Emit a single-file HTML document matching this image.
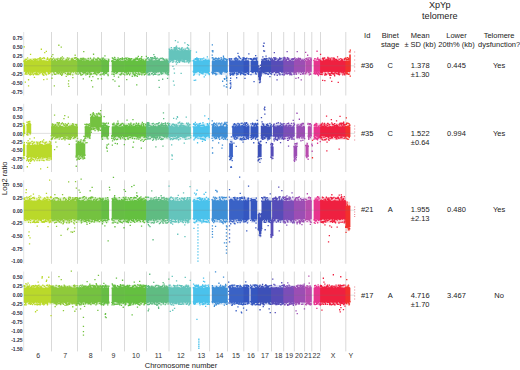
<!DOCTYPE html><html><head><meta charset="utf-8"><style>
html,body{margin:0;padding:0;background:#fff;}body{width:520px;height:370px;position:relative;overflow:hidden;font-family:"Liberation Sans",sans-serif;}
svg{position:absolute;left:0;top:0;}text{font-family:"Liberation Sans",sans-serif;}
</style></head><body>
<svg width="520" height="370" viewBox="0 0 520 370">
<path d="M51.5 32V95.5M77.5 32V95.5M101.5 32V95.5M124.5 32V95.5M146.5 32V95.5M169 32V95.5M190.8 32V95.5M209.6 32V95.5M227.5 32V95.5M243.8 32V95.5M258 32V95.5M271.5 32V95.5M283.7 32V95.5M294.3 32V95.5M304.6 32V95.5M311.8 32V95.5M320.5 32V95.5M345.8 32V95.5" stroke="#d9d9d9" stroke-width="1" fill="none"/>
<path d="M23.7 32V95.5" stroke="#e4e4e4" stroke-width="1" fill="none"/>
<path d="M24.2 58H51.5V74.8H24.2z" fill="#bad92a" fill-opacity="0.22"/>
<path d="M51.5 58H77.5V74.8H51.5z" fill="#8fca3a" fill-opacity="0.22"/>
<path d="M77.5 58H101.5V74.8H77.5z" fill="#74c240" fill-opacity="0.22"/>
<path d="M101.5 58H108.8V74.8H101.5zM112 58H124.5V74.8H112z" fill="#66be44" fill-opacity="0.22"/>
<path d="M124.5 58H146.5V74.8H124.5z" fill="#64c040" fill-opacity="0.22"/>
<path d="M146.5 58H169V74.8H146.5z" fill="#5fbc82" fill-opacity="0.22"/>
<path d="M169 47.6H190.6V62.4H169z" fill="#64c4bc" fill-opacity="0.22"/>
<path d="M193.4 58H209.4V74.8H193.4z" fill="#4ac2ec" fill-opacity="0.22"/>
<path d="M212.2 58H227.3V74.8H212.2z" fill="#3e8ed6" fill-opacity="0.22"/>
<path d="M229.4 58H243.8V74.8H229.4z" fill="#3a62c6" fill-opacity="0.22"/>
<path d="M243.8 58H249.2V74.8H243.8zM250.8 58H257.9V74.8H250.8z" fill="#3456c0" fill-opacity="0.22"/>
<path d="M258.5 65.4H259.4V79.6H258.5zM259.4 68.4H260.6V82.6H259.4zM260.6 65.3H261.4V78.7H260.6zM261.4 58H271.5V74.8H261.4z" fill="#3c50b8" fill-opacity="0.22"/>
<path d="M271.5 58H283.7V74.8H271.5z" fill="#564cb8" fill-opacity="0.22"/>
<path d="M283.7 58H294.3V74.8H283.7z" fill="#7c4eb8" fill-opacity="0.22"/>
<path d="M294.3 58H304.6V74.8H294.3z" fill="#9c4eb4" fill-opacity="0.22"/>
<path d="M305.6 58H311.4V74.8H305.6z" fill="#b84cae" fill-opacity="0.22"/>
<path d="M314 58H320.5V74.8H314z" fill="#e8348e" fill-opacity="0.22"/>
<path d="M320.5 58H345.8V74.8H320.5z" fill="#ef2040" fill-opacity="0.22"/>
<path d="M345.8 58H349.6V74.8H345.8zM349.6 50H350.4V76H349.6z" fill="#f2302c" fill-opacity="0.22"/>
<path d="M23.8 60.9H51.9V71.9H23.8z" fill="#bad92a"/>
<path d="M23.5 60.2h1.3v1.3h-1.3zM23.5 60.8h1.3v1.3h-1.3zM23.3 60.8h1.3v1.3h-1.3zM23.9 59.9h1.3v1.3h-1.3zM24.3 59.4h1.3v1.3h-1.3zM24.2 60.7h1.3v1.3h-1.3zM24.7 59.3h1.3v1.3h-1.3zM24.4 60h1.3v1.3h-1.3zM24.6 73.5h1.3v1.3h-1.3zM25.2 72h1.3v1.3h-1.3zM25.2 58.8h1.3v1.3h-1.3zM25 72.5h1.3v1.3h-1.3zM25.8 58.7h1.3v1.3h-1.3zM25.9 71.9h1.3v1.3h-1.3zM25.7 71.7h1.3v1.3h-1.3zM26.4 60.5h1.3v1.3h-1.3zM26.3 71h1.3v1.3h-1.3zM26.2 73.6h1.3v1.3h-1.3zM26.9 57.3h1.3v1.3h-1.3zM26.6 70.9h1.3v1.3h-1.3zM27.1 59.7h1.3v1.3h-1.3zM27.3 70.7h1.3v1.3h-1.3zM27.4 71.3h1.3v1.3h-1.3zM27.7 59.8h1.3v1.3h-1.3zM27.7 59.7h1.3v1.3h-1.3zM27.8 72.7h1.3v1.3h-1.3zM27.7 71.5h1.3v1.3h-1.3zM28.6 59.8h1.3v1.3h-1.3zM28.7 59.7h1.3v1.3h-1.3zM28.4 60.7h1.3v1.3h-1.3zM28.8 73.9h1.3v1.3h-1.3zM29.3 71.7h1.3v1.3h-1.3zM29.2 73.3h1.3v1.3h-1.3zM29.9 74.3h1.3v1.3h-1.3zM29.4 60.7h1.3v1.3h-1.3zM29.6 59h1.3v1.3h-1.3zM30 72.2h1.3v1.3h-1.3zM30.2 70.8h1.3v1.3h-1.3zM30.3 60.3h1.3v1.3h-1.3zM30.7 59.6h1.3v1.3h-1.3zM30.6 73.6h1.3v1.3h-1.3zM30.8 71.5h1.3v1.3h-1.3zM31.5 60.8h1.3v1.3h-1.3zM31.2 59.9h1.3v1.3h-1.3zM31.3 60.8h1.3v1.3h-1.3zM31.9 72h1.3v1.3h-1.3zM31.9 60.8h1.3v1.3h-1.3zM32.1 70.8h1.3v1.3h-1.3zM32.1 72.3h1.3v1.3h-1.3zM32.3 73.5h1.3v1.3h-1.3zM32.1 60.3h1.3v1.3h-1.3zM32.9 71.3h1.3v1.3h-1.3zM32.7 58.8h1.3v1.3h-1.3zM32.7 74.1h1.3v1.3h-1.3zM33.6 59.5h1.3v1.3h-1.3zM33.6 60.3h1.3v1.3h-1.3zM33.7 71.1h1.3v1.3h-1.3zM34 60.1h1.3v1.3h-1.3zM34.1 73.1h1.3v1.3h-1.3zM34.2 59.2h1.3v1.3h-1.3zM34.4 58.2h1.3v1.3h-1.3zM34.8 59.7h1.3v1.3h-1.3zM34.4 73.2h1.3v1.3h-1.3zM35.1 72.7h1.3v1.3h-1.3zM35.4 74h1.3v1.3h-1.3zM34.9 60.1h1.3v1.3h-1.3zM35.5 71.8h1.3v1.3h-1.3zM35.6 59.1h1.3v1.3h-1.3zM35.9 59h1.3v1.3h-1.3zM36.4 70.8h1.3v1.3h-1.3zM36.4 73h1.3v1.3h-1.3zM36 71.6h1.3v1.3h-1.3zM36.7 74h1.3v1.3h-1.3zM36.9 58.5h1.3v1.3h-1.3zM36.5 60.6h1.3v1.3h-1.3zM37.5 72.2h1.3v1.3h-1.3zM37.4 70.8h1.3v1.3h-1.3zM37 60.2h1.3v1.3h-1.3zM37.9 58.3h1.3v1.3h-1.3zM38.1 74h1.3v1.3h-1.3zM37.6 60.6h1.3v1.3h-1.3zM38.6 60.5h1.3v1.3h-1.3zM38.6 71.3h1.3v1.3h-1.3zM38.6 70.7h1.3v1.3h-1.3zM39.1 72.6h1.3v1.3h-1.3zM39 57.8h1.3v1.3h-1.3zM39.2 59.5h1.3v1.3h-1.3zM39.7 58.4h1.3v1.3h-1.3zM39.5 60.7h1.3v1.3h-1.3zM39.4 58.6h1.3v1.3h-1.3zM40.2 71.9h1.3v1.3h-1.3zM39.9 60.7h1.3v1.3h-1.3zM40.1 60.4h1.3v1.3h-1.3zM40.6 59.4h1.3v1.3h-1.3zM40.7 59.2h1.3v1.3h-1.3zM40.6 71.7h1.3v1.3h-1.3zM41.4 71h1.3v1.3h-1.3zM41.4 57.8h1.3v1.3h-1.3zM41.1 60.7h1.3v1.3h-1.3zM41.7 60.3h1.3v1.3h-1.3zM41.9 71h1.3v1.3h-1.3zM42 57.7h1.3v1.3h-1.3zM42 72.5h1.3v1.3h-1.3zM42.1 73.7h1.3v1.3h-1.3zM42.5 74.1h1.3v1.3h-1.3zM42.6 60.6h1.3v1.3h-1.3zM42.7 71.6h1.3v1.3h-1.3zM42.6 70.9h1.3v1.3h-1.3zM43.4 71.4h1.3v1.3h-1.3zM43.3 59.9h1.3v1.3h-1.3zM43.4 71.9h1.3v1.3h-1.3zM44.2 60.8h1.3v1.3h-1.3zM43.8 70.8h1.3v1.3h-1.3zM43.8 57.7h1.3v1.3h-1.3zM44.7 70.8h1.3v1.3h-1.3zM44.4 72.6h1.3v1.3h-1.3zM44.6 72h1.3v1.3h-1.3zM45.2 60.8h1.3v1.3h-1.3zM44.9 60.6h1.3v1.3h-1.3zM45.2 60.8h1.3v1.3h-1.3zM45.3 60.8h1.3v1.3h-1.3zM45.3 73.6h1.3v1.3h-1.3zM45.8 74.3h1.3v1.3h-1.3zM45.8 60.4h1.3v1.3h-1.3zM46.4 58.7h1.3v1.3h-1.3zM45.9 60.4h1.3v1.3h-1.3zM46.7 71.2h1.3v1.3h-1.3zM46.7 70.9h1.3v1.3h-1.3zM46.8 70.9h1.3v1.3h-1.3zM46.9 57.2h1.3v1.3h-1.3zM47.2 58.6h1.3v1.3h-1.3zM47 71h1.3v1.3h-1.3zM47.8 73.3h1.3v1.3h-1.3zM48 72.1h1.3v1.3h-1.3zM48 60.3h1.3v1.3h-1.3zM48.2 60.2h1.3v1.3h-1.3zM48.5 60.2h1.3v1.3h-1.3zM48.3 70.7h1.3v1.3h-1.3zM49.1 70.7h1.3v1.3h-1.3zM48.9 72.6h1.3v1.3h-1.3zM48.8 58.8h1.3v1.3h-1.3zM49.1 70.8h1.3v1.3h-1.3zM49.7 71.4h1.3v1.3h-1.3zM49.1 59.4h1.3v1.3h-1.3zM49.9 57.8h1.3v1.3h-1.3zM49.7 70.7h1.3v1.3h-1.3zM49.8 60.4h1.3v1.3h-1.3zM50.4 58.4h1.3v1.3h-1.3zM50.6 70.7h1.3v1.3h-1.3zM50.4 71.5h1.3v1.3h-1.3zM29.9 53.8h1.3v1.3h-1.3zM43.1 78.9h1.3v1.3h-1.3zM43.2 74.6h1.3v1.3h-1.3zM43.3 57h1.3v1.3h-1.3zM46.4 78.5h1.3v1.3h-1.3zM45.7 50.8h1.3v1.3h-1.3zM44.1 51.9h1.3v1.3h-1.3zM39.5 57h1.3v1.3h-1.3zM24.7 81.4h1.3v1.3h-1.3zM33.8 76.8h1.3v1.3h-1.3zM40.7 48.6h1.3v1.3h-1.3zM23.6 46.2h1.3v1.3h-1.3z" fill="#bad92a"/>
<path d="M51.1 60.9H77.8V71.9H51.1z" fill="#8fca3a"/>
<path d="M50.9 59.6h1.3v1.3h-1.3zM50.7 70.7h1.3v1.3h-1.3zM50.7 70.7h1.3v1.3h-1.3zM51.5 58.5h1.3v1.3h-1.3zM51.6 74.2h1.3v1.3h-1.3zM51.6 70.7h1.3v1.3h-1.3zM51.7 59.1h1.3v1.3h-1.3zM52 70.8h1.3v1.3h-1.3zM51.7 58.8h1.3v1.3h-1.3zM52.8 70.7h1.3v1.3h-1.3zM52.6 60.8h1.3v1.3h-1.3zM52.5 71.2h1.3v1.3h-1.3zM53.3 59.8h1.3v1.3h-1.3zM53.3 72.1h1.3v1.3h-1.3zM52.9 57.5h1.3v1.3h-1.3zM53.9 70.7h1.3v1.3h-1.3zM53.3 60h1.3v1.3h-1.3zM53.9 70.7h1.3v1.3h-1.3zM54.4 70.8h1.3v1.3h-1.3zM54.1 58.7h1.3v1.3h-1.3zM53.9 73.6h1.3v1.3h-1.3zM54.8 70.7h1.3v1.3h-1.3zM54.6 60h1.3v1.3h-1.3zM54.9 60.1h1.3v1.3h-1.3zM55.5 70.7h1.3v1.3h-1.3zM55.4 60.7h1.3v1.3h-1.3zM55.1 73.8h1.3v1.3h-1.3zM56.1 70.7h1.3v1.3h-1.3zM56.1 72.2h1.3v1.3h-1.3zM55.7 58.5h1.3v1.3h-1.3zM56.4 70.7h1.3v1.3h-1.3zM56.3 70.8h1.3v1.3h-1.3zM56.5 71.2h1.3v1.3h-1.3zM57.1 59.9h1.3v1.3h-1.3zM57 59.1h1.3v1.3h-1.3zM56.9 70.7h1.3v1.3h-1.3zM57.4 73h1.3v1.3h-1.3zM57.3 57.7h1.3v1.3h-1.3zM57.3 71.6h1.3v1.3h-1.3zM57.9 72.9h1.3v1.3h-1.3zM58 71h1.3v1.3h-1.3zM58.1 60h1.3v1.3h-1.3zM58.6 70.7h1.3v1.3h-1.3zM58.8 71.7h1.3v1.3h-1.3zM58.6 59.8h1.3v1.3h-1.3zM59 60.5h1.3v1.3h-1.3zM59 60.8h1.3v1.3h-1.3zM59.3 58.2h1.3v1.3h-1.3zM59.6 73h1.3v1.3h-1.3zM59.6 58.5h1.3v1.3h-1.3zM59.6 60.2h1.3v1.3h-1.3zM60 72.2h1.3v1.3h-1.3zM60 59.6h1.3v1.3h-1.3zM60.1 73.8h1.3v1.3h-1.3zM61 71.7h1.3v1.3h-1.3zM60.5 57.9h1.3v1.3h-1.3zM61 71.6h1.3v1.3h-1.3zM61.2 59.7h1.3v1.3h-1.3zM61.6 73.9h1.3v1.3h-1.3zM61.1 60.5h1.3v1.3h-1.3zM62.1 60.7h1.3v1.3h-1.3zM61.6 72.8h1.3v1.3h-1.3zM62 58.4h1.3v1.3h-1.3zM62.5 60.5h1.3v1.3h-1.3zM62.5 60.3h1.3v1.3h-1.3zM62.5 72h1.3v1.3h-1.3zM62.8 60.7h1.3v1.3h-1.3zM62.9 57.5h1.3v1.3h-1.3zM62.7 60.5h1.3v1.3h-1.3zM63.4 71.2h1.3v1.3h-1.3zM63.5 60.3h1.3v1.3h-1.3zM63.2 60.5h1.3v1.3h-1.3zM63.8 71.5h1.3v1.3h-1.3zM63.8 70.9h1.3v1.3h-1.3zM64.3 71h1.3v1.3h-1.3zM64.7 60.5h1.3v1.3h-1.3zM64.7 72.8h1.3v1.3h-1.3zM64.7 70.9h1.3v1.3h-1.3zM65.1 59.6h1.3v1.3h-1.3zM65 60.6h1.3v1.3h-1.3zM64.9 71h1.3v1.3h-1.3zM65.9 59.1h1.3v1.3h-1.3zM66 59.7h1.3v1.3h-1.3zM65.4 70.8h1.3v1.3h-1.3zM66.2 60.8h1.3v1.3h-1.3zM66.2 58.7h1.3v1.3h-1.3zM66.4 73.8h1.3v1.3h-1.3zM66.7 57.2h1.3v1.3h-1.3zM66.5 70.9h1.3v1.3h-1.3zM67 72.6h1.3v1.3h-1.3zM67.2 74.3h1.3v1.3h-1.3zM67.1 70.7h1.3v1.3h-1.3zM67.4 59.9h1.3v1.3h-1.3zM67.8 73h1.3v1.3h-1.3zM67.7 73.4h1.3v1.3h-1.3zM67.8 58.7h1.3v1.3h-1.3zM68.3 57.6h1.3v1.3h-1.3zM68.2 72.9h1.3v1.3h-1.3zM68.2 71.5h1.3v1.3h-1.3zM69.2 60.8h1.3v1.3h-1.3zM69.1 60.8h1.3v1.3h-1.3zM68.9 73.8h1.3v1.3h-1.3zM69.4 60.2h1.3v1.3h-1.3zM69.8 72.8h1.3v1.3h-1.3zM69.3 60.3h1.3v1.3h-1.3zM70.2 71h1.3v1.3h-1.3zM70.3 71.7h1.3v1.3h-1.3zM69.9 73.9h1.3v1.3h-1.3zM70.8 59.6h1.3v1.3h-1.3zM70.7 58.6h1.3v1.3h-1.3zM70.6 71.3h1.3v1.3h-1.3zM71.2 58.3h1.3v1.3h-1.3zM71 60h1.3v1.3h-1.3zM71.2 60.8h1.3v1.3h-1.3zM72 59.5h1.3v1.3h-1.3zM71.6 57.8h1.3v1.3h-1.3zM71.7 60.8h1.3v1.3h-1.3zM72.1 74.3h1.3v1.3h-1.3zM72.4 70.8h1.3v1.3h-1.3zM72.5 58.9h1.3v1.3h-1.3zM72.9 71.2h1.3v1.3h-1.3zM72.7 71.4h1.3v1.3h-1.3zM72.7 60.5h1.3v1.3h-1.3zM73.3 60.4h1.3v1.3h-1.3zM73.4 60h1.3v1.3h-1.3zM73.5 60.5h1.3v1.3h-1.3zM73.7 57.2h1.3v1.3h-1.3zM74.2 57.8h1.3v1.3h-1.3zM74.2 57.6h1.3v1.3h-1.3zM74.3 60.5h1.3v1.3h-1.3zM74.8 57.3h1.3v1.3h-1.3zM74.5 60.1h1.3v1.3h-1.3zM74.8 60.4h1.3v1.3h-1.3zM74.9 72.3h1.3v1.3h-1.3zM74.8 60.1h1.3v1.3h-1.3zM75.7 57.2h1.3v1.3h-1.3zM75.8 59h1.3v1.3h-1.3zM75.7 73.3h1.3v1.3h-1.3zM75.9 70.9h1.3v1.3h-1.3zM76.2 70.7h1.3v1.3h-1.3zM76.3 60.8h1.3v1.3h-1.3zM76.8 58.9h1.3v1.3h-1.3zM76.6 60.8h1.3v1.3h-1.3zM76.8 71.1h1.3v1.3h-1.3zM61.7 56.3h1.3v1.3h-1.3zM65.6 75.7h1.3v1.3h-1.3zM51.3 77.6h1.3v1.3h-1.3zM61 74.8h1.3v1.3h-1.3zM51 55.7h1.3v1.3h-1.3zM72.2 77h1.3v1.3h-1.3zM60.3 56.9h1.3v1.3h-1.3zM52.2 53.9h1.3v1.3h-1.3zM74.5 54.6h1.3v1.3h-1.3zM75 56.9h1.3v1.3h-1.3zM58.2 44.6h1.3v1.3h-1.3zM53.7 85.3h1.3v1.3h-1.3z" fill="#8fca3a"/>
<path d="M77.2 60.9H101.8V71.9H77.2z" fill="#74c240"/>
<path d="M76.7 58.3h1.3v1.3h-1.3zM77.1 58.1h1.3v1.3h-1.3zM76.9 59.7h1.3v1.3h-1.3zM77.6 59.1h1.3v1.3h-1.3zM77.5 59.1h1.3v1.3h-1.3zM77.5 73.5h1.3v1.3h-1.3zM77.8 70.9h1.3v1.3h-1.3zM78.2 71h1.3v1.3h-1.3zM77.7 70.8h1.3v1.3h-1.3zM78.2 60.5h1.3v1.3h-1.3zM78.6 59.4h1.3v1.3h-1.3zM78.6 71.3h1.3v1.3h-1.3zM79.1 72.1h1.3v1.3h-1.3zM79 60.3h1.3v1.3h-1.3zM79.1 72.5h1.3v1.3h-1.3zM79.7 60.6h1.3v1.3h-1.3zM79.6 59.7h1.3v1.3h-1.3zM79.8 72.4h1.3v1.3h-1.3zM79.9 73.3h1.3v1.3h-1.3zM80.1 70.8h1.3v1.3h-1.3zM79.9 58.2h1.3v1.3h-1.3zM80.9 70.8h1.3v1.3h-1.3zM80.9 59.6h1.3v1.3h-1.3zM80.4 57.8h1.3v1.3h-1.3zM81.1 60.8h1.3v1.3h-1.3zM81.1 74.2h1.3v1.3h-1.3zM81.4 58.2h1.3v1.3h-1.3zM81.5 58.7h1.3v1.3h-1.3zM81.6 71.3h1.3v1.3h-1.3zM82 73.8h1.3v1.3h-1.3zM82.4 71.7h1.3v1.3h-1.3zM82.4 57.6h1.3v1.3h-1.3zM82.2 59.1h1.3v1.3h-1.3zM82.8 60.8h1.3v1.3h-1.3zM83 72.4h1.3v1.3h-1.3zM83.1 57.7h1.3v1.3h-1.3zM83.5 60.4h1.3v1.3h-1.3zM83.5 71.4h1.3v1.3h-1.3zM83.3 59.3h1.3v1.3h-1.3zM84.1 72h1.3v1.3h-1.3zM84.3 71.4h1.3v1.3h-1.3zM83.9 72.2h1.3v1.3h-1.3zM84.4 60.8h1.3v1.3h-1.3zM84.4 58.5h1.3v1.3h-1.3zM84.6 71.9h1.3v1.3h-1.3zM85.2 74.3h1.3v1.3h-1.3zM84.9 58.5h1.3v1.3h-1.3zM85.1 72.4h1.3v1.3h-1.3zM85.4 60.1h1.3v1.3h-1.3zM85.4 60.5h1.3v1.3h-1.3zM85.5 70.7h1.3v1.3h-1.3zM86.1 59.5h1.3v1.3h-1.3zM86 60.3h1.3v1.3h-1.3zM86 72.4h1.3v1.3h-1.3zM86.9 60.8h1.3v1.3h-1.3zM86.8 59.8h1.3v1.3h-1.3zM86.7 73.6h1.3v1.3h-1.3zM87 60.4h1.3v1.3h-1.3zM87.4 73.3h1.3v1.3h-1.3zM87.1 72.2h1.3v1.3h-1.3zM87.6 57.7h1.3v1.3h-1.3zM87.7 60.8h1.3v1.3h-1.3zM87.6 60.8h1.3v1.3h-1.3zM88.2 59.4h1.3v1.3h-1.3zM88.6 70.9h1.3v1.3h-1.3zM88.1 70.9h1.3v1.3h-1.3zM89.1 72.4h1.3v1.3h-1.3zM89.1 70.7h1.3v1.3h-1.3zM88.8 71.7h1.3v1.3h-1.3zM89.3 74.3h1.3v1.3h-1.3zM89.7 70.7h1.3v1.3h-1.3zM89.6 73.9h1.3v1.3h-1.3zM90.2 71.1h1.3v1.3h-1.3zM89.9 73.9h1.3v1.3h-1.3zM89.8 57.6h1.3v1.3h-1.3zM90.5 59.6h1.3v1.3h-1.3zM90.9 60.5h1.3v1.3h-1.3zM90.4 73h1.3v1.3h-1.3zM91.1 60h1.3v1.3h-1.3zM91.1 73.5h1.3v1.3h-1.3zM91.4 59.5h1.3v1.3h-1.3zM91.7 59.9h1.3v1.3h-1.3zM91.6 60.3h1.3v1.3h-1.3zM91.5 59.3h1.3v1.3h-1.3zM92.3 60.8h1.3v1.3h-1.3zM92.4 60.6h1.3v1.3h-1.3zM92.4 60.8h1.3v1.3h-1.3zM92.9 59.1h1.3v1.3h-1.3zM92.6 70.7h1.3v1.3h-1.3zM93 57.4h1.3v1.3h-1.3zM93.1 73h1.3v1.3h-1.3zM93.1 60.6h1.3v1.3h-1.3zM93.5 57.4h1.3v1.3h-1.3zM93.9 72.4h1.3v1.3h-1.3zM93.8 60.7h1.3v1.3h-1.3zM93.6 71.3h1.3v1.3h-1.3zM94.2 71.1h1.3v1.3h-1.3zM94.6 73h1.3v1.3h-1.3zM94.7 72.3h1.3v1.3h-1.3zM95.2 59.1h1.3v1.3h-1.3zM94.9 60.8h1.3v1.3h-1.3zM95.1 58.7h1.3v1.3h-1.3zM95.4 73.4h1.3v1.3h-1.3zM95.4 60.8h1.3v1.3h-1.3zM95.3 58.5h1.3v1.3h-1.3zM96.2 71.8h1.3v1.3h-1.3zM96.2 73.4h1.3v1.3h-1.3zM96.1 74.1h1.3v1.3h-1.3zM96.9 60.7h1.3v1.3h-1.3zM96.4 60.5h1.3v1.3h-1.3zM96.6 59.1h1.3v1.3h-1.3zM97.3 57.2h1.3v1.3h-1.3zM97.5 71.4h1.3v1.3h-1.3zM97.2 57.8h1.3v1.3h-1.3zM97.6 72.5h1.3v1.3h-1.3zM97.7 60.4h1.3v1.3h-1.3zM98 57.8h1.3v1.3h-1.3zM98.2 60.7h1.3v1.3h-1.3zM98.5 60.2h1.3v1.3h-1.3zM98.1 71.7h1.3v1.3h-1.3zM98.9 71.6h1.3v1.3h-1.3zM98.9 70.8h1.3v1.3h-1.3zM98.7 58.8h1.3v1.3h-1.3zM99.5 58.5h1.3v1.3h-1.3zM99.5 74.2h1.3v1.3h-1.3zM99.3 60.2h1.3v1.3h-1.3zM99.7 60.6h1.3v1.3h-1.3zM99.9 59h1.3v1.3h-1.3zM100.1 74.3h1.3v1.3h-1.3zM100.3 59.9h1.3v1.3h-1.3zM100.3 73.8h1.3v1.3h-1.3zM100.2 60h1.3v1.3h-1.3zM97.4 78.1h1.3v1.3h-1.3zM88.9 76.1h1.3v1.3h-1.3zM80.3 74.5h1.3v1.3h-1.3zM82.7 78.2h1.3v1.3h-1.3zM90.9 79.9h1.3v1.3h-1.3zM92.9 53.6h1.3v1.3h-1.3zM92.2 75.9h1.3v1.3h-1.3zM83.1 51h1.3v1.3h-1.3zM82.7 78.3h1.3v1.3h-1.3zM92 86.2h1.3v1.3h-1.3z" fill="#74c240"/>
<path d="M101.2 60.9H109.1V71.9H101.2zM111.7 60.9H124.8V71.9H111.7z" fill="#66be44"/>
<path d="M100.9 59.7h1.3v1.3h-1.3zM101.1 60h1.3v1.3h-1.3zM100.8 60.2h1.3v1.3h-1.3zM101.1 59.7h1.3v1.3h-1.3zM101.5 59.5h1.3v1.3h-1.3zM101.4 57.4h1.3v1.3h-1.3zM102 70.7h1.3v1.3h-1.3zM102 58.7h1.3v1.3h-1.3zM101.9 73.4h1.3v1.3h-1.3zM102.8 57.5h1.3v1.3h-1.3zM102.6 60.6h1.3v1.3h-1.3zM102.4 59.2h1.3v1.3h-1.3zM102.8 60.1h1.3v1.3h-1.3zM103.1 71.6h1.3v1.3h-1.3zM102.8 72.6h1.3v1.3h-1.3zM103.9 71.2h1.3v1.3h-1.3zM103.9 59.5h1.3v1.3h-1.3zM103.4 74.1h1.3v1.3h-1.3zM104.3 60.7h1.3v1.3h-1.3zM104.2 72.4h1.3v1.3h-1.3zM104.1 58.7h1.3v1.3h-1.3zM104.7 72.5h1.3v1.3h-1.3zM104.9 60.3h1.3v1.3h-1.3zM104.6 59.7h1.3v1.3h-1.3zM105.5 71.4h1.3v1.3h-1.3zM105 72.6h1.3v1.3h-1.3zM105.2 72.8h1.3v1.3h-1.3zM105.8 72.5h1.3v1.3h-1.3zM105.9 59.9h1.3v1.3h-1.3zM106 71.4h1.3v1.3h-1.3zM106.5 70.7h1.3v1.3h-1.3zM106.4 70.8h1.3v1.3h-1.3zM106.2 60.8h1.3v1.3h-1.3zM106.8 70.7h1.3v1.3h-1.3zM107.1 60.8h1.3v1.3h-1.3zM106.8 70.9h1.3v1.3h-1.3zM107.6 70.8h1.3v1.3h-1.3zM107.6 60.6h1.3v1.3h-1.3zM107.3 73.7h1.3v1.3h-1.3zM108.1 58.8h1.3v1.3h-1.3zM108 59.9h1.3v1.3h-1.3zM108.2 60.4h1.3v1.3h-1.3zM104.3 55.3h1.3v1.3h-1.3zM107.5 74.9h1.3v1.3h-1.3zM111.1 60.6h1.3v1.3h-1.3zM111.4 71.2h1.3v1.3h-1.3zM111.3 73.5h1.3v1.3h-1.3zM111.7 57.2h1.3v1.3h-1.3zM111.6 60.1h1.3v1.3h-1.3zM112.1 70.7h1.3v1.3h-1.3zM112.4 70.7h1.3v1.3h-1.3zM112.3 57.7h1.3v1.3h-1.3zM112.4 59.9h1.3v1.3h-1.3zM112.9 73.6h1.3v1.3h-1.3zM112.9 58.4h1.3v1.3h-1.3zM113 71.3h1.3v1.3h-1.3zM113.5 73.4h1.3v1.3h-1.3zM113.6 71.8h1.3v1.3h-1.3zM113.8 71.1h1.3v1.3h-1.3zM114 59h1.3v1.3h-1.3zM113.9 71.2h1.3v1.3h-1.3zM114.3 57.3h1.3v1.3h-1.3zM114.7 70.7h1.3v1.3h-1.3zM114.4 70.7h1.3v1.3h-1.3zM114.7 70.7h1.3v1.3h-1.3zM115.3 72.5h1.3v1.3h-1.3zM115 59.1h1.3v1.3h-1.3zM115.3 72.6h1.3v1.3h-1.3zM116 60.6h1.3v1.3h-1.3zM116 59.9h1.3v1.3h-1.3zM116 72.5h1.3v1.3h-1.3zM116.3 70.8h1.3v1.3h-1.3zM116.1 71.1h1.3v1.3h-1.3zM116.3 60.8h1.3v1.3h-1.3zM116.8 59h1.3v1.3h-1.3zM117 59.5h1.3v1.3h-1.3zM116.8 71.6h1.3v1.3h-1.3zM117.5 70.7h1.3v1.3h-1.3zM117.4 57.2h1.3v1.3h-1.3zM117.1 60h1.3v1.3h-1.3zM118 59.7h1.3v1.3h-1.3zM118.1 59.9h1.3v1.3h-1.3zM117.8 60.7h1.3v1.3h-1.3zM118.2 70.8h1.3v1.3h-1.3zM118.5 58.7h1.3v1.3h-1.3zM118.4 58.5h1.3v1.3h-1.3zM119.2 58.5h1.3v1.3h-1.3zM119 70.7h1.3v1.3h-1.3zM119.3 74h1.3v1.3h-1.3zM119.3 60.8h1.3v1.3h-1.3zM119.5 60.8h1.3v1.3h-1.3zM119.9 60.3h1.3v1.3h-1.3zM120 58.1h1.3v1.3h-1.3zM120.1 74.1h1.3v1.3h-1.3zM120.1 60.6h1.3v1.3h-1.3zM120.7 72.5h1.3v1.3h-1.3zM121 73.1h1.3v1.3h-1.3zM120.6 73.2h1.3v1.3h-1.3zM121.5 70.7h1.3v1.3h-1.3zM121.4 58.6h1.3v1.3h-1.3zM121.3 72.3h1.3v1.3h-1.3zM121.7 57.3h1.3v1.3h-1.3zM122 58.8h1.3v1.3h-1.3zM121.7 60.4h1.3v1.3h-1.3zM122.4 60.4h1.3v1.3h-1.3zM122.2 58.2h1.3v1.3h-1.3zM122.2 60.7h1.3v1.3h-1.3zM122.8 73.5h1.3v1.3h-1.3zM123.1 70.7h1.3v1.3h-1.3zM122.8 60.6h1.3v1.3h-1.3zM123.4 70.7h1.3v1.3h-1.3zM123.5 70.9h1.3v1.3h-1.3zM123.4 70.7h1.3v1.3h-1.3zM112.4 79h1.3v1.3h-1.3zM114.3 80.4h1.3v1.3h-1.3zM117.9 76.4h1.3v1.3h-1.3zM113.9 56.8h1.3v1.3h-1.3zM113.6 75.4h1.3v1.3h-1.3zM118.4 85.6h1.3v1.3h-1.3z" fill="#66be44"/>
<path d="M124.2 60.9H146.8V71.9H124.2z" fill="#64c040"/>
<path d="M123.6 58h1.3v1.3h-1.3zM124.1 74.3h1.3v1.3h-1.3zM124 71.4h1.3v1.3h-1.3zM124.3 60.7h1.3v1.3h-1.3zM124.2 59.6h1.3v1.3h-1.3zM124.5 70.9h1.3v1.3h-1.3zM124.9 71h1.3v1.3h-1.3zM124.8 57.5h1.3v1.3h-1.3zM125.2 60.8h1.3v1.3h-1.3zM125.2 60.1h1.3v1.3h-1.3zM125.5 72.1h1.3v1.3h-1.3zM125.7 58h1.3v1.3h-1.3zM126.2 59h1.3v1.3h-1.3zM126.1 70.7h1.3v1.3h-1.3zM125.9 72.5h1.3v1.3h-1.3zM126.9 73.5h1.3v1.3h-1.3zM126.4 57.2h1.3v1.3h-1.3zM126.3 74h1.3v1.3h-1.3zM127.4 59.4h1.3v1.3h-1.3zM126.9 70.7h1.3v1.3h-1.3zM127.4 60.7h1.3v1.3h-1.3zM127.8 72.6h1.3v1.3h-1.3zM127.7 59.9h1.3v1.3h-1.3zM127.5 71.4h1.3v1.3h-1.3zM128.2 59.7h1.3v1.3h-1.3zM128.2 58.2h1.3v1.3h-1.3zM128 57.7h1.3v1.3h-1.3zM129.1 58.1h1.3v1.3h-1.3zM129 57.9h1.3v1.3h-1.3zM129 74.1h1.3v1.3h-1.3zM129.6 72.4h1.3v1.3h-1.3zM129.3 60.2h1.3v1.3h-1.3zM129.2 59.1h1.3v1.3h-1.3zM130 58.6h1.3v1.3h-1.3zM129.9 59.4h1.3v1.3h-1.3zM129.8 70.8h1.3v1.3h-1.3zM130.5 70.8h1.3v1.3h-1.3zM130.3 60.3h1.3v1.3h-1.3zM130.7 70.8h1.3v1.3h-1.3zM131.1 60.7h1.3v1.3h-1.3zM131 58.3h1.3v1.3h-1.3zM130.9 58.1h1.3v1.3h-1.3zM131.5 70.9h1.3v1.3h-1.3zM131.8 60.4h1.3v1.3h-1.3zM131.5 70.7h1.3v1.3h-1.3zM131.9 70.9h1.3v1.3h-1.3zM132.3 72.5h1.3v1.3h-1.3zM132.1 60.2h1.3v1.3h-1.3zM132.5 73.2h1.3v1.3h-1.3zM132.5 71.6h1.3v1.3h-1.3zM132.9 59.3h1.3v1.3h-1.3zM133.3 59.5h1.3v1.3h-1.3zM133.4 60.6h1.3v1.3h-1.3zM133.4 73.7h1.3v1.3h-1.3zM133.8 60.6h1.3v1.3h-1.3zM133.8 58.7h1.3v1.3h-1.3zM133.9 60.6h1.3v1.3h-1.3zM134.3 59.6h1.3v1.3h-1.3zM134.5 71.3h1.3v1.3h-1.3zM134.1 73.6h1.3v1.3h-1.3zM134.6 71.5h1.3v1.3h-1.3zM134.7 58.9h1.3v1.3h-1.3zM134.6 73.4h1.3v1.3h-1.3zM135.3 58.7h1.3v1.3h-1.3zM135.2 57.5h1.3v1.3h-1.3zM135.6 72.8h1.3v1.3h-1.3zM135.8 57.9h1.3v1.3h-1.3zM135.9 70.8h1.3v1.3h-1.3zM135.7 60.8h1.3v1.3h-1.3zM136.6 57.3h1.3v1.3h-1.3zM136.4 70.9h1.3v1.3h-1.3zM136.2 58.2h1.3v1.3h-1.3zM136.9 57.6h1.3v1.3h-1.3zM137.1 73.4h1.3v1.3h-1.3zM137 58.7h1.3v1.3h-1.3zM137.3 60.8h1.3v1.3h-1.3zM137.7 70.8h1.3v1.3h-1.3zM137.4 58.5h1.3v1.3h-1.3zM138.2 60h1.3v1.3h-1.3zM137.9 60.5h1.3v1.3h-1.3zM137.9 72.2h1.3v1.3h-1.3zM138.8 73.4h1.3v1.3h-1.3zM138.6 59.2h1.3v1.3h-1.3zM138.6 74h1.3v1.3h-1.3zM139.4 71h1.3v1.3h-1.3zM139.4 73.5h1.3v1.3h-1.3zM139.1 58h1.3v1.3h-1.3zM139.6 70.8h1.3v1.3h-1.3zM139.7 59.9h1.3v1.3h-1.3zM139.7 59.5h1.3v1.3h-1.3zM140.2 60.6h1.3v1.3h-1.3zM140.5 71.6h1.3v1.3h-1.3zM140.5 57.5h1.3v1.3h-1.3zM140.6 57.8h1.3v1.3h-1.3zM141.2 72.5h1.3v1.3h-1.3zM141 59.1h1.3v1.3h-1.3zM141.4 60.4h1.3v1.3h-1.3zM141.2 74.1h1.3v1.3h-1.3zM141.2 60.2h1.3v1.3h-1.3zM141.8 72.3h1.3v1.3h-1.3zM142 59.3h1.3v1.3h-1.3zM142.2 71.9h1.3v1.3h-1.3zM142.4 72.2h1.3v1.3h-1.3zM142.8 70.7h1.3v1.3h-1.3zM142.6 59.2h1.3v1.3h-1.3zM143.1 70.9h1.3v1.3h-1.3zM143.1 72.1h1.3v1.3h-1.3zM143 60.3h1.3v1.3h-1.3zM143.9 70.9h1.3v1.3h-1.3zM143.4 71.5h1.3v1.3h-1.3zM143.7 74.1h1.3v1.3h-1.3zM144.4 71.8h1.3v1.3h-1.3zM144.4 60.5h1.3v1.3h-1.3zM144.3 60.7h1.3v1.3h-1.3zM144.8 60.2h1.3v1.3h-1.3zM144.9 73.4h1.3v1.3h-1.3zM145 60.7h1.3v1.3h-1.3zM145.3 58.9h1.3v1.3h-1.3zM145.4 58.9h1.3v1.3h-1.3zM145.5 72.4h1.3v1.3h-1.3zM135.2 75h1.3v1.3h-1.3zM137.7 55.8h1.3v1.3h-1.3zM126.1 78.9h1.3v1.3h-1.3zM136.7 75.6h1.3v1.3h-1.3zM145.7 55.7h1.3v1.3h-1.3zM141.1 56h1.3v1.3h-1.3zM133.8 75.1h1.3v1.3h-1.3zM131.6 75.6h1.3v1.3h-1.3zM136.1 84.3h1.3v1.3h-1.3z" fill="#64c040"/>
<path d="M146.2 60.9H169.3V71.9H146.2z" fill="#5fbc82"/>
<path d="M145.8 70.7h1.3v1.3h-1.3zM146 71.2h1.3v1.3h-1.3zM145.9 71.6h1.3v1.3h-1.3zM146.3 70.7h1.3v1.3h-1.3zM146.7 58h1.3v1.3h-1.3zM146.6 70.9h1.3v1.3h-1.3zM146.7 57.4h1.3v1.3h-1.3zM146.8 72.1h1.3v1.3h-1.3zM147 72h1.3v1.3h-1.3zM147.4 74.3h1.3v1.3h-1.3zM147.5 71.4h1.3v1.3h-1.3zM147.5 60.8h1.3v1.3h-1.3zM148.1 70.7h1.3v1.3h-1.3zM148.3 59h1.3v1.3h-1.3zM148 74.1h1.3v1.3h-1.3zM148.7 73.1h1.3v1.3h-1.3zM148.4 58.5h1.3v1.3h-1.3zM148.8 60.3h1.3v1.3h-1.3zM149.2 59.6h1.3v1.3h-1.3zM149.3 71.2h1.3v1.3h-1.3zM149.2 74.3h1.3v1.3h-1.3zM149.7 59.5h1.3v1.3h-1.3zM149.4 60.6h1.3v1.3h-1.3zM149.6 59.4h1.3v1.3h-1.3zM150.4 57.2h1.3v1.3h-1.3zM150.1 60.8h1.3v1.3h-1.3zM150.5 58.8h1.3v1.3h-1.3zM150.9 60h1.3v1.3h-1.3zM150.6 58.9h1.3v1.3h-1.3zM151 73.1h1.3v1.3h-1.3zM151.4 57.7h1.3v1.3h-1.3zM151.1 60h1.3v1.3h-1.3zM151.1 59.6h1.3v1.3h-1.3zM152.1 70.7h1.3v1.3h-1.3zM152 59.2h1.3v1.3h-1.3zM151.7 72.7h1.3v1.3h-1.3zM152.3 71h1.3v1.3h-1.3zM152.7 60.4h1.3v1.3h-1.3zM152.4 57.5h1.3v1.3h-1.3zM152.7 71.7h1.3v1.3h-1.3zM153 71h1.3v1.3h-1.3zM152.7 74.1h1.3v1.3h-1.3zM153.3 60.5h1.3v1.3h-1.3zM153.4 57.6h1.3v1.3h-1.3zM153.4 73.8h1.3v1.3h-1.3zM154.4 72.3h1.3v1.3h-1.3zM154.2 70.7h1.3v1.3h-1.3zM154 72.2h1.3v1.3h-1.3zM154.4 73.6h1.3v1.3h-1.3zM154.5 57.9h1.3v1.3h-1.3zM154.4 60.1h1.3v1.3h-1.3zM155.2 73.7h1.3v1.3h-1.3zM155.1 70.8h1.3v1.3h-1.3zM155.2 59h1.3v1.3h-1.3zM155.7 57.7h1.3v1.3h-1.3zM155.6 71.7h1.3v1.3h-1.3zM155.7 60.8h1.3v1.3h-1.3zM156.1 60.7h1.3v1.3h-1.3zM156.3 60.4h1.3v1.3h-1.3zM156.1 59.8h1.3v1.3h-1.3zM156.8 71.3h1.3v1.3h-1.3zM156.7 57.4h1.3v1.3h-1.3zM156.7 59.7h1.3v1.3h-1.3zM157.7 59.8h1.3v1.3h-1.3zM157.5 74.3h1.3v1.3h-1.3zM157.3 60.1h1.3v1.3h-1.3zM158.2 59.6h1.3v1.3h-1.3zM158 60.7h1.3v1.3h-1.3zM157.7 71.1h1.3v1.3h-1.3zM158.4 58.7h1.3v1.3h-1.3zM158.6 60h1.3v1.3h-1.3zM158.4 58.4h1.3v1.3h-1.3zM158.8 58.9h1.3v1.3h-1.3zM158.9 73.9h1.3v1.3h-1.3zM158.9 58.7h1.3v1.3h-1.3zM159.5 70.8h1.3v1.3h-1.3zM159.8 71.5h1.3v1.3h-1.3zM159.9 57.8h1.3v1.3h-1.3zM160.3 70.9h1.3v1.3h-1.3zM160.4 72.6h1.3v1.3h-1.3zM160 70.7h1.3v1.3h-1.3zM160.9 73.5h1.3v1.3h-1.3zM160.5 70.7h1.3v1.3h-1.3zM160.8 57.7h1.3v1.3h-1.3zM161.3 60.8h1.3v1.3h-1.3zM161 71.6h1.3v1.3h-1.3zM161.3 72.9h1.3v1.3h-1.3zM161.8 57.5h1.3v1.3h-1.3zM162.1 72.8h1.3v1.3h-1.3zM162.1 72.6h1.3v1.3h-1.3zM162.6 70.8h1.3v1.3h-1.3zM162.6 57.9h1.3v1.3h-1.3zM162.5 58.8h1.3v1.3h-1.3zM163 71h1.3v1.3h-1.3zM163.2 70.7h1.3v1.3h-1.3zM162.8 59.1h1.3v1.3h-1.3zM163.4 70.7h1.3v1.3h-1.3zM163.5 71.3h1.3v1.3h-1.3zM163.4 58.9h1.3v1.3h-1.3zM164 59.6h1.3v1.3h-1.3zM163.8 70.9h1.3v1.3h-1.3zM164 60.6h1.3v1.3h-1.3zM164.4 60.4h1.3v1.3h-1.3zM164.4 60.2h1.3v1.3h-1.3zM164.7 60.3h1.3v1.3h-1.3zM164.9 71.8h1.3v1.3h-1.3zM164.9 71h1.3v1.3h-1.3zM164.9 72.5h1.3v1.3h-1.3zM165.6 58.7h1.3v1.3h-1.3zM165.8 73.3h1.3v1.3h-1.3zM165.7 60.6h1.3v1.3h-1.3zM166.4 71.7h1.3v1.3h-1.3zM165.9 70.8h1.3v1.3h-1.3zM165.9 59.7h1.3v1.3h-1.3zM166.5 60.4h1.3v1.3h-1.3zM166.5 60.3h1.3v1.3h-1.3zM166.6 71.7h1.3v1.3h-1.3zM167 59.4h1.3v1.3h-1.3zM167.1 74.3h1.3v1.3h-1.3zM167.1 72.8h1.3v1.3h-1.3zM167.8 71.8h1.3v1.3h-1.3zM167.6 73.2h1.3v1.3h-1.3zM167.9 73.9h1.3v1.3h-1.3zM166.9 77.7h1.3v1.3h-1.3zM147.6 57h1.3v1.3h-1.3zM154.7 56.4h1.3v1.3h-1.3zM150 57h1.3v1.3h-1.3zM162 78.6h1.3v1.3h-1.3zM153.2 53.9h1.3v1.3h-1.3zM153.9 56h1.3v1.3h-1.3zM158.3 79.8h1.3v1.3h-1.3zM151.6 57h1.3v1.3h-1.3zM158.6 86.7h1.3v1.3h-1.3z" fill="#5fbc82"/>
<path d="M168.7 50.2H190.9V59.8H168.7z" fill="#64c4bc"/>
<path d="M168.3 61.7h1.3v1.3h-1.3zM168.4 60.6h1.3v1.3h-1.3zM168.5 48.5h1.3v1.3h-1.3zM169 58.8h1.3v1.3h-1.3zM169.1 49.3h1.3v1.3h-1.3zM169 49.1h1.3v1.3h-1.3zM169.2 58.6h1.3v1.3h-1.3zM169.5 50.1h1.3v1.3h-1.3zM169.2 59.4h1.3v1.3h-1.3zM170.2 50.1h1.3v1.3h-1.3zM169.7 58.8h1.3v1.3h-1.3zM170 61h1.3v1.3h-1.3zM170.6 59.6h1.3v1.3h-1.3zM170.8 49.2h1.3v1.3h-1.3zM170.7 47h1.3v1.3h-1.3zM171.2 58.6h1.3v1.3h-1.3zM171.4 59.1h1.3v1.3h-1.3zM171 49.1h1.3v1.3h-1.3zM171.9 49.5h1.3v1.3h-1.3zM171.8 58.9h1.3v1.3h-1.3zM171.7 58.7h1.3v1.3h-1.3zM172.2 61.6h1.3v1.3h-1.3zM172.1 59.9h1.3v1.3h-1.3zM172.2 49.8h1.3v1.3h-1.3zM172.8 58.7h1.3v1.3h-1.3zM172.9 58.8h1.3v1.3h-1.3zM172.6 58.9h1.3v1.3h-1.3zM173.4 48.7h1.3v1.3h-1.3zM173.5 47.2h1.3v1.3h-1.3zM173.1 60.4h1.3v1.3h-1.3zM173.9 49h1.3v1.3h-1.3zM173.8 47h1.3v1.3h-1.3zM174.1 48.3h1.3v1.3h-1.3zM174.6 58.8h1.3v1.3h-1.3zM174.3 50h1.3v1.3h-1.3zM174.1 50.1h1.3v1.3h-1.3zM174.9 48.7h1.3v1.3h-1.3zM174.9 50h1.3v1.3h-1.3zM175 47.3h1.3v1.3h-1.3zM175.3 61.5h1.3v1.3h-1.3zM175.7 60.7h1.3v1.3h-1.3zM175.7 48.1h1.3v1.3h-1.3zM176.1 58.7h1.3v1.3h-1.3zM176.2 59.8h1.3v1.3h-1.3zM175.8 58.6h1.3v1.3h-1.3zM176.3 48.8h1.3v1.3h-1.3zM176.5 47.2h1.3v1.3h-1.3zM176.3 58.8h1.3v1.3h-1.3zM176.9 61.9h1.3v1.3h-1.3zM176.9 50.1h1.3v1.3h-1.3zM177.2 49.7h1.3v1.3h-1.3zM177.9 59.1h1.3v1.3h-1.3zM177.7 60h1.3v1.3h-1.3zM178 60.4h1.3v1.3h-1.3zM178.5 58.6h1.3v1.3h-1.3zM178.5 59.7h1.3v1.3h-1.3zM178 47.8h1.3v1.3h-1.3zM179 60.2h1.3v1.3h-1.3zM178.7 61.8h1.3v1.3h-1.3zM178.7 47.4h1.3v1.3h-1.3zM179.6 59.8h1.3v1.3h-1.3zM179.2 48.7h1.3v1.3h-1.3zM179.2 61h1.3v1.3h-1.3zM179.8 59.6h1.3v1.3h-1.3zM179.8 59.2h1.3v1.3h-1.3zM180.1 58.6h1.3v1.3h-1.3zM180.6 48.6h1.3v1.3h-1.3zM180.3 58.7h1.3v1.3h-1.3zM180.4 59.7h1.3v1.3h-1.3zM181.3 48.7h1.3v1.3h-1.3zM181.2 50.1h1.3v1.3h-1.3zM180.9 47.9h1.3v1.3h-1.3zM181.8 49.7h1.3v1.3h-1.3zM181.4 47.1h1.3v1.3h-1.3zM181.6 60.8h1.3v1.3h-1.3zM182.3 60.2h1.3v1.3h-1.3zM181.8 60.6h1.3v1.3h-1.3zM182.3 59.2h1.3v1.3h-1.3zM182.9 60.9h1.3v1.3h-1.3zM182.4 61h1.3v1.3h-1.3zM182.6 58.9h1.3v1.3h-1.3zM183.5 59.4h1.3v1.3h-1.3zM183.1 48.7h1.3v1.3h-1.3zM182.9 59.1h1.3v1.3h-1.3zM183.8 49.9h1.3v1.3h-1.3zM184 59.1h1.3v1.3h-1.3zM183.9 59.2h1.3v1.3h-1.3zM184.2 61.5h1.3v1.3h-1.3zM184.3 58.8h1.3v1.3h-1.3zM184.1 60.7h1.3v1.3h-1.3zM184.8 50.1h1.3v1.3h-1.3zM185.1 58.8h1.3v1.3h-1.3zM184.7 48.4h1.3v1.3h-1.3zM185.5 50.1h1.3v1.3h-1.3zM185.5 58.6h1.3v1.3h-1.3zM185.4 58.6h1.3v1.3h-1.3zM186.2 61.3h1.3v1.3h-1.3zM186.2 58.9h1.3v1.3h-1.3zM185.9 58.6h1.3v1.3h-1.3zM186.3 60.4h1.3v1.3h-1.3zM186.3 47.5h1.3v1.3h-1.3zM186.8 60.1h1.3v1.3h-1.3zM187.3 59.4h1.3v1.3h-1.3zM187.1 58.6h1.3v1.3h-1.3zM187 46.8h1.3v1.3h-1.3zM187.4 60.5h1.3v1.3h-1.3zM187.4 50.1h1.3v1.3h-1.3zM187.5 47.9h1.3v1.3h-1.3zM188.2 59.2h1.3v1.3h-1.3zM188.2 48.7h1.3v1.3h-1.3zM188 60.1h1.3v1.3h-1.3zM188.9 60.1h1.3v1.3h-1.3zM188.8 60.8h1.3v1.3h-1.3zM188.7 59.9h1.3v1.3h-1.3zM189 59.2h1.3v1.3h-1.3zM189 58.6h1.3v1.3h-1.3zM189 61h1.3v1.3h-1.3zM190 60.2h1.3v1.3h-1.3zM189.9 50h1.3v1.3h-1.3zM189.8 50h1.3v1.3h-1.3zM172.3 65.7h1.3v1.3h-1.3zM187.9 44.8h1.3v1.3h-1.3zM175.9 45.4h1.3v1.3h-1.3zM186.9 44h1.3v1.3h-1.3zM175.8 63.5h1.3v1.3h-1.3zM175.3 46.6h1.3v1.3h-1.3zM184.2 42.3h1.3v1.3h-1.3zM188.1 62.1h1.3v1.3h-1.3zM180.5 72.8h1.3v1.3h-1.3z" fill="#64c4bc"/>
<path d="M193.1 60.9H209.8V71.9H193.1z" fill="#4ac2ec"/>
<path d="M192.5 60.1h1.3v1.3h-1.3zM192.6 70.7h1.3v1.3h-1.3zM192.9 71.4h1.3v1.3h-1.3zM193.5 72.5h1.3v1.3h-1.3zM193.3 59.6h1.3v1.3h-1.3zM193.6 74h1.3v1.3h-1.3zM193.7 70.8h1.3v1.3h-1.3zM194.1 71.3h1.3v1.3h-1.3zM194 71.1h1.3v1.3h-1.3zM194.2 72.3h1.3v1.3h-1.3zM194.6 60.8h1.3v1.3h-1.3zM194.6 58.6h1.3v1.3h-1.3zM194.9 57.9h1.3v1.3h-1.3zM195.1 70.8h1.3v1.3h-1.3zM195.2 58.2h1.3v1.3h-1.3zM195.3 70.7h1.3v1.3h-1.3zM195.7 58.6h1.3v1.3h-1.3zM195.3 71.7h1.3v1.3h-1.3zM196.3 71.3h1.3v1.3h-1.3zM196.1 57.3h1.3v1.3h-1.3zM195.8 60.6h1.3v1.3h-1.3zM196.6 59.6h1.3v1.3h-1.3zM196.3 58.8h1.3v1.3h-1.3zM196.8 57.8h1.3v1.3h-1.3zM197.4 70.8h1.3v1.3h-1.3zM197 59.5h1.3v1.3h-1.3zM197.2 58.8h1.3v1.3h-1.3zM197.7 59.4h1.3v1.3h-1.3zM197.6 58.1h1.3v1.3h-1.3zM197.8 60.5h1.3v1.3h-1.3zM198 60.4h1.3v1.3h-1.3zM198.1 60.4h1.3v1.3h-1.3zM198.1 70.7h1.3v1.3h-1.3zM198.9 60.2h1.3v1.3h-1.3zM198.9 72h1.3v1.3h-1.3zM198.7 74.2h1.3v1.3h-1.3zM199.3 71.2h1.3v1.3h-1.3zM199.6 70.8h1.3v1.3h-1.3zM199.2 58.2h1.3v1.3h-1.3zM200 71.9h1.3v1.3h-1.3zM200.1 58.6h1.3v1.3h-1.3zM200.1 58.9h1.3v1.3h-1.3zM200.4 58.3h1.3v1.3h-1.3zM200.5 72.1h1.3v1.3h-1.3zM200.4 60.3h1.3v1.3h-1.3zM201 72.5h1.3v1.3h-1.3zM200.8 72.3h1.3v1.3h-1.3zM200.9 72.4h1.3v1.3h-1.3zM201.6 70.7h1.3v1.3h-1.3zM201.3 72.6h1.3v1.3h-1.3zM201.8 58.3h1.3v1.3h-1.3zM202.3 73.1h1.3v1.3h-1.3zM202.1 71.8h1.3v1.3h-1.3zM202.4 59.7h1.3v1.3h-1.3zM202.7 70.7h1.3v1.3h-1.3zM202.5 72h1.3v1.3h-1.3zM202.5 70.9h1.3v1.3h-1.3zM203.1 57.5h1.3v1.3h-1.3zM203 71.4h1.3v1.3h-1.3zM203.1 70.8h1.3v1.3h-1.3zM203.7 71.4h1.3v1.3h-1.3zM203.6 70.7h1.3v1.3h-1.3zM203.7 59.8h1.3v1.3h-1.3zM204.5 59.7h1.3v1.3h-1.3zM204.2 60.7h1.3v1.3h-1.3zM204.4 59.5h1.3v1.3h-1.3zM204.7 72h1.3v1.3h-1.3zM204.9 59.4h1.3v1.3h-1.3zM204.7 60.8h1.3v1.3h-1.3zM205.3 72h1.3v1.3h-1.3zM205.2 71.1h1.3v1.3h-1.3zM205.2 59.1h1.3v1.3h-1.3zM206 71.6h1.3v1.3h-1.3zM206.1 60.1h1.3v1.3h-1.3zM206.1 60.1h1.3v1.3h-1.3zM206.5 71.2h1.3v1.3h-1.3zM206.4 72.3h1.3v1.3h-1.3zM206.8 60h1.3v1.3h-1.3zM206.8 70.9h1.3v1.3h-1.3zM206.8 60.6h1.3v1.3h-1.3zM207.1 71.7h1.3v1.3h-1.3zM207.4 59.6h1.3v1.3h-1.3zM207.7 72.1h1.3v1.3h-1.3zM207.4 71.6h1.3v1.3h-1.3zM208.1 70.7h1.3v1.3h-1.3zM208.3 59.6h1.3v1.3h-1.3zM208.2 72.9h1.3v1.3h-1.3zM208.7 73.9h1.3v1.3h-1.3zM208.5 73.1h1.3v1.3h-1.3zM208.7 60.5h1.3v1.3h-1.3zM193 74.5h1.3v1.3h-1.3zM204.8 74.5h1.3v1.3h-1.3zM203.6 76.2h1.3v1.3h-1.3zM193.6 79.8h1.3v1.3h-1.3zM195 79.5h1.3v1.3h-1.3zM206.7 56.3h1.3v1.3h-1.3zM195.8 51.4h1.3v1.3h-1.3z" fill="#4ac2ec"/>
<path d="M211.8 60.9H227.7V71.9H211.8z" fill="#3e8ed6"/>
<path d="M211.3 72h1.3v1.3h-1.3zM211.6 71.4h1.3v1.3h-1.3zM211.7 71.9h1.3v1.3h-1.3zM212.3 60.3h1.3v1.3h-1.3zM212 73.2h1.3v1.3h-1.3zM212.1 60.7h1.3v1.3h-1.3zM212.7 71.4h1.3v1.3h-1.3zM212.6 58.7h1.3v1.3h-1.3zM212.6 58.3h1.3v1.3h-1.3zM213.3 58.7h1.3v1.3h-1.3zM213.1 60.8h1.3v1.3h-1.3zM212.9 72.1h1.3v1.3h-1.3zM213.6 71h1.3v1.3h-1.3zM213.7 72.8h1.3v1.3h-1.3zM214 58.6h1.3v1.3h-1.3zM214.5 70.7h1.3v1.3h-1.3zM214.5 60.7h1.3v1.3h-1.3zM214.1 70.7h1.3v1.3h-1.3zM214.8 57.6h1.3v1.3h-1.3zM215 72.6h1.3v1.3h-1.3zM214.6 59.5h1.3v1.3h-1.3zM215.4 57.6h1.3v1.3h-1.3zM215.6 59.8h1.3v1.3h-1.3zM215.2 74.1h1.3v1.3h-1.3zM216.1 73.4h1.3v1.3h-1.3zM216.2 60.7h1.3v1.3h-1.3zM216.2 60.7h1.3v1.3h-1.3zM216.7 60.3h1.3v1.3h-1.3zM216.4 58.3h1.3v1.3h-1.3zM216.3 60.4h1.3v1.3h-1.3zM217 58.3h1.3v1.3h-1.3zM216.8 70.7h1.3v1.3h-1.3zM216.9 60.3h1.3v1.3h-1.3zM217.6 60.7h1.3v1.3h-1.3zM217.3 58.9h1.3v1.3h-1.3zM217.9 60.2h1.3v1.3h-1.3zM218 57.5h1.3v1.3h-1.3zM218.4 71.3h1.3v1.3h-1.3zM218.1 57.7h1.3v1.3h-1.3zM218.5 57.9h1.3v1.3h-1.3zM218.7 59.7h1.3v1.3h-1.3zM219 60.3h1.3v1.3h-1.3zM219.3 60.2h1.3v1.3h-1.3zM219.2 70.7h1.3v1.3h-1.3zM219.4 71.8h1.3v1.3h-1.3zM220 70.9h1.3v1.3h-1.3zM219.6 72.9h1.3v1.3h-1.3zM219.9 59.4h1.3v1.3h-1.3zM220.1 59.8h1.3v1.3h-1.3zM220.4 72.2h1.3v1.3h-1.3zM220.1 70.8h1.3v1.3h-1.3zM220.8 58.6h1.3v1.3h-1.3zM220.8 58.9h1.3v1.3h-1.3zM220.8 73.5h1.3v1.3h-1.3zM221.7 60.4h1.3v1.3h-1.3zM221.3 70.8h1.3v1.3h-1.3zM221.4 72h1.3v1.3h-1.3zM222 60.6h1.3v1.3h-1.3zM221.9 60.1h1.3v1.3h-1.3zM222.2 59.4h1.3v1.3h-1.3zM222.8 58.6h1.3v1.3h-1.3zM222.5 60.8h1.3v1.3h-1.3zM222.7 58.3h1.3v1.3h-1.3zM222.9 60.5h1.3v1.3h-1.3zM223.1 60.4h1.3v1.3h-1.3zM223 59.1h1.3v1.3h-1.3zM223.7 57.8h1.3v1.3h-1.3zM223.7 60.5h1.3v1.3h-1.3zM223.8 58.3h1.3v1.3h-1.3zM224.5 70.7h1.3v1.3h-1.3zM224.4 60.8h1.3v1.3h-1.3zM224.3 71.3h1.3v1.3h-1.3zM225 70.9h1.3v1.3h-1.3zM224.5 71.5h1.3v1.3h-1.3zM224.9 58.3h1.3v1.3h-1.3zM225.5 58.9h1.3v1.3h-1.3zM225.1 58.4h1.3v1.3h-1.3zM225.4 71h1.3v1.3h-1.3zM226 60.8h1.3v1.3h-1.3zM225.9 71.8h1.3v1.3h-1.3zM226 60.2h1.3v1.3h-1.3zM226.6 59.1h1.3v1.3h-1.3zM226.6 70.7h1.3v1.3h-1.3zM226.4 70.7h1.3v1.3h-1.3zM223.7 77.9h1.3v1.3h-1.3zM222.8 56.5h1.3v1.3h-1.3zM222 80.6h1.3v1.3h-1.3zM222.8 55.6h1.3v1.3h-1.3zM224 78.7h1.3v1.3h-1.3zM220.5 57h1.3v1.3h-1.3zM223.4 85.3h1.3v1.3h-1.3z" fill="#3e8ed6"/>
<path d="M229.1 60.9H244.2V71.9H229.1z" fill="#3a62c6"/>
<path d="M228.6 58h1.3v1.3h-1.3zM229 59.8h1.3v1.3h-1.3zM228.7 59.3h1.3v1.3h-1.3zM229.5 73.2h1.3v1.3h-1.3zM229.1 60h1.3v1.3h-1.3zM229.4 72.6h1.3v1.3h-1.3zM230 73.8h1.3v1.3h-1.3zM229.9 70.7h1.3v1.3h-1.3zM229.8 74.1h1.3v1.3h-1.3zM230.2 72.3h1.3v1.3h-1.3zM230.3 59.4h1.3v1.3h-1.3zM230.3 58h1.3v1.3h-1.3zM230.8 70.7h1.3v1.3h-1.3zM231 73.7h1.3v1.3h-1.3zM230.8 58.2h1.3v1.3h-1.3zM231.7 72.4h1.3v1.3h-1.3zM231.4 70.9h1.3v1.3h-1.3zM231.3 60.7h1.3v1.3h-1.3zM231.9 73.7h1.3v1.3h-1.3zM232.3 60.3h1.3v1.3h-1.3zM232.1 74.2h1.3v1.3h-1.3zM232.4 60.8h1.3v1.3h-1.3zM232.7 71h1.3v1.3h-1.3zM232.4 72.6h1.3v1.3h-1.3zM233.2 73h1.3v1.3h-1.3zM233.1 70.7h1.3v1.3h-1.3zM233 74.1h1.3v1.3h-1.3zM234 72.8h1.3v1.3h-1.3zM233.9 58.2h1.3v1.3h-1.3zM233.8 71.9h1.3v1.3h-1.3zM234.3 60.8h1.3v1.3h-1.3zM234.4 59.8h1.3v1.3h-1.3zM234.5 58.5h1.3v1.3h-1.3zM235.1 59.7h1.3v1.3h-1.3zM234.6 57.8h1.3v1.3h-1.3zM235.1 57.6h1.3v1.3h-1.3zM235.4 70.9h1.3v1.3h-1.3zM235.3 60.5h1.3v1.3h-1.3zM235.5 57.3h1.3v1.3h-1.3zM235.9 72.6h1.3v1.3h-1.3zM236 74.2h1.3v1.3h-1.3zM236.1 60.4h1.3v1.3h-1.3zM236.6 59.6h1.3v1.3h-1.3zM236.3 60.2h1.3v1.3h-1.3zM236.2 58.2h1.3v1.3h-1.3zM237.1 58.6h1.3v1.3h-1.3zM237.3 73.8h1.3v1.3h-1.3zM237.3 73.1h1.3v1.3h-1.3zM237.8 70.9h1.3v1.3h-1.3zM237.8 71.8h1.3v1.3h-1.3zM237.5 71.5h1.3v1.3h-1.3zM238 71.2h1.3v1.3h-1.3zM238.1 70.9h1.3v1.3h-1.3zM238.3 60h1.3v1.3h-1.3zM238.5 60.3h1.3v1.3h-1.3zM238.8 72h1.3v1.3h-1.3zM238.8 71.1h1.3v1.3h-1.3zM239.4 71.5h1.3v1.3h-1.3zM239.4 70.8h1.3v1.3h-1.3zM239.1 70.7h1.3v1.3h-1.3zM240 74h1.3v1.3h-1.3zM239.9 57.8h1.3v1.3h-1.3zM240 72.6h1.3v1.3h-1.3zM240.1 72.8h1.3v1.3h-1.3zM240.5 60.6h1.3v1.3h-1.3zM240.2 71.5h1.3v1.3h-1.3zM240.8 71.9h1.3v1.3h-1.3zM240.9 60.6h1.3v1.3h-1.3zM240.6 72h1.3v1.3h-1.3zM241.7 60.2h1.3v1.3h-1.3zM241.6 60.8h1.3v1.3h-1.3zM241.3 72.6h1.3v1.3h-1.3zM242.1 72.2h1.3v1.3h-1.3zM241.7 58.9h1.3v1.3h-1.3zM242 58.9h1.3v1.3h-1.3zM242.6 57.7h1.3v1.3h-1.3zM242.7 73.3h1.3v1.3h-1.3zM242.6 70.8h1.3v1.3h-1.3zM243.2 60.4h1.3v1.3h-1.3zM243.1 72.3h1.3v1.3h-1.3zM242.8 73.8h1.3v1.3h-1.3zM238.5 56.1h1.3v1.3h-1.3zM238.8 56.9h1.3v1.3h-1.3zM242.5 57h1.3v1.3h-1.3zM237.8 55.5h1.3v1.3h-1.3zM236 77.1h1.3v1.3h-1.3zM237.3 52.8h1.3v1.3h-1.3z" fill="#3a62c6"/>
<path d="M243.5 60.9H249.5V71.9H243.5zM250.5 60.9H258.2V71.9H250.5z" fill="#3456c0"/>
<path d="M243.1 58.1h1.3v1.3h-1.3zM243.4 71.2h1.3v1.3h-1.3zM243 59.5h1.3v1.3h-1.3zM243.6 58.3h1.3v1.3h-1.3zM243.5 57.3h1.3v1.3h-1.3zM243.7 70.9h1.3v1.3h-1.3zM244.4 70.7h1.3v1.3h-1.3zM244.2 72.2h1.3v1.3h-1.3zM244.1 74.1h1.3v1.3h-1.3zM245 57.9h1.3v1.3h-1.3zM244.9 74.1h1.3v1.3h-1.3zM244.8 71.1h1.3v1.3h-1.3zM245.2 71.6h1.3v1.3h-1.3zM245.3 59.1h1.3v1.3h-1.3zM245.1 60.4h1.3v1.3h-1.3zM245.9 57.7h1.3v1.3h-1.3zM246.1 60.6h1.3v1.3h-1.3zM246 70.9h1.3v1.3h-1.3zM246.2 57.5h1.3v1.3h-1.3zM246.7 60.6h1.3v1.3h-1.3zM246.5 72.5h1.3v1.3h-1.3zM247.3 72.4h1.3v1.3h-1.3zM247.1 60.3h1.3v1.3h-1.3zM247.2 72.7h1.3v1.3h-1.3zM247.7 73.3h1.3v1.3h-1.3zM247.5 60.2h1.3v1.3h-1.3zM247.8 73.7h1.3v1.3h-1.3zM248.1 73.8h1.3v1.3h-1.3zM248.3 58.1h1.3v1.3h-1.3zM248.1 72h1.3v1.3h-1.3zM244.3 77.7h1.3v1.3h-1.3zM248.2 53.2h1.3v1.3h-1.3zM250.3 74h1.3v1.3h-1.3zM250.3 58.6h1.3v1.3h-1.3zM249.9 58h1.3v1.3h-1.3zM250.4 70.8h1.3v1.3h-1.3zM250.7 58.2h1.3v1.3h-1.3zM250.9 60.8h1.3v1.3h-1.3zM251.2 71.3h1.3v1.3h-1.3zM251 59h1.3v1.3h-1.3zM251.2 70.9h1.3v1.3h-1.3zM252.1 60.8h1.3v1.3h-1.3zM252 71.6h1.3v1.3h-1.3zM252 59.3h1.3v1.3h-1.3zM252.5 60.6h1.3v1.3h-1.3zM252.4 71.8h1.3v1.3h-1.3zM252.4 70.8h1.3v1.3h-1.3zM253.1 60.8h1.3v1.3h-1.3zM252.8 57.8h1.3v1.3h-1.3zM253 58.3h1.3v1.3h-1.3zM253.3 58.6h1.3v1.3h-1.3zM253.6 57.7h1.3v1.3h-1.3zM253.4 60.8h1.3v1.3h-1.3zM254.2 57.5h1.3v1.3h-1.3zM253.9 70.7h1.3v1.3h-1.3zM254 60.7h1.3v1.3h-1.3zM254.4 57.4h1.3v1.3h-1.3zM254.6 58.2h1.3v1.3h-1.3zM254.8 71.3h1.3v1.3h-1.3zM255.1 60.8h1.3v1.3h-1.3zM255.2 58.1h1.3v1.3h-1.3zM255.1 72.6h1.3v1.3h-1.3zM255.4 58.9h1.3v1.3h-1.3zM255.5 73.4h1.3v1.3h-1.3zM255.8 58.7h1.3v1.3h-1.3zM256.2 57.2h1.3v1.3h-1.3zM256 60.2h1.3v1.3h-1.3zM256 60.5h1.3v1.3h-1.3zM256.9 71.1h1.3v1.3h-1.3zM256.9 70.8h1.3v1.3h-1.3zM256.5 60.8h1.3v1.3h-1.3zM255 55h1.3v1.3h-1.3zM253.4 80.9h1.3v1.3h-1.3z" fill="#3456c0"/>
<path d="M258.1 67.8H259.8V77.2H258.1zM259 70.8H261V80.2H259zM260.2 67.6H261.8V76.4H260.2zM261 60.9H271.9V71.9H261z" fill="#3c50b8"/>
<path d="M258.1 66.4h1.3v1.3h-1.3zM258.1 65.8h1.3v1.3h-1.3zM258 65.3h1.3v1.3h-1.3zM258.6 76.1h1.3v1.3h-1.3zM258.4 76h1.3v1.3h-1.3zM258.6 77.8h1.3v1.3h-1.3zM258.6 68.3h1.3v1.3h-1.3zM258.5 79h1.3v1.3h-1.3zM258.9 81.9h1.3v1.3h-1.3zM259.2 81.4h1.3v1.3h-1.3zM259.3 79.3h1.3v1.3h-1.3zM259.6 79.5h1.3v1.3h-1.3zM260.1 70.2h1.3v1.3h-1.3zM259.6 68.5h1.3v1.3h-1.3zM259.8 81.3h1.3v1.3h-1.3zM260 67h1.3v1.3h-1.3zM259.8 64.6h1.3v1.3h-1.3zM260.2 67.5h1.3v1.3h-1.3zM260.6 66.8h1.3v1.3h-1.3zM260.6 67.3h1.3v1.3h-1.3zM260.8 66.7h1.3v1.3h-1.3zM260.8 70.9h1.3v1.3h-1.3zM260.9 70.9h1.3v1.3h-1.3zM261 71h1.3v1.3h-1.3zM261.4 60.8h1.3v1.3h-1.3zM261.4 59.1h1.3v1.3h-1.3zM261.2 72.3h1.3v1.3h-1.3zM261.9 60.8h1.3v1.3h-1.3zM261.6 60.8h1.3v1.3h-1.3zM261.9 70.8h1.3v1.3h-1.3zM262.7 71.9h1.3v1.3h-1.3zM262.3 59.8h1.3v1.3h-1.3zM262.4 60h1.3v1.3h-1.3zM263.2 58.6h1.3v1.3h-1.3zM263.1 71.7h1.3v1.3h-1.3zM262.7 60.8h1.3v1.3h-1.3zM263.6 71h1.3v1.3h-1.3zM263.7 60.4h1.3v1.3h-1.3zM263.3 60.8h1.3v1.3h-1.3zM264.1 72.5h1.3v1.3h-1.3zM264 60.6h1.3v1.3h-1.3zM264 58.1h1.3v1.3h-1.3zM264.3 59h1.3v1.3h-1.3zM264.8 71.2h1.3v1.3h-1.3zM264.5 70.8h1.3v1.3h-1.3zM265.1 58.6h1.3v1.3h-1.3zM265.1 72.9h1.3v1.3h-1.3zM265.4 59.5h1.3v1.3h-1.3zM265.6 57.7h1.3v1.3h-1.3zM265.5 60.1h1.3v1.3h-1.3zM265.9 60.6h1.3v1.3h-1.3zM266.3 58h1.3v1.3h-1.3zM266 59.7h1.3v1.3h-1.3zM266.1 72.6h1.3v1.3h-1.3zM266.8 70.7h1.3v1.3h-1.3zM266.6 70.8h1.3v1.3h-1.3zM267.1 70.8h1.3v1.3h-1.3zM267.3 73.8h1.3v1.3h-1.3zM267.2 60.7h1.3v1.3h-1.3zM267.6 59.8h1.3v1.3h-1.3zM267.9 59.4h1.3v1.3h-1.3zM267.9 59.7h1.3v1.3h-1.3zM267.7 73.6h1.3v1.3h-1.3zM268.3 57.5h1.3v1.3h-1.3zM268.3 70.9h1.3v1.3h-1.3zM268.4 70.7h1.3v1.3h-1.3zM268.7 57.5h1.3v1.3h-1.3zM268.8 71.7h1.3v1.3h-1.3zM268.7 71.1h1.3v1.3h-1.3zM269.5 72.8h1.3v1.3h-1.3zM269.6 60.6h1.3v1.3h-1.3zM269.6 58.2h1.3v1.3h-1.3zM270.1 58.8h1.3v1.3h-1.3zM270.2 71h1.3v1.3h-1.3zM269.9 70.8h1.3v1.3h-1.3zM270.8 73.3h1.3v1.3h-1.3zM270.7 73.5h1.3v1.3h-1.3zM270.4 59h1.3v1.3h-1.3zM265.4 55.5h1.3v1.3h-1.3zM269.3 75.9h1.3v1.3h-1.3zM262.2 56.3h1.3v1.3h-1.3zM263.9 50.4h1.3v1.3h-1.3z" fill="#3c50b8"/>
<path d="M271.1 60.9H284.1V71.9H271.1z" fill="#564cb8"/>
<path d="M270.6 60h1.3v1.3h-1.3zM270.6 57.5h1.3v1.3h-1.3zM271 71.4h1.3v1.3h-1.3zM271.2 60.5h1.3v1.3h-1.3zM271.7 71.8h1.3v1.3h-1.3zM271.7 59.8h1.3v1.3h-1.3zM271.9 58.5h1.3v1.3h-1.3zM272 60.2h1.3v1.3h-1.3zM272.1 58.4h1.3v1.3h-1.3zM272.6 70.7h1.3v1.3h-1.3zM272.3 71.8h1.3v1.3h-1.3zM272.4 60.5h1.3v1.3h-1.3zM273.3 59.9h1.3v1.3h-1.3zM273.3 70.8h1.3v1.3h-1.3zM273 60.8h1.3v1.3h-1.3zM273.8 70.7h1.3v1.3h-1.3zM273.8 60.4h1.3v1.3h-1.3zM273.9 74.1h1.3v1.3h-1.3zM273.9 58.7h1.3v1.3h-1.3zM274.4 57.6h1.3v1.3h-1.3zM274 57.7h1.3v1.3h-1.3zM274.7 57.3h1.3v1.3h-1.3zM274.9 72h1.3v1.3h-1.3zM274.7 59h1.3v1.3h-1.3zM275.5 71.9h1.3v1.3h-1.3zM275.2 57.4h1.3v1.3h-1.3zM275.3 72.3h1.3v1.3h-1.3zM275.9 70.9h1.3v1.3h-1.3zM275.9 71.5h1.3v1.3h-1.3zM275.9 60.8h1.3v1.3h-1.3zM276.5 71.8h1.3v1.3h-1.3zM276.3 70.7h1.3v1.3h-1.3zM276.3 58.5h1.3v1.3h-1.3zM277.2 60.2h1.3v1.3h-1.3zM276.9 60.8h1.3v1.3h-1.3zM277.1 60h1.3v1.3h-1.3zM277.4 71h1.3v1.3h-1.3zM277.2 71.8h1.3v1.3h-1.3zM277.7 60.5h1.3v1.3h-1.3zM278.2 60.7h1.3v1.3h-1.3zM278 59.1h1.3v1.3h-1.3zM278 71.7h1.3v1.3h-1.3zM278.4 71.4h1.3v1.3h-1.3zM278.7 58.2h1.3v1.3h-1.3zM278.5 73.1h1.3v1.3h-1.3zM279.3 74.1h1.3v1.3h-1.3zM279.2 59h1.3v1.3h-1.3zM279 57.3h1.3v1.3h-1.3zM279.4 73.5h1.3v1.3h-1.3zM279.9 70.7h1.3v1.3h-1.3zM279.5 57.9h1.3v1.3h-1.3zM280.3 70.7h1.3v1.3h-1.3zM280.4 60.4h1.3v1.3h-1.3zM280.3 58.1h1.3v1.3h-1.3zM280.6 60.8h1.3v1.3h-1.3zM280.5 57.7h1.3v1.3h-1.3zM281 60.7h1.3v1.3h-1.3zM281 70.8h1.3v1.3h-1.3zM281.3 71.3h1.3v1.3h-1.3zM281.2 71.8h1.3v1.3h-1.3zM281.6 73.9h1.3v1.3h-1.3zM282 60.8h1.3v1.3h-1.3zM281.8 71.1h1.3v1.3h-1.3zM282.5 59.7h1.3v1.3h-1.3zM282.6 57.2h1.3v1.3h-1.3zM282.3 73.4h1.3v1.3h-1.3zM282.8 58.7h1.3v1.3h-1.3zM282.7 70.7h1.3v1.3h-1.3zM283.1 59.3h1.3v1.3h-1.3zM276.4 79.2h1.3v1.3h-1.3zM273.7 51.9h1.3v1.3h-1.3zM276.6 74.6h1.3v1.3h-1.3zM273.2 57h1.3v1.3h-1.3z" fill="#564cb8"/>
<path d="M283.3 60.9H294.7V71.9H283.3z" fill="#7c4eb8"/>
<path d="M283.2 59.1h1.3v1.3h-1.3zM283.2 71.9h1.3v1.3h-1.3zM282.9 60.8h1.3v1.3h-1.3zM283.7 71.2h1.3v1.3h-1.3zM283.9 57.7h1.3v1.3h-1.3zM283.4 74.3h1.3v1.3h-1.3zM284.3 70.7h1.3v1.3h-1.3zM284.1 73.4h1.3v1.3h-1.3zM283.9 72h1.3v1.3h-1.3zM284.6 59.2h1.3v1.3h-1.3zM284.5 60.2h1.3v1.3h-1.3zM284.7 57.5h1.3v1.3h-1.3zM285.4 60.6h1.3v1.3h-1.3zM285.4 72.8h1.3v1.3h-1.3zM285.4 71.8h1.3v1.3h-1.3zM285.9 60.7h1.3v1.3h-1.3zM285.7 59.9h1.3v1.3h-1.3zM285.8 58.9h1.3v1.3h-1.3zM286.5 73.5h1.3v1.3h-1.3zM286.5 71.4h1.3v1.3h-1.3zM286.4 72.9h1.3v1.3h-1.3zM286.7 70.8h1.3v1.3h-1.3zM286.6 57.6h1.3v1.3h-1.3zM286.6 57.3h1.3v1.3h-1.3zM287.3 58.8h1.3v1.3h-1.3zM287.4 70.7h1.3v1.3h-1.3zM287.6 70.7h1.3v1.3h-1.3zM287.7 58.7h1.3v1.3h-1.3zM288 57.7h1.3v1.3h-1.3zM287.8 72.7h1.3v1.3h-1.3zM288.4 72h1.3v1.3h-1.3zM288.7 70.9h1.3v1.3h-1.3zM288.5 60.1h1.3v1.3h-1.3zM289 59.4h1.3v1.3h-1.3zM289.1 72.9h1.3v1.3h-1.3zM289.3 74.1h1.3v1.3h-1.3zM289.8 60h1.3v1.3h-1.3zM289.9 60.7h1.3v1.3h-1.3zM289.8 71.8h1.3v1.3h-1.3zM290.4 70.7h1.3v1.3h-1.3zM290.1 72.7h1.3v1.3h-1.3zM290.3 72.9h1.3v1.3h-1.3zM290.9 58.9h1.3v1.3h-1.3zM290.5 73.6h1.3v1.3h-1.3zM291 58.4h1.3v1.3h-1.3zM291.1 74.1h1.3v1.3h-1.3zM291.6 71.2h1.3v1.3h-1.3zM291.2 71.2h1.3v1.3h-1.3zM291.6 60.4h1.3v1.3h-1.3zM292 58.9h1.3v1.3h-1.3zM292.1 59h1.3v1.3h-1.3zM292.6 58.6h1.3v1.3h-1.3zM292.3 71.1h1.3v1.3h-1.3zM292.2 58.1h1.3v1.3h-1.3zM292.9 58.7h1.3v1.3h-1.3zM293.2 73.5h1.3v1.3h-1.3zM293.1 60.7h1.3v1.3h-1.3zM293.8 73.5h1.3v1.3h-1.3zM293.7 71.8h1.3v1.3h-1.3zM293.6 57.9h1.3v1.3h-1.3zM286.9 57h1.3v1.3h-1.3zM286.5 50.9h1.3v1.3h-1.3zM283.3 74.5h1.3v1.3h-1.3zM283.8 56.8h1.3v1.3h-1.3z" fill="#7c4eb8"/>
<path d="M293.9 60.9H305V71.9H293.9z" fill="#9c4eb4"/>
<path d="M293.5 71.7h1.3v1.3h-1.3zM293.5 71.8h1.3v1.3h-1.3zM293.5 72.4h1.3v1.3h-1.3zM294.3 71.3h1.3v1.3h-1.3zM294.3 60.2h1.3v1.3h-1.3zM294.2 57.2h1.3v1.3h-1.3zM294.6 59.9h1.3v1.3h-1.3zM295 71.4h1.3v1.3h-1.3zM294.8 59h1.3v1.3h-1.3zM295.4 72.1h1.3v1.3h-1.3zM295.3 59.9h1.3v1.3h-1.3zM295.5 70.7h1.3v1.3h-1.3zM295.6 73.2h1.3v1.3h-1.3zM295.7 58.3h1.3v1.3h-1.3zM295.6 73.7h1.3v1.3h-1.3zM296.7 59.1h1.3v1.3h-1.3zM296.7 70.9h1.3v1.3h-1.3zM296.4 59.6h1.3v1.3h-1.3zM297.1 58.5h1.3v1.3h-1.3zM297.2 70.8h1.3v1.3h-1.3zM296.8 59.4h1.3v1.3h-1.3zM297.7 57.7h1.3v1.3h-1.3zM297.3 60.1h1.3v1.3h-1.3zM297.5 60.8h1.3v1.3h-1.3zM297.8 57.5h1.3v1.3h-1.3zM298 59.1h1.3v1.3h-1.3zM298.1 72.3h1.3v1.3h-1.3zM298.6 60.5h1.3v1.3h-1.3zM298.8 59.8h1.3v1.3h-1.3zM298.7 58.2h1.3v1.3h-1.3zM299 71h1.3v1.3h-1.3zM299.2 58.1h1.3v1.3h-1.3zM299.4 57.7h1.3v1.3h-1.3zM299.8 58.7h1.3v1.3h-1.3zM299.6 58.7h1.3v1.3h-1.3zM299.7 58.1h1.3v1.3h-1.3zM300.5 60.8h1.3v1.3h-1.3zM300 73.8h1.3v1.3h-1.3zM300.5 59.8h1.3v1.3h-1.3zM301.1 60.2h1.3v1.3h-1.3zM300.7 71h1.3v1.3h-1.3zM300.6 71.6h1.3v1.3h-1.3zM301.1 60.5h1.3v1.3h-1.3zM301.4 59.3h1.3v1.3h-1.3zM301.6 70.9h1.3v1.3h-1.3zM301.9 73.1h1.3v1.3h-1.3zM301.9 60.4h1.3v1.3h-1.3zM301.7 59.6h1.3v1.3h-1.3zM302.7 71.3h1.3v1.3h-1.3zM302.6 71.5h1.3v1.3h-1.3zM302.5 71.3h1.3v1.3h-1.3zM302.7 59.8h1.3v1.3h-1.3zM302.9 73.2h1.3v1.3h-1.3zM303.3 72.4h1.3v1.3h-1.3zM303.6 59.1h1.3v1.3h-1.3zM303.8 58.9h1.3v1.3h-1.3zM303.7 70.8h1.3v1.3h-1.3zM297.8 77.1h1.3v1.3h-1.3zM300.6 79.3h1.3v1.3h-1.3zM295.3 77.7h1.3v1.3h-1.3zM296.6 51h1.3v1.3h-1.3z" fill="#9c4eb4"/>
<path d="M305.2 60.9H311.8V71.9H305.2z" fill="#b84cae"/>
<path d="M305 58.3h1.3v1.3h-1.3zM304.9 73.3h1.3v1.3h-1.3zM304.9 60.1h1.3v1.3h-1.3zM305.6 72h1.3v1.3h-1.3zM305.4 71.8h1.3v1.3h-1.3zM305.2 72.3h1.3v1.3h-1.3zM306 58.3h1.3v1.3h-1.3zM305.9 57.7h1.3v1.3h-1.3zM305.8 71.3h1.3v1.3h-1.3zM306.3 58.8h1.3v1.3h-1.3zM306.4 60.5h1.3v1.3h-1.3zM306.6 60.5h1.3v1.3h-1.3zM307.4 60.7h1.3v1.3h-1.3zM307.3 59.4h1.3v1.3h-1.3zM306.9 60.7h1.3v1.3h-1.3zM307.7 71.9h1.3v1.3h-1.3zM307.8 59.1h1.3v1.3h-1.3zM307.5 57.3h1.3v1.3h-1.3zM308 60.7h1.3v1.3h-1.3zM308 58.7h1.3v1.3h-1.3zM308.1 60.6h1.3v1.3h-1.3zM308.7 60.1h1.3v1.3h-1.3zM308.7 74.2h1.3v1.3h-1.3zM308.6 71.5h1.3v1.3h-1.3zM309.1 57.3h1.3v1.3h-1.3zM309.4 73.7h1.3v1.3h-1.3zM309.4 72.5h1.3v1.3h-1.3zM310.1 58.9h1.3v1.3h-1.3zM309.9 59.4h1.3v1.3h-1.3zM310 73.7h1.3v1.3h-1.3zM310.7 59.6h1.3v1.3h-1.3zM310.4 57.6h1.3v1.3h-1.3zM310.6 58.8h1.3v1.3h-1.3zM305 51.7h1.3v1.3h-1.3zM307 54.6h1.3v1.3h-1.3z" fill="#b84cae"/>
<path d="M313.6 60.9H320.9V71.9H313.6z" fill="#e8348e"/>
<path d="M313.3 72.9h1.3v1.3h-1.3zM313.2 59.7h1.3v1.3h-1.3zM313.6 71.4h1.3v1.3h-1.3zM314.2 60.5h1.3v1.3h-1.3zM314 72.7h1.3v1.3h-1.3zM313.7 72.1h1.3v1.3h-1.3zM314.7 73.5h1.3v1.3h-1.3zM314.4 58h1.3v1.3h-1.3zM314.2 58.1h1.3v1.3h-1.3zM315.2 73h1.3v1.3h-1.3zM315.1 72.2h1.3v1.3h-1.3zM314.8 60.8h1.3v1.3h-1.3zM315.6 60.4h1.3v1.3h-1.3zM315.3 71.6h1.3v1.3h-1.3zM315.3 71.7h1.3v1.3h-1.3zM315.9 71.8h1.3v1.3h-1.3zM316.3 72.5h1.3v1.3h-1.3zM316.3 70.9h1.3v1.3h-1.3zM316.6 72.7h1.3v1.3h-1.3zM316.8 73.6h1.3v1.3h-1.3zM316.4 58.8h1.3v1.3h-1.3zM316.9 73.4h1.3v1.3h-1.3zM317.1 57.2h1.3v1.3h-1.3zM317.1 58h1.3v1.3h-1.3zM317.7 71.9h1.3v1.3h-1.3zM317.6 60.8h1.3v1.3h-1.3zM317.9 59.2h1.3v1.3h-1.3zM318.6 60.2h1.3v1.3h-1.3zM318.4 59h1.3v1.3h-1.3zM318.2 73.4h1.3v1.3h-1.3zM318.8 60.6h1.3v1.3h-1.3zM318.7 73.2h1.3v1.3h-1.3zM319.1 60.8h1.3v1.3h-1.3zM319.5 59.2h1.3v1.3h-1.3zM319.2 72h1.3v1.3h-1.3zM319.6 71.6h1.3v1.3h-1.3zM317.8 74.9h1.3v1.3h-1.3zM316.4 50.6h1.3v1.3h-1.3z" fill="#e8348e"/>
<path d="M320.1 60.9H346.2V71.9H320.1z" fill="#ef2040"/>
<path d="M319.9 60.7h1.3v1.3h-1.3zM320.1 60h1.3v1.3h-1.3zM319.8 73.8h1.3v1.3h-1.3zM320.2 71.1h1.3v1.3h-1.3zM320.2 71.9h1.3v1.3h-1.3zM320.3 73.7h1.3v1.3h-1.3zM320.9 60.7h1.3v1.3h-1.3zM320.9 71.1h1.3v1.3h-1.3zM321.1 72.1h1.3v1.3h-1.3zM321.3 71.2h1.3v1.3h-1.3zM321.5 71.1h1.3v1.3h-1.3zM321.5 74h1.3v1.3h-1.3zM322.1 57.6h1.3v1.3h-1.3zM322 57.9h1.3v1.3h-1.3zM321.9 72.3h1.3v1.3h-1.3zM322.6 58.7h1.3v1.3h-1.3zM322.4 60.5h1.3v1.3h-1.3zM322.8 59.6h1.3v1.3h-1.3zM323.3 60.5h1.3v1.3h-1.3zM323.3 57.6h1.3v1.3h-1.3zM323 58.7h1.3v1.3h-1.3zM324 57.3h1.3v1.3h-1.3zM323.7 60.3h1.3v1.3h-1.3zM323.4 60.2h1.3v1.3h-1.3zM324.5 60.6h1.3v1.3h-1.3zM324.5 60.5h1.3v1.3h-1.3zM324.4 71.1h1.3v1.3h-1.3zM324.5 60h1.3v1.3h-1.3zM324.6 73.4h1.3v1.3h-1.3zM324.8 73h1.3v1.3h-1.3zM325.6 59.9h1.3v1.3h-1.3zM325.4 74.3h1.3v1.3h-1.3zM325.3 59h1.3v1.3h-1.3zM325.8 60.1h1.3v1.3h-1.3zM325.9 73.8h1.3v1.3h-1.3zM325.7 60.6h1.3v1.3h-1.3zM326.2 59.3h1.3v1.3h-1.3zM326.5 59.6h1.3v1.3h-1.3zM326.6 60h1.3v1.3h-1.3zM326.8 60.5h1.3v1.3h-1.3zM327.2 58.5h1.3v1.3h-1.3zM327.2 60.1h1.3v1.3h-1.3zM327.5 72.2h1.3v1.3h-1.3zM327.8 58.4h1.3v1.3h-1.3zM327.5 57.2h1.3v1.3h-1.3zM328.2 59.6h1.3v1.3h-1.3zM328 60.6h1.3v1.3h-1.3zM328 58.4h1.3v1.3h-1.3zM328.4 70.7h1.3v1.3h-1.3zM328.5 73.1h1.3v1.3h-1.3zM328.6 70.8h1.3v1.3h-1.3zM329.3 57.5h1.3v1.3h-1.3zM329.3 59.9h1.3v1.3h-1.3zM329.4 59.6h1.3v1.3h-1.3zM329.8 73.2h1.3v1.3h-1.3zM329.8 60.2h1.3v1.3h-1.3zM329.8 58.5h1.3v1.3h-1.3zM330.3 60.6h1.3v1.3h-1.3zM330.1 58.9h1.3v1.3h-1.3zM330.4 59.8h1.3v1.3h-1.3zM330.6 70.7h1.3v1.3h-1.3zM330.8 72.7h1.3v1.3h-1.3zM330.7 71.1h1.3v1.3h-1.3zM331.1 71.5h1.3v1.3h-1.3zM331.4 60.8h1.3v1.3h-1.3zM331.3 57.2h1.3v1.3h-1.3zM331.8 72.6h1.3v1.3h-1.3zM332 72.6h1.3v1.3h-1.3zM332.2 59.8h1.3v1.3h-1.3zM332.3 73.3h1.3v1.3h-1.3zM332.3 70.7h1.3v1.3h-1.3zM332.5 58.8h1.3v1.3h-1.3zM333.2 57.3h1.3v1.3h-1.3zM332.8 58.3h1.3v1.3h-1.3zM332.9 60.2h1.3v1.3h-1.3zM333.5 74h1.3v1.3h-1.3zM333.5 72.7h1.3v1.3h-1.3zM333.9 58.1h1.3v1.3h-1.3zM333.9 59.9h1.3v1.3h-1.3zM334.4 72h1.3v1.3h-1.3zM334.2 59.1h1.3v1.3h-1.3zM334.5 60.4h1.3v1.3h-1.3zM334.4 60.1h1.3v1.3h-1.3zM334.5 70.7h1.3v1.3h-1.3zM335.5 71.2h1.3v1.3h-1.3zM335.5 73h1.3v1.3h-1.3zM335.1 59h1.3v1.3h-1.3zM335.6 70.9h1.3v1.3h-1.3zM335.9 60.1h1.3v1.3h-1.3zM335.8 58.9h1.3v1.3h-1.3zM336.1 59.9h1.3v1.3h-1.3zM336.5 60.3h1.3v1.3h-1.3zM336.4 72.8h1.3v1.3h-1.3zM336.9 71h1.3v1.3h-1.3zM337.1 60.3h1.3v1.3h-1.3zM337 59.7h1.3v1.3h-1.3zM337.4 73.6h1.3v1.3h-1.3zM337.6 70.7h1.3v1.3h-1.3zM337.7 60.6h1.3v1.3h-1.3zM338.1 71.6h1.3v1.3h-1.3zM338 72.7h1.3v1.3h-1.3zM337.7 71.3h1.3v1.3h-1.3zM338.7 74.1h1.3v1.3h-1.3zM338.5 71h1.3v1.3h-1.3zM338.5 58.7h1.3v1.3h-1.3zM339.3 71.4h1.3v1.3h-1.3zM339.3 60.8h1.3v1.3h-1.3zM339 73.5h1.3v1.3h-1.3zM339.9 60.7h1.3v1.3h-1.3zM339.6 60.6h1.3v1.3h-1.3zM339.5 60.8h1.3v1.3h-1.3zM340.2 58h1.3v1.3h-1.3zM340.2 70.9h1.3v1.3h-1.3zM340.2 70.8h1.3v1.3h-1.3zM341 71.5h1.3v1.3h-1.3zM340.7 60h1.3v1.3h-1.3zM340.5 70.7h1.3v1.3h-1.3zM341.4 60.2h1.3v1.3h-1.3zM341.1 59.1h1.3v1.3h-1.3zM341.2 59.3h1.3v1.3h-1.3zM341.7 60.6h1.3v1.3h-1.3zM341.6 72.2h1.3v1.3h-1.3zM341.9 59.3h1.3v1.3h-1.3zM342.4 60.7h1.3v1.3h-1.3zM342.1 74.3h1.3v1.3h-1.3zM342.7 71h1.3v1.3h-1.3zM342.8 71h1.3v1.3h-1.3zM343 72.2h1.3v1.3h-1.3zM342.8 71.9h1.3v1.3h-1.3zM343.5 73.1h1.3v1.3h-1.3zM343.5 70.7h1.3v1.3h-1.3zM343.7 59.2h1.3v1.3h-1.3zM343.8 73.5h1.3v1.3h-1.3zM344.2 74.1h1.3v1.3h-1.3zM343.9 58.5h1.3v1.3h-1.3zM344.3 57.9h1.3v1.3h-1.3zM344.5 57.7h1.3v1.3h-1.3zM344.5 71.6h1.3v1.3h-1.3zM337.6 81.7h1.3v1.3h-1.3zM324.1 74.5h1.3v1.3h-1.3zM327.2 56.7h1.3v1.3h-1.3zM329.7 77.2h1.3v1.3h-1.3zM334 75.1h1.3v1.3h-1.3zM322 79.8h1.3v1.3h-1.3zM329.1 74.6h1.3v1.3h-1.3zM336.9 56.2h1.3v1.3h-1.3zM330.4 74.8h1.3v1.3h-1.3zM319.9 53.7h1.3v1.3h-1.3zM331.1 80.7h1.3v1.3h-1.3zM324.2 79.9h1.3v1.3h-1.3z" fill="#ef2040"/>
<path d="M345.4 60.9H350V71.9H345.4zM349.2 54.5H350.8V71.5H349.2z" fill="#f2302c"/>
<path d="M344.9 57.6h1.3v1.3h-1.3zM345.3 71h1.3v1.3h-1.3zM345.2 72.6h1.3v1.3h-1.3zM345.4 58.3h1.3v1.3h-1.3zM345.6 60.6h1.3v1.3h-1.3zM345.8 59h1.3v1.3h-1.3zM346.1 73.1h1.3v1.3h-1.3zM346.4 72h1.3v1.3h-1.3zM346.1 70.8h1.3v1.3h-1.3zM346.9 58.9h1.3v1.3h-1.3zM346.8 73h1.3v1.3h-1.3zM346.8 73h1.3v1.3h-1.3zM347.5 59.4h1.3v1.3h-1.3zM347.1 59h1.3v1.3h-1.3zM347.2 59.1h1.3v1.3h-1.3zM348.1 58h1.3v1.3h-1.3zM347.6 57.4h1.3v1.3h-1.3zM347.7 73.7h1.3v1.3h-1.3zM348.5 73.4h1.3v1.3h-1.3zM348.3 57.9h1.3v1.3h-1.3zM348.2 59.1h1.3v1.3h-1.3zM346.6 57h1.3v1.3h-1.3zM348.7 51.3h1.3v1.3h-1.3zM348.8 71h1.3v1.3h-1.3zM349.2 51.2h1.3v1.3h-1.3zM349.6 75.5h1.3v1.3h-1.3zM349.7 49.4h1.3v1.3h-1.3zM349.4 51.2h1.3v1.3h-1.3z" fill="#f2302c"/>
<path d="M24 65.8H355" stroke="#777" stroke-opacity="0.22" stroke-width="1" fill="none"/>
<text x="22.6" y="39.7" text-anchor="end" font-size="5" font-weight="bold" fill="#2e2e40">0.75</text>
<text x="22.6" y="48.8" text-anchor="end" font-size="5" font-weight="bold" fill="#2e2e40">0.50</text>
<text x="22.6" y="57.9" text-anchor="end" font-size="5" font-weight="bold" fill="#2e2e40">0.25</text>
<text x="22.6" y="67" text-anchor="end" font-size="5" font-weight="bold" fill="#2e2e40">0.00</text>
<text x="22.6" y="76.1" text-anchor="end" font-size="5" font-weight="bold" fill="#2e2e40">-0.25</text>
<text x="22.6" y="85.2" text-anchor="end" font-size="5" font-weight="bold" fill="#2e2e40">-0.50</text>
<text x="22.6" y="94.3" text-anchor="end" font-size="5" font-weight="bold" fill="#2e2e40">-0.75</text>
<path d="M51.5 103.8V172M77.5 103.8V172M101.5 103.8V172M124.5 103.8V172M146.5 103.8V172M169 103.8V172M190.8 103.8V172M209.6 103.8V172M227.5 103.8V172M243.8 103.8V172M258 103.8V172M271.5 103.8V172M283.7 103.8V172M294.3 103.8V172M304.6 103.8V172M311.8 103.8V172M320.5 103.8V172M345.8 103.8V172" stroke="#d9d9d9" stroke-width="1" fill="none"/>
<path d="M23.7 103.8V172" stroke="#e4e4e4" stroke-width="1" fill="none"/>
<path d="M23.4 122.9H24.8V136.1H23.4zM23.4 141.5H24.8V159.5H23.4zM26.9 121.5H30.8V135.5H26.9zM26.9 141.2H51.5V160.8H26.9z" fill="#bad92a" fill-opacity="0.22"/>
<path d="M51.5 123.2H77.5V139.6H51.5z" fill="#8fca3a" fill-opacity="0.22"/>
<path d="M76 139.7H85V159.3H76zM85 123.7H90.4V139.3H85zM90.4 113.2H101.5V130.4H90.4z" fill="#74c240" fill-opacity="0.22"/>
<path d="M101.5 123.2H108.8V139.6H101.5zM112 123.2H124.5V139.6H112z" fill="#66be44" fill-opacity="0.22"/>
<path d="M124.5 123.2H146.5V139.6H124.5z" fill="#64c040" fill-opacity="0.22"/>
<path d="M146.5 123.2H169V139.6H146.5z" fill="#5fbc82" fill-opacity="0.22"/>
<path d="M169 123.2H190.6V139.6H169z" fill="#64c4bc" fill-opacity="0.22"/>
<path d="M193.4 123.2H209.4V139.6H193.4z" fill="#4ac2ec" fill-opacity="0.22"/>
<path d="M212.2 123.2H227.3V139.6H212.2z" fill="#3e8ed6" fill-opacity="0.22"/>
<path d="M229.6 139.3H232.6V160.7H229.6zM232.6 123.2H243.8V139.6H232.6z" fill="#3a62c6" fill-opacity="0.22"/>
<path d="M243.8 123.2H249.2V139.6H243.8zM250.8 123.2H258V139.6H250.8z" fill="#3456c0" fill-opacity="0.22"/>
<path d="M258.2 141.2H261.2V160.8H258.2zM261.2 123.2H271.5V139.6H261.2z" fill="#3c50b8" fill-opacity="0.22"/>
<path d="M271 142.9H273.2V160.1H271zM273.2 123.2H283.7V139.6H273.2z" fill="#564cb8" fill-opacity="0.22"/>
<path d="M283.7 123.2H294.3V139.6H283.7z" fill="#7c4eb8" fill-opacity="0.22"/>
<path d="M294 142.9H296.8V160.1H294zM296.8 123.2H304.6V139.6H296.8z" fill="#9c4eb4" fill-opacity="0.22"/>
<path d="M305.9 141.9H308.2V159.1H305.9zM308.2 123.2H311.4V139.6H308.2z" fill="#b84cae" fill-opacity="0.22"/>
<path d="M314 123.2H320.5V139.6H314z" fill="#e8348e" fill-opacity="0.22"/>
<path d="M320.5 123.2H345.8V139.6H320.5z" fill="#ef2040" fill-opacity="0.22"/>
<path d="M345.8 123.2H350V139.6H345.8z" fill="#f2302c" fill-opacity="0.22"/>
<path d="M23 125.6H25.2V133.4H23zM23 145.1H25.2V155.9H23zM26.5 124.3H31.2V132.7H26.5zM26.5 145.1H51.9V156.9H26.5z" fill="#bad92a"/>
<path d="M22.8 135.3h1.3v1.3h-1.3zM22.7 122.8h1.3v1.3h-1.3zM22.9 133.5h1.3v1.3h-1.3zM23.6 124.6h1.3v1.3h-1.3zM23.4 132.5h1.3v1.3h-1.3zM23.1 123h1.3v1.3h-1.3zM23.7 125h1.3v1.3h-1.3zM23.8 132.5h1.3v1.3h-1.3zM23.6 132.8h1.3v1.3h-1.3zM22.7 157.5h1.3v1.3h-1.3zM22.9 154.9h1.3v1.3h-1.3zM22.5 156.9h1.3v1.3h-1.3zM23.6 157.5h1.3v1.3h-1.3zM23.5 143.7h1.3v1.3h-1.3zM23.2 144.7h1.3v1.3h-1.3zM23.7 141.9h1.3v1.3h-1.3zM23.8 144.2h1.3v1.3h-1.3zM23.7 144.1h1.3v1.3h-1.3zM26.1 134h1.3v1.3h-1.3zM26.4 121.6h1.3v1.3h-1.3zM26.4 124.1h1.3v1.3h-1.3zM26.8 133.4h1.3v1.3h-1.3zM26.6 133.3h1.3v1.3h-1.3zM26.6 131.5h1.3v1.3h-1.3zM27.2 134.4h1.3v1.3h-1.3zM27.2 134.3h1.3v1.3h-1.3zM27.1 124.2h1.3v1.3h-1.3zM27.9 122.8h1.3v1.3h-1.3zM27.6 123.1h1.3v1.3h-1.3zM27.9 121.1h1.3v1.3h-1.3zM28.5 121.3h1.3v1.3h-1.3zM28.5 131.7h1.3v1.3h-1.3zM28.5 122.7h1.3v1.3h-1.3zM29.2 132.2h1.3v1.3h-1.3zM29.1 120.8h1.3v1.3h-1.3zM28.7 124.1h1.3v1.3h-1.3zM29.4 122.8h1.3v1.3h-1.3zM29.4 131.7h1.3v1.3h-1.3zM29.4 131.5h1.3v1.3h-1.3zM29.9 131.4h1.3v1.3h-1.3zM29.9 131.8h1.3v1.3h-1.3zM29.9 124h1.3v1.3h-1.3zM29.2 138.2h1.3v1.3h-1.3zM26.1 141.9h1.3v1.3h-1.3zM26.2 155.7h1.3v1.3h-1.3zM26.1 159.9h1.3v1.3h-1.3zM26.9 156.8h1.3v1.3h-1.3zM26.7 157.6h1.3v1.3h-1.3zM26.6 159.1h1.3v1.3h-1.3zM27.3 145h1.3v1.3h-1.3zM27.6 143.1h1.3v1.3h-1.3zM27.1 143.5h1.3v1.3h-1.3zM28.2 156.6h1.3v1.3h-1.3zM28 155.6h1.3v1.3h-1.3zM28.1 159.3h1.3v1.3h-1.3zM28.6 159.5h1.3v1.3h-1.3zM28.2 142.2h1.3v1.3h-1.3zM28.5 144h1.3v1.3h-1.3zM29.1 155.6h1.3v1.3h-1.3zM28.9 143.4h1.3v1.3h-1.3zM28.9 144.9h1.3v1.3h-1.3zM29.7 158.9h1.3v1.3h-1.3zM29.3 142.5h1.3v1.3h-1.3zM29.8 142.2h1.3v1.3h-1.3zM30.2 156.3h1.3v1.3h-1.3zM30.3 157.8h1.3v1.3h-1.3zM30 155.8h1.3v1.3h-1.3zM30.4 160.1h1.3v1.3h-1.3zM30.9 159.8h1.3v1.3h-1.3zM30.6 156.4h1.3v1.3h-1.3zM31.4 158.7h1.3v1.3h-1.3zM31.1 157.7h1.3v1.3h-1.3zM31.2 140.9h1.3v1.3h-1.3zM31.7 158.7h1.3v1.3h-1.3zM31.7 142.9h1.3v1.3h-1.3zM31.5 140.8h1.3v1.3h-1.3zM32 145.1h1.3v1.3h-1.3zM32.5 156.9h1.3v1.3h-1.3zM32.1 143.8h1.3v1.3h-1.3zM32.7 159h1.3v1.3h-1.3zM33 142.3h1.3v1.3h-1.3zM32.6 156.6h1.3v1.3h-1.3zM33.5 145.1h1.3v1.3h-1.3zM33.5 141.6h1.3v1.3h-1.3zM33.6 155.7h1.3v1.3h-1.3zM34 156.8h1.3v1.3h-1.3zM34 144.3h1.3v1.3h-1.3zM33.8 160.2h1.3v1.3h-1.3zM34.3 145h1.3v1.3h-1.3zM34.6 145h1.3v1.3h-1.3zM34.6 158.5h1.3v1.3h-1.3zM34.8 156.3h1.3v1.3h-1.3zM34.9 157h1.3v1.3h-1.3zM34.8 144.5h1.3v1.3h-1.3zM35.4 157.3h1.3v1.3h-1.3zM35.7 155.8h1.3v1.3h-1.3zM35.8 156.6h1.3v1.3h-1.3zM36.4 143.4h1.3v1.3h-1.3zM36.4 160h1.3v1.3h-1.3zM35.9 141.4h1.3v1.3h-1.3zM36.9 143.3h1.3v1.3h-1.3zM36.6 143.2h1.3v1.3h-1.3zM36.6 158.3h1.3v1.3h-1.3zM37.2 142.9h1.3v1.3h-1.3zM37.1 144.8h1.3v1.3h-1.3zM37.2 141.7h1.3v1.3h-1.3zM37.5 158h1.3v1.3h-1.3zM37.7 156h1.3v1.3h-1.3zM37.9 156.8h1.3v1.3h-1.3zM38.3 157.5h1.3v1.3h-1.3zM38.2 157.6h1.3v1.3h-1.3zM38.6 160h1.3v1.3h-1.3zM38.7 143.7h1.3v1.3h-1.3zM39.1 142.1h1.3v1.3h-1.3zM39.1 159.5h1.3v1.3h-1.3zM39.3 157h1.3v1.3h-1.3zM39.7 144.1h1.3v1.3h-1.3zM39.2 142.6h1.3v1.3h-1.3zM40 141.1h1.3v1.3h-1.3zM39.8 141.3h1.3v1.3h-1.3zM40.3 157.5h1.3v1.3h-1.3zM40.4 144.4h1.3v1.3h-1.3zM40.8 144h1.3v1.3h-1.3zM40.3 156.1h1.3v1.3h-1.3zM41.3 159.4h1.3v1.3h-1.3zM41 145h1.3v1.3h-1.3zM41.1 144.6h1.3v1.3h-1.3zM41.5 143.9h1.3v1.3h-1.3zM41.6 144.4h1.3v1.3h-1.3zM41.8 140.4h1.3v1.3h-1.3zM42.2 157.7h1.3v1.3h-1.3zM42.4 141.7h1.3v1.3h-1.3zM42.1 157h1.3v1.3h-1.3zM42.8 156h1.3v1.3h-1.3zM42.8 159.8h1.3v1.3h-1.3zM42.8 156.4h1.3v1.3h-1.3zM43.4 155.7h1.3v1.3h-1.3zM43.4 159.9h1.3v1.3h-1.3zM43.3 159.9h1.3v1.3h-1.3zM44.1 157h1.3v1.3h-1.3zM44 142.4h1.3v1.3h-1.3zM43.7 144.6h1.3v1.3h-1.3zM44.2 156h1.3v1.3h-1.3zM44.4 156.5h1.3v1.3h-1.3zM44.6 145h1.3v1.3h-1.3zM44.7 155.7h1.3v1.3h-1.3zM45.2 143.7h1.3v1.3h-1.3zM44.9 142.1h1.3v1.3h-1.3zM45.6 141.4h1.3v1.3h-1.3zM45.6 156.1h1.3v1.3h-1.3zM45.6 143.9h1.3v1.3h-1.3zM45.8 157.2h1.3v1.3h-1.3zM45.9 158.9h1.3v1.3h-1.3zM45.8 144.2h1.3v1.3h-1.3zM46.8 159.2h1.3v1.3h-1.3zM46.9 157.1h1.3v1.3h-1.3zM46.6 159.2h1.3v1.3h-1.3zM47.2 155.6h1.3v1.3h-1.3zM47.1 143.9h1.3v1.3h-1.3zM47.1 143.4h1.3v1.3h-1.3zM47.7 144h1.3v1.3h-1.3zM47.5 143.8h1.3v1.3h-1.3zM47.4 157.7h1.3v1.3h-1.3zM48.4 159.5h1.3v1.3h-1.3zM48.5 155.6h1.3v1.3h-1.3zM48.2 156.1h1.3v1.3h-1.3zM48.7 144.4h1.3v1.3h-1.3zM49 157.4h1.3v1.3h-1.3zM48.8 143.2h1.3v1.3h-1.3zM49.4 141.2h1.3v1.3h-1.3zM49.5 143.6h1.3v1.3h-1.3zM49.1 140.7h1.3v1.3h-1.3zM50.1 142.3h1.3v1.3h-1.3zM50.1 144.6h1.3v1.3h-1.3zM50.1 156.1h1.3v1.3h-1.3zM50.5 158.6h1.3v1.3h-1.3zM50.3 144.9h1.3v1.3h-1.3zM50.7 157.3h1.3v1.3h-1.3zM30 160.8h1.3v1.3h-1.3zM40 168.2h1.3v1.3h-1.3zM26.7 166.1h1.3v1.3h-1.3zM27.5 140h1.3v1.3h-1.3zM46.9 166.7h1.3v1.3h-1.3zM43 139.3h1.3v1.3h-1.3zM28 160.6h1.3v1.3h-1.3zM33.7 137.2h1.3v1.3h-1.3zM29.2 162.8h1.3v1.3h-1.3zM29.8 133.2h1.3v1.3h-1.3z" fill="#bad92a"/>
<path d="M51.1 126.5H77.8V136.3H51.1z" fill="#8fca3a"/>
<path d="M50.7 138.8h1.3v1.3h-1.3zM50.6 135.1h1.3v1.3h-1.3zM50.9 137.7h1.3v1.3h-1.3zM51.7 138.1h1.3v1.3h-1.3zM51.3 126.3h1.3v1.3h-1.3zM51.6 124.2h1.3v1.3h-1.3zM52.1 136.7h1.3v1.3h-1.3zM51.7 124.6h1.3v1.3h-1.3zM51.8 123.2h1.3v1.3h-1.3zM52.3 124.1h1.3v1.3h-1.3zM52.4 125.8h1.3v1.3h-1.3zM52.8 135.1h1.3v1.3h-1.3zM53 124.2h1.3v1.3h-1.3zM53.3 135.1h1.3v1.3h-1.3zM53.3 126.2h1.3v1.3h-1.3zM53.4 135.1h1.3v1.3h-1.3zM53.8 126h1.3v1.3h-1.3zM53.4 136h1.3v1.3h-1.3zM54 125.5h1.3v1.3h-1.3zM54.3 137.9h1.3v1.3h-1.3zM54.4 125h1.3v1.3h-1.3zM54.6 135.1h1.3v1.3h-1.3zM54.7 123.9h1.3v1.3h-1.3zM54.9 125.3h1.3v1.3h-1.3zM55.1 137h1.3v1.3h-1.3zM55.5 124.5h1.3v1.3h-1.3zM55.5 136.2h1.3v1.3h-1.3zM55.7 135.5h1.3v1.3h-1.3zM55.8 126.1h1.3v1.3h-1.3zM55.8 126.2h1.3v1.3h-1.3zM56.3 135.9h1.3v1.3h-1.3zM56.6 126.3h1.3v1.3h-1.3zM56.3 137.2h1.3v1.3h-1.3zM56.9 135.2h1.3v1.3h-1.3zM57 136.3h1.3v1.3h-1.3zM57.2 124.5h1.3v1.3h-1.3zM57.4 124.4h1.3v1.3h-1.3zM57.3 122.4h1.3v1.3h-1.3zM57.4 136.6h1.3v1.3h-1.3zM58 123.4h1.3v1.3h-1.3zM58.1 135.1h1.3v1.3h-1.3zM57.8 124.1h1.3v1.3h-1.3zM58.4 122.5h1.3v1.3h-1.3zM58.6 135.4h1.3v1.3h-1.3zM58.6 138.5h1.3v1.3h-1.3zM58.9 125.6h1.3v1.3h-1.3zM59.1 125.8h1.3v1.3h-1.3zM59.2 136.2h1.3v1.3h-1.3zM59.5 124.8h1.3v1.3h-1.3zM59.5 137h1.3v1.3h-1.3zM59.8 135.9h1.3v1.3h-1.3zM60.2 135.1h1.3v1.3h-1.3zM60.4 126.1h1.3v1.3h-1.3zM60.4 135.1h1.3v1.3h-1.3zM60.7 123.1h1.3v1.3h-1.3zM60.8 135.6h1.3v1.3h-1.3zM60.6 126.4h1.3v1.3h-1.3zM61.2 126.1h1.3v1.3h-1.3zM61.2 138.6h1.3v1.3h-1.3zM61.4 135.2h1.3v1.3h-1.3zM61.6 126.1h1.3v1.3h-1.3zM61.9 135.7h1.3v1.3h-1.3zM62.1 135.6h1.3v1.3h-1.3zM62.2 135.5h1.3v1.3h-1.3zM62.7 138h1.3v1.3h-1.3zM62.5 123h1.3v1.3h-1.3zM63.1 137.1h1.3v1.3h-1.3zM63.2 135.1h1.3v1.3h-1.3zM63 124.3h1.3v1.3h-1.3zM63.4 135.2h1.3v1.3h-1.3zM63.2 137h1.3v1.3h-1.3zM63.7 136.2h1.3v1.3h-1.3zM64 137.5h1.3v1.3h-1.3zM63.9 124.8h1.3v1.3h-1.3zM64.1 137.5h1.3v1.3h-1.3zM64.8 136.3h1.3v1.3h-1.3zM64.3 139.1h1.3v1.3h-1.3zM64.7 123.2h1.3v1.3h-1.3zM65.1 137.3h1.3v1.3h-1.3zM65.1 125.4h1.3v1.3h-1.3zM65 126.4h1.3v1.3h-1.3zM65.6 137.8h1.3v1.3h-1.3zM65.8 124.2h1.3v1.3h-1.3zM65.6 125.3h1.3v1.3h-1.3zM66.4 125.1h1.3v1.3h-1.3zM66.2 135.4h1.3v1.3h-1.3zM66.2 135.1h1.3v1.3h-1.3zM66.6 124h1.3v1.3h-1.3zM66.7 124h1.3v1.3h-1.3zM66.7 124.7h1.3v1.3h-1.3zM67.2 137.7h1.3v1.3h-1.3zM67.5 138.4h1.3v1.3h-1.3zM67.2 137.3h1.3v1.3h-1.3zM67.7 122.7h1.3v1.3h-1.3zM68.1 126.1h1.3v1.3h-1.3zM67.6 135.5h1.3v1.3h-1.3zM68.3 138.1h1.3v1.3h-1.3zM68.2 136.5h1.3v1.3h-1.3zM68.4 135.9h1.3v1.3h-1.3zM68.9 136.4h1.3v1.3h-1.3zM69 136.8h1.3v1.3h-1.3zM68.9 125.6h1.3v1.3h-1.3zM69.6 138.6h1.3v1.3h-1.3zM69.8 136.3h1.3v1.3h-1.3zM69.6 135.5h1.3v1.3h-1.3zM70.3 126.3h1.3v1.3h-1.3zM69.9 126.4h1.3v1.3h-1.3zM70 137.3h1.3v1.3h-1.3zM70.5 125.1h1.3v1.3h-1.3zM70.7 137h1.3v1.3h-1.3zM70.8 125.2h1.3v1.3h-1.3zM71.1 135.1h1.3v1.3h-1.3zM71.5 125.2h1.3v1.3h-1.3zM71.4 124.5h1.3v1.3h-1.3zM71.8 126.3h1.3v1.3h-1.3zM72 125.7h1.3v1.3h-1.3zM71.6 135.8h1.3v1.3h-1.3zM72.6 123.7h1.3v1.3h-1.3zM72.1 123h1.3v1.3h-1.3zM72.4 125.1h1.3v1.3h-1.3zM72.9 125.3h1.3v1.3h-1.3zM72.6 126.3h1.3v1.3h-1.3zM72.8 137.8h1.3v1.3h-1.3zM73.6 126.4h1.3v1.3h-1.3zM73.6 135.1h1.3v1.3h-1.3zM73.6 136.2h1.3v1.3h-1.3zM73.8 125.8h1.3v1.3h-1.3zM74.2 126.2h1.3v1.3h-1.3zM73.8 137.2h1.3v1.3h-1.3zM74.8 124h1.3v1.3h-1.3zM74.6 126.4h1.3v1.3h-1.3zM74.5 135.1h1.3v1.3h-1.3zM74.9 136.8h1.3v1.3h-1.3zM75.1 135.1h1.3v1.3h-1.3zM75.3 135.6h1.3v1.3h-1.3zM75.4 123.9h1.3v1.3h-1.3zM75.4 135.1h1.3v1.3h-1.3zM75.6 125.5h1.3v1.3h-1.3zM76.1 124.1h1.3v1.3h-1.3zM76.1 124.7h1.3v1.3h-1.3zM76 135.2h1.3v1.3h-1.3zM76.9 137.8h1.3v1.3h-1.3zM76.6 135.2h1.3v1.3h-1.3zM76.7 126.4h1.3v1.3h-1.3zM67.7 116.4h1.3v1.3h-1.3zM64.1 115h1.3v1.3h-1.3zM56.4 122.2h1.3v1.3h-1.3zM56.9 122.1h1.3v1.3h-1.3zM61.7 122.2h1.3v1.3h-1.3zM63.3 118h1.3v1.3h-1.3zM58.7 122.1h1.3v1.3h-1.3zM68.6 143.7h1.3v1.3h-1.3zM55.2 141.5h1.3v1.3h-1.3zM56.3 146.3h1.3v1.3h-1.3zM53.9 114.5h1.3v1.3h-1.3zM53.9 148.9h1.3v1.3h-1.3z" fill="#8fca3a"/>
<path d="M75.7 143.6H85.3V155.4H75.7zM84.7 126.8H90.8V136.2H84.7zM90.1 116.7H101.8V126.9H90.1z" fill="#74c240"/>
<path d="M75.6 140.4h1.3v1.3h-1.3zM75.4 156.5h1.3v1.3h-1.3zM75.4 155.7h1.3v1.3h-1.3zM76 154.3h1.3v1.3h-1.3zM75.9 143.5h1.3v1.3h-1.3zM75.7 155.1h1.3v1.3h-1.3zM76.7 154.7h1.3v1.3h-1.3zM76.3 143.5h1.3v1.3h-1.3zM76.4 154.3h1.3v1.3h-1.3zM76.7 156.2h1.3v1.3h-1.3zM77.2 141.7h1.3v1.3h-1.3zM77.2 158.4h1.3v1.3h-1.3zM77.8 141h1.3v1.3h-1.3zM77.5 143.1h1.3v1.3h-1.3zM77.5 157.6h1.3v1.3h-1.3zM78.3 143.4h1.3v1.3h-1.3zM77.9 157.9h1.3v1.3h-1.3zM78.3 156.2h1.3v1.3h-1.3zM78.8 158.6h1.3v1.3h-1.3zM78.7 154.2h1.3v1.3h-1.3zM78.4 142.1h1.3v1.3h-1.3zM79.1 156.2h1.3v1.3h-1.3zM79.3 142h1.3v1.3h-1.3zM79.2 142.3h1.3v1.3h-1.3zM79.8 154.9h1.3v1.3h-1.3zM80 157.8h1.3v1.3h-1.3zM79.6 140.7h1.3v1.3h-1.3zM80.2 141.4h1.3v1.3h-1.3zM80.4 139.3h1.3v1.3h-1.3zM80.3 142.7h1.3v1.3h-1.3zM80.7 142.8h1.3v1.3h-1.3zM81.1 142.9h1.3v1.3h-1.3zM81.1 155.8h1.3v1.3h-1.3zM81.6 156.7h1.3v1.3h-1.3zM81.5 154.4h1.3v1.3h-1.3zM81.5 143.2h1.3v1.3h-1.3zM82.1 142.3h1.3v1.3h-1.3zM81.9 154.4h1.3v1.3h-1.3zM81.7 155.6h1.3v1.3h-1.3zM82.5 142.6h1.3v1.3h-1.3zM82.3 158.3h1.3v1.3h-1.3zM82.6 158.3h1.3v1.3h-1.3zM83.2 155.1h1.3v1.3h-1.3zM83.3 154.3h1.3v1.3h-1.3zM82.8 140.1h1.3v1.3h-1.3zM83.3 156.5h1.3v1.3h-1.3zM83.4 156.9h1.3v1.3h-1.3zM83.4 139.1h1.3v1.3h-1.3zM84 157.6h1.3v1.3h-1.3zM84.3 154.6h1.3v1.3h-1.3zM84.3 140.3h1.3v1.3h-1.3zM83.3 135.8h1.3v1.3h-1.3zM75.6 165.6h1.3v1.3h-1.3zM76.1 159.3h1.3v1.3h-1.3zM84.3 136.2h1.3v1.3h-1.3zM84.2 137.9h1.3v1.3h-1.3zM84.3 123.8h1.3v1.3h-1.3zM85 137.5h1.3v1.3h-1.3zM84.8 137.4h1.3v1.3h-1.3zM84.7 126.3h1.3v1.3h-1.3zM85.5 124.2h1.3v1.3h-1.3zM85.5 126.1h1.3v1.3h-1.3zM85.3 135.6h1.3v1.3h-1.3zM85.8 135.1h1.3v1.3h-1.3zM86 123.6h1.3v1.3h-1.3zM86 134.9h1.3v1.3h-1.3zM86.8 136.1h1.3v1.3h-1.3zM86.5 125.6h1.3v1.3h-1.3zM86.8 135h1.3v1.3h-1.3zM87.3 126.8h1.3v1.3h-1.3zM87.3 135.1h1.3v1.3h-1.3zM87.1 123.7h1.3v1.3h-1.3zM87.7 135.1h1.3v1.3h-1.3zM87.5 136.4h1.3v1.3h-1.3zM87.6 126.6h1.3v1.3h-1.3zM88.1 135.2h1.3v1.3h-1.3zM88.1 125.3h1.3v1.3h-1.3zM88.2 124h1.3v1.3h-1.3zM89 136.7h1.3v1.3h-1.3zM88.8 123.3h1.3v1.3h-1.3zM89 125h1.3v1.3h-1.3zM89 135.5h1.3v1.3h-1.3zM89.4 126.7h1.3v1.3h-1.3zM89.2 137.6h1.3v1.3h-1.3zM85.1 142.3h1.3v1.3h-1.3zM86.4 141.9h1.3v1.3h-1.3zM89.7 129.5h1.3v1.3h-1.3zM89.6 128.8h1.3v1.3h-1.3zM89.9 114.1h1.3v1.3h-1.3zM90.4 129.2h1.3v1.3h-1.3zM90.5 127.2h1.3v1.3h-1.3zM90.3 127.4h1.3v1.3h-1.3zM91 116.4h1.3v1.3h-1.3zM91 116h1.3v1.3h-1.3zM90.6 127.9h1.3v1.3h-1.3zM91.4 128.7h1.3v1.3h-1.3zM91.6 127.3h1.3v1.3h-1.3zM91.7 115h1.3v1.3h-1.3zM92.2 116.5h1.3v1.3h-1.3zM92.2 115.4h1.3v1.3h-1.3zM92.1 116.6h1.3v1.3h-1.3zM92.4 113.9h1.3v1.3h-1.3zM92.3 113.1h1.3v1.3h-1.3zM92.8 127.2h1.3v1.3h-1.3zM93.3 113.6h1.3v1.3h-1.3zM92.9 128.6h1.3v1.3h-1.3zM93.3 128.3h1.3v1.3h-1.3zM93.8 125.7h1.3v1.3h-1.3zM93.4 128h1.3v1.3h-1.3zM93.9 127.6h1.3v1.3h-1.3zM94.2 125.7h1.3v1.3h-1.3zM94.1 115h1.3v1.3h-1.3zM94.1 128.2h1.3v1.3h-1.3zM94.4 129.9h1.3v1.3h-1.3zM94.5 116.5h1.3v1.3h-1.3zM94.6 115.6h1.3v1.3h-1.3zM95.2 115.4h1.3v1.3h-1.3zM95.3 127.3h1.3v1.3h-1.3zM95.2 127.2h1.3v1.3h-1.3zM96 113.3h1.3v1.3h-1.3zM95.8 116.5h1.3v1.3h-1.3zM96.1 128.2h1.3v1.3h-1.3zM96.6 114.4h1.3v1.3h-1.3zM96.3 116.2h1.3v1.3h-1.3zM96.1 126.7h1.3v1.3h-1.3zM97.2 127.2h1.3v1.3h-1.3zM97 128.6h1.3v1.3h-1.3zM96.9 116h1.3v1.3h-1.3zM97.4 126.9h1.3v1.3h-1.3zM97.3 125.8h1.3v1.3h-1.3zM97.7 113.3h1.3v1.3h-1.3zM98.2 128.8h1.3v1.3h-1.3zM98.1 126.1h1.3v1.3h-1.3zM97.9 112.4h1.3v1.3h-1.3zM98.5 127.5h1.3v1.3h-1.3zM98.4 128.4h1.3v1.3h-1.3zM98.3 128.2h1.3v1.3h-1.3zM99.2 113.7h1.3v1.3h-1.3zM99.1 113.5h1.3v1.3h-1.3zM99.4 129.8h1.3v1.3h-1.3zM99.4 112.8h1.3v1.3h-1.3zM99.7 126.1h1.3v1.3h-1.3zM99.7 129.7h1.3v1.3h-1.3zM100.3 125.8h1.3v1.3h-1.3zM100.2 114.5h1.3v1.3h-1.3zM100.4 129.5h1.3v1.3h-1.3zM100.7 116.1h1.3v1.3h-1.3zM100.6 125.7h1.3v1.3h-1.3zM100.6 115.7h1.3v1.3h-1.3zM97.6 130.1h1.3v1.3h-1.3zM100 110h1.3v1.3h-1.3zM92.6 112.1h1.3v1.3h-1.3zM90.6 131.6h1.3v1.3h-1.3z" fill="#74c240"/>
<path d="M101.2 126.5H109.1V136.3H101.2zM111.7 126.5H124.8V136.3H111.7z" fill="#66be44"/>
<path d="M101.1 126h1.3v1.3h-1.3zM101.1 136.5h1.3v1.3h-1.3zM101 135.8h1.3v1.3h-1.3zM101.5 138.2h1.3v1.3h-1.3zM101.2 124.8h1.3v1.3h-1.3zM101.2 122.5h1.3v1.3h-1.3zM101.9 138.7h1.3v1.3h-1.3zM101.9 136h1.3v1.3h-1.3zM102.1 126.4h1.3v1.3h-1.3zM102.4 124.9h1.3v1.3h-1.3zM102.6 123.5h1.3v1.3h-1.3zM102.6 122.5h1.3v1.3h-1.3zM102.8 125.6h1.3v1.3h-1.3zM103.1 126h1.3v1.3h-1.3zM103.3 122.5h1.3v1.3h-1.3zM103.4 124.4h1.3v1.3h-1.3zM103.7 135.4h1.3v1.3h-1.3zM103.5 135.2h1.3v1.3h-1.3zM104.3 125.2h1.3v1.3h-1.3zM104 125.2h1.3v1.3h-1.3zM104.2 123.6h1.3v1.3h-1.3zM104.7 124.2h1.3v1.3h-1.3zM104.4 122.9h1.3v1.3h-1.3zM104.9 135.5h1.3v1.3h-1.3zM105.2 135.1h1.3v1.3h-1.3zM105.3 125.2h1.3v1.3h-1.3zM105.5 125.4h1.3v1.3h-1.3zM106 125.9h1.3v1.3h-1.3zM105.7 122.4h1.3v1.3h-1.3zM105.6 126.1h1.3v1.3h-1.3zM106.4 137.3h1.3v1.3h-1.3zM106.2 125.1h1.3v1.3h-1.3zM106.1 135.8h1.3v1.3h-1.3zM106.7 135.7h1.3v1.3h-1.3zM106.6 136.2h1.3v1.3h-1.3zM106.9 126.4h1.3v1.3h-1.3zM107.3 126.2h1.3v1.3h-1.3zM107.3 138.2h1.3v1.3h-1.3zM107.5 126.1h1.3v1.3h-1.3zM108.3 126h1.3v1.3h-1.3zM107.7 122.6h1.3v1.3h-1.3zM107.7 125.9h1.3v1.3h-1.3zM107.9 143.4h1.3v1.3h-1.3zM103.5 116h1.3v1.3h-1.3zM111.1 137.6h1.3v1.3h-1.3zM111.2 135.1h1.3v1.3h-1.3zM111.1 135.5h1.3v1.3h-1.3zM111.6 135.8h1.3v1.3h-1.3zM112.1 123.7h1.3v1.3h-1.3zM111.9 123.5h1.3v1.3h-1.3zM112.6 138.3h1.3v1.3h-1.3zM112.3 123.6h1.3v1.3h-1.3zM112.4 125.5h1.3v1.3h-1.3zM113.1 135.4h1.3v1.3h-1.3zM113.1 137.3h1.3v1.3h-1.3zM113.3 122.6h1.3v1.3h-1.3zM113.3 123.7h1.3v1.3h-1.3zM113.4 123.9h1.3v1.3h-1.3zM113.8 139.1h1.3v1.3h-1.3zM114.2 135.1h1.3v1.3h-1.3zM113.9 136.4h1.3v1.3h-1.3zM114.3 125.8h1.3v1.3h-1.3zM114.5 135.8h1.3v1.3h-1.3zM114.5 125.3h1.3v1.3h-1.3zM114.7 138.2h1.3v1.3h-1.3zM114.9 136h1.3v1.3h-1.3zM115.2 135.1h1.3v1.3h-1.3zM115.3 125.2h1.3v1.3h-1.3zM115.5 124.6h1.3v1.3h-1.3zM115.8 126.3h1.3v1.3h-1.3zM115.6 125.4h1.3v1.3h-1.3zM116.4 135.2h1.3v1.3h-1.3zM116.3 122.8h1.3v1.3h-1.3zM116 138.9h1.3v1.3h-1.3zM116.8 125.8h1.3v1.3h-1.3zM116.9 138.6h1.3v1.3h-1.3zM116.6 124h1.3v1.3h-1.3zM117.6 122.4h1.3v1.3h-1.3zM117.1 126.2h1.3v1.3h-1.3zM117.6 135.5h1.3v1.3h-1.3zM118.1 136.3h1.3v1.3h-1.3zM117.9 123.3h1.3v1.3h-1.3zM117.7 135.8h1.3v1.3h-1.3zM118.6 136.4h1.3v1.3h-1.3zM118.6 125.1h1.3v1.3h-1.3zM118.5 135.1h1.3v1.3h-1.3zM119.3 135.4h1.3v1.3h-1.3zM119.1 135.2h1.3v1.3h-1.3zM118.9 135.2h1.3v1.3h-1.3zM119.7 124.9h1.3v1.3h-1.3zM119.6 137h1.3v1.3h-1.3zM119.8 124.4h1.3v1.3h-1.3zM119.9 138.3h1.3v1.3h-1.3zM120.1 123.8h1.3v1.3h-1.3zM120 135.2h1.3v1.3h-1.3zM120.7 135.4h1.3v1.3h-1.3zM120.6 124.3h1.3v1.3h-1.3zM120.9 136h1.3v1.3h-1.3zM121.5 126.2h1.3v1.3h-1.3zM121.3 126.3h1.3v1.3h-1.3zM121.2 123.3h1.3v1.3h-1.3zM121.6 122.7h1.3v1.3h-1.3zM121.8 126.3h1.3v1.3h-1.3zM121.9 137.3h1.3v1.3h-1.3zM122.1 126.4h1.3v1.3h-1.3zM122.1 122.8h1.3v1.3h-1.3zM122.1 126.4h1.3v1.3h-1.3zM122.9 135.9h1.3v1.3h-1.3zM122.9 135.8h1.3v1.3h-1.3zM123.1 124.8h1.3v1.3h-1.3zM123.7 124.9h1.3v1.3h-1.3zM123.2 123.8h1.3v1.3h-1.3zM123.4 125.5h1.3v1.3h-1.3zM117.2 120.5h1.3v1.3h-1.3zM116.7 143.1h1.3v1.3h-1.3zM123.7 144h1.3v1.3h-1.3zM114.6 142.8h1.3v1.3h-1.3zM111.9 140.2h1.3v1.3h-1.3zM111.7 144.5h1.3v1.3h-1.3z" fill="#66be44"/>
<path d="M124.2 126.5H146.8V136.3H124.2z" fill="#64c040"/>
<path d="M123.6 138.1h1.3v1.3h-1.3zM124.1 125.2h1.3v1.3h-1.3zM123.8 136.1h1.3v1.3h-1.3zM124.3 135.6h1.3v1.3h-1.3zM124.5 126.3h1.3v1.3h-1.3zM124.3 135.1h1.3v1.3h-1.3zM124.8 135.8h1.3v1.3h-1.3zM124.7 125.5h1.3v1.3h-1.3zM124.8 138.9h1.3v1.3h-1.3zM125.8 125.8h1.3v1.3h-1.3zM125.6 125.4h1.3v1.3h-1.3zM125.4 124.7h1.3v1.3h-1.3zM126.1 126.4h1.3v1.3h-1.3zM126.3 124.7h1.3v1.3h-1.3zM126.1 135.7h1.3v1.3h-1.3zM126.4 135.6h1.3v1.3h-1.3zM126.4 125h1.3v1.3h-1.3zM126.7 135.6h1.3v1.3h-1.3zM127.1 124.9h1.3v1.3h-1.3zM127.2 138.3h1.3v1.3h-1.3zM127.3 137.3h1.3v1.3h-1.3zM127.6 126.3h1.3v1.3h-1.3zM127.4 138h1.3v1.3h-1.3zM127.6 138.4h1.3v1.3h-1.3zM128 135.2h1.3v1.3h-1.3zM128.3 123.4h1.3v1.3h-1.3zM128.1 123.2h1.3v1.3h-1.3zM128.6 126h1.3v1.3h-1.3zM128.8 126h1.3v1.3h-1.3zM129.1 124.6h1.3v1.3h-1.3zM129.2 124.7h1.3v1.3h-1.3zM129.4 124.5h1.3v1.3h-1.3zM129.1 136.9h1.3v1.3h-1.3zM130 126.4h1.3v1.3h-1.3zM129.8 136.6h1.3v1.3h-1.3zM130.2 122.8h1.3v1.3h-1.3zM130.3 122.4h1.3v1.3h-1.3zM130.3 126h1.3v1.3h-1.3zM130.2 123.9h1.3v1.3h-1.3zM131.2 125.1h1.3v1.3h-1.3zM130.9 125.3h1.3v1.3h-1.3zM131.2 135.7h1.3v1.3h-1.3zM131.8 135.3h1.3v1.3h-1.3zM131.3 136h1.3v1.3h-1.3zM131.8 137.6h1.3v1.3h-1.3zM131.9 126.2h1.3v1.3h-1.3zM132.2 126.4h1.3v1.3h-1.3zM131.9 137.8h1.3v1.3h-1.3zM132.7 124.1h1.3v1.3h-1.3zM132.9 135.1h1.3v1.3h-1.3zM132.8 135.1h1.3v1.3h-1.3zM133.1 126.3h1.3v1.3h-1.3zM133.5 126h1.3v1.3h-1.3zM133.3 123.2h1.3v1.3h-1.3zM134 137.9h1.3v1.3h-1.3zM133.5 135.5h1.3v1.3h-1.3zM133.5 126.1h1.3v1.3h-1.3zM134.6 126.3h1.3v1.3h-1.3zM134.2 126.4h1.3v1.3h-1.3zM134.1 126h1.3v1.3h-1.3zM134.9 125.7h1.3v1.3h-1.3zM134.7 124.6h1.3v1.3h-1.3zM135 135.4h1.3v1.3h-1.3zM135.2 125h1.3v1.3h-1.3zM135.1 126.2h1.3v1.3h-1.3zM135.5 135.2h1.3v1.3h-1.3zM135.9 135.9h1.3v1.3h-1.3zM135.7 122.6h1.3v1.3h-1.3zM135.9 125.3h1.3v1.3h-1.3zM136.8 136.1h1.3v1.3h-1.3zM136.2 124.4h1.3v1.3h-1.3zM136.2 138.2h1.3v1.3h-1.3zM136.9 135.2h1.3v1.3h-1.3zM137.3 136.9h1.3v1.3h-1.3zM136.9 126.4h1.3v1.3h-1.3zM137.5 125.1h1.3v1.3h-1.3zM137.5 123.5h1.3v1.3h-1.3zM137.8 135.5h1.3v1.3h-1.3zM138 122.7h1.3v1.3h-1.3zM137.9 124.7h1.3v1.3h-1.3zM138.1 138.4h1.3v1.3h-1.3zM138.5 136.2h1.3v1.3h-1.3zM138.8 125.6h1.3v1.3h-1.3zM138.5 124.7h1.3v1.3h-1.3zM139.1 125h1.3v1.3h-1.3zM139.5 137.1h1.3v1.3h-1.3zM139.2 136.6h1.3v1.3h-1.3zM139.5 136.5h1.3v1.3h-1.3zM139.7 135.1h1.3v1.3h-1.3zM139.6 125.8h1.3v1.3h-1.3zM140.3 135.1h1.3v1.3h-1.3zM140.1 126h1.3v1.3h-1.3zM140.4 135.1h1.3v1.3h-1.3zM140.6 124.4h1.3v1.3h-1.3zM141 125.3h1.3v1.3h-1.3zM141 126.4h1.3v1.3h-1.3zM141.3 126.4h1.3v1.3h-1.3zM141.3 123.3h1.3v1.3h-1.3zM141.4 138.9h1.3v1.3h-1.3zM141.7 135.2h1.3v1.3h-1.3zM142.2 135.1h1.3v1.3h-1.3zM141.8 135.2h1.3v1.3h-1.3zM142.8 125.7h1.3v1.3h-1.3zM142.8 124.1h1.3v1.3h-1.3zM142.7 123.8h1.3v1.3h-1.3zM143.4 136.8h1.3v1.3h-1.3zM143 125.1h1.3v1.3h-1.3zM143.1 122.9h1.3v1.3h-1.3zM143.8 135.7h1.3v1.3h-1.3zM143.9 136.2h1.3v1.3h-1.3zM143.4 125.8h1.3v1.3h-1.3zM144.3 135.6h1.3v1.3h-1.3zM144.2 135.1h1.3v1.3h-1.3zM144 135.1h1.3v1.3h-1.3zM145 126.4h1.3v1.3h-1.3zM145 123.7h1.3v1.3h-1.3zM144.7 138.8h1.3v1.3h-1.3zM145 124.3h1.3v1.3h-1.3zM145.2 136.3h1.3v1.3h-1.3zM145.3 135.2h1.3v1.3h-1.3zM132.3 118.9h1.3v1.3h-1.3zM132.3 146.6h1.3v1.3h-1.3zM143.8 139.4h1.3v1.3h-1.3zM142.7 140.7h1.3v1.3h-1.3zM126.4 119.5h1.3v1.3h-1.3zM140.2 139.9h1.3v1.3h-1.3zM141.7 121.8h1.3v1.3h-1.3zM132.9 141.5h1.3v1.3h-1.3zM140.7 147.5h1.3v1.3h-1.3z" fill="#64c040"/>
<path d="M146.2 126.5H169.3V136.3H146.2z" fill="#5fbc82"/>
<path d="M145.6 136.6h1.3v1.3h-1.3zM145.9 125.7h1.3v1.3h-1.3zM146.1 136.4h1.3v1.3h-1.3zM146.3 123.6h1.3v1.3h-1.3zM146.3 138.7h1.3v1.3h-1.3zM146.2 125h1.3v1.3h-1.3zM147.2 125.9h1.3v1.3h-1.3zM147.2 137.7h1.3v1.3h-1.3zM147.1 123.3h1.3v1.3h-1.3zM147.2 124.6h1.3v1.3h-1.3zM147.4 122.7h1.3v1.3h-1.3zM147.5 136.1h1.3v1.3h-1.3zM147.9 138.3h1.3v1.3h-1.3zM148 123.7h1.3v1.3h-1.3zM148.1 135.3h1.3v1.3h-1.3zM148.4 122.4h1.3v1.3h-1.3zM148.5 124.5h1.3v1.3h-1.3zM148.4 125h1.3v1.3h-1.3zM149.3 138.3h1.3v1.3h-1.3zM149.3 137.9h1.3v1.3h-1.3zM149.4 124.9h1.3v1.3h-1.3zM149.9 135.1h1.3v1.3h-1.3zM149.7 137.8h1.3v1.3h-1.3zM149.4 124.9h1.3v1.3h-1.3zM150.3 125.8h1.3v1.3h-1.3zM150.2 135.3h1.3v1.3h-1.3zM150.3 126.4h1.3v1.3h-1.3zM151 136.2h1.3v1.3h-1.3zM151.1 136.6h1.3v1.3h-1.3zM151 126.1h1.3v1.3h-1.3zM151.3 125.4h1.3v1.3h-1.3zM151.6 123h1.3v1.3h-1.3zM151.4 136.6h1.3v1.3h-1.3zM151.9 135.2h1.3v1.3h-1.3zM152.1 136.1h1.3v1.3h-1.3zM152.2 123.3h1.3v1.3h-1.3zM152.6 126.2h1.3v1.3h-1.3zM152.6 122.8h1.3v1.3h-1.3zM152.3 135.1h1.3v1.3h-1.3zM152.8 138.8h1.3v1.3h-1.3zM152.9 124.9h1.3v1.3h-1.3zM153.1 137.2h1.3v1.3h-1.3zM153.5 125.8h1.3v1.3h-1.3zM153.5 136.7h1.3v1.3h-1.3zM153.3 135.6h1.3v1.3h-1.3zM154.3 126.2h1.3v1.3h-1.3zM154.3 123.8h1.3v1.3h-1.3zM154.3 126h1.3v1.3h-1.3zM154.4 136.2h1.3v1.3h-1.3zM154.6 135.1h1.3v1.3h-1.3zM154.8 136.9h1.3v1.3h-1.3zM155.5 138.2h1.3v1.3h-1.3zM155 125.6h1.3v1.3h-1.3zM155.1 137.8h1.3v1.3h-1.3zM155.5 139.1h1.3v1.3h-1.3zM155.9 123.2h1.3v1.3h-1.3zM156 136.4h1.3v1.3h-1.3zM156.5 123.1h1.3v1.3h-1.3zM156.1 126.4h1.3v1.3h-1.3zM156.4 135.9h1.3v1.3h-1.3zM156.6 137h1.3v1.3h-1.3zM156.7 136.8h1.3v1.3h-1.3zM156.9 135.2h1.3v1.3h-1.3zM157.6 138.4h1.3v1.3h-1.3zM157.6 124.4h1.3v1.3h-1.3zM157.4 126.1h1.3v1.3h-1.3zM157.7 125.8h1.3v1.3h-1.3zM157.9 122.8h1.3v1.3h-1.3zM158.1 125h1.3v1.3h-1.3zM158.2 126.1h1.3v1.3h-1.3zM158.4 135.1h1.3v1.3h-1.3zM158.8 136.5h1.3v1.3h-1.3zM159 125.5h1.3v1.3h-1.3zM159 125.1h1.3v1.3h-1.3zM158.8 137.4h1.3v1.3h-1.3zM159.9 138.8h1.3v1.3h-1.3zM159.6 126.4h1.3v1.3h-1.3zM159.9 126.3h1.3v1.3h-1.3zM159.9 136.4h1.3v1.3h-1.3zM160.4 126.2h1.3v1.3h-1.3zM159.9 124.3h1.3v1.3h-1.3zM160.9 138.9h1.3v1.3h-1.3zM160.9 122.5h1.3v1.3h-1.3zM160.5 125.2h1.3v1.3h-1.3zM161.1 137.9h1.3v1.3h-1.3zM161.2 124.1h1.3v1.3h-1.3zM161.4 125.2h1.3v1.3h-1.3zM161.8 138.8h1.3v1.3h-1.3zM162 135.1h1.3v1.3h-1.3zM161.7 123.4h1.3v1.3h-1.3zM162.6 122.9h1.3v1.3h-1.3zM162.5 125.7h1.3v1.3h-1.3zM162.6 138.2h1.3v1.3h-1.3zM163 135.6h1.3v1.3h-1.3zM162.6 124.9h1.3v1.3h-1.3zM163 135.1h1.3v1.3h-1.3zM163.2 125h1.3v1.3h-1.3zM163.2 123.1h1.3v1.3h-1.3zM163.6 135.9h1.3v1.3h-1.3zM164.3 135.1h1.3v1.3h-1.3zM164 136.4h1.3v1.3h-1.3zM164.2 125.5h1.3v1.3h-1.3zM164.6 125.3h1.3v1.3h-1.3zM164.6 125.7h1.3v1.3h-1.3zM164.5 125h1.3v1.3h-1.3zM165.1 125.2h1.3v1.3h-1.3zM164.9 123.2h1.3v1.3h-1.3zM165.1 124.6h1.3v1.3h-1.3zM165.6 135.7h1.3v1.3h-1.3zM165.9 125.4h1.3v1.3h-1.3zM165.6 136.1h1.3v1.3h-1.3zM166.4 137.2h1.3v1.3h-1.3zM166.1 135.4h1.3v1.3h-1.3zM166 124.9h1.3v1.3h-1.3zM166.7 126.4h1.3v1.3h-1.3zM166.8 122.8h1.3v1.3h-1.3zM167 135.1h1.3v1.3h-1.3zM167.1 135.7h1.3v1.3h-1.3zM167.5 122.4h1.3v1.3h-1.3zM167.4 126.3h1.3v1.3h-1.3zM167.7 135.1h1.3v1.3h-1.3zM168.1 123.9h1.3v1.3h-1.3zM167.8 124.6h1.3v1.3h-1.3zM147.8 122.2h1.3v1.3h-1.3zM155.2 146.3h1.3v1.3h-1.3zM163 117.9h1.3v1.3h-1.3zM152.1 139.8h1.3v1.3h-1.3zM147.5 122h1.3v1.3h-1.3zM164.7 122.2h1.3v1.3h-1.3zM162.3 145.4h1.3v1.3h-1.3zM158.5 122h1.3v1.3h-1.3zM146.6 122.1h1.3v1.3h-1.3zM162.8 112.2h1.3v1.3h-1.3z" fill="#5fbc82"/>
<path d="M168.7 126.5H190.9V136.3H168.7z" fill="#64c4bc"/>
<path d="M168.1 135.4h1.3v1.3h-1.3zM168.3 136.3h1.3v1.3h-1.3zM168.2 126.3h1.3v1.3h-1.3zM168.9 122.9h1.3v1.3h-1.3zM168.7 125h1.3v1.3h-1.3zM168.8 126.3h1.3v1.3h-1.3zM169.6 126.4h1.3v1.3h-1.3zM169.2 136.7h1.3v1.3h-1.3zM169.5 138.2h1.3v1.3h-1.3zM170.1 135.5h1.3v1.3h-1.3zM169.8 138.9h1.3v1.3h-1.3zM169.8 125.9h1.3v1.3h-1.3zM170.7 138h1.3v1.3h-1.3zM170.6 135.7h1.3v1.3h-1.3zM170.8 124.8h1.3v1.3h-1.3zM171.1 135.3h1.3v1.3h-1.3zM171.3 135.3h1.3v1.3h-1.3zM171.2 125.6h1.3v1.3h-1.3zM171.9 125.9h1.3v1.3h-1.3zM171.8 124h1.3v1.3h-1.3zM171.8 138.9h1.3v1.3h-1.3zM171.9 135.6h1.3v1.3h-1.3zM172.1 123.5h1.3v1.3h-1.3zM172.4 137.4h1.3v1.3h-1.3zM172.6 135.1h1.3v1.3h-1.3zM172.7 123.6h1.3v1.3h-1.3zM172.8 138.5h1.3v1.3h-1.3zM173.4 137.6h1.3v1.3h-1.3zM173.6 125h1.3v1.3h-1.3zM173.5 125.1h1.3v1.3h-1.3zM173.9 124.1h1.3v1.3h-1.3zM174.1 124.8h1.3v1.3h-1.3zM173.7 135.6h1.3v1.3h-1.3zM174.3 125.2h1.3v1.3h-1.3zM174.1 125.3h1.3v1.3h-1.3zM174.6 137.9h1.3v1.3h-1.3zM174.9 135.5h1.3v1.3h-1.3zM175.1 136.2h1.3v1.3h-1.3zM175.1 126.3h1.3v1.3h-1.3zM175.7 125.5h1.3v1.3h-1.3zM175.7 126h1.3v1.3h-1.3zM175.6 124.1h1.3v1.3h-1.3zM176.1 126.4h1.3v1.3h-1.3zM175.9 137.3h1.3v1.3h-1.3zM176.1 138.3h1.3v1.3h-1.3zM176.8 126.3h1.3v1.3h-1.3zM176.4 126.4h1.3v1.3h-1.3zM176.8 137.2h1.3v1.3h-1.3zM177.3 135.2h1.3v1.3h-1.3zM177.2 124.8h1.3v1.3h-1.3zM177 135.9h1.3v1.3h-1.3zM177.9 139.1h1.3v1.3h-1.3zM177.5 122.5h1.3v1.3h-1.3zM177.6 122.4h1.3v1.3h-1.3zM178.4 135.9h1.3v1.3h-1.3zM178.5 135.1h1.3v1.3h-1.3zM178.1 136.7h1.3v1.3h-1.3zM178.7 135.2h1.3v1.3h-1.3zM178.9 125.9h1.3v1.3h-1.3zM179.1 124.9h1.3v1.3h-1.3zM179.1 135.2h1.3v1.3h-1.3zM179.6 138.2h1.3v1.3h-1.3zM179.6 125.8h1.3v1.3h-1.3zM180 126.1h1.3v1.3h-1.3zM180.1 123.3h1.3v1.3h-1.3zM179.7 125.1h1.3v1.3h-1.3zM180.5 124.1h1.3v1.3h-1.3zM180.5 125.1h1.3v1.3h-1.3zM180.2 135.6h1.3v1.3h-1.3zM180.8 135.1h1.3v1.3h-1.3zM181.1 122.9h1.3v1.3h-1.3zM181.2 125.4h1.3v1.3h-1.3zM181.4 135.6h1.3v1.3h-1.3zM181.5 125.2h1.3v1.3h-1.3zM181.3 122.4h1.3v1.3h-1.3zM182.2 123.1h1.3v1.3h-1.3zM182 136.4h1.3v1.3h-1.3zM182.1 125h1.3v1.3h-1.3zM182.5 125.5h1.3v1.3h-1.3zM182.6 125.1h1.3v1.3h-1.3zM182.9 136.4h1.3v1.3h-1.3zM183.3 125h1.3v1.3h-1.3zM183.1 135.2h1.3v1.3h-1.3zM183.2 125.9h1.3v1.3h-1.3zM183.9 125.9h1.3v1.3h-1.3zM183.5 135.9h1.3v1.3h-1.3zM183.8 137h1.3v1.3h-1.3zM184.4 135.2h1.3v1.3h-1.3zM184.3 136.3h1.3v1.3h-1.3zM184.5 135.9h1.3v1.3h-1.3zM184.7 138.6h1.3v1.3h-1.3zM184.6 125.6h1.3v1.3h-1.3zM184.9 125.8h1.3v1.3h-1.3zM185.2 136.4h1.3v1.3h-1.3zM185.3 125.8h1.3v1.3h-1.3zM185.6 126.4h1.3v1.3h-1.3zM186.2 138.4h1.3v1.3h-1.3zM185.7 135.5h1.3v1.3h-1.3zM186 122.6h1.3v1.3h-1.3zM186.7 135.1h1.3v1.3h-1.3zM186.6 124.5h1.3v1.3h-1.3zM186.6 124.4h1.3v1.3h-1.3zM186.9 123.5h1.3v1.3h-1.3zM187.3 126h1.3v1.3h-1.3zM186.9 124h1.3v1.3h-1.3zM187.5 126.2h1.3v1.3h-1.3zM187.7 122.5h1.3v1.3h-1.3zM187.4 135.1h1.3v1.3h-1.3zM188.3 137.9h1.3v1.3h-1.3zM187.9 125.7h1.3v1.3h-1.3zM188.2 124.9h1.3v1.3h-1.3zM188.6 123.8h1.3v1.3h-1.3zM188.5 124.2h1.3v1.3h-1.3zM188.8 124h1.3v1.3h-1.3zM189.4 124h1.3v1.3h-1.3zM189.1 124h1.3v1.3h-1.3zM189.4 135.1h1.3v1.3h-1.3zM190 135.1h1.3v1.3h-1.3zM190.1 135.2h1.3v1.3h-1.3zM190 137.1h1.3v1.3h-1.3zM178.9 122h1.3v1.3h-1.3zM179.1 121.4h1.3v1.3h-1.3zM176.9 116.8h1.3v1.3h-1.3zM185.6 116.5h1.3v1.3h-1.3zM178.2 122.2h1.3v1.3h-1.3zM173 117.7h1.3v1.3h-1.3zM176.7 116h1.3v1.3h-1.3zM183.6 142.4h1.3v1.3h-1.3zM175.8 118.2h1.3v1.3h-1.3z" fill="#64c4bc"/>
<path d="M193.1 126.5H209.8V136.3H193.1z" fill="#4ac2ec"/>
<path d="M192.8 135.3h1.3v1.3h-1.3zM192.9 123.8h1.3v1.3h-1.3zM192.6 126.3h1.3v1.3h-1.3zM193.6 135.1h1.3v1.3h-1.3zM193.4 139.1h1.3v1.3h-1.3zM193.2 122.9h1.3v1.3h-1.3zM193.9 135.1h1.3v1.3h-1.3zM194 135.1h1.3v1.3h-1.3zM194.1 126.4h1.3v1.3h-1.3zM194.5 124.7h1.3v1.3h-1.3zM194.4 137.7h1.3v1.3h-1.3zM194.2 123.6h1.3v1.3h-1.3zM195.2 136.1h1.3v1.3h-1.3zM194.9 136.7h1.3v1.3h-1.3zM194.7 124.4h1.3v1.3h-1.3zM195.3 126.4h1.3v1.3h-1.3zM195.8 123.5h1.3v1.3h-1.3zM195.5 136.7h1.3v1.3h-1.3zM195.9 126.4h1.3v1.3h-1.3zM195.8 126.2h1.3v1.3h-1.3zM196.2 136.3h1.3v1.3h-1.3zM196.3 123.6h1.3v1.3h-1.3zM196.8 124.7h1.3v1.3h-1.3zM196.9 135.2h1.3v1.3h-1.3zM197.2 126h1.3v1.3h-1.3zM197 135.5h1.3v1.3h-1.3zM197.2 124.9h1.3v1.3h-1.3zM197.5 135.1h1.3v1.3h-1.3zM197.9 135.2h1.3v1.3h-1.3zM197.4 137.6h1.3v1.3h-1.3zM198.3 124h1.3v1.3h-1.3zM198.5 126.4h1.3v1.3h-1.3zM198 125.8h1.3v1.3h-1.3zM198.6 123.1h1.3v1.3h-1.3zM199.1 125.7h1.3v1.3h-1.3zM198.5 125.3h1.3v1.3h-1.3zM199.5 137.8h1.3v1.3h-1.3zM199.1 126.3h1.3v1.3h-1.3zM199.2 136h1.3v1.3h-1.3zM199.8 124.8h1.3v1.3h-1.3zM200.2 138h1.3v1.3h-1.3zM199.7 122.7h1.3v1.3h-1.3zM200.7 124.8h1.3v1.3h-1.3zM200.5 136.3h1.3v1.3h-1.3zM200.4 138.5h1.3v1.3h-1.3zM200.8 135.1h1.3v1.3h-1.3zM201.1 138.2h1.3v1.3h-1.3zM201.1 135.8h1.3v1.3h-1.3zM201.5 135.2h1.3v1.3h-1.3zM201.6 125h1.3v1.3h-1.3zM201.8 124.8h1.3v1.3h-1.3zM202.3 137.8h1.3v1.3h-1.3zM202.2 138.6h1.3v1.3h-1.3zM202.2 124.9h1.3v1.3h-1.3zM202.5 124.3h1.3v1.3h-1.3zM202.8 139h1.3v1.3h-1.3zM202.4 138.2h1.3v1.3h-1.3zM203.3 124.6h1.3v1.3h-1.3zM203.5 135.5h1.3v1.3h-1.3zM203.2 126.4h1.3v1.3h-1.3zM203.9 125.4h1.3v1.3h-1.3zM203.7 136h1.3v1.3h-1.3zM203.9 139.1h1.3v1.3h-1.3zM204.5 126.2h1.3v1.3h-1.3zM204.6 136.4h1.3v1.3h-1.3zM204.1 138.5h1.3v1.3h-1.3zM204.6 135.1h1.3v1.3h-1.3zM204.9 137h1.3v1.3h-1.3zM204.9 135.1h1.3v1.3h-1.3zM205.4 126.2h1.3v1.3h-1.3zM205.7 135.6h1.3v1.3h-1.3zM205.6 135.2h1.3v1.3h-1.3zM205.7 135.7h1.3v1.3h-1.3zM206.1 135.5h1.3v1.3h-1.3zM206.1 125.8h1.3v1.3h-1.3zM206.7 123.1h1.3v1.3h-1.3zM206.5 135.1h1.3v1.3h-1.3zM206.3 135.3h1.3v1.3h-1.3zM206.8 123.9h1.3v1.3h-1.3zM206.8 135.2h1.3v1.3h-1.3zM206.9 135.3h1.3v1.3h-1.3zM207.5 126h1.3v1.3h-1.3zM207.6 125.2h1.3v1.3h-1.3zM207.3 125.8h1.3v1.3h-1.3zM208.2 125.2h1.3v1.3h-1.3zM208.4 126.2h1.3v1.3h-1.3zM208.2 124.3h1.3v1.3h-1.3zM208.6 136.8h1.3v1.3h-1.3zM208.4 135.6h1.3v1.3h-1.3zM208.8 122.8h1.3v1.3h-1.3zM207.9 118.1h1.3v1.3h-1.3zM202.3 122.1h1.3v1.3h-1.3zM201.8 140.8h1.3v1.3h-1.3zM194.7 121.7h1.3v1.3h-1.3zM196.9 142.1h1.3v1.3h-1.3zM204.7 139.7h1.3v1.3h-1.3zM204.1 115.2h1.3v1.3h-1.3z" fill="#4ac2ec"/>
<path d="M211.8 126.5H227.7V136.3H211.8z" fill="#3e8ed6"/>
<path d="M211.4 137.8h1.3v1.3h-1.3zM211.4 124.1h1.3v1.3h-1.3zM211.7 135.3h1.3v1.3h-1.3zM212.2 125.8h1.3v1.3h-1.3zM212.1 125.8h1.3v1.3h-1.3zM212.2 135.2h1.3v1.3h-1.3zM212.7 124.4h1.3v1.3h-1.3zM212.8 125.9h1.3v1.3h-1.3zM212.6 124.8h1.3v1.3h-1.3zM213 123.2h1.3v1.3h-1.3zM213.2 122.7h1.3v1.3h-1.3zM213.5 125h1.3v1.3h-1.3zM213.5 136.3h1.3v1.3h-1.3zM213.7 122.6h1.3v1.3h-1.3zM213.8 136.6h1.3v1.3h-1.3zM214.4 123.3h1.3v1.3h-1.3zM214.1 122.9h1.3v1.3h-1.3zM214.6 135.2h1.3v1.3h-1.3zM214.6 137.9h1.3v1.3h-1.3zM214.7 126.1h1.3v1.3h-1.3zM215 124h1.3v1.3h-1.3zM215.3 135.8h1.3v1.3h-1.3zM215.3 124.2h1.3v1.3h-1.3zM215.3 136.5h1.3v1.3h-1.3zM215.9 137.8h1.3v1.3h-1.3zM215.7 136.9h1.3v1.3h-1.3zM216.1 122.5h1.3v1.3h-1.3zM216.4 125.5h1.3v1.3h-1.3zM216.4 124.5h1.3v1.3h-1.3zM216.4 135.4h1.3v1.3h-1.3zM217.3 135.1h1.3v1.3h-1.3zM217 126.3h1.3v1.3h-1.3zM217.2 135.6h1.3v1.3h-1.3zM217.7 136.5h1.3v1.3h-1.3zM217.6 135.1h1.3v1.3h-1.3zM217.5 135.7h1.3v1.3h-1.3zM218.1 123.3h1.3v1.3h-1.3zM218.3 136.9h1.3v1.3h-1.3zM218.3 136.2h1.3v1.3h-1.3zM218.5 122.4h1.3v1.3h-1.3zM218.4 137.3h1.3v1.3h-1.3zM218.7 135.6h1.3v1.3h-1.3zM219.2 126.4h1.3v1.3h-1.3zM219 138.8h1.3v1.3h-1.3zM219.3 126.1h1.3v1.3h-1.3zM219.9 123.3h1.3v1.3h-1.3zM219.7 135.1h1.3v1.3h-1.3zM219.6 135.2h1.3v1.3h-1.3zM220.3 125.3h1.3v1.3h-1.3zM220.3 124.4h1.3v1.3h-1.3zM220.6 126.2h1.3v1.3h-1.3zM220.7 126.3h1.3v1.3h-1.3zM221.1 122.4h1.3v1.3h-1.3zM220.6 135.1h1.3v1.3h-1.3zM221.3 137.6h1.3v1.3h-1.3zM221.7 125.9h1.3v1.3h-1.3zM221.5 137h1.3v1.3h-1.3zM221.9 135.4h1.3v1.3h-1.3zM222.1 135.4h1.3v1.3h-1.3zM222.3 125.2h1.3v1.3h-1.3zM222.5 125.2h1.3v1.3h-1.3zM222.7 136.1h1.3v1.3h-1.3zM222.8 124.1h1.3v1.3h-1.3zM222.9 138.8h1.3v1.3h-1.3zM223 135.8h1.3v1.3h-1.3zM223 126.4h1.3v1.3h-1.3zM223.8 122.8h1.3v1.3h-1.3zM223.8 123.6h1.3v1.3h-1.3zM223.8 137.2h1.3v1.3h-1.3zM224.4 135.3h1.3v1.3h-1.3zM224.2 135.3h1.3v1.3h-1.3zM224.3 136.3h1.3v1.3h-1.3zM224.7 138.5h1.3v1.3h-1.3zM224.9 137.8h1.3v1.3h-1.3zM225 123.4h1.3v1.3h-1.3zM225.2 122.7h1.3v1.3h-1.3zM225.5 135.8h1.3v1.3h-1.3zM225.6 136.7h1.3v1.3h-1.3zM226.1 126.4h1.3v1.3h-1.3zM226 124h1.3v1.3h-1.3zM225.7 125.4h1.3v1.3h-1.3zM226.5 124.9h1.3v1.3h-1.3zM226.4 135.4h1.3v1.3h-1.3zM226.6 139h1.3v1.3h-1.3zM218 142.2h1.3v1.3h-1.3zM226.3 121.8h1.3v1.3h-1.3zM212.2 139.9h1.3v1.3h-1.3zM221.8 144.4h1.3v1.3h-1.3zM224.3 121.7h1.3v1.3h-1.3zM211.6 120.2h1.3v1.3h-1.3zM221.3 147.4h1.3v1.3h-1.3z" fill="#3e8ed6"/>
<path d="M229.2 143.6H232.9V156.4H229.2zM232.2 126.5H244.2V136.3H232.2z" fill="#3a62c6"/>
<path d="M229.1 156.2h1.3v1.3h-1.3zM229.1 158.9h1.3v1.3h-1.3zM228.7 155.8h1.3v1.3h-1.3zM229.3 143.2h1.3v1.3h-1.3zM229.8 155.2h1.3v1.3h-1.3zM229.7 155.3h1.3v1.3h-1.3zM229.8 158.6h1.3v1.3h-1.3zM230.2 157h1.3v1.3h-1.3zM230.2 141h1.3v1.3h-1.3zM230.4 158h1.3v1.3h-1.3zM230.7 157h1.3v1.3h-1.3zM230.9 157.4h1.3v1.3h-1.3zM231 155.5h1.3v1.3h-1.3zM231.2 141.4h1.3v1.3h-1.3zM230.9 157.2h1.3v1.3h-1.3zM231.6 160h1.3v1.3h-1.3zM231.8 155.6h1.3v1.3h-1.3zM231.6 143.6h1.3v1.3h-1.3zM230.7 136.2h1.3v1.3h-1.3zM231.8 126.1h1.3v1.3h-1.3zM231.8 126.4h1.3v1.3h-1.3zM231.9 125.8h1.3v1.3h-1.3zM232.6 126.4h1.3v1.3h-1.3zM232.4 125.7h1.3v1.3h-1.3zM232.6 136.1h1.3v1.3h-1.3zM232.9 126.3h1.3v1.3h-1.3zM233.3 135.8h1.3v1.3h-1.3zM233 124.2h1.3v1.3h-1.3zM233.8 124.1h1.3v1.3h-1.3zM233.8 123.1h1.3v1.3h-1.3zM233.7 137.7h1.3v1.3h-1.3zM234.4 136.4h1.3v1.3h-1.3zM234.4 138.7h1.3v1.3h-1.3zM234.1 136.7h1.3v1.3h-1.3zM234.9 136.1h1.3v1.3h-1.3zM234.8 126.4h1.3v1.3h-1.3zM234.7 126.1h1.3v1.3h-1.3zM235.3 123.7h1.3v1.3h-1.3zM235.3 124.4h1.3v1.3h-1.3zM235.2 124.2h1.3v1.3h-1.3zM236.1 136.7h1.3v1.3h-1.3zM235.7 138.2h1.3v1.3h-1.3zM235.9 125.3h1.3v1.3h-1.3zM236.1 137h1.3v1.3h-1.3zM236.5 125.5h1.3v1.3h-1.3zM236.4 137.3h1.3v1.3h-1.3zM237.1 135.3h1.3v1.3h-1.3zM236.9 137.5h1.3v1.3h-1.3zM237.2 125.9h1.3v1.3h-1.3zM237.4 122.7h1.3v1.3h-1.3zM237.7 125.6h1.3v1.3h-1.3zM237.2 123.1h1.3v1.3h-1.3zM238.2 135.2h1.3v1.3h-1.3zM238.2 125.3h1.3v1.3h-1.3zM238 125.8h1.3v1.3h-1.3zM238.7 123.5h1.3v1.3h-1.3zM238.6 126h1.3v1.3h-1.3zM238.4 124.7h1.3v1.3h-1.3zM238.9 126.2h1.3v1.3h-1.3zM239.2 126.3h1.3v1.3h-1.3zM238.8 124.5h1.3v1.3h-1.3zM239.5 138.6h1.3v1.3h-1.3zM239.9 126.4h1.3v1.3h-1.3zM239.6 139h1.3v1.3h-1.3zM240.4 125.2h1.3v1.3h-1.3zM240 137.7h1.3v1.3h-1.3zM240.4 126.4h1.3v1.3h-1.3zM240.9 138.8h1.3v1.3h-1.3zM240.8 135.2h1.3v1.3h-1.3zM240.5 122.8h1.3v1.3h-1.3zM241.6 138.1h1.3v1.3h-1.3zM241.5 122.5h1.3v1.3h-1.3zM241 138.2h1.3v1.3h-1.3zM241.8 125.1h1.3v1.3h-1.3zM241.7 126h1.3v1.3h-1.3zM241.7 125h1.3v1.3h-1.3zM242.5 125.7h1.3v1.3h-1.3zM242.5 125.4h1.3v1.3h-1.3zM242.4 125.9h1.3v1.3h-1.3zM243 139h1.3v1.3h-1.3zM242.7 137h1.3v1.3h-1.3zM242.8 123.6h1.3v1.3h-1.3zM241.3 139.4h1.3v1.3h-1.3zM235.6 145.8h1.3v1.3h-1.3zM242.4 141.5h1.3v1.3h-1.3zM233.3 142.4h1.3v1.3h-1.3z" fill="#3a62c6"/>
<path d="M243.5 126.5H249.5V136.3H243.5zM250.5 126.5H258.4V136.3H250.5z" fill="#3456c0"/>
<path d="M243.3 135.1h1.3v1.3h-1.3zM243.1 126.2h1.3v1.3h-1.3zM243 125.8h1.3v1.3h-1.3zM244 125.6h1.3v1.3h-1.3zM243.4 137.5h1.3v1.3h-1.3zM243.9 138.6h1.3v1.3h-1.3zM244.5 125.8h1.3v1.3h-1.3zM244.3 125.9h1.3v1.3h-1.3zM244.3 123.6h1.3v1.3h-1.3zM244.8 123.5h1.3v1.3h-1.3zM244.7 124.1h1.3v1.3h-1.3zM244.7 123.2h1.3v1.3h-1.3zM245.3 138.7h1.3v1.3h-1.3zM245.6 136.8h1.3v1.3h-1.3zM245.4 135.7h1.3v1.3h-1.3zM246 122.7h1.3v1.3h-1.3zM246.2 124.9h1.3v1.3h-1.3zM245.7 135.1h1.3v1.3h-1.3zM246.2 137.1h1.3v1.3h-1.3zM246.7 135.1h1.3v1.3h-1.3zM246.5 137.6h1.3v1.3h-1.3zM247 126.3h1.3v1.3h-1.3zM247.1 123.8h1.3v1.3h-1.3zM247.1 135.9h1.3v1.3h-1.3zM247.5 135.3h1.3v1.3h-1.3zM247.7 138.1h1.3v1.3h-1.3zM247.5 135.1h1.3v1.3h-1.3zM247.9 126.3h1.3v1.3h-1.3zM248.1 125.3h1.3v1.3h-1.3zM248.2 136.6h1.3v1.3h-1.3zM244.3 122.1h1.3v1.3h-1.3zM246 122h1.3v1.3h-1.3zM250.2 137h1.3v1.3h-1.3zM250.1 135.3h1.3v1.3h-1.3zM250.3 123.2h1.3v1.3h-1.3zM250.8 125.5h1.3v1.3h-1.3zM251 136.5h1.3v1.3h-1.3zM250.8 138.7h1.3v1.3h-1.3zM251 136h1.3v1.3h-1.3zM251.4 135.1h1.3v1.3h-1.3zM251 135.4h1.3v1.3h-1.3zM251.8 135.5h1.3v1.3h-1.3zM252 123.8h1.3v1.3h-1.3zM251.9 122.4h1.3v1.3h-1.3zM252.1 137.4h1.3v1.3h-1.3zM252.4 123h1.3v1.3h-1.3zM252.3 137.7h1.3v1.3h-1.3zM252.7 136.6h1.3v1.3h-1.3zM252.9 135.8h1.3v1.3h-1.3zM253 135.8h1.3v1.3h-1.3zM253.6 135.3h1.3v1.3h-1.3zM253.4 126h1.3v1.3h-1.3zM253.4 124.6h1.3v1.3h-1.3zM254 124.7h1.3v1.3h-1.3zM254.2 123.3h1.3v1.3h-1.3zM254.2 136.1h1.3v1.3h-1.3zM254.8 137.4h1.3v1.3h-1.3zM254.7 123.8h1.3v1.3h-1.3zM254.7 122.7h1.3v1.3h-1.3zM255.2 135.2h1.3v1.3h-1.3zM255.4 123.8h1.3v1.3h-1.3zM255 138.4h1.3v1.3h-1.3zM255.8 135.7h1.3v1.3h-1.3zM255.5 125.4h1.3v1.3h-1.3zM255.9 125h1.3v1.3h-1.3zM255.9 126.2h1.3v1.3h-1.3zM256.1 136.7h1.3v1.3h-1.3zM256.2 123.6h1.3v1.3h-1.3zM256.8 122.7h1.3v1.3h-1.3zM256.8 125.7h1.3v1.3h-1.3zM257 135.9h1.3v1.3h-1.3zM257.2 123.4h1.3v1.3h-1.3zM257.2 139.1h1.3v1.3h-1.3zM257.1 135.7h1.3v1.3h-1.3zM256.6 119.7h1.3v1.3h-1.3zM253.1 142.1h1.3v1.3h-1.3z" fill="#3456c0"/>
<path d="M257.8 145.1H261.6V156.9H257.8zM260.8 126.5H271.9V136.3H260.8z" fill="#3c50b8"/>
<path d="M257.5 160.1h1.3v1.3h-1.3zM257.8 142.3h1.3v1.3h-1.3zM257.4 156.5h1.3v1.3h-1.3zM257.8 159.1h1.3v1.3h-1.3zM258.1 141.6h1.3v1.3h-1.3zM257.9 143h1.3v1.3h-1.3zM258.9 143.1h1.3v1.3h-1.3zM258.6 158.6h1.3v1.3h-1.3zM258.5 144.8h1.3v1.3h-1.3zM259.4 144.2h1.3v1.3h-1.3zM258.9 144.5h1.3v1.3h-1.3zM259 144.2h1.3v1.3h-1.3zM259.7 144h1.3v1.3h-1.3zM259.5 144.8h1.3v1.3h-1.3zM259.9 141h1.3v1.3h-1.3zM260.2 140.6h1.3v1.3h-1.3zM260.5 157.9h1.3v1.3h-1.3zM260.5 144.3h1.3v1.3h-1.3zM259.3 161.8h1.3v1.3h-1.3zM260.8 125.8h1.3v1.3h-1.3zM260.7 135.3h1.3v1.3h-1.3zM260.6 137.5h1.3v1.3h-1.3zM261.1 136.2h1.3v1.3h-1.3zM260.9 135.1h1.3v1.3h-1.3zM261.2 135.6h1.3v1.3h-1.3zM261.8 138.6h1.3v1.3h-1.3zM261.5 125.7h1.3v1.3h-1.3zM261.6 137.5h1.3v1.3h-1.3zM261.9 123.2h1.3v1.3h-1.3zM262.4 136h1.3v1.3h-1.3zM262.1 123.5h1.3v1.3h-1.3zM262.5 136.7h1.3v1.3h-1.3zM262.5 123.2h1.3v1.3h-1.3zM262.9 138.4h1.3v1.3h-1.3zM263.1 138.2h1.3v1.3h-1.3zM263 124.3h1.3v1.3h-1.3zM263 125.4h1.3v1.3h-1.3zM264.1 135.1h1.3v1.3h-1.3zM263.9 125.7h1.3v1.3h-1.3zM263.9 137h1.3v1.3h-1.3zM264.6 135.1h1.3v1.3h-1.3zM264.3 137.8h1.3v1.3h-1.3zM264.6 126.1h1.3v1.3h-1.3zM265.1 136.1h1.3v1.3h-1.3zM265.1 126.3h1.3v1.3h-1.3zM265.1 135.2h1.3v1.3h-1.3zM265.5 125.8h1.3v1.3h-1.3zM265.4 135.8h1.3v1.3h-1.3zM265.4 135.8h1.3v1.3h-1.3zM266.1 136.3h1.3v1.3h-1.3zM266 124h1.3v1.3h-1.3zM266.1 136.2h1.3v1.3h-1.3zM266.5 135.3h1.3v1.3h-1.3zM266.8 124.9h1.3v1.3h-1.3zM266.4 124.8h1.3v1.3h-1.3zM267 123.4h1.3v1.3h-1.3zM267.1 137.7h1.3v1.3h-1.3zM267.4 125.1h1.3v1.3h-1.3zM267.6 137.3h1.3v1.3h-1.3zM267.8 135.1h1.3v1.3h-1.3zM267.4 136.1h1.3v1.3h-1.3zM268.3 138.4h1.3v1.3h-1.3zM268 125.2h1.3v1.3h-1.3zM268.2 136h1.3v1.3h-1.3zM268.9 136.9h1.3v1.3h-1.3zM268.5 138.5h1.3v1.3h-1.3zM269 135.2h1.3v1.3h-1.3zM269.2 136.3h1.3v1.3h-1.3zM269.3 122.8h1.3v1.3h-1.3zM269.2 137.7h1.3v1.3h-1.3zM270 125.2h1.3v1.3h-1.3zM270.2 125.9h1.3v1.3h-1.3zM270 135.1h1.3v1.3h-1.3zM270.3 125.4h1.3v1.3h-1.3zM270.3 135.1h1.3v1.3h-1.3zM270.6 123.9h1.3v1.3h-1.3zM260.8 116.9h1.3v1.3h-1.3zM267.1 139.3h1.3v1.3h-1.3zM261.4 121.3h1.3v1.3h-1.3zM265.7 141.9h1.3v1.3h-1.3z" fill="#3c50b8"/>
<path d="M270.6 146.4H273.6V156.6H270.6zM272.8 126.5H284.1V136.3H272.8z" fill="#564cb8"/>
<path d="M270.6 142.7h1.3v1.3h-1.3zM270.2 144.1h1.3v1.3h-1.3zM270.1 156.4h1.3v1.3h-1.3zM270.8 156.8h1.3v1.3h-1.3zM270.7 146.3h1.3v1.3h-1.3zM271 157.3h1.3v1.3h-1.3zM271.6 146.2h1.3v1.3h-1.3zM271.7 142.9h1.3v1.3h-1.3zM271.6 144.7h1.3v1.3h-1.3zM272.2 157.8h1.3v1.3h-1.3zM272 143.4h1.3v1.3h-1.3zM272.1 143.8h1.3v1.3h-1.3zM272.3 125.6h1.3v1.3h-1.3zM272.4 135.2h1.3v1.3h-1.3zM272.7 125.3h1.3v1.3h-1.3zM272.9 124.2h1.3v1.3h-1.3zM272.9 126.4h1.3v1.3h-1.3zM273.4 135.5h1.3v1.3h-1.3zM273.5 123.5h1.3v1.3h-1.3zM273.6 126.4h1.3v1.3h-1.3zM273.4 138.6h1.3v1.3h-1.3zM274.5 137.8h1.3v1.3h-1.3zM274.3 125.4h1.3v1.3h-1.3zM274.5 135.3h1.3v1.3h-1.3zM275 135.6h1.3v1.3h-1.3zM274.7 135.4h1.3v1.3h-1.3zM274.9 137h1.3v1.3h-1.3zM275.2 135.6h1.3v1.3h-1.3zM275.5 139h1.3v1.3h-1.3zM275.1 138.8h1.3v1.3h-1.3zM275.9 135.1h1.3v1.3h-1.3zM276 122.7h1.3v1.3h-1.3zM275.7 135.5h1.3v1.3h-1.3zM276.6 138.7h1.3v1.3h-1.3zM276.7 125.8h1.3v1.3h-1.3zM276.5 125.2h1.3v1.3h-1.3zM277.1 126h1.3v1.3h-1.3zM277.1 136.1h1.3v1.3h-1.3zM277.2 135.2h1.3v1.3h-1.3zM277.6 126.3h1.3v1.3h-1.3zM277.5 135.8h1.3v1.3h-1.3zM277.6 138.1h1.3v1.3h-1.3zM277.9 136.7h1.3v1.3h-1.3zM277.9 135.7h1.3v1.3h-1.3zM278.1 135.1h1.3v1.3h-1.3zM278.3 125.2h1.3v1.3h-1.3zM278.7 126.3h1.3v1.3h-1.3zM278.9 136.2h1.3v1.3h-1.3zM279.1 138.3h1.3v1.3h-1.3zM279.3 136.5h1.3v1.3h-1.3zM279.3 125.3h1.3v1.3h-1.3zM280 136.5h1.3v1.3h-1.3zM280 135.4h1.3v1.3h-1.3zM279.8 122.4h1.3v1.3h-1.3zM280.4 124.3h1.3v1.3h-1.3zM280.1 135.5h1.3v1.3h-1.3zM280 125h1.3v1.3h-1.3zM280.7 126h1.3v1.3h-1.3zM280.9 123.4h1.3v1.3h-1.3zM280.6 126.2h1.3v1.3h-1.3zM281.3 138.2h1.3v1.3h-1.3zM281.5 137.7h1.3v1.3h-1.3zM281.4 135.3h1.3v1.3h-1.3zM282.1 124.4h1.3v1.3h-1.3zM282.2 126h1.3v1.3h-1.3zM281.7 136.6h1.3v1.3h-1.3zM282.2 137.5h1.3v1.3h-1.3zM282.6 123.2h1.3v1.3h-1.3zM282.4 137.9h1.3v1.3h-1.3zM283 138.7h1.3v1.3h-1.3zM283 125h1.3v1.3h-1.3zM282.7 126.3h1.3v1.3h-1.3zM279.9 142h1.3v1.3h-1.3zM276.8 139.7h1.3v1.3h-1.3zM277.6 122.1h1.3v1.3h-1.3zM273.6 140.2h1.3v1.3h-1.3z" fill="#564cb8"/>
<path d="M283.3 126.5H294.7V136.3H283.3z" fill="#7c4eb8"/>
<path d="M283 135.6h1.3v1.3h-1.3zM282.8 124.9h1.3v1.3h-1.3zM283.2 137.9h1.3v1.3h-1.3zM283.4 122.9h1.3v1.3h-1.3zM283.7 135.4h1.3v1.3h-1.3zM283.4 136.6h1.3v1.3h-1.3zM284.1 135.1h1.3v1.3h-1.3zM284 126.3h1.3v1.3h-1.3zM284.4 137.9h1.3v1.3h-1.3zM284.6 126.4h1.3v1.3h-1.3zM284.7 125.3h1.3v1.3h-1.3zM284.6 135.9h1.3v1.3h-1.3zM285.2 135.2h1.3v1.3h-1.3zM285.2 126.2h1.3v1.3h-1.3zM285.4 135.5h1.3v1.3h-1.3zM285.8 135.1h1.3v1.3h-1.3zM285.6 125.4h1.3v1.3h-1.3zM285.7 124.5h1.3v1.3h-1.3zM286.6 123h1.3v1.3h-1.3zM286.2 135.3h1.3v1.3h-1.3zM286.2 125.1h1.3v1.3h-1.3zM286.7 135.5h1.3v1.3h-1.3zM286.9 137.8h1.3v1.3h-1.3zM287 135.2h1.3v1.3h-1.3zM287.3 135.1h1.3v1.3h-1.3zM287.7 135.5h1.3v1.3h-1.3zM287.7 125.7h1.3v1.3h-1.3zM287.9 122.6h1.3v1.3h-1.3zM288.3 124.6h1.3v1.3h-1.3zM288.1 125.6h1.3v1.3h-1.3zM288.8 136.4h1.3v1.3h-1.3zM288.3 136.9h1.3v1.3h-1.3zM288.7 138.3h1.3v1.3h-1.3zM289.3 136.6h1.3v1.3h-1.3zM289.2 124.6h1.3v1.3h-1.3zM289 137.9h1.3v1.3h-1.3zM289.7 135.1h1.3v1.3h-1.3zM289.7 125.4h1.3v1.3h-1.3zM289.8 125.4h1.3v1.3h-1.3zM290 135.3h1.3v1.3h-1.3zM290.4 125h1.3v1.3h-1.3zM290 136h1.3v1.3h-1.3zM290.8 136.8h1.3v1.3h-1.3zM290.9 122.8h1.3v1.3h-1.3zM290.8 135.8h1.3v1.3h-1.3zM291.2 136.8h1.3v1.3h-1.3zM291.2 137.3h1.3v1.3h-1.3zM291.3 138.6h1.3v1.3h-1.3zM292 135.1h1.3v1.3h-1.3zM291.9 137.3h1.3v1.3h-1.3zM292 135.1h1.3v1.3h-1.3zM292.2 126.4h1.3v1.3h-1.3zM292.6 135.8h1.3v1.3h-1.3zM292.5 126.4h1.3v1.3h-1.3zM292.8 125.2h1.3v1.3h-1.3zM293.2 122.6h1.3v1.3h-1.3zM293.1 135.1h1.3v1.3h-1.3zM293.3 138.6h1.3v1.3h-1.3zM293.4 124.7h1.3v1.3h-1.3zM293.8 123.7h1.3v1.3h-1.3zM287.9 145.5h1.3v1.3h-1.3zM287.6 139.8h1.3v1.3h-1.3zM287 139.8h1.3v1.3h-1.3zM292.6 119.8h1.3v1.3h-1.3z" fill="#7c4eb8"/>
<path d="M293.6 146.4H297.2V156.6H293.6zM296.4 126.5H305V136.3H296.4z" fill="#9c4eb4"/>
<path d="M293.4 145.7h1.3v1.3h-1.3zM293.6 157.3h1.3v1.3h-1.3zM293.4 159.4h1.3v1.3h-1.3zM294 158.9h1.3v1.3h-1.3zM293.8 156h1.3v1.3h-1.3zM293.7 146.2h1.3v1.3h-1.3zM294.3 157.8h1.3v1.3h-1.3zM294.5 155.8h1.3v1.3h-1.3zM294.3 143.3h1.3v1.3h-1.3zM295 145.2h1.3v1.3h-1.3zM294.8 157.4h1.3v1.3h-1.3zM295.2 143.1h1.3v1.3h-1.3zM295.5 159.2h1.3v1.3h-1.3zM295.7 157h1.3v1.3h-1.3zM295.4 146.2h1.3v1.3h-1.3zM296.4 142.5h1.3v1.3h-1.3zM296.4 145.6h1.3v1.3h-1.3zM296.3 143.4h1.3v1.3h-1.3zM293.9 160.6h1.3v1.3h-1.3zM296.4 124.6h1.3v1.3h-1.3zM296.3 136.7h1.3v1.3h-1.3zM296.3 135.7h1.3v1.3h-1.3zM296.4 137.2h1.3v1.3h-1.3zM296.5 136.1h1.3v1.3h-1.3zM296.5 126.3h1.3v1.3h-1.3zM297 135.6h1.3v1.3h-1.3zM297.3 136.5h1.3v1.3h-1.3zM297 136.6h1.3v1.3h-1.3zM297.6 136.3h1.3v1.3h-1.3zM297.6 124.2h1.3v1.3h-1.3zM297.8 125.9h1.3v1.3h-1.3zM298.2 126.4h1.3v1.3h-1.3zM298.4 136.4h1.3v1.3h-1.3zM298.5 136.1h1.3v1.3h-1.3zM298.7 135.2h1.3v1.3h-1.3zM298.8 125.6h1.3v1.3h-1.3zM298.7 137.2h1.3v1.3h-1.3zM299.2 135.5h1.3v1.3h-1.3zM299.3 136h1.3v1.3h-1.3zM299.7 124.2h1.3v1.3h-1.3zM299.8 125.8h1.3v1.3h-1.3zM300.1 135.7h1.3v1.3h-1.3zM299.8 126.3h1.3v1.3h-1.3zM300.5 135.5h1.3v1.3h-1.3zM300.7 126.4h1.3v1.3h-1.3zM300.7 123.5h1.3v1.3h-1.3zM301 124.7h1.3v1.3h-1.3zM301.2 135.1h1.3v1.3h-1.3zM300.9 137.3h1.3v1.3h-1.3zM301.6 135.1h1.3v1.3h-1.3zM301.7 122.8h1.3v1.3h-1.3zM301.9 137.2h1.3v1.3h-1.3zM302.5 123.3h1.3v1.3h-1.3zM302.3 135.7h1.3v1.3h-1.3zM302.2 123.5h1.3v1.3h-1.3zM302.8 125.8h1.3v1.3h-1.3zM302.7 122.8h1.3v1.3h-1.3zM302.8 135.5h1.3v1.3h-1.3zM303.5 126.4h1.3v1.3h-1.3zM303.3 126.4h1.3v1.3h-1.3zM303 137.2h1.3v1.3h-1.3zM303.6 126.4h1.3v1.3h-1.3zM304 138h1.3v1.3h-1.3zM303.8 136.2h1.3v1.3h-1.3zM300.3 140.1h1.3v1.3h-1.3zM298.7 118.6h1.3v1.3h-1.3zM302.2 139.7h1.3v1.3h-1.3z" fill="#9c4eb4"/>
<path d="M305.5 145.4H308.6V155.6H305.5zM307.8 126.5H311.8V136.3H307.8z" fill="#b84cae"/>
<path d="M305 144.8h1.3v1.3h-1.3zM305 145h1.3v1.3h-1.3zM305.5 155h1.3v1.3h-1.3zM306.1 144.5h1.3v1.3h-1.3zM305.6 155.9h1.3v1.3h-1.3zM305.6 144.9h1.3v1.3h-1.3zM306.4 154.8h1.3v1.3h-1.3zM306.6 144.5h1.3v1.3h-1.3zM306.2 156.6h1.3v1.3h-1.3zM306.6 142.9h1.3v1.3h-1.3zM307.2 145.2h1.3v1.3h-1.3zM306.8 144.4h1.3v1.3h-1.3zM307.7 155.2h1.3v1.3h-1.3zM307.5 158.6h1.3v1.3h-1.3zM307.2 155.8h1.3v1.3h-1.3zM307.6 135.6h1.3v1.3h-1.3zM307.4 122.8h1.3v1.3h-1.3zM307.3 123.7h1.3v1.3h-1.3zM308.1 138.6h1.3v1.3h-1.3zM308.1 137.6h1.3v1.3h-1.3zM307.9 136.5h1.3v1.3h-1.3zM308.9 135.8h1.3v1.3h-1.3zM308.5 125.8h1.3v1.3h-1.3zM308.9 123.1h1.3v1.3h-1.3zM309 123.7h1.3v1.3h-1.3zM309.4 123.2h1.3v1.3h-1.3zM309.3 135.4h1.3v1.3h-1.3zM309.7 123h1.3v1.3h-1.3zM309.6 137h1.3v1.3h-1.3zM309.6 135.3h1.3v1.3h-1.3zM310.5 135.1h1.3v1.3h-1.3zM310.5 125.4h1.3v1.3h-1.3zM310.6 124.2h1.3v1.3h-1.3zM307.7 145.7h1.3v1.3h-1.3z" fill="#b84cae"/>
<path d="M313.6 126.5H320.9V136.3H313.6z" fill="#e8348e"/>
<path d="M313.6 124.8h1.3v1.3h-1.3zM313.3 138.6h1.3v1.3h-1.3zM313.5 135.9h1.3v1.3h-1.3zM313.8 137.3h1.3v1.3h-1.3zM314.1 123.9h1.3v1.3h-1.3zM314.1 125h1.3v1.3h-1.3zM314.6 136.9h1.3v1.3h-1.3zM314.2 136.2h1.3v1.3h-1.3zM314.7 123.9h1.3v1.3h-1.3zM314.9 137.3h1.3v1.3h-1.3zM315.3 124.1h1.3v1.3h-1.3zM315.1 137.6h1.3v1.3h-1.3zM315.5 138.5h1.3v1.3h-1.3zM315.6 125.5h1.3v1.3h-1.3zM315.4 122.8h1.3v1.3h-1.3zM316.2 137.6h1.3v1.3h-1.3zM316 135.5h1.3v1.3h-1.3zM316 122.9h1.3v1.3h-1.3zM316.4 124.4h1.3v1.3h-1.3zM316.7 138.1h1.3v1.3h-1.3zM316.9 139.1h1.3v1.3h-1.3zM317.3 137.7h1.3v1.3h-1.3zM317.2 136h1.3v1.3h-1.3zM317.3 136.3h1.3v1.3h-1.3zM317.8 125.8h1.3v1.3h-1.3zM318 137.3h1.3v1.3h-1.3zM317.8 135.9h1.3v1.3h-1.3zM318.3 136.1h1.3v1.3h-1.3zM318.4 125.5h1.3v1.3h-1.3zM318.4 125.3h1.3v1.3h-1.3zM318.6 135.2h1.3v1.3h-1.3zM318.7 136.6h1.3v1.3h-1.3zM318.7 135.1h1.3v1.3h-1.3zM319.2 136.9h1.3v1.3h-1.3zM319.5 124.5h1.3v1.3h-1.3zM319.3 136h1.3v1.3h-1.3zM316.9 142.6h1.3v1.3h-1.3zM319.6 141h1.3v1.3h-1.3z" fill="#e8348e"/>
<path d="M320.1 126.5H346.2V136.3H320.1z" fill="#ef2040"/>
<path d="M319.6 136.1h1.3v1.3h-1.3zM319.9 136.3h1.3v1.3h-1.3zM319.8 135.1h1.3v1.3h-1.3zM320.2 124.6h1.3v1.3h-1.3zM320.3 137.5h1.3v1.3h-1.3zM320.2 125.2h1.3v1.3h-1.3zM320.8 123.6h1.3v1.3h-1.3zM320.7 136.7h1.3v1.3h-1.3zM321.2 136.6h1.3v1.3h-1.3zM321.4 138.6h1.3v1.3h-1.3zM321.3 125.8h1.3v1.3h-1.3zM321.4 124.2h1.3v1.3h-1.3zM321.8 125.9h1.3v1.3h-1.3zM322 125.8h1.3v1.3h-1.3zM321.8 122.5h1.3v1.3h-1.3zM322.6 126.3h1.3v1.3h-1.3zM322.5 125.8h1.3v1.3h-1.3zM322.5 125.7h1.3v1.3h-1.3zM323.3 125.9h1.3v1.3h-1.3zM323.4 124.2h1.3v1.3h-1.3zM323 136.5h1.3v1.3h-1.3zM323.4 123.4h1.3v1.3h-1.3zM323.7 124.4h1.3v1.3h-1.3zM323.9 122.7h1.3v1.3h-1.3zM324.2 139h1.3v1.3h-1.3zM324 124.7h1.3v1.3h-1.3zM324.3 136.4h1.3v1.3h-1.3zM325 139.1h1.3v1.3h-1.3zM324.8 126.1h1.3v1.3h-1.3zM324.5 138.9h1.3v1.3h-1.3zM325.1 135.7h1.3v1.3h-1.3zM325.3 135.6h1.3v1.3h-1.3zM325.4 124.3h1.3v1.3h-1.3zM325.7 138.3h1.3v1.3h-1.3zM325.8 126.4h1.3v1.3h-1.3zM325.6 126.2h1.3v1.3h-1.3zM326.5 135.6h1.3v1.3h-1.3zM326.3 135.6h1.3v1.3h-1.3zM326.7 124.7h1.3v1.3h-1.3zM326.9 122.8h1.3v1.3h-1.3zM326.7 135.5h1.3v1.3h-1.3zM327.2 122.8h1.3v1.3h-1.3zM327.5 123.3h1.3v1.3h-1.3zM327.6 136.6h1.3v1.3h-1.3zM327.8 138.4h1.3v1.3h-1.3zM328 135.1h1.3v1.3h-1.3zM328.2 136.8h1.3v1.3h-1.3zM327.9 135.1h1.3v1.3h-1.3zM328.4 124.4h1.3v1.3h-1.3zM328.9 135.5h1.3v1.3h-1.3zM328.6 126.4h1.3v1.3h-1.3zM329.3 138h1.3v1.3h-1.3zM329.4 135.1h1.3v1.3h-1.3zM329 123.9h1.3v1.3h-1.3zM329.5 126.1h1.3v1.3h-1.3zM329.6 126.4h1.3v1.3h-1.3zM329.8 126.2h1.3v1.3h-1.3zM330.5 137.5h1.3v1.3h-1.3zM330.1 135.1h1.3v1.3h-1.3zM330.4 136h1.3v1.3h-1.3zM330.6 137.1h1.3v1.3h-1.3zM331 136.7h1.3v1.3h-1.3zM330.8 126.4h1.3v1.3h-1.3zM331.6 135.4h1.3v1.3h-1.3zM331.6 126.4h1.3v1.3h-1.3zM331.3 126.4h1.3v1.3h-1.3zM331.8 137.1h1.3v1.3h-1.3zM331.8 123.6h1.3v1.3h-1.3zM331.8 137.3h1.3v1.3h-1.3zM332.3 125.4h1.3v1.3h-1.3zM332.4 135.3h1.3v1.3h-1.3zM332.3 126h1.3v1.3h-1.3zM332.9 135.5h1.3v1.3h-1.3zM332.8 124h1.3v1.3h-1.3zM333.1 126.4h1.3v1.3h-1.3zM333.9 124.8h1.3v1.3h-1.3zM333.9 125.6h1.3v1.3h-1.3zM333.9 126.4h1.3v1.3h-1.3zM334 123h1.3v1.3h-1.3zM334.2 136.6h1.3v1.3h-1.3zM334 123h1.3v1.3h-1.3zM334.6 125.2h1.3v1.3h-1.3zM334.9 136.2h1.3v1.3h-1.3zM334.7 124.9h1.3v1.3h-1.3zM335.2 135.1h1.3v1.3h-1.3zM335 125.5h1.3v1.3h-1.3zM335.5 138.2h1.3v1.3h-1.3zM335.9 124.3h1.3v1.3h-1.3zM336.1 126h1.3v1.3h-1.3zM335.6 137h1.3v1.3h-1.3zM336.1 135.6h1.3v1.3h-1.3zM336.3 138.3h1.3v1.3h-1.3zM336.3 125.1h1.3v1.3h-1.3zM336.8 125.1h1.3v1.3h-1.3zM336.7 124.8h1.3v1.3h-1.3zM337 136.4h1.3v1.3h-1.3zM337.2 135.2h1.3v1.3h-1.3zM337.3 126.3h1.3v1.3h-1.3zM337.3 136h1.3v1.3h-1.3zM337.8 126.3h1.3v1.3h-1.3zM337.8 137.2h1.3v1.3h-1.3zM338.2 126.4h1.3v1.3h-1.3zM338.3 124.2h1.3v1.3h-1.3zM338.4 137.2h1.3v1.3h-1.3zM338.3 137.6h1.3v1.3h-1.3zM339.1 135.1h1.3v1.3h-1.3zM339.2 124.5h1.3v1.3h-1.3zM339.2 122.7h1.3v1.3h-1.3zM339.5 123.5h1.3v1.3h-1.3zM339.9 137.2h1.3v1.3h-1.3zM339.7 126.4h1.3v1.3h-1.3zM340.4 136.4h1.3v1.3h-1.3zM340.3 122.5h1.3v1.3h-1.3zM340.3 126.4h1.3v1.3h-1.3zM340.9 122.9h1.3v1.3h-1.3zM341 124.5h1.3v1.3h-1.3zM340.5 135.1h1.3v1.3h-1.3zM341.5 122.6h1.3v1.3h-1.3zM341 123.8h1.3v1.3h-1.3zM341.4 137.1h1.3v1.3h-1.3zM341.8 126h1.3v1.3h-1.3zM341.8 135.3h1.3v1.3h-1.3zM341.9 125.5h1.3v1.3h-1.3zM342.1 135.2h1.3v1.3h-1.3zM342.4 135.4h1.3v1.3h-1.3zM342.6 123.2h1.3v1.3h-1.3zM343 124h1.3v1.3h-1.3zM343.1 122.5h1.3v1.3h-1.3zM342.8 135.4h1.3v1.3h-1.3zM343.4 137.7h1.3v1.3h-1.3zM343.3 124.8h1.3v1.3h-1.3zM343.4 125.6h1.3v1.3h-1.3zM344.3 137.2h1.3v1.3h-1.3zM344.2 124.1h1.3v1.3h-1.3zM344.3 135.7h1.3v1.3h-1.3zM344.3 135.1h1.3v1.3h-1.3zM344.6 124.1h1.3v1.3h-1.3zM344.8 136h1.3v1.3h-1.3zM328.4 139.7h1.3v1.3h-1.3zM330.7 118.9h1.3v1.3h-1.3zM326.4 141.5h1.3v1.3h-1.3zM339.4 115.7h1.3v1.3h-1.3zM335.9 120.3h1.3v1.3h-1.3zM331.1 122.2h1.3v1.3h-1.3zM343 121.4h1.3v1.3h-1.3zM321.7 139.3h1.3v1.3h-1.3zM325.9 115.4h1.3v1.3h-1.3zM323.3 139.4h1.3v1.3h-1.3zM326.2 150.3h1.3v1.3h-1.3zM338.5 148.5h1.3v1.3h-1.3z" fill="#ef2040"/>
<path d="M345.4 126.5H350.4V136.3H345.4z" fill="#f2302c"/>
<path d="M345 126.3h1.3v1.3h-1.3zM345 126.1h1.3v1.3h-1.3zM345.3 125.9h1.3v1.3h-1.3zM345.6 137.5h1.3v1.3h-1.3zM345.9 135.1h1.3v1.3h-1.3zM345.7 123.8h1.3v1.3h-1.3zM346 126.3h1.3v1.3h-1.3zM346.1 122.7h1.3v1.3h-1.3zM346 122.5h1.3v1.3h-1.3zM346.5 135.4h1.3v1.3h-1.3zM346.6 126.2h1.3v1.3h-1.3zM346.5 138.2h1.3v1.3h-1.3zM347.2 122.4h1.3v1.3h-1.3zM347.2 125.6h1.3v1.3h-1.3zM347.5 138.8h1.3v1.3h-1.3zM348 126.2h1.3v1.3h-1.3zM348 135.6h1.3v1.3h-1.3zM348 126.3h1.3v1.3h-1.3zM348.3 122.9h1.3v1.3h-1.3zM348.6 125.1h1.3v1.3h-1.3zM348.6 136.7h1.3v1.3h-1.3zM349 135.8h1.3v1.3h-1.3zM349.1 124.2h1.3v1.3h-1.3zM349.2 124.7h1.3v1.3h-1.3zM345.7 117.3h1.3v1.3h-1.3z" fill="#f2302c"/>
<path d="M24 133.4H355" stroke="#777" stroke-opacity="0.22" stroke-width="1" fill="none"/>
<text x="22.6" y="110.5" text-anchor="end" font-size="5" font-weight="bold" fill="#2e2e40">0.75</text>
<text x="22.6" y="118.8" text-anchor="end" font-size="5" font-weight="bold" fill="#2e2e40">0.50</text>
<text x="22.6" y="127.2" text-anchor="end" font-size="5" font-weight="bold" fill="#2e2e40">0.25</text>
<text x="22.6" y="135.5" text-anchor="end" font-size="5" font-weight="bold" fill="#2e2e40">0.00</text>
<text x="22.6" y="143.8" text-anchor="end" font-size="5" font-weight="bold" fill="#2e2e40">-0.25</text>
<text x="22.6" y="152.2" text-anchor="end" font-size="5" font-weight="bold" fill="#2e2e40">-0.50</text>
<text x="22.6" y="160.5" text-anchor="end" font-size="5" font-weight="bold" fill="#2e2e40">-0.75</text>
<text x="22.6" y="168.8" text-anchor="end" font-size="5" font-weight="bold" fill="#2e2e40">-1.00</text>
<path d="M51.5 180.3V263.8M77.5 180.3V263.8M101.5 180.3V263.8M124.5 180.3V263.8M146.5 180.3V263.8M169 180.3V263.8M190.8 180.3V263.8M209.6 180.3V263.8M227.5 180.3V263.8M243.8 180.3V263.8M258 180.3V263.8M271.5 180.3V263.8M283.7 180.3V263.8M294.3 180.3V263.8M304.6 180.3V263.8M311.8 180.3V263.8M320.5 180.3V263.8M345.8 180.3V263.8" stroke="#d9d9d9" stroke-width="1" fill="none"/>
<path d="M23.7 180.3V263.8" stroke="#e4e4e4" stroke-width="1" fill="none"/>
<path d="M24.2 197.2H51.5V222.8H24.2z" fill="#bad92a" fill-opacity="0.22"/>
<path d="M51.5 197.2H77.5V222.8H51.5z" fill="#8fca3a" fill-opacity="0.22"/>
<path d="M77.5 197.2H101.5V222.8H77.5z" fill="#74c240" fill-opacity="0.22"/>
<path d="M101.5 197.2H108.8V222.8H101.5zM112 197.2H124.5V222.8H112z" fill="#66be44" fill-opacity="0.22"/>
<path d="M124.5 197.2H146.5V222.8H124.5z" fill="#64c040" fill-opacity="0.22"/>
<path d="M146.5 197.2H169V222.8H146.5z" fill="#5fbc82" fill-opacity="0.22"/>
<path d="M169 197.2H190.6V222.8H169z" fill="#64c4bc" fill-opacity="0.22"/>
<path d="M193.4 197.2H209.4V222.8H193.4z" fill="#4ac2ec" fill-opacity="0.22"/>
<path d="M212.2 197.2H227.3V222.8H212.2z" fill="#3e8ed6" fill-opacity="0.22"/>
<path d="M229.4 197.2H243.8V222.8H229.4z" fill="#3a62c6" fill-opacity="0.22"/>
<path d="M243.8 197.2H249.2V222.8H243.8zM250.8 197.2H256.8V222.8H250.8z" fill="#3456c0" fill-opacity="0.22"/>
<path d="M258.2 211.8H259.4V232.2H258.2zM259.4 214.5H261V237.5H259.4zM261 210.8H261.9V231.2H261zM261.9 197.2H270.8V222.8H261.9z" fill="#3c50b8" fill-opacity="0.22"/>
<path d="M271 217.8H273V238.2H271zM272.5 197.2H283.7V222.8H272.5z" fill="#564cb8" fill-opacity="0.22"/>
<path d="M283.7 197.2H294.3V222.8H283.7z" fill="#7c4eb8" fill-opacity="0.22"/>
<path d="M294.3 197.2H304.6V222.8H294.3z" fill="#9c4eb4" fill-opacity="0.22"/>
<path d="M305.6 197.2H311.4V222.8H305.6z" fill="#b84cae" fill-opacity="0.22"/>
<path d="M314 197.2H320.5V222.8H314z" fill="#e8348e" fill-opacity="0.22"/>
<path d="M320.5 197.2H345.8V222.8H320.5z" fill="#ef2040" fill-opacity="0.22"/>
<path d="M345.8 201.8H350V231.2H345.8z" fill="#f2302c" fill-opacity="0.22"/>
<path d="M23.8 200.8H51.9V219.2H23.8z" fill="#bad92a"/>
<path d="M23.6 198.4h1.3v1.3h-1.3zM23.4 197.8h1.3v1.3h-1.3zM23.6 198.8h1.3v1.3h-1.3zM24.3 219.7h1.3v1.3h-1.3zM23.9 218.5h1.3v1.3h-1.3zM24.1 198.9h1.3v1.3h-1.3zM24.7 200.2h1.3v1.3h-1.3zM24.9 219.4h1.3v1.3h-1.3zM24.4 197.3h1.3v1.3h-1.3zM25.1 200.7h1.3v1.3h-1.3zM25.2 199.9h1.3v1.3h-1.3zM25.1 200h1.3v1.3h-1.3zM26 196.4h1.3v1.3h-1.3zM25.8 200.7h1.3v1.3h-1.3zM25.7 200h1.3v1.3h-1.3zM26.4 219.4h1.3v1.3h-1.3zM26.5 198.3h1.3v1.3h-1.3zM26 218.1h1.3v1.3h-1.3zM26.7 218.5h1.3v1.3h-1.3zM26.9 219.3h1.3v1.3h-1.3zM27.1 200.1h1.3v1.3h-1.3zM27.4 199.9h1.3v1.3h-1.3zM27.5 196.8h1.3v1.3h-1.3zM27.6 218.9h1.3v1.3h-1.3zM27.8 199.5h1.3v1.3h-1.3zM28 221.6h1.3v1.3h-1.3zM27.9 200.5h1.3v1.3h-1.3zM28.7 219.1h1.3v1.3h-1.3zM28.4 200.1h1.3v1.3h-1.3zM28.3 218.5h1.3v1.3h-1.3zM28.8 198.1h1.3v1.3h-1.3zM29.2 197.8h1.3v1.3h-1.3zM28.9 198.8h1.3v1.3h-1.3zM29.8 218h1.3v1.3h-1.3zM29.6 198.9h1.3v1.3h-1.3zM29.5 200.5h1.3v1.3h-1.3zM30.4 218.2h1.3v1.3h-1.3zM30 221.9h1.3v1.3h-1.3zM30 220h1.3v1.3h-1.3zM30.7 200.6h1.3v1.3h-1.3zM30.5 218h1.3v1.3h-1.3zM30.8 197.9h1.3v1.3h-1.3zM31.3 218.5h1.3v1.3h-1.3zM31.4 218.5h1.3v1.3h-1.3zM31.1 200.3h1.3v1.3h-1.3zM32.1 221.7h1.3v1.3h-1.3zM32.1 197.1h1.3v1.3h-1.3zM31.6 200.7h1.3v1.3h-1.3zM32.3 221.8h1.3v1.3h-1.3zM32.3 218.2h1.3v1.3h-1.3zM32.2 200.7h1.3v1.3h-1.3zM32.6 218.4h1.3v1.3h-1.3zM32.8 220.8h1.3v1.3h-1.3zM32.6 197.3h1.3v1.3h-1.3zM33.6 220.1h1.3v1.3h-1.3zM33.6 200.6h1.3v1.3h-1.3zM33.4 196.7h1.3v1.3h-1.3zM34.2 218.6h1.3v1.3h-1.3zM33.8 221.6h1.3v1.3h-1.3zM33.8 197.9h1.3v1.3h-1.3zM34.4 218.4h1.3v1.3h-1.3zM34.7 219h1.3v1.3h-1.3zM34.4 222h1.3v1.3h-1.3zM35.1 218.1h1.3v1.3h-1.3zM35.1 221.7h1.3v1.3h-1.3zM35.2 200.7h1.3v1.3h-1.3zM35.5 218.8h1.3v1.3h-1.3zM35.6 219.2h1.3v1.3h-1.3zM35.7 200.6h1.3v1.3h-1.3zM36.2 198.2h1.3v1.3h-1.3zM36.4 220.9h1.3v1.3h-1.3zM36.2 221.6h1.3v1.3h-1.3zM36.5 218h1.3v1.3h-1.3zM36.8 200.6h1.3v1.3h-1.3zM36.9 200.6h1.3v1.3h-1.3zM37.6 221.8h1.3v1.3h-1.3zM37.4 219.6h1.3v1.3h-1.3zM37.1 199.8h1.3v1.3h-1.3zM37.7 221.6h1.3v1.3h-1.3zM38.1 218.9h1.3v1.3h-1.3zM37.7 200.3h1.3v1.3h-1.3zM38.7 200.5h1.3v1.3h-1.3zM38.2 199.1h1.3v1.3h-1.3zM38.2 197h1.3v1.3h-1.3zM38.9 198.5h1.3v1.3h-1.3zM38.8 199.6h1.3v1.3h-1.3zM38.9 200.7h1.3v1.3h-1.3zM39.2 218.3h1.3v1.3h-1.3zM39.7 219.3h1.3v1.3h-1.3zM39.5 219.6h1.3v1.3h-1.3zM39.8 199.9h1.3v1.3h-1.3zM40 218.3h1.3v1.3h-1.3zM39.9 196.4h1.3v1.3h-1.3zM40.7 219.5h1.3v1.3h-1.3zM40.6 219.8h1.3v1.3h-1.3zM40.4 200.4h1.3v1.3h-1.3zM41 218.8h1.3v1.3h-1.3zM41.1 218.3h1.3v1.3h-1.3zM41 221.3h1.3v1.3h-1.3zM41.4 200.3h1.3v1.3h-1.3zM41.6 221h1.3v1.3h-1.3zM41.9 218h1.3v1.3h-1.3zM42.1 221.8h1.3v1.3h-1.3zM42.1 200.7h1.3v1.3h-1.3zM42.5 199.1h1.3v1.3h-1.3zM42.7 218.4h1.3v1.3h-1.3zM42.6 218.2h1.3v1.3h-1.3zM43 220.7h1.3v1.3h-1.3zM43.5 199.6h1.3v1.3h-1.3zM43.5 221.7h1.3v1.3h-1.3zM43.4 198h1.3v1.3h-1.3zM44 197.2h1.3v1.3h-1.3zM43.9 200.4h1.3v1.3h-1.3zM43.9 221h1.3v1.3h-1.3zM44.4 220.4h1.3v1.3h-1.3zM44.7 219.5h1.3v1.3h-1.3zM44.4 199.9h1.3v1.3h-1.3zM45.2 199.8h1.3v1.3h-1.3zM44.9 198.2h1.3v1.3h-1.3zM45.2 220.8h1.3v1.3h-1.3zM45.5 200h1.3v1.3h-1.3zM45.5 199.7h1.3v1.3h-1.3zM45.4 218.5h1.3v1.3h-1.3zM46 220.6h1.3v1.3h-1.3zM46 199h1.3v1.3h-1.3zM46.3 196.4h1.3v1.3h-1.3zM46.8 196.9h1.3v1.3h-1.3zM46.5 200.1h1.3v1.3h-1.3zM46.7 218.9h1.3v1.3h-1.3zM47.4 218.2h1.3v1.3h-1.3zM47.2 196.8h1.3v1.3h-1.3zM47.3 199.3h1.3v1.3h-1.3zM47.6 220.3h1.3v1.3h-1.3zM47.5 218.6h1.3v1.3h-1.3zM47.5 198.5h1.3v1.3h-1.3zM48.1 200.7h1.3v1.3h-1.3zM48.2 219.1h1.3v1.3h-1.3zM48.4 220.3h1.3v1.3h-1.3zM49 199h1.3v1.3h-1.3zM48.7 222h1.3v1.3h-1.3zM48.9 200.6h1.3v1.3h-1.3zM49.3 218.3h1.3v1.3h-1.3zM49.7 200.1h1.3v1.3h-1.3zM49.2 220.8h1.3v1.3h-1.3zM49.8 196.9h1.3v1.3h-1.3zM49.8 220.8h1.3v1.3h-1.3zM50.2 221.4h1.3v1.3h-1.3zM50.3 219.8h1.3v1.3h-1.3zM50.5 200.2h1.3v1.3h-1.3zM50.8 196.7h1.3v1.3h-1.3zM28.9 195.9h1.3v1.3h-1.3zM45.8 192.7h1.3v1.3h-1.3zM30.3 195.2h1.3v1.3h-1.3zM50.2 195.9h1.3v1.3h-1.3zM25.7 189.1h1.3v1.3h-1.3zM25.4 192h1.3v1.3h-1.3zM36.6 225.5h1.3v1.3h-1.3zM32.8 193.5h1.3v1.3h-1.3zM38.4 195.2h1.3v1.3h-1.3zM47.4 226h1.3v1.3h-1.3zM28.1 234.9h1.3v1.3h-1.3zM49 179.4h1.3v1.3h-1.3z" fill="#bad92a"/>
<path d="M51.1 200.8H77.8V219.2H51.1z" fill="#8fca3a"/>
<path d="M51 200h1.3v1.3h-1.3zM50.6 200.6h1.3v1.3h-1.3zM50.9 199.9h1.3v1.3h-1.3zM51.3 200.6h1.3v1.3h-1.3zM51.4 200.7h1.3v1.3h-1.3zM51.2 218.3h1.3v1.3h-1.3zM51.9 219.8h1.3v1.3h-1.3zM51.8 218.3h1.3v1.3h-1.3zM52 199.3h1.3v1.3h-1.3zM52.3 200.6h1.3v1.3h-1.3zM52.4 218.4h1.3v1.3h-1.3zM52.3 220.2h1.3v1.3h-1.3zM53.2 218.4h1.3v1.3h-1.3zM52.9 218.4h1.3v1.3h-1.3zM53 198.1h1.3v1.3h-1.3zM53.7 199.7h1.3v1.3h-1.3zM53.5 219.7h1.3v1.3h-1.3zM53.5 218.2h1.3v1.3h-1.3zM54.2 219h1.3v1.3h-1.3zM54 222.3h1.3v1.3h-1.3zM54.2 199.5h1.3v1.3h-1.3zM54.7 221.8h1.3v1.3h-1.3zM54.8 218h1.3v1.3h-1.3zM54.5 197.3h1.3v1.3h-1.3zM55.3 219.4h1.3v1.3h-1.3zM55 218h1.3v1.3h-1.3zM55.3 197.2h1.3v1.3h-1.3zM55.9 218.3h1.3v1.3h-1.3zM55.7 218h1.3v1.3h-1.3zM55.9 221.6h1.3v1.3h-1.3zM56.4 197.4h1.3v1.3h-1.3zM56.3 219.2h1.3v1.3h-1.3zM56.5 196.9h1.3v1.3h-1.3zM57.1 200.4h1.3v1.3h-1.3zM56.7 200.7h1.3v1.3h-1.3zM56.9 219.8h1.3v1.3h-1.3zM57.3 218.1h1.3v1.3h-1.3zM57.7 199.5h1.3v1.3h-1.3zM57.5 220.5h1.3v1.3h-1.3zM58 219.8h1.3v1.3h-1.3zM57.8 198h1.3v1.3h-1.3zM58.2 199.5h1.3v1.3h-1.3zM58.7 218.4h1.3v1.3h-1.3zM58.6 218.4h1.3v1.3h-1.3zM58.7 221.5h1.3v1.3h-1.3zM59.2 219h1.3v1.3h-1.3zM59.4 218.2h1.3v1.3h-1.3zM59.1 221h1.3v1.3h-1.3zM59.8 198.8h1.3v1.3h-1.3zM59.6 198.5h1.3v1.3h-1.3zM59.9 199.9h1.3v1.3h-1.3zM60.2 200.6h1.3v1.3h-1.3zM60.2 218.1h1.3v1.3h-1.3zM60.2 220h1.3v1.3h-1.3zM60.5 219h1.3v1.3h-1.3zM60.9 218.3h1.3v1.3h-1.3zM60.5 222.1h1.3v1.3h-1.3zM61.2 218.3h1.3v1.3h-1.3zM61.2 218.7h1.3v1.3h-1.3zM61.1 218.9h1.3v1.3h-1.3zM61.7 218.7h1.3v1.3h-1.3zM62.1 218h1.3v1.3h-1.3zM61.6 218.6h1.3v1.3h-1.3zM62.6 219.9h1.3v1.3h-1.3zM62.2 220.5h1.3v1.3h-1.3zM62.5 200.4h1.3v1.3h-1.3zM63.2 221.2h1.3v1.3h-1.3zM63.1 221h1.3v1.3h-1.3zM62.8 198.2h1.3v1.3h-1.3zM63.5 197.1h1.3v1.3h-1.3zM63.3 221.4h1.3v1.3h-1.3zM63.5 219.5h1.3v1.3h-1.3zM63.8 197h1.3v1.3h-1.3zM64.1 218h1.3v1.3h-1.3zM64.1 200.7h1.3v1.3h-1.3zM64.7 218.3h1.3v1.3h-1.3zM64.6 200.4h1.3v1.3h-1.3zM64.9 199.9h1.3v1.3h-1.3zM64.9 198.3h1.3v1.3h-1.3zM65.2 219.3h1.3v1.3h-1.3zM65.2 198.8h1.3v1.3h-1.3zM65.8 221.7h1.3v1.3h-1.3zM65.7 199h1.3v1.3h-1.3zM65.6 218.2h1.3v1.3h-1.3zM66.2 219h1.3v1.3h-1.3zM66.4 200.7h1.3v1.3h-1.3zM66.2 222.3h1.3v1.3h-1.3zM66.8 200.2h1.3v1.3h-1.3zM66.9 200h1.3v1.3h-1.3zM67 218.2h1.3v1.3h-1.3zM67.4 200.5h1.3v1.3h-1.3zM67.6 218.6h1.3v1.3h-1.3zM67.2 220.1h1.3v1.3h-1.3zM67.8 199.7h1.3v1.3h-1.3zM68.1 198.5h1.3v1.3h-1.3zM68 197.8h1.3v1.3h-1.3zM68.6 220.4h1.3v1.3h-1.3zM68.3 222.3h1.3v1.3h-1.3zM68.4 196.6h1.3v1.3h-1.3zM68.8 222h1.3v1.3h-1.3zM68.9 219.8h1.3v1.3h-1.3zM68.7 198.8h1.3v1.3h-1.3zM69.3 218.1h1.3v1.3h-1.3zM69.7 200.2h1.3v1.3h-1.3zM69.4 219.2h1.3v1.3h-1.3zM69.8 196.8h1.3v1.3h-1.3zM70.1 199.4h1.3v1.3h-1.3zM69.9 197.4h1.3v1.3h-1.3zM70.8 219.1h1.3v1.3h-1.3zM70.9 221h1.3v1.3h-1.3zM70.6 220.9h1.3v1.3h-1.3zM71.3 200.2h1.3v1.3h-1.3zM71 199.7h1.3v1.3h-1.3zM71.4 199.2h1.3v1.3h-1.3zM71.5 200.1h1.3v1.3h-1.3zM71.5 199.2h1.3v1.3h-1.3zM72 200.7h1.3v1.3h-1.3zM72.2 196.9h1.3v1.3h-1.3zM72.5 198.4h1.3v1.3h-1.3zM72 198.6h1.3v1.3h-1.3zM72.9 200.6h1.3v1.3h-1.3zM73 222.2h1.3v1.3h-1.3zM72.6 200h1.3v1.3h-1.3zM73.4 219.6h1.3v1.3h-1.3zM73.2 218h1.3v1.3h-1.3zM73.4 199.4h1.3v1.3h-1.3zM74.1 220.1h1.3v1.3h-1.3zM73.8 198.6h1.3v1.3h-1.3zM73.7 199.2h1.3v1.3h-1.3zM74.6 197.3h1.3v1.3h-1.3zM74.3 197.5h1.3v1.3h-1.3zM74.7 198.2h1.3v1.3h-1.3zM75.1 196.9h1.3v1.3h-1.3zM75.1 218h1.3v1.3h-1.3zM75.2 218.8h1.3v1.3h-1.3zM75.9 221.7h1.3v1.3h-1.3zM75.6 199h1.3v1.3h-1.3zM75.4 199.5h1.3v1.3h-1.3zM76.2 200.3h1.3v1.3h-1.3zM76 218.5h1.3v1.3h-1.3zM76 197.1h1.3v1.3h-1.3zM76.6 197.1h1.3v1.3h-1.3zM76.7 197.9h1.3v1.3h-1.3zM76.9 199h1.3v1.3h-1.3zM61.9 193.9h1.3v1.3h-1.3zM71.9 231.6h1.3v1.3h-1.3zM66.9 228.9h1.3v1.3h-1.3zM62.7 222.8h1.3v1.3h-1.3zM70.4 231.3h1.3v1.3h-1.3zM54.2 194h1.3v1.3h-1.3zM62.3 223.3h1.3v1.3h-1.3zM75.7 187.4h1.3v1.3h-1.3zM55.9 225.7h1.3v1.3h-1.3zM67.4 227.8h1.3v1.3h-1.3zM68 181.3h1.3v1.3h-1.3zM74.9 181h1.3v1.3h-1.3z" fill="#8fca3a"/>
<path d="M77.2 200.8H101.8V219.2H77.2z" fill="#74c240"/>
<path d="M76.9 199.9h1.3v1.3h-1.3zM76.8 200.2h1.3v1.3h-1.3zM77 198.3h1.3v1.3h-1.3zM77.2 219h1.3v1.3h-1.3zM77.4 218.4h1.3v1.3h-1.3zM77.6 218.6h1.3v1.3h-1.3zM77.9 199.9h1.3v1.3h-1.3zM77.8 218.2h1.3v1.3h-1.3zM78.2 199.3h1.3v1.3h-1.3zM78.8 200.6h1.3v1.3h-1.3zM78.5 219.1h1.3v1.3h-1.3zM78.5 197.8h1.3v1.3h-1.3zM79.3 197.3h1.3v1.3h-1.3zM79 200h1.3v1.3h-1.3zM79.2 200.2h1.3v1.3h-1.3zM79.5 200.7h1.3v1.3h-1.3zM79.4 197.5h1.3v1.3h-1.3zM79.5 197.8h1.3v1.3h-1.3zM80.3 220.2h1.3v1.3h-1.3zM80 200.5h1.3v1.3h-1.3zM80.4 200.6h1.3v1.3h-1.3zM80.7 219.7h1.3v1.3h-1.3zM80.7 222.3h1.3v1.3h-1.3zM80.5 218.1h1.3v1.3h-1.3zM81.2 221.5h1.3v1.3h-1.3zM81.5 219.5h1.3v1.3h-1.3zM81.2 219h1.3v1.3h-1.3zM81.7 218.3h1.3v1.3h-1.3zM81.6 197.3h1.3v1.3h-1.3zM81.5 199.8h1.3v1.3h-1.3zM82.6 196.6h1.3v1.3h-1.3zM82.6 200h1.3v1.3h-1.3zM82.2 200.7h1.3v1.3h-1.3zM82.7 200.7h1.3v1.3h-1.3zM83 220.3h1.3v1.3h-1.3zM82.9 200h1.3v1.3h-1.3zM83.2 218.7h1.3v1.3h-1.3zM83.5 198.6h1.3v1.3h-1.3zM83.7 218.6h1.3v1.3h-1.3zM84 220.6h1.3v1.3h-1.3zM84.3 218h1.3v1.3h-1.3zM83.9 218.4h1.3v1.3h-1.3zM84.6 218.8h1.3v1.3h-1.3zM84.4 218h1.3v1.3h-1.3zM84.3 218h1.3v1.3h-1.3zM85.3 220.8h1.3v1.3h-1.3zM85.1 219.6h1.3v1.3h-1.3zM85.4 196.7h1.3v1.3h-1.3zM85.5 218.2h1.3v1.3h-1.3zM85.4 198h1.3v1.3h-1.3zM85.5 200.5h1.3v1.3h-1.3zM85.9 219.7h1.3v1.3h-1.3zM85.9 218.2h1.3v1.3h-1.3zM86.2 221.9h1.3v1.3h-1.3zM86.9 199.3h1.3v1.3h-1.3zM87 219.4h1.3v1.3h-1.3zM86.8 200.7h1.3v1.3h-1.3zM87.1 199.3h1.3v1.3h-1.3zM87.4 219.2h1.3v1.3h-1.3zM87 219.8h1.3v1.3h-1.3zM87.9 220.5h1.3v1.3h-1.3zM87.6 199.7h1.3v1.3h-1.3zM88.1 198h1.3v1.3h-1.3zM88.1 218.3h1.3v1.3h-1.3zM88.6 197.2h1.3v1.3h-1.3zM88.2 219.1h1.3v1.3h-1.3zM89.2 220.5h1.3v1.3h-1.3zM88.8 199.7h1.3v1.3h-1.3zM89.2 200.7h1.3v1.3h-1.3zM89.6 199.4h1.3v1.3h-1.3zM89.3 220.3h1.3v1.3h-1.3zM89.7 199.4h1.3v1.3h-1.3zM89.8 218.2h1.3v1.3h-1.3zM90 196.8h1.3v1.3h-1.3zM90 197.6h1.3v1.3h-1.3zM90.8 221.1h1.3v1.3h-1.3zM90.7 218.4h1.3v1.3h-1.3zM90.5 199.4h1.3v1.3h-1.3zM91.4 219.4h1.3v1.3h-1.3zM91.3 197.1h1.3v1.3h-1.3zM91.3 200.5h1.3v1.3h-1.3zM91.5 200.6h1.3v1.3h-1.3zM91.9 218.8h1.3v1.3h-1.3zM91.6 220.8h1.3v1.3h-1.3zM92.2 196.8h1.3v1.3h-1.3zM92.3 218.2h1.3v1.3h-1.3zM92.4 218.2h1.3v1.3h-1.3zM92.8 218.8h1.3v1.3h-1.3zM93.1 199.2h1.3v1.3h-1.3zM93 200h1.3v1.3h-1.3zM93.5 221.5h1.3v1.3h-1.3zM93.3 198.7h1.3v1.3h-1.3zM93.1 218.4h1.3v1.3h-1.3zM93.8 199.3h1.3v1.3h-1.3zM93.6 220.5h1.3v1.3h-1.3zM94 219.5h1.3v1.3h-1.3zM94.7 197.3h1.3v1.3h-1.3zM94.5 218h1.3v1.3h-1.3zM94.4 219.3h1.3v1.3h-1.3zM94.7 218.5h1.3v1.3h-1.3zM95 220h1.3v1.3h-1.3zM95.1 199.6h1.3v1.3h-1.3zM95.3 200.4h1.3v1.3h-1.3zM95.6 200.7h1.3v1.3h-1.3zM95.8 219.6h1.3v1.3h-1.3zM95.8 199.6h1.3v1.3h-1.3zM96.4 198.9h1.3v1.3h-1.3zM95.9 198.7h1.3v1.3h-1.3zM96.8 218.6h1.3v1.3h-1.3zM96.5 220.3h1.3v1.3h-1.3zM96.5 219h1.3v1.3h-1.3zM97.1 218.8h1.3v1.3h-1.3zM97.3 219h1.3v1.3h-1.3zM97.3 198.2h1.3v1.3h-1.3zM97.5 219.5h1.3v1.3h-1.3zM97.5 220.1h1.3v1.3h-1.3zM97.9 218.5h1.3v1.3h-1.3zM98.3 218.8h1.3v1.3h-1.3zM98.3 200.3h1.3v1.3h-1.3zM98.6 218.3h1.3v1.3h-1.3zM98.9 197.6h1.3v1.3h-1.3zM99.1 218.4h1.3v1.3h-1.3zM98.8 220.9h1.3v1.3h-1.3zM99.5 199.1h1.3v1.3h-1.3zM99.6 200.7h1.3v1.3h-1.3zM99.3 197.8h1.3v1.3h-1.3zM99.8 199.5h1.3v1.3h-1.3zM100.2 220h1.3v1.3h-1.3zM100.1 198.1h1.3v1.3h-1.3zM100.6 199.2h1.3v1.3h-1.3zM100.7 219.9h1.3v1.3h-1.3zM100.5 218.7h1.3v1.3h-1.3zM78.4 189.4h1.3v1.3h-1.3zM86.4 223.8h1.3v1.3h-1.3zM89 222.8h1.3v1.3h-1.3zM83.8 195.9h1.3v1.3h-1.3zM91.5 186.7h1.3v1.3h-1.3zM82.7 196.2h1.3v1.3h-1.3zM89.5 190.1h1.3v1.3h-1.3zM79.4 191.7h1.3v1.3h-1.3zM91.2 196.2h1.3v1.3h-1.3zM80.5 178.5h1.3v1.3h-1.3z" fill="#74c240"/>
<path d="M101.2 200.8H109.1V219.2H101.2zM111.7 200.8H124.8V219.2H111.7z" fill="#66be44"/>
<path d="M100.7 200.7h1.3v1.3h-1.3zM100.9 198.8h1.3v1.3h-1.3zM100.6 200.6h1.3v1.3h-1.3zM101.7 218.3h1.3v1.3h-1.3zM101.7 200.6h1.3v1.3h-1.3zM101.6 199.1h1.3v1.3h-1.3zM102 220.7h1.3v1.3h-1.3zM101.8 199.8h1.3v1.3h-1.3zM102.2 221.3h1.3v1.3h-1.3zM102.2 197.8h1.3v1.3h-1.3zM102.4 219.8h1.3v1.3h-1.3zM102.5 218h1.3v1.3h-1.3zM103.2 200.6h1.3v1.3h-1.3zM102.8 198.4h1.3v1.3h-1.3zM103.2 219.7h1.3v1.3h-1.3zM103.4 219.8h1.3v1.3h-1.3zM103.6 200.7h1.3v1.3h-1.3zM103.8 200.4h1.3v1.3h-1.3zM104.4 219.8h1.3v1.3h-1.3zM104.1 200.3h1.3v1.3h-1.3zM104.2 218.1h1.3v1.3h-1.3zM104.9 199.5h1.3v1.3h-1.3zM104.9 218h1.3v1.3h-1.3zM104.6 219.8h1.3v1.3h-1.3zM105.2 197.5h1.3v1.3h-1.3zM105.2 200.7h1.3v1.3h-1.3zM105 220.1h1.3v1.3h-1.3zM105.9 221.9h1.3v1.3h-1.3zM105.9 222h1.3v1.3h-1.3zM106 200.1h1.3v1.3h-1.3zM106.5 220h1.3v1.3h-1.3zM106.4 200.7h1.3v1.3h-1.3zM106.2 199.7h1.3v1.3h-1.3zM106.8 218.3h1.3v1.3h-1.3zM107 197h1.3v1.3h-1.3zM106.8 218h1.3v1.3h-1.3zM107.4 218.9h1.3v1.3h-1.3zM107.4 198.7h1.3v1.3h-1.3zM107.7 219h1.3v1.3h-1.3zM107.9 200.3h1.3v1.3h-1.3zM108 218.8h1.3v1.3h-1.3zM108.2 219h1.3v1.3h-1.3zM101.8 223.1h1.3v1.3h-1.3zM104.2 225.2h1.3v1.3h-1.3zM111.2 219.2h1.3v1.3h-1.3zM111.4 218h1.3v1.3h-1.3zM111.5 198.1h1.3v1.3h-1.3zM111.9 200.6h1.3v1.3h-1.3zM112 199.6h1.3v1.3h-1.3zM111.7 222.2h1.3v1.3h-1.3zM112.3 198.5h1.3v1.3h-1.3zM112.2 219.4h1.3v1.3h-1.3zM112.6 199.8h1.3v1.3h-1.3zM112.8 222.3h1.3v1.3h-1.3zM113.1 199h1.3v1.3h-1.3zM113.2 199.8h1.3v1.3h-1.3zM113.7 196.8h1.3v1.3h-1.3zM113.4 220.2h1.3v1.3h-1.3zM113.6 198.1h1.3v1.3h-1.3zM114.3 199.2h1.3v1.3h-1.3zM114.1 218h1.3v1.3h-1.3zM114.1 199.1h1.3v1.3h-1.3zM114.5 221.7h1.3v1.3h-1.3zM114.4 199.5h1.3v1.3h-1.3zM114.5 218.1h1.3v1.3h-1.3zM115 197.4h1.3v1.3h-1.3zM115.4 218.2h1.3v1.3h-1.3zM115.4 198.8h1.3v1.3h-1.3zM115.6 200.5h1.3v1.3h-1.3zM116 198.6h1.3v1.3h-1.3zM115.5 199.2h1.3v1.3h-1.3zM116.2 200.4h1.3v1.3h-1.3zM116.2 200.7h1.3v1.3h-1.3zM116.5 222.3h1.3v1.3h-1.3zM116.6 218.3h1.3v1.3h-1.3zM116.7 200.7h1.3v1.3h-1.3zM116.7 199.7h1.3v1.3h-1.3zM117.6 200.7h1.3v1.3h-1.3zM117.6 218h1.3v1.3h-1.3zM117.3 199.8h1.3v1.3h-1.3zM118.1 218.1h1.3v1.3h-1.3zM118.1 200.7h1.3v1.3h-1.3zM118.1 220.1h1.3v1.3h-1.3zM118.6 196.9h1.3v1.3h-1.3zM118.2 218.2h1.3v1.3h-1.3zM118.4 218.3h1.3v1.3h-1.3zM119.1 218.9h1.3v1.3h-1.3zM118.9 199.7h1.3v1.3h-1.3zM119.2 221h1.3v1.3h-1.3zM119.5 199.9h1.3v1.3h-1.3zM119.5 218h1.3v1.3h-1.3zM119.8 221.1h1.3v1.3h-1.3zM120 219.1h1.3v1.3h-1.3zM119.9 218.3h1.3v1.3h-1.3zM120.3 218.2h1.3v1.3h-1.3zM120.6 221.8h1.3v1.3h-1.3zM121 200.7h1.3v1.3h-1.3zM121 200.4h1.3v1.3h-1.3zM121.4 200.3h1.3v1.3h-1.3zM121 198.9h1.3v1.3h-1.3zM121.4 218.4h1.3v1.3h-1.3zM121.9 218h1.3v1.3h-1.3zM121.9 200.2h1.3v1.3h-1.3zM121.8 222.2h1.3v1.3h-1.3zM122.6 199.8h1.3v1.3h-1.3zM122.6 196.9h1.3v1.3h-1.3zM122.3 199.4h1.3v1.3h-1.3zM122.7 196.7h1.3v1.3h-1.3zM123.2 218.1h1.3v1.3h-1.3zM122.7 220.8h1.3v1.3h-1.3zM123.5 199.3h1.3v1.3h-1.3zM123.2 220.5h1.3v1.3h-1.3zM123.2 197.1h1.3v1.3h-1.3zM123.4 227.1h1.3v1.3h-1.3zM114 195.1h1.3v1.3h-1.3zM123.5 188.9h1.3v1.3h-1.3zM117.2 222.5h1.3v1.3h-1.3zM114.3 226.1h1.3v1.3h-1.3zM112.8 176.7h1.3v1.3h-1.3z" fill="#66be44"/>
<path d="M124.2 200.8H146.8V219.2H124.2z" fill="#64c040"/>
<path d="M123.6 199.4h1.3v1.3h-1.3zM124.1 218.6h1.3v1.3h-1.3zM124.1 198h1.3v1.3h-1.3zM124.3 218h1.3v1.3h-1.3zM124.4 198.9h1.3v1.3h-1.3zM124.5 220.2h1.3v1.3h-1.3zM125.2 196.6h1.3v1.3h-1.3zM124.8 218h1.3v1.3h-1.3zM124.8 199.1h1.3v1.3h-1.3zM125.8 221.2h1.3v1.3h-1.3zM125.4 198.4h1.3v1.3h-1.3zM125.6 218.5h1.3v1.3h-1.3zM126.3 218h1.3v1.3h-1.3zM125.9 220.8h1.3v1.3h-1.3zM126.2 218.1h1.3v1.3h-1.3zM126.8 220.4h1.3v1.3h-1.3zM126.7 199.2h1.3v1.3h-1.3zM126.3 220.4h1.3v1.3h-1.3zM127.1 218.1h1.3v1.3h-1.3zM127.1 221.2h1.3v1.3h-1.3zM127.4 219.5h1.3v1.3h-1.3zM127.5 221.7h1.3v1.3h-1.3zM127.7 197.2h1.3v1.3h-1.3zM127.8 221.9h1.3v1.3h-1.3zM128.5 220.1h1.3v1.3h-1.3zM128.4 219.2h1.3v1.3h-1.3zM128.3 218.9h1.3v1.3h-1.3zM128.7 198.8h1.3v1.3h-1.3zM128.6 218.6h1.3v1.3h-1.3zM128.5 219.5h1.3v1.3h-1.3zM129.2 199.1h1.3v1.3h-1.3zM129.1 198.3h1.3v1.3h-1.3zM129.3 218.6h1.3v1.3h-1.3zM129.8 200.5h1.3v1.3h-1.3zM129.9 197h1.3v1.3h-1.3zM129.9 200.4h1.3v1.3h-1.3zM130.6 219.3h1.3v1.3h-1.3zM130.6 200.7h1.3v1.3h-1.3zM130.2 221.8h1.3v1.3h-1.3zM131 197h1.3v1.3h-1.3zM131 218.3h1.3v1.3h-1.3zM131 219.8h1.3v1.3h-1.3zM131.5 199.3h1.3v1.3h-1.3zM131.7 219.8h1.3v1.3h-1.3zM131.6 200.5h1.3v1.3h-1.3zM131.8 200.7h1.3v1.3h-1.3zM132.3 220.2h1.3v1.3h-1.3zM132.4 200.7h1.3v1.3h-1.3zM132.6 220.7h1.3v1.3h-1.3zM132.8 220h1.3v1.3h-1.3zM132.8 218.7h1.3v1.3h-1.3zM133.4 220.4h1.3v1.3h-1.3zM133.2 198.3h1.3v1.3h-1.3zM133.3 196.9h1.3v1.3h-1.3zM133.6 199.9h1.3v1.3h-1.3zM133.9 200.2h1.3v1.3h-1.3zM133.7 196.7h1.3v1.3h-1.3zM134.4 200.6h1.3v1.3h-1.3zM134.1 221.8h1.3v1.3h-1.3zM134.5 199.9h1.3v1.3h-1.3zM135.1 200.7h1.3v1.3h-1.3zM134.9 197.1h1.3v1.3h-1.3zM134.8 219.1h1.3v1.3h-1.3zM135.5 197.2h1.3v1.3h-1.3zM135.6 199.9h1.3v1.3h-1.3zM135.6 218.7h1.3v1.3h-1.3zM136.1 218h1.3v1.3h-1.3zM136 218.6h1.3v1.3h-1.3zM135.7 218.5h1.3v1.3h-1.3zM136.7 220.3h1.3v1.3h-1.3zM136.4 220h1.3v1.3h-1.3zM136.2 220.6h1.3v1.3h-1.3zM137.3 199.8h1.3v1.3h-1.3zM137.3 199.9h1.3v1.3h-1.3zM136.8 198.8h1.3v1.3h-1.3zM137.4 219.8h1.3v1.3h-1.3zM137.5 199.9h1.3v1.3h-1.3zM137.8 218.3h1.3v1.3h-1.3zM138 198.2h1.3v1.3h-1.3zM137.9 218h1.3v1.3h-1.3zM138.1 199.2h1.3v1.3h-1.3zM138.8 199.5h1.3v1.3h-1.3zM138.5 219.1h1.3v1.3h-1.3zM138.8 200.5h1.3v1.3h-1.3zM139 197.8h1.3v1.3h-1.3zM139.2 219.8h1.3v1.3h-1.3zM139.3 196.9h1.3v1.3h-1.3zM139.7 218h1.3v1.3h-1.3zM139.9 199.9h1.3v1.3h-1.3zM139.7 221h1.3v1.3h-1.3zM140.3 218.7h1.3v1.3h-1.3zM140.2 218h1.3v1.3h-1.3zM140.1 199.1h1.3v1.3h-1.3zM140.7 200.3h1.3v1.3h-1.3zM141 199.2h1.3v1.3h-1.3zM140.6 198.2h1.3v1.3h-1.3zM141.3 200.2h1.3v1.3h-1.3zM141.5 198.3h1.3v1.3h-1.3zM141.4 218.8h1.3v1.3h-1.3zM142.2 220.6h1.3v1.3h-1.3zM141.9 198.6h1.3v1.3h-1.3zM142.1 198.4h1.3v1.3h-1.3zM142.3 199.1h1.3v1.3h-1.3zM142.5 220.3h1.3v1.3h-1.3zM142.5 218.7h1.3v1.3h-1.3zM143.3 197.8h1.3v1.3h-1.3zM143 219.6h1.3v1.3h-1.3zM143.4 221.7h1.3v1.3h-1.3zM143.4 200.5h1.3v1.3h-1.3zM143.5 200h1.3v1.3h-1.3zM143.8 222h1.3v1.3h-1.3zM144.5 218h1.3v1.3h-1.3zM144 218.6h1.3v1.3h-1.3zM144.4 199.1h1.3v1.3h-1.3zM144.9 196.4h1.3v1.3h-1.3zM144.8 199.6h1.3v1.3h-1.3zM144.9 218.9h1.3v1.3h-1.3zM145.5 199.8h1.3v1.3h-1.3zM145.6 196.6h1.3v1.3h-1.3zM145.3 218.2h1.3v1.3h-1.3zM136.1 192.2h1.3v1.3h-1.3zM129.6 224.8h1.3v1.3h-1.3zM140.9 225.5h1.3v1.3h-1.3zM136.8 195.6h1.3v1.3h-1.3zM124.8 190.7h1.3v1.3h-1.3zM140.3 196.2h1.3v1.3h-1.3zM131.1 186h1.3v1.3h-1.3zM136.1 195h1.3v1.3h-1.3zM133.4 184.7h1.3v1.3h-1.3z" fill="#64c040"/>
<path d="M146.2 200.8H169.3V219.2H146.2z" fill="#5fbc82"/>
<path d="M145.9 200.7h1.3v1.3h-1.3zM145.9 218.6h1.3v1.3h-1.3zM145.8 218.4h1.3v1.3h-1.3zM146.3 218h1.3v1.3h-1.3zM146.3 219.6h1.3v1.3h-1.3zM146.3 220.6h1.3v1.3h-1.3zM147.1 222h1.3v1.3h-1.3zM146.9 218.9h1.3v1.3h-1.3zM146.7 220.6h1.3v1.3h-1.3zM147.2 196.6h1.3v1.3h-1.3zM147.6 200.7h1.3v1.3h-1.3zM147.2 218.5h1.3v1.3h-1.3zM147.9 196.8h1.3v1.3h-1.3zM147.8 219.6h1.3v1.3h-1.3zM148.1 221.5h1.3v1.3h-1.3zM148.7 218.3h1.3v1.3h-1.3zM148.4 219h1.3v1.3h-1.3zM148.9 200.1h1.3v1.3h-1.3zM149 219.1h1.3v1.3h-1.3zM149.1 218h1.3v1.3h-1.3zM149 218.1h1.3v1.3h-1.3zM150 200.7h1.3v1.3h-1.3zM149.8 219.3h1.3v1.3h-1.3zM149.7 200.1h1.3v1.3h-1.3zM150.4 197.5h1.3v1.3h-1.3zM150.3 198.8h1.3v1.3h-1.3zM150.2 219.5h1.3v1.3h-1.3zM150.5 218h1.3v1.3h-1.3zM150.7 219.2h1.3v1.3h-1.3zM150.6 222.2h1.3v1.3h-1.3zM151.1 199.8h1.3v1.3h-1.3zM151.1 218h1.3v1.3h-1.3zM151.5 218.3h1.3v1.3h-1.3zM151.7 200.5h1.3v1.3h-1.3zM151.7 199.9h1.3v1.3h-1.3zM151.9 221.9h1.3v1.3h-1.3zM152.4 198.3h1.3v1.3h-1.3zM152.6 219.7h1.3v1.3h-1.3zM152.2 200.1h1.3v1.3h-1.3zM152.8 199.2h1.3v1.3h-1.3zM153.3 200.2h1.3v1.3h-1.3zM152.9 218.7h1.3v1.3h-1.3zM153.8 197h1.3v1.3h-1.3zM153.5 220h1.3v1.3h-1.3zM153.7 221.4h1.3v1.3h-1.3zM154.4 200.4h1.3v1.3h-1.3zM153.9 200.6h1.3v1.3h-1.3zM154.3 218.2h1.3v1.3h-1.3zM154.6 199.7h1.3v1.3h-1.3zM154.4 198.9h1.3v1.3h-1.3zM154.8 218.7h1.3v1.3h-1.3zM155.3 218.1h1.3v1.3h-1.3zM155.5 200.7h1.3v1.3h-1.3zM155.3 219.6h1.3v1.3h-1.3zM155.8 198.5h1.3v1.3h-1.3zM155.5 196.4h1.3v1.3h-1.3zM156 199.7h1.3v1.3h-1.3zM156.1 221.4h1.3v1.3h-1.3zM156.3 218h1.3v1.3h-1.3zM156.2 218.8h1.3v1.3h-1.3zM156.8 199.1h1.3v1.3h-1.3zM156.6 218.2h1.3v1.3h-1.3zM156.6 200.4h1.3v1.3h-1.3zM157.2 220.6h1.3v1.3h-1.3zM157.5 199.2h1.3v1.3h-1.3zM157.3 218h1.3v1.3h-1.3zM158.2 198.9h1.3v1.3h-1.3zM157.8 198.7h1.3v1.3h-1.3zM158 197.3h1.3v1.3h-1.3zM158.4 197.1h1.3v1.3h-1.3zM158.2 218h1.3v1.3h-1.3zM158.4 218.8h1.3v1.3h-1.3zM159.3 200.1h1.3v1.3h-1.3zM159.3 218.9h1.3v1.3h-1.3zM159.2 218h1.3v1.3h-1.3zM159.8 222.1h1.3v1.3h-1.3zM159.7 198.9h1.3v1.3h-1.3zM159.3 200.7h1.3v1.3h-1.3zM160.4 218h1.3v1.3h-1.3zM160.4 200.7h1.3v1.3h-1.3zM160.3 199.1h1.3v1.3h-1.3zM160.7 220.4h1.3v1.3h-1.3zM160.9 200.4h1.3v1.3h-1.3zM160.6 200.1h1.3v1.3h-1.3zM161.3 199.8h1.3v1.3h-1.3zM161.2 197.8h1.3v1.3h-1.3zM161.2 197.1h1.3v1.3h-1.3zM161.8 220.5h1.3v1.3h-1.3zM161.9 218.9h1.3v1.3h-1.3zM162 222.3h1.3v1.3h-1.3zM162.4 200.6h1.3v1.3h-1.3zM162.6 197.3h1.3v1.3h-1.3zM162.5 199.7h1.3v1.3h-1.3zM162.7 218.2h1.3v1.3h-1.3zM163 218.8h1.3v1.3h-1.3zM163 220.2h1.3v1.3h-1.3zM163.2 218.9h1.3v1.3h-1.3zM163.4 196.8h1.3v1.3h-1.3zM163.6 218.3h1.3v1.3h-1.3zM163.7 198.3h1.3v1.3h-1.3zM163.8 199.2h1.3v1.3h-1.3zM164.3 200.5h1.3v1.3h-1.3zM164.3 200h1.3v1.3h-1.3zM164.3 220.4h1.3v1.3h-1.3zM164.4 200.3h1.3v1.3h-1.3zM165 222.3h1.3v1.3h-1.3zM164.9 198.3h1.3v1.3h-1.3zM165.2 220.1h1.3v1.3h-1.3zM165.8 200.7h1.3v1.3h-1.3zM165.9 197.8h1.3v1.3h-1.3zM165.5 200.2h1.3v1.3h-1.3zM166.4 200.7h1.3v1.3h-1.3zM166.3 199.1h1.3v1.3h-1.3zM166 200.5h1.3v1.3h-1.3zM166.8 219.7h1.3v1.3h-1.3zM166.8 222h1.3v1.3h-1.3zM166.8 218h1.3v1.3h-1.3zM167.3 198.2h1.3v1.3h-1.3zM167.3 218.3h1.3v1.3h-1.3zM167.3 218.3h1.3v1.3h-1.3zM168.1 199.5h1.3v1.3h-1.3zM167.9 221.3h1.3v1.3h-1.3zM168.1 219.2h1.3v1.3h-1.3zM162.9 222.5h1.3v1.3h-1.3zM158.8 223h1.3v1.3h-1.3zM147.7 224h1.3v1.3h-1.3zM149.4 226h1.3v1.3h-1.3zM160.5 195.1h1.3v1.3h-1.3zM151.1 190.2h1.3v1.3h-1.3zM153.2 222.5h1.3v1.3h-1.3zM148.4 224.9h1.3v1.3h-1.3zM166.3 222.5h1.3v1.3h-1.3zM152.4 239.1h1.3v1.3h-1.3z" fill="#5fbc82"/>
<path d="M168.7 200.8H190.9V219.2H168.7z" fill="#64c4bc"/>
<path d="M168.5 218.4h1.3v1.3h-1.3zM168.2 220.5h1.3v1.3h-1.3zM168.3 200.5h1.3v1.3h-1.3zM168.8 198.6h1.3v1.3h-1.3zM168.9 198.3h1.3v1.3h-1.3zM168.8 199.2h1.3v1.3h-1.3zM169.3 197.7h1.3v1.3h-1.3zM169.2 199.4h1.3v1.3h-1.3zM169.5 219.8h1.3v1.3h-1.3zM169.8 200.1h1.3v1.3h-1.3zM170 221.8h1.3v1.3h-1.3zM169.9 196.7h1.3v1.3h-1.3zM170.5 221.6h1.3v1.3h-1.3zM170.6 196.6h1.3v1.3h-1.3zM170.6 220h1.3v1.3h-1.3zM171.3 200.2h1.3v1.3h-1.3zM171.3 218.4h1.3v1.3h-1.3zM171 219.3h1.3v1.3h-1.3zM171.6 218.5h1.3v1.3h-1.3zM171.4 220.9h1.3v1.3h-1.3zM171.6 218.3h1.3v1.3h-1.3zM172 200.1h1.3v1.3h-1.3zM171.9 197.5h1.3v1.3h-1.3zM172.2 197.2h1.3v1.3h-1.3zM172.9 200.5h1.3v1.3h-1.3zM172.9 199.3h1.3v1.3h-1.3zM172.5 220.8h1.3v1.3h-1.3zM173 198.8h1.3v1.3h-1.3zM173.1 220.9h1.3v1.3h-1.3zM173.1 218.1h1.3v1.3h-1.3zM174 200.6h1.3v1.3h-1.3zM173.8 200.7h1.3v1.3h-1.3zM173.8 218.8h1.3v1.3h-1.3zM174.3 221.3h1.3v1.3h-1.3zM174.5 221.5h1.3v1.3h-1.3zM174.3 218.7h1.3v1.3h-1.3zM174.8 197.5h1.3v1.3h-1.3zM174.8 219.9h1.3v1.3h-1.3zM175.2 199.3h1.3v1.3h-1.3zM175.5 218.4h1.3v1.3h-1.3zM175.3 218.6h1.3v1.3h-1.3zM175.8 197.5h1.3v1.3h-1.3zM175.9 197.4h1.3v1.3h-1.3zM175.9 218.1h1.3v1.3h-1.3zM175.8 221.1h1.3v1.3h-1.3zM176.9 200.7h1.3v1.3h-1.3zM176.8 196.9h1.3v1.3h-1.3zM176.5 218h1.3v1.3h-1.3zM177.2 199.1h1.3v1.3h-1.3zM177.4 220.3h1.3v1.3h-1.3zM177.4 218.4h1.3v1.3h-1.3zM177.9 218.9h1.3v1.3h-1.3zM177.7 219h1.3v1.3h-1.3zM177.8 221.9h1.3v1.3h-1.3zM178 220.9h1.3v1.3h-1.3zM178.2 219.8h1.3v1.3h-1.3zM178.3 221.8h1.3v1.3h-1.3zM179 218.8h1.3v1.3h-1.3zM179 198.1h1.3v1.3h-1.3zM179.1 198h1.3v1.3h-1.3zM179.1 218h1.3v1.3h-1.3zM179.4 218.7h1.3v1.3h-1.3zM179.1 218.5h1.3v1.3h-1.3zM180.1 199.5h1.3v1.3h-1.3zM179.8 219.2h1.3v1.3h-1.3zM180.2 218.4h1.3v1.3h-1.3zM180.2 218.1h1.3v1.3h-1.3zM180.6 218.9h1.3v1.3h-1.3zM180.2 220.6h1.3v1.3h-1.3zM181 199.9h1.3v1.3h-1.3zM180.7 218h1.3v1.3h-1.3zM181 197.5h1.3v1.3h-1.3zM181.6 197.9h1.3v1.3h-1.3zM181.6 219.1h1.3v1.3h-1.3zM181.6 197.5h1.3v1.3h-1.3zM182.1 220.4h1.3v1.3h-1.3zM182.1 220.4h1.3v1.3h-1.3zM181.8 221.2h1.3v1.3h-1.3zM182.6 221.9h1.3v1.3h-1.3zM182.8 218.6h1.3v1.3h-1.3zM182.8 198.1h1.3v1.3h-1.3zM183 198.9h1.3v1.3h-1.3zM183.1 219.6h1.3v1.3h-1.3zM183.1 200.5h1.3v1.3h-1.3zM183.9 199.6h1.3v1.3h-1.3zM183.5 198.3h1.3v1.3h-1.3zM183.8 197.3h1.3v1.3h-1.3zM184.3 197.4h1.3v1.3h-1.3zM184.3 218.1h1.3v1.3h-1.3zM184.5 220.5h1.3v1.3h-1.3zM185.1 200.7h1.3v1.3h-1.3zM184.8 219.6h1.3v1.3h-1.3zM184.9 222h1.3v1.3h-1.3zM185.4 218.5h1.3v1.3h-1.3zM185.4 218.8h1.3v1.3h-1.3zM185.1 199.9h1.3v1.3h-1.3zM186 219.9h1.3v1.3h-1.3zM185.9 199.7h1.3v1.3h-1.3zM186.2 198.7h1.3v1.3h-1.3zM186.5 220.9h1.3v1.3h-1.3zM186.6 198.6h1.3v1.3h-1.3zM186.6 200.3h1.3v1.3h-1.3zM187.2 222.3h1.3v1.3h-1.3zM187.1 218.4h1.3v1.3h-1.3zM186.8 197.1h1.3v1.3h-1.3zM187.3 220.6h1.3v1.3h-1.3zM187.8 199.6h1.3v1.3h-1.3zM187.4 220.1h1.3v1.3h-1.3zM188 219.7h1.3v1.3h-1.3zM188.2 221.4h1.3v1.3h-1.3zM188.3 197.3h1.3v1.3h-1.3zM188.5 200.7h1.3v1.3h-1.3zM188.4 218.8h1.3v1.3h-1.3zM188.9 199.3h1.3v1.3h-1.3zM189.4 197h1.3v1.3h-1.3zM189.2 218h1.3v1.3h-1.3zM189.1 218.2h1.3v1.3h-1.3zM189.6 200.2h1.3v1.3h-1.3zM189.7 199.6h1.3v1.3h-1.3zM189.5 198.5h1.3v1.3h-1.3zM177.6 194.7h1.3v1.3h-1.3zM184.1 224.3h1.3v1.3h-1.3zM189.4 186h1.3v1.3h-1.3zM177.1 233.6h1.3v1.3h-1.3zM170.4 222.6h1.3v1.3h-1.3zM172 223.4h1.3v1.3h-1.3zM168.4 185.5h1.3v1.3h-1.3zM182.9 192.3h1.3v1.3h-1.3zM184.3 235.9h1.3v1.3h-1.3z" fill="#64c4bc"/>
<path d="M193.1 200.8H209.8V219.2H193.1z" fill="#4ac2ec"/>
<path d="M192.5 200.5h1.3v1.3h-1.3zM192.8 200.6h1.3v1.3h-1.3zM192.7 218h1.3v1.3h-1.3zM193.1 218.1h1.3v1.3h-1.3zM193.4 221.7h1.3v1.3h-1.3zM193.2 199.3h1.3v1.3h-1.3zM193.8 199.2h1.3v1.3h-1.3zM194 218.8h1.3v1.3h-1.3zM193.9 199h1.3v1.3h-1.3zM194.5 200.5h1.3v1.3h-1.3zM194.5 200.7h1.3v1.3h-1.3zM194.2 222.1h1.3v1.3h-1.3zM195.1 200.7h1.3v1.3h-1.3zM195.2 200.3h1.3v1.3h-1.3zM195 200.7h1.3v1.3h-1.3zM195.8 200.5h1.3v1.3h-1.3zM195.3 200.2h1.3v1.3h-1.3zM195.4 220.9h1.3v1.3h-1.3zM196.1 220.8h1.3v1.3h-1.3zM195.9 219.7h1.3v1.3h-1.3zM196.1 218h1.3v1.3h-1.3zM196.6 200h1.3v1.3h-1.3zM196.8 218.7h1.3v1.3h-1.3zM196.7 197.9h1.3v1.3h-1.3zM197.3 197.6h1.3v1.3h-1.3zM197.3 219.3h1.3v1.3h-1.3zM196.9 200.7h1.3v1.3h-1.3zM197.6 218.2h1.3v1.3h-1.3zM197.5 218h1.3v1.3h-1.3zM197.6 200.3h1.3v1.3h-1.3zM198.3 219.8h1.3v1.3h-1.3zM198.4 197.6h1.3v1.3h-1.3zM198.1 219.3h1.3v1.3h-1.3zM199 196.9h1.3v1.3h-1.3zM198.6 220.1h1.3v1.3h-1.3zM198.7 197.3h1.3v1.3h-1.3zM199.4 218.5h1.3v1.3h-1.3zM199.1 199h1.3v1.3h-1.3zM199.4 199.1h1.3v1.3h-1.3zM199.8 219.6h1.3v1.3h-1.3zM200.1 197.8h1.3v1.3h-1.3zM199.8 199.3h1.3v1.3h-1.3zM200.2 220.8h1.3v1.3h-1.3zM200.7 198.7h1.3v1.3h-1.3zM200.6 199.6h1.3v1.3h-1.3zM201 200.4h1.3v1.3h-1.3zM200.9 199.2h1.3v1.3h-1.3zM201.1 222.2h1.3v1.3h-1.3zM201.5 220.2h1.3v1.3h-1.3zM201.4 198.8h1.3v1.3h-1.3zM201.8 198h1.3v1.3h-1.3zM202.3 218h1.3v1.3h-1.3zM202.4 218.2h1.3v1.3h-1.3zM202.1 218.2h1.3v1.3h-1.3zM202.4 221.2h1.3v1.3h-1.3zM202.6 199.8h1.3v1.3h-1.3zM202.7 200.2h1.3v1.3h-1.3zM203 220h1.3v1.3h-1.3zM203.3 218.7h1.3v1.3h-1.3zM203.2 200.6h1.3v1.3h-1.3zM204 198.3h1.3v1.3h-1.3zM203.7 198.2h1.3v1.3h-1.3zM203.6 221h1.3v1.3h-1.3zM204.5 221h1.3v1.3h-1.3zM204.6 198.4h1.3v1.3h-1.3zM204.1 199.5h1.3v1.3h-1.3zM205 218.1h1.3v1.3h-1.3zM204.9 218h1.3v1.3h-1.3zM205 200.6h1.3v1.3h-1.3zM205.6 218.2h1.3v1.3h-1.3zM205.5 221.5h1.3v1.3h-1.3zM205.4 220.8h1.3v1.3h-1.3zM205.8 220.8h1.3v1.3h-1.3zM205.8 196.8h1.3v1.3h-1.3zM205.8 199.9h1.3v1.3h-1.3zM206.7 221.5h1.3v1.3h-1.3zM206.7 218.1h1.3v1.3h-1.3zM206.6 218.7h1.3v1.3h-1.3zM207.2 199.4h1.3v1.3h-1.3zM206.9 218.3h1.3v1.3h-1.3zM206.8 200.4h1.3v1.3h-1.3zM207.6 198.1h1.3v1.3h-1.3zM207.5 200.5h1.3v1.3h-1.3zM207.6 219.9h1.3v1.3h-1.3zM208.3 198.7h1.3v1.3h-1.3zM207.9 200.5h1.3v1.3h-1.3zM208 220.5h1.3v1.3h-1.3zM208.5 200.7h1.3v1.3h-1.3zM208.8 218h1.3v1.3h-1.3zM208.5 221.9h1.3v1.3h-1.3zM205.1 191.7h1.3v1.3h-1.3zM193.3 227.7h1.3v1.3h-1.3zM193.9 192.5h1.3v1.3h-1.3zM195.7 193.3h1.3v1.3h-1.3zM203.5 193.6h1.3v1.3h-1.3zM195.1 194.2h1.3v1.3h-1.3zM196.4 189.6h1.3v1.3h-1.3z" fill="#4ac2ec"/>
<path d="M211.8 200.8H227.7V219.2H211.8z" fill="#3e8ed6"/>
<path d="M211.4 199.1h1.3v1.3h-1.3zM211.5 218.3h1.3v1.3h-1.3zM211.4 219.5h1.3v1.3h-1.3zM212.3 219.4h1.3v1.3h-1.3zM212.1 199.6h1.3v1.3h-1.3zM212.1 220.8h1.3v1.3h-1.3zM212.5 218h1.3v1.3h-1.3zM212.9 196.4h1.3v1.3h-1.3zM212.7 219.1h1.3v1.3h-1.3zM213.1 200.4h1.3v1.3h-1.3zM213.1 222h1.3v1.3h-1.3zM213.4 200.7h1.3v1.3h-1.3zM213.6 218h1.3v1.3h-1.3zM213.9 220h1.3v1.3h-1.3zM213.7 199.9h1.3v1.3h-1.3zM214.2 197.8h1.3v1.3h-1.3zM214.4 199.1h1.3v1.3h-1.3zM214.1 220.6h1.3v1.3h-1.3zM215.1 200.6h1.3v1.3h-1.3zM215.1 200.3h1.3v1.3h-1.3zM214.6 196.8h1.3v1.3h-1.3zM215.4 218.2h1.3v1.3h-1.3zM215.7 200.4h1.3v1.3h-1.3zM215.7 200.7h1.3v1.3h-1.3zM215.9 200.6h1.3v1.3h-1.3zM215.9 197.6h1.3v1.3h-1.3zM216 200.7h1.3v1.3h-1.3zM216.4 220.5h1.3v1.3h-1.3zM216.6 218h1.3v1.3h-1.3zM216.5 218h1.3v1.3h-1.3zM217.1 218.7h1.3v1.3h-1.3zM217 218.4h1.3v1.3h-1.3zM217.2 200h1.3v1.3h-1.3zM217.5 218.2h1.3v1.3h-1.3zM217.8 218.7h1.3v1.3h-1.3zM217.8 200.5h1.3v1.3h-1.3zM218.1 200.5h1.3v1.3h-1.3zM218.1 200.6h1.3v1.3h-1.3zM218.2 218.8h1.3v1.3h-1.3zM218.4 218.5h1.3v1.3h-1.3zM218.9 219.1h1.3v1.3h-1.3zM218.8 196.6h1.3v1.3h-1.3zM219.2 198.6h1.3v1.3h-1.3zM219.4 221.2h1.3v1.3h-1.3zM219.5 198.3h1.3v1.3h-1.3zM219.6 198.9h1.3v1.3h-1.3zM219.5 199.8h1.3v1.3h-1.3zM219.9 200.7h1.3v1.3h-1.3zM220.3 219.9h1.3v1.3h-1.3zM220.3 199.9h1.3v1.3h-1.3zM220.6 196.5h1.3v1.3h-1.3zM220.9 196.4h1.3v1.3h-1.3zM221.2 221.7h1.3v1.3h-1.3zM220.7 200.2h1.3v1.3h-1.3zM221.6 196.5h1.3v1.3h-1.3zM221.6 200.6h1.3v1.3h-1.3zM221.4 221.1h1.3v1.3h-1.3zM222.2 222h1.3v1.3h-1.3zM222.1 197.9h1.3v1.3h-1.3zM221.9 218h1.3v1.3h-1.3zM222.5 218.4h1.3v1.3h-1.3zM222.7 218h1.3v1.3h-1.3zM222.5 196.8h1.3v1.3h-1.3zM223.3 220.8h1.3v1.3h-1.3zM223 196.7h1.3v1.3h-1.3zM222.9 219.4h1.3v1.3h-1.3zM223.7 196.9h1.3v1.3h-1.3zM223.6 196.7h1.3v1.3h-1.3zM223.6 199.6h1.3v1.3h-1.3zM224.3 221h1.3v1.3h-1.3zM224.3 200.3h1.3v1.3h-1.3zM224.4 221.2h1.3v1.3h-1.3zM224.6 221.9h1.3v1.3h-1.3zM224.9 196.9h1.3v1.3h-1.3zM224.6 218.2h1.3v1.3h-1.3zM225.3 200.7h1.3v1.3h-1.3zM225.2 220.4h1.3v1.3h-1.3zM225.6 196.7h1.3v1.3h-1.3zM225.8 200.2h1.3v1.3h-1.3zM226.1 220.4h1.3v1.3h-1.3zM226 200h1.3v1.3h-1.3zM226.6 218.7h1.3v1.3h-1.3zM226.5 218.9h1.3v1.3h-1.3zM226.3 221h1.3v1.3h-1.3zM216.5 191.2h1.3v1.3h-1.3zM214.9 225.7h1.3v1.3h-1.3zM222.5 222.9h1.3v1.3h-1.3zM216.3 190.6h1.3v1.3h-1.3zM215.1 189.8h1.3v1.3h-1.3zM226.2 226.1h1.3v1.3h-1.3zM223.8 242.2h1.3v1.3h-1.3z" fill="#3e8ed6"/>
<path d="M229.1 200.8H244.2V219.2H229.1z" fill="#3a62c6"/>
<path d="M228.8 221.2h1.3v1.3h-1.3zM228.7 196.5h1.3v1.3h-1.3zM228.8 199.5h1.3v1.3h-1.3zM229.3 219.4h1.3v1.3h-1.3zM229.6 199.8h1.3v1.3h-1.3zM229.2 218.7h1.3v1.3h-1.3zM229.6 220.1h1.3v1.3h-1.3zM229.6 200.7h1.3v1.3h-1.3zM230 198.8h1.3v1.3h-1.3zM230.5 200h1.3v1.3h-1.3zM230.5 218.5h1.3v1.3h-1.3zM230.7 220.5h1.3v1.3h-1.3zM231.1 199h1.3v1.3h-1.3zM231 198.8h1.3v1.3h-1.3zM230.8 218.2h1.3v1.3h-1.3zM231.8 199.6h1.3v1.3h-1.3zM231.6 218.8h1.3v1.3h-1.3zM231.4 220.8h1.3v1.3h-1.3zM232.1 220.9h1.3v1.3h-1.3zM232 221.2h1.3v1.3h-1.3zM231.9 218.3h1.3v1.3h-1.3zM232.9 197h1.3v1.3h-1.3zM232.7 218.2h1.3v1.3h-1.3zM232.8 200.5h1.3v1.3h-1.3zM233.4 218.8h1.3v1.3h-1.3zM233.1 219.4h1.3v1.3h-1.3zM233.3 220.4h1.3v1.3h-1.3zM233.6 199.1h1.3v1.3h-1.3zM233.6 198.9h1.3v1.3h-1.3zM233.7 197.7h1.3v1.3h-1.3zM234.2 199.5h1.3v1.3h-1.3zM234.2 196.8h1.3v1.3h-1.3zM234.4 197.2h1.3v1.3h-1.3zM234.7 200.1h1.3v1.3h-1.3zM235 198.7h1.3v1.3h-1.3zM235 200.7h1.3v1.3h-1.3zM235.5 199.3h1.3v1.3h-1.3zM235.6 220.3h1.3v1.3h-1.3zM235.1 218.5h1.3v1.3h-1.3zM235.8 220.3h1.3v1.3h-1.3zM236.2 199.9h1.3v1.3h-1.3zM235.8 218h1.3v1.3h-1.3zM236.5 197.7h1.3v1.3h-1.3zM236.2 200h1.3v1.3h-1.3zM236.5 196.9h1.3v1.3h-1.3zM236.8 198.3h1.3v1.3h-1.3zM236.8 197.7h1.3v1.3h-1.3zM237.1 221.9h1.3v1.3h-1.3zM237.5 218.3h1.3v1.3h-1.3zM237.4 200.4h1.3v1.3h-1.3zM237.5 219.8h1.3v1.3h-1.3zM238.3 218.1h1.3v1.3h-1.3zM238.1 219.9h1.3v1.3h-1.3zM238.2 219.4h1.3v1.3h-1.3zM238.4 197.5h1.3v1.3h-1.3zM238.7 200.2h1.3v1.3h-1.3zM238.8 219.3h1.3v1.3h-1.3zM239.1 199.3h1.3v1.3h-1.3zM239.3 197h1.3v1.3h-1.3zM239.4 200.7h1.3v1.3h-1.3zM239.8 198.4h1.3v1.3h-1.3zM239.5 222h1.3v1.3h-1.3zM239.5 220.3h1.3v1.3h-1.3zM240.5 197.6h1.3v1.3h-1.3zM240 218.9h1.3v1.3h-1.3zM240.3 200.3h1.3v1.3h-1.3zM240.7 218h1.3v1.3h-1.3zM240.7 197h1.3v1.3h-1.3zM240.9 220.1h1.3v1.3h-1.3zM241.2 200.3h1.3v1.3h-1.3zM241.2 218.4h1.3v1.3h-1.3zM241.4 196.6h1.3v1.3h-1.3zM242.2 218.6h1.3v1.3h-1.3zM242.1 218.5h1.3v1.3h-1.3zM241.8 197.7h1.3v1.3h-1.3zM242.8 219.3h1.3v1.3h-1.3zM242.6 218.8h1.3v1.3h-1.3zM242.3 218h1.3v1.3h-1.3zM243.3 220h1.3v1.3h-1.3zM243.3 218.3h1.3v1.3h-1.3zM243.1 200h1.3v1.3h-1.3zM233.6 222.6h1.3v1.3h-1.3zM230.1 223.1h1.3v1.3h-1.3zM239.6 192.7h1.3v1.3h-1.3zM228.9 189h1.3v1.3h-1.3zM234.3 223.1h1.3v1.3h-1.3zM239 176.4h1.3v1.3h-1.3z" fill="#3a62c6"/>
<path d="M243.5 200.8H249.5V219.2H243.5zM250.5 200.8H257.2V219.2H250.5z" fill="#3456c0"/>
<path d="M243.1 221.3h1.3v1.3h-1.3zM243 218.2h1.3v1.3h-1.3zM243.4 198.2h1.3v1.3h-1.3zM243.6 218h1.3v1.3h-1.3zM243.6 196.6h1.3v1.3h-1.3zM243.5 221.2h1.3v1.3h-1.3zM244 197.5h1.3v1.3h-1.3zM244.1 218.7h1.3v1.3h-1.3zM244.5 200.4h1.3v1.3h-1.3zM244.6 199.8h1.3v1.3h-1.3zM244.8 221h1.3v1.3h-1.3zM244.7 218.9h1.3v1.3h-1.3zM245.4 200.3h1.3v1.3h-1.3zM245.3 219.4h1.3v1.3h-1.3zM245.2 199.6h1.3v1.3h-1.3zM245.6 218.6h1.3v1.3h-1.3zM245.7 200.7h1.3v1.3h-1.3zM245.7 220.2h1.3v1.3h-1.3zM246.6 219.1h1.3v1.3h-1.3zM246.4 219h1.3v1.3h-1.3zM246.5 219.1h1.3v1.3h-1.3zM246.7 218.2h1.3v1.3h-1.3zM246.8 222.3h1.3v1.3h-1.3zM247.2 199.6h1.3v1.3h-1.3zM247.4 197.8h1.3v1.3h-1.3zM247.3 198.5h1.3v1.3h-1.3zM247.8 197.6h1.3v1.3h-1.3zM248.2 200h1.3v1.3h-1.3zM248 218.2h1.3v1.3h-1.3zM248.1 198.2h1.3v1.3h-1.3zM247.9 185.5h1.3v1.3h-1.3zM246.1 230.3h1.3v1.3h-1.3zM250.4 198h1.3v1.3h-1.3zM250.1 199.9h1.3v1.3h-1.3zM250.1 219.7h1.3v1.3h-1.3zM250.8 199.7h1.3v1.3h-1.3zM250.4 199.5h1.3v1.3h-1.3zM250.8 199h1.3v1.3h-1.3zM251 218.1h1.3v1.3h-1.3zM251.3 218.1h1.3v1.3h-1.3zM251.5 199.4h1.3v1.3h-1.3zM252.1 219.9h1.3v1.3h-1.3zM251.9 218.7h1.3v1.3h-1.3zM251.6 199h1.3v1.3h-1.3zM252.3 199.5h1.3v1.3h-1.3zM252.1 220.3h1.3v1.3h-1.3zM252.6 199h1.3v1.3h-1.3zM252.8 218.6h1.3v1.3h-1.3zM253.1 219.2h1.3v1.3h-1.3zM252.6 199.6h1.3v1.3h-1.3zM253.7 199.1h1.3v1.3h-1.3zM253.6 219.5h1.3v1.3h-1.3zM253.5 219.9h1.3v1.3h-1.3zM254.3 200.1h1.3v1.3h-1.3zM254.2 199.8h1.3v1.3h-1.3zM253.8 220.4h1.3v1.3h-1.3zM254.5 199.8h1.3v1.3h-1.3zM254.7 200.4h1.3v1.3h-1.3zM254.4 199.3h1.3v1.3h-1.3zM254.8 199.2h1.3v1.3h-1.3zM255.1 218h1.3v1.3h-1.3zM255.3 219.4h1.3v1.3h-1.3zM255.9 200.7h1.3v1.3h-1.3zM255.8 218h1.3v1.3h-1.3zM255.7 197.4h1.3v1.3h-1.3zM255.2 227.2h1.3v1.3h-1.3zM255.4 222.5h1.3v1.3h-1.3z" fill="#3456c0"/>
<path d="M257.8 214.6H259.8V229.4H257.8zM259 217.7H261.4V234.3H259zM260.6 213.6H262.2V228.4H260.6zM261.5 200.8H271.2V219.2H261.5z" fill="#3c50b8"/>
<path d="M257.8 229.1h1.3v1.3h-1.3zM257.5 228.5h1.3v1.3h-1.3zM257.8 214h1.3v1.3h-1.3zM258.2 228.1h1.3v1.3h-1.3zM258.2 229.4h1.3v1.3h-1.3zM257.8 229h1.3v1.3h-1.3zM258.9 212.7h1.3v1.3h-1.3zM258.5 213h1.3v1.3h-1.3zM258.9 228.3h1.3v1.3h-1.3zM258.6 234.5h1.3v1.3h-1.3zM258.8 217.5h1.3v1.3h-1.3zM258.9 217.5h1.3v1.3h-1.3zM259.6 213.9h1.3v1.3h-1.3zM259.3 214h1.3v1.3h-1.3zM259.4 216.7h1.3v1.3h-1.3zM259.7 233.2h1.3v1.3h-1.3zM259.6 235.1h1.3v1.3h-1.3zM260.1 235.2h1.3v1.3h-1.3zM260.4 227.4h1.3v1.3h-1.3zM260.5 229.4h1.3v1.3h-1.3zM260.1 213.5h1.3v1.3h-1.3zM261.2 213h1.3v1.3h-1.3zM261 212.9h1.3v1.3h-1.3zM261.1 228h1.3v1.3h-1.3zM261 196.9h1.3v1.3h-1.3zM261 219.4h1.3v1.3h-1.3zM261 200.5h1.3v1.3h-1.3zM261.6 197.3h1.3v1.3h-1.3zM261.8 218.9h1.3v1.3h-1.3zM261.7 218.1h1.3v1.3h-1.3zM262.1 198.1h1.3v1.3h-1.3zM262.1 219.4h1.3v1.3h-1.3zM262.6 200.7h1.3v1.3h-1.3zM263.1 218.6h1.3v1.3h-1.3zM263.1 200.7h1.3v1.3h-1.3zM262.8 218.4h1.3v1.3h-1.3zM263.3 196.6h1.3v1.3h-1.3zM263.5 221.1h1.3v1.3h-1.3zM263.4 218.3h1.3v1.3h-1.3zM264 219.7h1.3v1.3h-1.3zM263.8 221.8h1.3v1.3h-1.3zM264.3 197h1.3v1.3h-1.3zM264.7 199.6h1.3v1.3h-1.3zM264.7 198.7h1.3v1.3h-1.3zM264.3 196.4h1.3v1.3h-1.3zM265.1 221.7h1.3v1.3h-1.3zM265 218.8h1.3v1.3h-1.3zM265.1 200.7h1.3v1.3h-1.3zM265.6 197.4h1.3v1.3h-1.3zM265.9 220.1h1.3v1.3h-1.3zM265.4 199.5h1.3v1.3h-1.3zM266.1 219.1h1.3v1.3h-1.3zM266.5 200.5h1.3v1.3h-1.3zM266.1 218.7h1.3v1.3h-1.3zM266.5 200.4h1.3v1.3h-1.3zM266.5 196.9h1.3v1.3h-1.3zM266.6 218.3h1.3v1.3h-1.3zM267.2 198.7h1.3v1.3h-1.3zM267.2 200h1.3v1.3h-1.3zM267.6 218h1.3v1.3h-1.3zM267.9 218.9h1.3v1.3h-1.3zM268.1 220h1.3v1.3h-1.3zM267.9 220.9h1.3v1.3h-1.3zM268.5 221.3h1.3v1.3h-1.3zM268.5 200.6h1.3v1.3h-1.3zM268.6 218.3h1.3v1.3h-1.3zM269 200.7h1.3v1.3h-1.3zM269 220.3h1.3v1.3h-1.3zM269 221.5h1.3v1.3h-1.3zM269.3 218.8h1.3v1.3h-1.3zM269.7 218.1h1.3v1.3h-1.3zM269.6 218h1.3v1.3h-1.3zM270.3 200.7h1.3v1.3h-1.3zM269.8 219.7h1.3v1.3h-1.3zM270.2 222h1.3v1.3h-1.3zM269.6 193.3h1.3v1.3h-1.3zM264.5 229.1h1.3v1.3h-1.3zM267.5 224.9h1.3v1.3h-1.3z" fill="#3c50b8"/>
<path d="M270.6 220.6H273.4V235.4H270.6zM272.1 200.8H284.1V219.2H272.1z" fill="#564cb8"/>
<path d="M270.3 234.1h1.3v1.3h-1.3zM270.5 236.7h1.3v1.3h-1.3zM270.4 236.1h1.3v1.3h-1.3zM270.7 235.4h1.3v1.3h-1.3zM271 220h1.3v1.3h-1.3zM270.9 235.9h1.3v1.3h-1.3zM271.2 219.4h1.3v1.3h-1.3zM271.6 219h1.3v1.3h-1.3zM271.2 220.2h1.3v1.3h-1.3zM271.9 217.3h1.3v1.3h-1.3zM272.1 234.8h1.3v1.3h-1.3zM272.1 218.8h1.3v1.3h-1.3zM272.1 198.1h1.3v1.3h-1.3zM272.1 219.4h1.3v1.3h-1.3zM271.6 200.4h1.3v1.3h-1.3zM272.4 221.1h1.3v1.3h-1.3zM272.2 199.3h1.3v1.3h-1.3zM272.6 198.9h1.3v1.3h-1.3zM273.2 198.2h1.3v1.3h-1.3zM273.1 219.7h1.3v1.3h-1.3zM273.1 200.2h1.3v1.3h-1.3zM273.3 200.5h1.3v1.3h-1.3zM273.6 197.4h1.3v1.3h-1.3zM273.5 197.8h1.3v1.3h-1.3zM273.9 218.8h1.3v1.3h-1.3zM274.3 219h1.3v1.3h-1.3zM274.3 200.1h1.3v1.3h-1.3zM274.3 220.2h1.3v1.3h-1.3zM274.5 198h1.3v1.3h-1.3zM274.6 197.6h1.3v1.3h-1.3zM275 196.5h1.3v1.3h-1.3zM275.3 196.9h1.3v1.3h-1.3zM275.1 199.6h1.3v1.3h-1.3zM275.8 221.4h1.3v1.3h-1.3zM275.8 198.2h1.3v1.3h-1.3zM275.7 199.4h1.3v1.3h-1.3zM276.2 198.4h1.3v1.3h-1.3zM276.2 198.8h1.3v1.3h-1.3zM276.1 200.2h1.3v1.3h-1.3zM277 218h1.3v1.3h-1.3zM277 200.4h1.3v1.3h-1.3zM276.6 198h1.3v1.3h-1.3zM277.2 220.1h1.3v1.3h-1.3zM277.4 218.1h1.3v1.3h-1.3zM277.4 200.6h1.3v1.3h-1.3zM278.1 196.4h1.3v1.3h-1.3zM277.7 220.9h1.3v1.3h-1.3zM277.9 219.8h1.3v1.3h-1.3zM278.6 197.6h1.3v1.3h-1.3zM278.4 200.6h1.3v1.3h-1.3zM278.6 219.3h1.3v1.3h-1.3zM279.1 199.8h1.3v1.3h-1.3zM278.9 199.2h1.3v1.3h-1.3zM278.9 218.6h1.3v1.3h-1.3zM279.8 221.4h1.3v1.3h-1.3zM279.8 200.5h1.3v1.3h-1.3zM279.7 219.5h1.3v1.3h-1.3zM280.1 200.7h1.3v1.3h-1.3zM280 218.1h1.3v1.3h-1.3zM280 218h1.3v1.3h-1.3zM280.9 198.5h1.3v1.3h-1.3zM280.7 218.2h1.3v1.3h-1.3zM280.7 200.1h1.3v1.3h-1.3zM281 219.2h1.3v1.3h-1.3zM281.2 219.3h1.3v1.3h-1.3zM281.4 199.2h1.3v1.3h-1.3zM281.5 219h1.3v1.3h-1.3zM281.9 218.8h1.3v1.3h-1.3zM281.8 218.4h1.3v1.3h-1.3zM282.3 200.6h1.3v1.3h-1.3zM282.2 200.3h1.3v1.3h-1.3zM282.3 196.6h1.3v1.3h-1.3zM283.1 220.3h1.3v1.3h-1.3zM282.7 197.9h1.3v1.3h-1.3zM283.1 218.5h1.3v1.3h-1.3zM281.2 190h1.3v1.3h-1.3zM278.6 230.3h1.3v1.3h-1.3zM278.1 186.4h1.3v1.3h-1.3zM279.3 196.1h1.3v1.3h-1.3z" fill="#564cb8"/>
<path d="M283.3 200.8H294.7V219.2H283.3z" fill="#7c4eb8"/>
<path d="M282.9 219h1.3v1.3h-1.3zM282.8 221.2h1.3v1.3h-1.3zM282.8 196.6h1.3v1.3h-1.3zM283.6 197h1.3v1.3h-1.3zM283.7 196.7h1.3v1.3h-1.3zM283.6 222.2h1.3v1.3h-1.3zM284 198.9h1.3v1.3h-1.3zM284 218.8h1.3v1.3h-1.3zM284.2 220.7h1.3v1.3h-1.3zM284.9 198.6h1.3v1.3h-1.3zM284.8 222.1h1.3v1.3h-1.3zM284.8 198.6h1.3v1.3h-1.3zM285.1 196.9h1.3v1.3h-1.3zM285 199.2h1.3v1.3h-1.3zM285.3 199.1h1.3v1.3h-1.3zM285.7 197.9h1.3v1.3h-1.3zM285.5 218.7h1.3v1.3h-1.3zM285.8 200.5h1.3v1.3h-1.3zM286.3 220h1.3v1.3h-1.3zM286.1 218h1.3v1.3h-1.3zM286.2 218.4h1.3v1.3h-1.3zM287 220.6h1.3v1.3h-1.3zM286.6 198.6h1.3v1.3h-1.3zM286.9 197.9h1.3v1.3h-1.3zM287.6 219h1.3v1.3h-1.3zM287.2 221.5h1.3v1.3h-1.3zM287.6 200.7h1.3v1.3h-1.3zM288 198.2h1.3v1.3h-1.3zM288.3 196.5h1.3v1.3h-1.3zM288.2 198.2h1.3v1.3h-1.3zM288.6 198.6h1.3v1.3h-1.3zM288.7 200.5h1.3v1.3h-1.3zM288.6 218.8h1.3v1.3h-1.3zM289 196.5h1.3v1.3h-1.3zM289.3 218.1h1.3v1.3h-1.3zM289 218h1.3v1.3h-1.3zM289.6 197.3h1.3v1.3h-1.3zM289.7 219.6h1.3v1.3h-1.3zM289.5 197.9h1.3v1.3h-1.3zM290.3 199.5h1.3v1.3h-1.3zM290 218.1h1.3v1.3h-1.3zM290.4 221.2h1.3v1.3h-1.3zM291 219.3h1.3v1.3h-1.3zM290.5 200.5h1.3v1.3h-1.3zM290.9 220.2h1.3v1.3h-1.3zM291.6 218.7h1.3v1.3h-1.3zM291.5 200.7h1.3v1.3h-1.3zM291.3 218.2h1.3v1.3h-1.3zM292 221.8h1.3v1.3h-1.3zM291.7 200.4h1.3v1.3h-1.3zM292 222.2h1.3v1.3h-1.3zM292.2 218.7h1.3v1.3h-1.3zM292.1 196.4h1.3v1.3h-1.3zM292.5 218.5h1.3v1.3h-1.3zM292.7 220.2h1.3v1.3h-1.3zM293 218.2h1.3v1.3h-1.3zM293.2 220.9h1.3v1.3h-1.3zM293.5 219.3h1.3v1.3h-1.3zM293.5 218h1.3v1.3h-1.3zM293.5 222.1h1.3v1.3h-1.3zM286.1 224.5h1.3v1.3h-1.3zM285.2 196.2h1.3v1.3h-1.3zM286.3 195.3h1.3v1.3h-1.3zM291.4 192.3h1.3v1.3h-1.3z" fill="#7c4eb8"/>
<path d="M293.9 200.8H305V219.2H293.9z" fill="#9c4eb4"/>
<path d="M293.8 200.3h1.3v1.3h-1.3zM293.7 200h1.3v1.3h-1.3zM293.7 218.4h1.3v1.3h-1.3zM294.4 200h1.3v1.3h-1.3zM294.3 199.1h1.3v1.3h-1.3zM294.3 200.4h1.3v1.3h-1.3zM294.6 218h1.3v1.3h-1.3zM294.9 219.5h1.3v1.3h-1.3zM294.7 200.1h1.3v1.3h-1.3zM295 197.4h1.3v1.3h-1.3zM295 198.7h1.3v1.3h-1.3zM295.3 219.5h1.3v1.3h-1.3zM295.8 218h1.3v1.3h-1.3zM295.9 200.5h1.3v1.3h-1.3zM296 197.1h1.3v1.3h-1.3zM296.3 221.4h1.3v1.3h-1.3zM296.3 222h1.3v1.3h-1.3zM296.4 197.1h1.3v1.3h-1.3zM297.2 200.5h1.3v1.3h-1.3zM297 221.6h1.3v1.3h-1.3zM297.1 218.5h1.3v1.3h-1.3zM297.7 200.7h1.3v1.3h-1.3zM297.5 198.5h1.3v1.3h-1.3zM297.3 198.5h1.3v1.3h-1.3zM297.8 196.8h1.3v1.3h-1.3zM298.3 199.5h1.3v1.3h-1.3zM298.3 199.5h1.3v1.3h-1.3zM298.5 219.8h1.3v1.3h-1.3zM298.8 221.8h1.3v1.3h-1.3zM298.4 220.4h1.3v1.3h-1.3zM298.9 220.5h1.3v1.3h-1.3zM299.2 220.7h1.3v1.3h-1.3zM299.2 221.4h1.3v1.3h-1.3zM300 220.6h1.3v1.3h-1.3zM299.7 222.2h1.3v1.3h-1.3zM299.9 218h1.3v1.3h-1.3zM300.2 218.5h1.3v1.3h-1.3zM300 198.1h1.3v1.3h-1.3zM300.4 200.7h1.3v1.3h-1.3zM300.7 219.8h1.3v1.3h-1.3zM300.8 200.5h1.3v1.3h-1.3zM301.1 199.1h1.3v1.3h-1.3zM301.6 221h1.3v1.3h-1.3zM301.3 218h1.3v1.3h-1.3zM301.5 218.1h1.3v1.3h-1.3zM302.2 220.3h1.3v1.3h-1.3zM301.9 220.4h1.3v1.3h-1.3zM302.2 218.7h1.3v1.3h-1.3zM302.7 199.6h1.3v1.3h-1.3zM302.7 220.6h1.3v1.3h-1.3zM302.4 199h1.3v1.3h-1.3zM303 221.2h1.3v1.3h-1.3zM303.2 220.1h1.3v1.3h-1.3zM303.1 220.1h1.3v1.3h-1.3zM303.6 200.6h1.3v1.3h-1.3zM303.4 198.4h1.3v1.3h-1.3zM303.7 200.6h1.3v1.3h-1.3zM296.5 223.2h1.3v1.3h-1.3zM299.2 222.9h1.3v1.3h-1.3zM298.7 196.2h1.3v1.3h-1.3zM301.3 224h1.3v1.3h-1.3z" fill="#9c4eb4"/>
<path d="M305.2 200.8H311.8V219.2H305.2z" fill="#b84cae"/>
<path d="M304.7 198.4h1.3v1.3h-1.3zM305.1 218.6h1.3v1.3h-1.3zM304.8 219.4h1.3v1.3h-1.3zM305.3 200.7h1.3v1.3h-1.3zM305.4 198.7h1.3v1.3h-1.3zM305.7 218.6h1.3v1.3h-1.3zM306 199.2h1.3v1.3h-1.3zM305.9 218.8h1.3v1.3h-1.3zM305.9 218.1h1.3v1.3h-1.3zM306.5 220.7h1.3v1.3h-1.3zM306.4 218.8h1.3v1.3h-1.3zM306.5 218.6h1.3v1.3h-1.3zM307.4 200.1h1.3v1.3h-1.3zM307.1 218.8h1.3v1.3h-1.3zM307.4 200.5h1.3v1.3h-1.3zM307.9 197.1h1.3v1.3h-1.3zM307.8 219.3h1.3v1.3h-1.3zM307.9 200.3h1.3v1.3h-1.3zM308.1 199.8h1.3v1.3h-1.3zM308.5 196.5h1.3v1.3h-1.3zM308.1 218.5h1.3v1.3h-1.3zM308.5 200h1.3v1.3h-1.3zM308.7 218.8h1.3v1.3h-1.3zM308.9 219.1h1.3v1.3h-1.3zM309.5 218.3h1.3v1.3h-1.3zM309.1 199.7h1.3v1.3h-1.3zM309.3 220.2h1.3v1.3h-1.3zM309.8 196.9h1.3v1.3h-1.3zM309.6 197.9h1.3v1.3h-1.3zM309.9 221.2h1.3v1.3h-1.3zM310.5 221.7h1.3v1.3h-1.3zM310.3 200.7h1.3v1.3h-1.3zM310.2 199.4h1.3v1.3h-1.3zM306.7 193.1h1.3v1.3h-1.3zM309.7 223.7h1.3v1.3h-1.3z" fill="#b84cae"/>
<path d="M313.6 200.8H320.9V219.2H313.6z" fill="#e8348e"/>
<path d="M313.2 219.2h1.3v1.3h-1.3zM313.6 221.9h1.3v1.3h-1.3zM313.6 199.8h1.3v1.3h-1.3zM314.2 218.2h1.3v1.3h-1.3zM314 218h1.3v1.3h-1.3zM314 219.4h1.3v1.3h-1.3zM314.4 199.7h1.3v1.3h-1.3zM314.7 200.6h1.3v1.3h-1.3zM314.6 220.1h1.3v1.3h-1.3zM314.8 220.5h1.3v1.3h-1.3zM314.8 198.4h1.3v1.3h-1.3zM315.1 219.5h1.3v1.3h-1.3zM315.3 200.2h1.3v1.3h-1.3zM315.7 200.4h1.3v1.3h-1.3zM315.6 219.4h1.3v1.3h-1.3zM316.2 199.1h1.3v1.3h-1.3zM315.8 197.5h1.3v1.3h-1.3zM315.8 220.2h1.3v1.3h-1.3zM316.4 199.5h1.3v1.3h-1.3zM316.7 200.6h1.3v1.3h-1.3zM316.5 218.7h1.3v1.3h-1.3zM317 222.1h1.3v1.3h-1.3zM317.5 199.2h1.3v1.3h-1.3zM317.4 197.5h1.3v1.3h-1.3zM318 218h1.3v1.3h-1.3zM317.5 219.2h1.3v1.3h-1.3zM318 219.6h1.3v1.3h-1.3zM318.3 200.7h1.3v1.3h-1.3zM318.2 196.4h1.3v1.3h-1.3zM318.3 218.1h1.3v1.3h-1.3zM318.6 219h1.3v1.3h-1.3zM318.7 218.6h1.3v1.3h-1.3zM318.7 198.2h1.3v1.3h-1.3zM319.6 218.3h1.3v1.3h-1.3zM319.5 200.5h1.3v1.3h-1.3zM319.6 219.5h1.3v1.3h-1.3zM314.5 222.8h1.3v1.3h-1.3zM316.9 196.1h1.3v1.3h-1.3z" fill="#e8348e"/>
<path d="M320.1 200.8H346.2V219.2H320.1z" fill="#ef2040"/>
<path d="M319.9 218h1.3v1.3h-1.3zM319.9 218.8h1.3v1.3h-1.3zM319.9 200.2h1.3v1.3h-1.3zM320.5 221.8h1.3v1.3h-1.3zM320.3 200.2h1.3v1.3h-1.3zM320.4 220.8h1.3v1.3h-1.3zM320.7 199.5h1.3v1.3h-1.3zM320.7 219h1.3v1.3h-1.3zM321 218h1.3v1.3h-1.3zM321.7 222h1.3v1.3h-1.3zM321.8 196.4h1.3v1.3h-1.3zM321.8 218.2h1.3v1.3h-1.3zM322.2 197.1h1.3v1.3h-1.3zM321.9 221h1.3v1.3h-1.3zM321.9 200.1h1.3v1.3h-1.3zM322.4 196.9h1.3v1.3h-1.3zM322.3 221.5h1.3v1.3h-1.3zM322.5 196.9h1.3v1.3h-1.3zM323.1 220.7h1.3v1.3h-1.3zM322.9 222.2h1.3v1.3h-1.3zM322.9 199.5h1.3v1.3h-1.3zM323.8 199.5h1.3v1.3h-1.3zM323.5 218.8h1.3v1.3h-1.3zM323.6 218h1.3v1.3h-1.3zM324.4 198.7h1.3v1.3h-1.3zM324.4 219.3h1.3v1.3h-1.3zM324 221h1.3v1.3h-1.3zM324.5 198.5h1.3v1.3h-1.3zM324.9 199.7h1.3v1.3h-1.3zM324.5 220.4h1.3v1.3h-1.3zM325.5 200.2h1.3v1.3h-1.3zM325.1 199h1.3v1.3h-1.3zM325.1 221.5h1.3v1.3h-1.3zM325.8 197.2h1.3v1.3h-1.3zM325.7 219.2h1.3v1.3h-1.3zM325.7 196.5h1.3v1.3h-1.3zM326.3 218h1.3v1.3h-1.3zM326.7 220.1h1.3v1.3h-1.3zM326.4 220.3h1.3v1.3h-1.3zM327.2 197.9h1.3v1.3h-1.3zM327 218.1h1.3v1.3h-1.3zM327 199h1.3v1.3h-1.3zM327.3 199.5h1.3v1.3h-1.3zM327.5 197.4h1.3v1.3h-1.3zM327.5 219.7h1.3v1.3h-1.3zM328.4 218.1h1.3v1.3h-1.3zM328.3 198.9h1.3v1.3h-1.3zM327.9 200.6h1.3v1.3h-1.3zM328.5 197.5h1.3v1.3h-1.3zM328.8 218.9h1.3v1.3h-1.3zM328.5 199.3h1.3v1.3h-1.3zM329.2 200.3h1.3v1.3h-1.3zM329 199.7h1.3v1.3h-1.3zM328.9 200.4h1.3v1.3h-1.3zM329.8 220.9h1.3v1.3h-1.3zM330 218.2h1.3v1.3h-1.3zM330 200.3h1.3v1.3h-1.3zM330.1 220.7h1.3v1.3h-1.3zM330.2 196.8h1.3v1.3h-1.3zM330.5 198.4h1.3v1.3h-1.3zM330.9 198.3h1.3v1.3h-1.3zM330.8 220.7h1.3v1.3h-1.3zM331.1 197.1h1.3v1.3h-1.3zM331.3 198.4h1.3v1.3h-1.3zM331.5 218h1.3v1.3h-1.3zM331.3 220.2h1.3v1.3h-1.3zM331.9 221.6h1.3v1.3h-1.3zM331.7 218.8h1.3v1.3h-1.3zM332.2 197.6h1.3v1.3h-1.3zM332.3 219.8h1.3v1.3h-1.3zM332.5 200.4h1.3v1.3h-1.3zM332.3 218.1h1.3v1.3h-1.3zM333.3 196.8h1.3v1.3h-1.3zM332.8 220.6h1.3v1.3h-1.3zM333.3 200.7h1.3v1.3h-1.3zM333.9 219h1.3v1.3h-1.3zM333.7 221.2h1.3v1.3h-1.3zM333.6 200.3h1.3v1.3h-1.3zM334 219.6h1.3v1.3h-1.3zM334.4 199.5h1.3v1.3h-1.3zM334 220h1.3v1.3h-1.3zM334.8 221.6h1.3v1.3h-1.3zM334.9 222.3h1.3v1.3h-1.3zM334.9 197.6h1.3v1.3h-1.3zM335.5 197.8h1.3v1.3h-1.3zM335.2 218.5h1.3v1.3h-1.3zM335.4 200.6h1.3v1.3h-1.3zM335.7 218h1.3v1.3h-1.3zM335.6 218.8h1.3v1.3h-1.3zM335.9 197.8h1.3v1.3h-1.3zM336.3 198h1.3v1.3h-1.3zM336.6 200.6h1.3v1.3h-1.3zM336.4 200.6h1.3v1.3h-1.3zM336.9 197.2h1.3v1.3h-1.3zM336.6 219.5h1.3v1.3h-1.3zM336.9 218h1.3v1.3h-1.3zM337.7 197.3h1.3v1.3h-1.3zM337.5 196.6h1.3v1.3h-1.3zM337.7 197.7h1.3v1.3h-1.3zM338.2 198.2h1.3v1.3h-1.3zM338 218.2h1.3v1.3h-1.3zM338.2 200.6h1.3v1.3h-1.3zM338.4 221.8h1.3v1.3h-1.3zM338.8 218.8h1.3v1.3h-1.3zM338.5 198.5h1.3v1.3h-1.3zM338.8 199.9h1.3v1.3h-1.3zM339.2 219h1.3v1.3h-1.3zM339.2 199h1.3v1.3h-1.3zM339.4 200.5h1.3v1.3h-1.3zM339.9 218.3h1.3v1.3h-1.3zM339.6 218.7h1.3v1.3h-1.3zM340.1 200.4h1.3v1.3h-1.3zM340.2 197.3h1.3v1.3h-1.3zM340.4 221.8h1.3v1.3h-1.3zM340.9 200.5h1.3v1.3h-1.3zM340.9 197.5h1.3v1.3h-1.3zM340.7 196.5h1.3v1.3h-1.3zM341.4 199.2h1.3v1.3h-1.3zM341.3 198.9h1.3v1.3h-1.3zM341.5 218.1h1.3v1.3h-1.3zM342 221.5h1.3v1.3h-1.3zM341.8 199.9h1.3v1.3h-1.3zM341.8 218.4h1.3v1.3h-1.3zM342.6 197.9h1.3v1.3h-1.3zM342.4 218h1.3v1.3h-1.3zM342.4 218h1.3v1.3h-1.3zM342.9 198.3h1.3v1.3h-1.3zM342.8 199.1h1.3v1.3h-1.3zM343.1 198.3h1.3v1.3h-1.3zM343.6 222.3h1.3v1.3h-1.3zM343.2 200.7h1.3v1.3h-1.3zM343.8 220.5h1.3v1.3h-1.3zM344.3 200.1h1.3v1.3h-1.3zM344.3 221.4h1.3v1.3h-1.3zM344.1 200.2h1.3v1.3h-1.3zM344.8 218.2h1.3v1.3h-1.3zM344.6 220.3h1.3v1.3h-1.3zM344.3 218.8h1.3v1.3h-1.3zM324.3 224.3h1.3v1.3h-1.3zM338.6 194.4h1.3v1.3h-1.3zM340.7 194.3h1.3v1.3h-1.3zM336.5 226.5h1.3v1.3h-1.3zM343.6 195.9h1.3v1.3h-1.3zM330.9 226.4h1.3v1.3h-1.3zM341.1 196.1h1.3v1.3h-1.3zM338.3 222.5h1.3v1.3h-1.3zM329.2 225.3h1.3v1.3h-1.3zM331.2 194.1h1.3v1.3h-1.3zM328.7 234.9h1.3v1.3h-1.3zM327.9 241.2h1.3v1.3h-1.3z" fill="#ef2040"/>
<path d="M345.4 205.9H350.4V227.1H345.4z" fill="#f2302c"/>
<path d="M345.4 226.1h1.3v1.3h-1.3zM345 226.6h1.3v1.3h-1.3zM345.3 226.2h1.3v1.3h-1.3zM345.4 226.3h1.3v1.3h-1.3zM345.8 226.5h1.3v1.3h-1.3zM345.9 226.6h1.3v1.3h-1.3zM346 205.7h1.3v1.3h-1.3zM346.3 203.2h1.3v1.3h-1.3zM346.5 201.5h1.3v1.3h-1.3zM346.5 226.7h1.3v1.3h-1.3zM346.7 204.5h1.3v1.3h-1.3zM346.8 205.5h1.3v1.3h-1.3zM347.3 205.8h1.3v1.3h-1.3zM347.4 205.8h1.3v1.3h-1.3zM347.4 227.3h1.3v1.3h-1.3zM347.8 228.2h1.3v1.3h-1.3zM347.7 205.7h1.3v1.3h-1.3zM348.2 229.2h1.3v1.3h-1.3zM348.4 205.4h1.3v1.3h-1.3zM348.3 226.5h1.3v1.3h-1.3zM348.6 226.3h1.3v1.3h-1.3zM349 228.1h1.3v1.3h-1.3zM348.8 225.9h1.3v1.3h-1.3zM348.9 205.5h1.3v1.3h-1.3zM345.4 231.8h1.3v1.3h-1.3z" fill="#f2302c"/>
<path d="M24 210.2H355" stroke="#777" stroke-opacity="0.22" stroke-width="1" fill="none"/>
<text x="22.6" y="187.2" text-anchor="end" font-size="5" font-weight="bold" fill="#2e2e40">0.50</text>
<text x="22.6" y="199.9" text-anchor="end" font-size="5" font-weight="bold" fill="#2e2e40">0.25</text>
<text x="22.6" y="212.6" text-anchor="end" font-size="5" font-weight="bold" fill="#2e2e40">0.00</text>
<text x="22.6" y="225.3" text-anchor="end" font-size="5" font-weight="bold" fill="#2e2e40">-0.25</text>
<text x="22.6" y="238" text-anchor="end" font-size="5" font-weight="bold" fill="#2e2e40">-0.50</text>
<text x="22.6" y="250.7" text-anchor="end" font-size="5" font-weight="bold" fill="#2e2e40">-0.75</text>
<text x="22.6" y="263.4" text-anchor="end" font-size="5" font-weight="bold" fill="#2e2e40">-1.00</text>
<path d="M51.5 271.5V351.4M77.5 271.5V351.4M101.5 271.5V351.4M124.5 271.5V351.4M146.5 271.5V351.4M169 271.5V351.4M190.8 271.5V351.4M209.6 271.5V351.4M227.5 271.5V351.4M243.8 271.5V351.4M258 271.5V351.4M271.5 271.5V351.4M283.7 271.5V351.4M294.3 271.5V351.4M304.6 271.5V351.4M311.8 271.5V351.4M320.5 271.5V351.4M345.8 271.5V351.4" stroke="#d9d9d9" stroke-width="1" fill="none"/>
<path d="M23.7 271.5V351.4" stroke="#e4e4e4" stroke-width="1" fill="none"/>
<path d="M24.2 285.2H51.5V304.8H24.2z" fill="#bad92a" fill-opacity="0.22"/>
<path d="M51.5 285.2H77.5V304.8H51.5z" fill="#8fca3a" fill-opacity="0.22"/>
<path d="M77.5 285.2H101.5V304.8H77.5z" fill="#74c240" fill-opacity="0.22"/>
<path d="M101.5 285.2H108.8V304.8H101.5zM112 285.2H124.5V304.8H112z" fill="#66be44" fill-opacity="0.22"/>
<path d="M124.5 285.2H146.5V304.8H124.5z" fill="#64c040" fill-opacity="0.22"/>
<path d="M146.5 285.2H169V304.8H146.5z" fill="#5fbc82" fill-opacity="0.22"/>
<path d="M169 285.2H190.6V304.8H169z" fill="#64c4bc" fill-opacity="0.22"/>
<path d="M193.4 285.2H209.4V304.8H193.4z" fill="#4ac2ec" fill-opacity="0.22"/>
<path d="M212.2 285.2H227.3V304.8H212.2z" fill="#3e8ed6" fill-opacity="0.22"/>
<path d="M229.4 285.2H243.8V304.8H229.4z" fill="#3a62c6" fill-opacity="0.22"/>
<path d="M243.8 285.2H249.2V304.8H243.8zM250.8 285.2H258V304.8H250.8z" fill="#3456c0" fill-opacity="0.22"/>
<path d="M258 285.2H271.5V304.8H258z" fill="#3c50b8" fill-opacity="0.22"/>
<path d="M271.5 285.2H283.7V304.8H271.5z" fill="#564cb8" fill-opacity="0.22"/>
<path d="M283.7 285.2H294.3V304.8H283.7z" fill="#7c4eb8" fill-opacity="0.22"/>
<path d="M294.3 285.2H304.6V304.8H294.3z" fill="#9c4eb4" fill-opacity="0.22"/>
<path d="M305.6 285.2H311.4V304.8H305.6z" fill="#b84cae" fill-opacity="0.22"/>
<path d="M314 285.2H320.5V304.8H314z" fill="#e8348e" fill-opacity="0.22"/>
<path d="M320.5 285.2H345.8V304.8H320.5z" fill="#ef2040" fill-opacity="0.22"/>
<path d="M345.8 285.2H350V304.8H345.8z" fill="#f2302c" fill-opacity="0.22"/>
<path d="M23.8 287.7H51.9V302.3H23.8z" fill="#bad92a"/>
<path d="M23.3 285.3h1.3v1.3h-1.3zM23.8 284.9h1.3v1.3h-1.3zM23.8 285.6h1.3v1.3h-1.3zM24.1 287.5h1.3v1.3h-1.3zM24 304.1h1.3v1.3h-1.3zM24 301.5h1.3v1.3h-1.3zM24.4 285.4h1.3v1.3h-1.3zM24.6 301.7h1.3v1.3h-1.3zM24.6 304.2h1.3v1.3h-1.3zM25 302.6h1.3v1.3h-1.3zM25.4 301.4h1.3v1.3h-1.3zM25.4 301.9h1.3v1.3h-1.3zM25.8 287.2h1.3v1.3h-1.3zM25.6 304.3h1.3v1.3h-1.3zM25.8 301.1h1.3v1.3h-1.3zM26.5 285.9h1.3v1.3h-1.3zM26 287.5h1.3v1.3h-1.3zM26.5 301.3h1.3v1.3h-1.3zM26.6 287.5h1.3v1.3h-1.3zM26.9 287.4h1.3v1.3h-1.3zM26.7 287.3h1.3v1.3h-1.3zM27.3 301.1h1.3v1.3h-1.3zM27.5 287.6h1.3v1.3h-1.3zM27.5 285.7h1.3v1.3h-1.3zM28 301.1h1.3v1.3h-1.3zM28.1 302.9h1.3v1.3h-1.3zM27.8 286.5h1.3v1.3h-1.3zM28.7 287.4h1.3v1.3h-1.3zM28.8 284.5h1.3v1.3h-1.3zM28.6 286h1.3v1.3h-1.3zM29.1 303h1.3v1.3h-1.3zM29 301.4h1.3v1.3h-1.3zM29.2 301.7h1.3v1.3h-1.3zM29.9 301.5h1.3v1.3h-1.3zM29.6 301.5h1.3v1.3h-1.3zM29.4 303.3h1.3v1.3h-1.3zM30.1 303.7h1.3v1.3h-1.3zM30 287h1.3v1.3h-1.3zM30.2 287.3h1.3v1.3h-1.3zM30.7 302.8h1.3v1.3h-1.3zM30.7 285.9h1.3v1.3h-1.3zM30.9 302.3h1.3v1.3h-1.3zM31.5 287.3h1.3v1.3h-1.3zM31.3 287.5h1.3v1.3h-1.3zM31.4 285.5h1.3v1.3h-1.3zM31.7 285.2h1.3v1.3h-1.3zM31.9 304h1.3v1.3h-1.3zM31.9 301.4h1.3v1.3h-1.3zM32.5 302.2h1.3v1.3h-1.3zM32.1 301.4h1.3v1.3h-1.3zM32.6 285.5h1.3v1.3h-1.3zM33.1 302.8h1.3v1.3h-1.3zM32.8 287.3h1.3v1.3h-1.3zM32.9 285.1h1.3v1.3h-1.3zM33.7 286.1h1.3v1.3h-1.3zM33.3 301.3h1.3v1.3h-1.3zM33.6 301.9h1.3v1.3h-1.3zM34.1 301.1h1.3v1.3h-1.3zM33.7 301.5h1.3v1.3h-1.3zM34.2 304h1.3v1.3h-1.3zM34.8 284.7h1.3v1.3h-1.3zM34.4 285.4h1.3v1.3h-1.3zM34.5 301.1h1.3v1.3h-1.3zM35.2 287.5h1.3v1.3h-1.3zM35.4 303.5h1.3v1.3h-1.3zM35.2 285.1h1.3v1.3h-1.3zM35.6 285.2h1.3v1.3h-1.3zM35.7 287.5h1.3v1.3h-1.3zM35.8 301.5h1.3v1.3h-1.3zM36.4 304.3h1.3v1.3h-1.3zM36.2 301.6h1.3v1.3h-1.3zM36.1 286.8h1.3v1.3h-1.3zM36.6 303.3h1.3v1.3h-1.3zM36.6 287.1h1.3v1.3h-1.3zM36.7 285.8h1.3v1.3h-1.3zM37.3 285.1h1.3v1.3h-1.3zM37.1 304.3h1.3v1.3h-1.3zM37.1 286.7h1.3v1.3h-1.3zM38.1 286.8h1.3v1.3h-1.3zM37.8 301.6h1.3v1.3h-1.3zM38.1 303.7h1.3v1.3h-1.3zM38.3 284.6h1.3v1.3h-1.3zM38.2 287h1.3v1.3h-1.3zM38.5 302.2h1.3v1.3h-1.3zM39.1 303.9h1.3v1.3h-1.3zM39.2 301.8h1.3v1.3h-1.3zM39 286.2h1.3v1.3h-1.3zM39.5 301.8h1.3v1.3h-1.3zM39.6 304.3h1.3v1.3h-1.3zM39.6 302.9h1.3v1.3h-1.3zM40.3 286.6h1.3v1.3h-1.3zM40.1 287.6h1.3v1.3h-1.3zM40.2 287.6h1.3v1.3h-1.3zM40.8 301.4h1.3v1.3h-1.3zM40.4 301.2h1.3v1.3h-1.3zM40.5 285.7h1.3v1.3h-1.3zM41.2 287.5h1.3v1.3h-1.3zM41 287h1.3v1.3h-1.3zM41 287.2h1.3v1.3h-1.3zM41.9 302.2h1.3v1.3h-1.3zM41.7 303.4h1.3v1.3h-1.3zM41.6 303.4h1.3v1.3h-1.3zM42 302.1h1.3v1.3h-1.3zM42.2 284.6h1.3v1.3h-1.3zM42.4 302.5h1.3v1.3h-1.3zM43.1 304.2h1.3v1.3h-1.3zM42.8 302.9h1.3v1.3h-1.3zM42.6 302.3h1.3v1.3h-1.3zM43.2 303.9h1.3v1.3h-1.3zM43.1 302h1.3v1.3h-1.3zM43.5 301.4h1.3v1.3h-1.3zM43.8 303.5h1.3v1.3h-1.3zM43.6 285.4h1.3v1.3h-1.3zM44.1 285.8h1.3v1.3h-1.3zM44.6 302.5h1.3v1.3h-1.3zM44.4 302h1.3v1.3h-1.3zM44.2 301.3h1.3v1.3h-1.3zM45 287.3h1.3v1.3h-1.3zM45.2 287.4h1.3v1.3h-1.3zM44.7 302.1h1.3v1.3h-1.3zM45.6 301.1h1.3v1.3h-1.3zM45.4 302.7h1.3v1.3h-1.3zM45.8 302.1h1.3v1.3h-1.3zM46.4 287.4h1.3v1.3h-1.3zM46.1 302h1.3v1.3h-1.3zM46 284.7h1.3v1.3h-1.3zM46.9 302.3h1.3v1.3h-1.3zM46.9 303.2h1.3v1.3h-1.3zM46.8 304.1h1.3v1.3h-1.3zM47.3 301.2h1.3v1.3h-1.3zM47 284.4h1.3v1.3h-1.3zM47 285h1.3v1.3h-1.3zM47.9 286.2h1.3v1.3h-1.3zM47.9 301.1h1.3v1.3h-1.3zM47.7 301.2h1.3v1.3h-1.3zM48.1 301.2h1.3v1.3h-1.3zM48.6 286.4h1.3v1.3h-1.3zM48.2 301.1h1.3v1.3h-1.3zM48.9 287.6h1.3v1.3h-1.3zM48.6 287.4h1.3v1.3h-1.3zM48.7 284.6h1.3v1.3h-1.3zM49.6 302.1h1.3v1.3h-1.3zM49.5 286h1.3v1.3h-1.3zM49.2 301.1h1.3v1.3h-1.3zM49.8 287.3h1.3v1.3h-1.3zM49.8 286.9h1.3v1.3h-1.3zM50 287.6h1.3v1.3h-1.3zM50.6 287h1.3v1.3h-1.3zM50.3 285h1.3v1.3h-1.3zM50.6 301.2h1.3v1.3h-1.3zM46 279.6h1.3v1.3h-1.3zM34.9 311.1h1.3v1.3h-1.3zM25.3 283.1h1.3v1.3h-1.3zM26.5 284.2h1.3v1.3h-1.3zM37.5 281.5h1.3v1.3h-1.3zM27.4 282.5h1.3v1.3h-1.3zM41.4 277.4h1.3v1.3h-1.3zM36.4 309.7h1.3v1.3h-1.3zM41.6 276.1h1.3v1.3h-1.3zM45.7 280.7h1.3v1.3h-1.3zM50.4 315h1.3v1.3h-1.3zM48.1 276.6h1.3v1.3h-1.3z" fill="#bad92a"/>
<path d="M51.1 287.7H77.8V302.3H51.1z" fill="#8fca3a"/>
<path d="M50.7 301.3h1.3v1.3h-1.3zM50.6 286.1h1.3v1.3h-1.3zM51 286.8h1.3v1.3h-1.3zM51.5 301.6h1.3v1.3h-1.3zM51.3 285.9h1.3v1.3h-1.3zM51.2 301.9h1.3v1.3h-1.3zM52.2 287.1h1.3v1.3h-1.3zM52.1 301.2h1.3v1.3h-1.3zM51.8 285.9h1.3v1.3h-1.3zM52.5 287.6h1.3v1.3h-1.3zM52.3 285.2h1.3v1.3h-1.3zM52.5 301.1h1.3v1.3h-1.3zM53.1 301.1h1.3v1.3h-1.3zM53.2 286.3h1.3v1.3h-1.3zM53.3 286.8h1.3v1.3h-1.3zM53.4 287.6h1.3v1.3h-1.3zM53.4 301.4h1.3v1.3h-1.3zM53.3 302.5h1.3v1.3h-1.3zM54.2 301.2h1.3v1.3h-1.3zM53.9 301.7h1.3v1.3h-1.3zM54.2 301.9h1.3v1.3h-1.3zM55 302.9h1.3v1.3h-1.3zM54.7 287.3h1.3v1.3h-1.3zM54.6 302.6h1.3v1.3h-1.3zM55.5 302.7h1.3v1.3h-1.3zM55 301.8h1.3v1.3h-1.3zM55.2 286.6h1.3v1.3h-1.3zM55.5 284.7h1.3v1.3h-1.3zM55.7 304.2h1.3v1.3h-1.3zM55.9 287.4h1.3v1.3h-1.3zM56.1 301.9h1.3v1.3h-1.3zM56.5 301.9h1.3v1.3h-1.3zM56.2 303.9h1.3v1.3h-1.3zM56.9 301.5h1.3v1.3h-1.3zM56.9 302.2h1.3v1.3h-1.3zM56.8 302.5h1.3v1.3h-1.3zM57.6 301.1h1.3v1.3h-1.3zM57.7 301.3h1.3v1.3h-1.3zM57.6 285.5h1.3v1.3h-1.3zM58.2 285.7h1.3v1.3h-1.3zM57.9 301.2h1.3v1.3h-1.3zM57.8 302.9h1.3v1.3h-1.3zM58.8 302.7h1.3v1.3h-1.3zM58.7 285h1.3v1.3h-1.3zM58.4 287.5h1.3v1.3h-1.3zM59.3 286.6h1.3v1.3h-1.3zM59.1 302.9h1.3v1.3h-1.3zM59.2 301.1h1.3v1.3h-1.3zM59.8 286.3h1.3v1.3h-1.3zM59.9 301.7h1.3v1.3h-1.3zM59.7 301.3h1.3v1.3h-1.3zM60 303.4h1.3v1.3h-1.3zM60 302.7h1.3v1.3h-1.3zM60.1 304h1.3v1.3h-1.3zM60.8 285.6h1.3v1.3h-1.3zM60.8 287.1h1.3v1.3h-1.3zM61 302.2h1.3v1.3h-1.3zM61.4 286.8h1.3v1.3h-1.3zM61.1 287.3h1.3v1.3h-1.3zM61.2 301.8h1.3v1.3h-1.3zM61.6 287.6h1.3v1.3h-1.3zM61.8 286.6h1.3v1.3h-1.3zM61.8 287.5h1.3v1.3h-1.3zM62.4 301.1h1.3v1.3h-1.3zM62.2 302.7h1.3v1.3h-1.3zM62.7 287.6h1.3v1.3h-1.3zM63.1 286.4h1.3v1.3h-1.3zM62.8 303.6h1.3v1.3h-1.3zM62.9 301.1h1.3v1.3h-1.3zM63.5 284.5h1.3v1.3h-1.3zM63.4 301.2h1.3v1.3h-1.3zM63.7 301.8h1.3v1.3h-1.3zM64 287.6h1.3v1.3h-1.3zM64.1 285.2h1.3v1.3h-1.3zM63.9 285.8h1.3v1.3h-1.3zM64.7 301.4h1.3v1.3h-1.3zM64.4 286.2h1.3v1.3h-1.3zM64.4 287.6h1.3v1.3h-1.3zM65.2 287.4h1.3v1.3h-1.3zM64.9 286.3h1.3v1.3h-1.3zM65.1 302.6h1.3v1.3h-1.3zM65.6 302.7h1.3v1.3h-1.3zM65.8 302h1.3v1.3h-1.3zM65.8 287.6h1.3v1.3h-1.3zM66.5 303.2h1.3v1.3h-1.3zM66 304h1.3v1.3h-1.3zM66.4 286.7h1.3v1.3h-1.3zM66.6 286.1h1.3v1.3h-1.3zM66.9 287.6h1.3v1.3h-1.3zM66.7 303.9h1.3v1.3h-1.3zM67.3 304.2h1.3v1.3h-1.3zM67.2 301.3h1.3v1.3h-1.3zM67.6 286.5h1.3v1.3h-1.3zM68.1 303.4h1.3v1.3h-1.3zM68.1 301.4h1.3v1.3h-1.3zM68 303.1h1.3v1.3h-1.3zM68.5 302.9h1.3v1.3h-1.3zM68.5 301.3h1.3v1.3h-1.3zM68.6 285.4h1.3v1.3h-1.3zM68.7 287h1.3v1.3h-1.3zM68.9 303.8h1.3v1.3h-1.3zM69.3 302.4h1.3v1.3h-1.3zM69.5 301.3h1.3v1.3h-1.3zM69.3 287.4h1.3v1.3h-1.3zM69.4 286.3h1.3v1.3h-1.3zM70.1 287.1h1.3v1.3h-1.3zM70.1 301.1h1.3v1.3h-1.3zM70.1 301.3h1.3v1.3h-1.3zM70.8 302.1h1.3v1.3h-1.3zM70.5 286.7h1.3v1.3h-1.3zM70.8 302.4h1.3v1.3h-1.3zM71.1 301.3h1.3v1.3h-1.3zM71.4 287.5h1.3v1.3h-1.3zM71.3 287.4h1.3v1.3h-1.3zM71.6 303.1h1.3v1.3h-1.3zM71.7 287.5h1.3v1.3h-1.3zM72 301.8h1.3v1.3h-1.3zM72.5 301.2h1.3v1.3h-1.3zM72.6 287.5h1.3v1.3h-1.3zM72.2 302.6h1.3v1.3h-1.3zM73 301.4h1.3v1.3h-1.3zM73 285.1h1.3v1.3h-1.3zM72.9 285.3h1.3v1.3h-1.3zM73.5 301.2h1.3v1.3h-1.3zM73.5 284.7h1.3v1.3h-1.3zM73.6 303h1.3v1.3h-1.3zM73.9 284.5h1.3v1.3h-1.3zM73.8 286.2h1.3v1.3h-1.3zM73.7 301.6h1.3v1.3h-1.3zM74.5 285.2h1.3v1.3h-1.3zM74.3 301.4h1.3v1.3h-1.3zM74.2 286.5h1.3v1.3h-1.3zM74.9 301.2h1.3v1.3h-1.3zM74.9 301.9h1.3v1.3h-1.3zM75.1 303h1.3v1.3h-1.3zM75.8 287.2h1.3v1.3h-1.3zM75.7 301.5h1.3v1.3h-1.3zM75.6 303.5h1.3v1.3h-1.3zM76.1 302.5h1.3v1.3h-1.3zM76.4 284.9h1.3v1.3h-1.3zM76.3 303.2h1.3v1.3h-1.3zM76.5 302.2h1.3v1.3h-1.3zM76.6 301.1h1.3v1.3h-1.3zM76.5 301.5h1.3v1.3h-1.3zM65.9 304.5h1.3v1.3h-1.3zM64.4 304.8h1.3v1.3h-1.3zM74.2 310.6h1.3v1.3h-1.3zM72.1 306.1h1.3v1.3h-1.3zM76.3 304.7h1.3v1.3h-1.3zM54.5 305.9h1.3v1.3h-1.3zM58.3 275.9h1.3v1.3h-1.3zM75.5 308.4h1.3v1.3h-1.3zM75.3 304.5h1.3v1.3h-1.3zM62.8 309.9h1.3v1.3h-1.3zM60.6 278.9h1.3v1.3h-1.3zM70.7 270.5h1.3v1.3h-1.3z" fill="#8fca3a"/>
<path d="M77.2 287.7H101.8V302.3H77.2z" fill="#74c240"/>
<path d="M76.6 302.9h1.3v1.3h-1.3zM76.6 286.8h1.3v1.3h-1.3zM76.6 287.4h1.3v1.3h-1.3zM77.4 287.4h1.3v1.3h-1.3zM77.5 301.7h1.3v1.3h-1.3zM77.3 302.9h1.3v1.3h-1.3zM77.7 301.2h1.3v1.3h-1.3zM78.2 301.1h1.3v1.3h-1.3zM77.9 303h1.3v1.3h-1.3zM78.5 287.2h1.3v1.3h-1.3zM78.6 301.2h1.3v1.3h-1.3zM78.5 303h1.3v1.3h-1.3zM78.8 285.5h1.3v1.3h-1.3zM78.9 304.3h1.3v1.3h-1.3zM79.3 301.1h1.3v1.3h-1.3zM79.8 287.1h1.3v1.3h-1.3zM79.4 303.7h1.3v1.3h-1.3zM79.8 301.5h1.3v1.3h-1.3zM80.3 304.2h1.3v1.3h-1.3zM80.2 284.8h1.3v1.3h-1.3zM80.4 302.5h1.3v1.3h-1.3zM80.9 286.3h1.3v1.3h-1.3zM80.5 301.5h1.3v1.3h-1.3zM80.5 302.3h1.3v1.3h-1.3zM81 303.2h1.3v1.3h-1.3zM81.2 301.3h1.3v1.3h-1.3zM81.3 301.8h1.3v1.3h-1.3zM81.8 284.4h1.3v1.3h-1.3zM81.7 286.9h1.3v1.3h-1.3zM82 287.3h1.3v1.3h-1.3zM82.6 287.6h1.3v1.3h-1.3zM82.6 285.9h1.3v1.3h-1.3zM82.6 301.1h1.3v1.3h-1.3zM82.8 303.8h1.3v1.3h-1.3zM83.1 285.5h1.3v1.3h-1.3zM82.6 302.9h1.3v1.3h-1.3zM83.5 286.6h1.3v1.3h-1.3zM83.5 285.4h1.3v1.3h-1.3zM83.2 286.9h1.3v1.3h-1.3zM83.9 301.1h1.3v1.3h-1.3zM84.2 285.5h1.3v1.3h-1.3zM83.8 285.7h1.3v1.3h-1.3zM84.6 303.1h1.3v1.3h-1.3zM84.5 301.2h1.3v1.3h-1.3zM84.8 286.4h1.3v1.3h-1.3zM85.3 285.4h1.3v1.3h-1.3zM85.2 301.3h1.3v1.3h-1.3zM84.9 302.1h1.3v1.3h-1.3zM85.6 287.2h1.3v1.3h-1.3zM85.6 286.7h1.3v1.3h-1.3zM85.6 286.3h1.3v1.3h-1.3zM86.3 302.2h1.3v1.3h-1.3zM86.2 302.1h1.3v1.3h-1.3zM86.1 287.2h1.3v1.3h-1.3zM86.8 286.8h1.3v1.3h-1.3zM86.9 301.5h1.3v1.3h-1.3zM86.5 301.1h1.3v1.3h-1.3zM87.6 303.2h1.3v1.3h-1.3zM87.2 286.6h1.3v1.3h-1.3zM87.1 286h1.3v1.3h-1.3zM87.7 302.2h1.3v1.3h-1.3zM88 286.9h1.3v1.3h-1.3zM87.9 301.4h1.3v1.3h-1.3zM88.7 301.6h1.3v1.3h-1.3zM88.3 285.2h1.3v1.3h-1.3zM88.5 285.9h1.3v1.3h-1.3zM88.8 287.6h1.3v1.3h-1.3zM88.8 302.8h1.3v1.3h-1.3zM88.9 302.3h1.3v1.3h-1.3zM89.6 284.9h1.3v1.3h-1.3zM89.8 302h1.3v1.3h-1.3zM89.4 303.2h1.3v1.3h-1.3zM90 286.8h1.3v1.3h-1.3zM89.9 285.7h1.3v1.3h-1.3zM89.9 287.6h1.3v1.3h-1.3zM90.8 287.4h1.3v1.3h-1.3zM90.4 286.5h1.3v1.3h-1.3zM90.3 303.9h1.3v1.3h-1.3zM91.3 301.1h1.3v1.3h-1.3zM91.2 284.8h1.3v1.3h-1.3zM91.1 287.5h1.3v1.3h-1.3zM91.5 302.6h1.3v1.3h-1.3zM91.7 285h1.3v1.3h-1.3zM92 301.5h1.3v1.3h-1.3zM92.3 284.7h1.3v1.3h-1.3zM92.3 287.6h1.3v1.3h-1.3zM92 287.6h1.3v1.3h-1.3zM92.6 302.6h1.3v1.3h-1.3zM92.6 284.8h1.3v1.3h-1.3zM92.6 285.5h1.3v1.3h-1.3zM93.6 287h1.3v1.3h-1.3zM93.6 301.8h1.3v1.3h-1.3zM93.1 286.1h1.3v1.3h-1.3zM93.6 303h1.3v1.3h-1.3zM94 301.9h1.3v1.3h-1.3zM94.1 284.9h1.3v1.3h-1.3zM94.4 286.1h1.3v1.3h-1.3zM94.2 286h1.3v1.3h-1.3zM94.6 285.7h1.3v1.3h-1.3zM95 287.4h1.3v1.3h-1.3zM94.9 286.2h1.3v1.3h-1.3zM95 301.6h1.3v1.3h-1.3zM95.8 287.4h1.3v1.3h-1.3zM95.3 304.3h1.3v1.3h-1.3zM95.7 301.9h1.3v1.3h-1.3zM96.2 302.2h1.3v1.3h-1.3zM96.3 285.3h1.3v1.3h-1.3zM96.2 303.3h1.3v1.3h-1.3zM96.9 286.4h1.3v1.3h-1.3zM96.4 302h1.3v1.3h-1.3zM96.8 286.1h1.3v1.3h-1.3zM97.1 287.1h1.3v1.3h-1.3zM97 285.3h1.3v1.3h-1.3zM97.4 287.3h1.3v1.3h-1.3zM97.7 286.8h1.3v1.3h-1.3zM97.7 287.6h1.3v1.3h-1.3zM97.9 285.6h1.3v1.3h-1.3zM98.4 286.2h1.3v1.3h-1.3zM98.4 287h1.3v1.3h-1.3zM98.5 286.7h1.3v1.3h-1.3zM98.7 302.8h1.3v1.3h-1.3zM98.6 286.4h1.3v1.3h-1.3zM98.6 287.2h1.3v1.3h-1.3zM99.4 302.7h1.3v1.3h-1.3zM99.5 285.6h1.3v1.3h-1.3zM99.5 284.8h1.3v1.3h-1.3zM100.1 287.3h1.3v1.3h-1.3zM99.8 301.1h1.3v1.3h-1.3zM100 285.7h1.3v1.3h-1.3zM100.7 287.3h1.3v1.3h-1.3zM100.8 286.9h1.3v1.3h-1.3zM100.4 303.5h1.3v1.3h-1.3zM97.2 309.7h1.3v1.3h-1.3zM96 284.2h1.3v1.3h-1.3zM95.8 284.1h1.3v1.3h-1.3zM94.3 278.9h1.3v1.3h-1.3zM86.5 281h1.3v1.3h-1.3zM89.2 283.6h1.3v1.3h-1.3zM79.9 308.2h1.3v1.3h-1.3zM83.9 305.7h1.3v1.3h-1.3zM95.6 282.9h1.3v1.3h-1.3zM97.8 274.7h1.3v1.3h-1.3z" fill="#74c240"/>
<path d="M101.2 287.7H109.1V302.3H101.2zM111.7 287.7H124.8V302.3H111.7z" fill="#66be44"/>
<path d="M100.8 304.1h1.3v1.3h-1.3zM100.7 302.8h1.3v1.3h-1.3zM101.1 285.7h1.3v1.3h-1.3zM101.6 301.8h1.3v1.3h-1.3zM101.1 301.4h1.3v1.3h-1.3zM101.5 287.6h1.3v1.3h-1.3zM101.9 285.9h1.3v1.3h-1.3zM101.7 286.1h1.3v1.3h-1.3zM102.2 301.3h1.3v1.3h-1.3zM102.2 284.9h1.3v1.3h-1.3zM102.4 303.9h1.3v1.3h-1.3zM102.2 303.5h1.3v1.3h-1.3zM102.8 285.4h1.3v1.3h-1.3zM102.8 304.3h1.3v1.3h-1.3zM103.3 302.5h1.3v1.3h-1.3zM103.8 286.6h1.3v1.3h-1.3zM103.7 302.1h1.3v1.3h-1.3zM103.9 303.1h1.3v1.3h-1.3zM104.2 285.5h1.3v1.3h-1.3zM104.2 302.5h1.3v1.3h-1.3zM104.2 302.1h1.3v1.3h-1.3zM104.7 284.5h1.3v1.3h-1.3zM104.9 302h1.3v1.3h-1.3zM104.7 302.3h1.3v1.3h-1.3zM105.1 285.9h1.3v1.3h-1.3zM105.1 301.4h1.3v1.3h-1.3zM105.1 284.6h1.3v1.3h-1.3zM105.5 287.4h1.3v1.3h-1.3zM105.5 286.1h1.3v1.3h-1.3zM106.1 301.9h1.3v1.3h-1.3zM106.5 301.4h1.3v1.3h-1.3zM106.2 302.5h1.3v1.3h-1.3zM106.2 285.4h1.3v1.3h-1.3zM107.1 304.2h1.3v1.3h-1.3zM106.6 302.6h1.3v1.3h-1.3zM106.8 285.5h1.3v1.3h-1.3zM107.7 302.3h1.3v1.3h-1.3zM107.5 287.1h1.3v1.3h-1.3zM107.5 301.5h1.3v1.3h-1.3zM108.2 301.5h1.3v1.3h-1.3zM108.1 302.5h1.3v1.3h-1.3zM108.2 285.6h1.3v1.3h-1.3zM103.2 282.8h1.3v1.3h-1.3zM103 304.5h1.3v1.3h-1.3zM111.4 304.2h1.3v1.3h-1.3zM111.6 287.4h1.3v1.3h-1.3zM111.2 302h1.3v1.3h-1.3zM112 303h1.3v1.3h-1.3zM111.9 284.4h1.3v1.3h-1.3zM111.9 301.8h1.3v1.3h-1.3zM112.5 284.4h1.3v1.3h-1.3zM112.7 286.2h1.3v1.3h-1.3zM112.5 301.1h1.3v1.3h-1.3zM113.2 304.3h1.3v1.3h-1.3zM113.3 302.4h1.3v1.3h-1.3zM113.2 284.8h1.3v1.3h-1.3zM113.5 287h1.3v1.3h-1.3zM113.8 303.8h1.3v1.3h-1.3zM113.3 285.6h1.3v1.3h-1.3zM114 285.9h1.3v1.3h-1.3zM114.2 284.6h1.3v1.3h-1.3zM113.9 286.7h1.3v1.3h-1.3zM114.8 287.2h1.3v1.3h-1.3zM114.6 285h1.3v1.3h-1.3zM114.4 286.4h1.3v1.3h-1.3zM115.3 303.7h1.3v1.3h-1.3zM115.2 303.6h1.3v1.3h-1.3zM115.1 286.2h1.3v1.3h-1.3zM115.9 287.1h1.3v1.3h-1.3zM116 303.5h1.3v1.3h-1.3zM116 301.1h1.3v1.3h-1.3zM116 301.1h1.3v1.3h-1.3zM116.1 287.5h1.3v1.3h-1.3zM116.2 287.6h1.3v1.3h-1.3zM116.8 287.6h1.3v1.3h-1.3zM116.9 285.5h1.3v1.3h-1.3zM116.9 285h1.3v1.3h-1.3zM117.5 302.4h1.3v1.3h-1.3zM117.4 303.6h1.3v1.3h-1.3zM117.2 301.5h1.3v1.3h-1.3zM118.2 301.7h1.3v1.3h-1.3zM118.1 286h1.3v1.3h-1.3zM117.7 301.9h1.3v1.3h-1.3zM118.3 287.2h1.3v1.3h-1.3zM118.2 301.2h1.3v1.3h-1.3zM118.5 285.9h1.3v1.3h-1.3zM119.1 304.1h1.3v1.3h-1.3zM118.9 286.6h1.3v1.3h-1.3zM119.1 302.6h1.3v1.3h-1.3zM119.9 286.9h1.3v1.3h-1.3zM119.7 285.6h1.3v1.3h-1.3zM119.6 301.1h1.3v1.3h-1.3zM120.4 301.3h1.3v1.3h-1.3zM120.4 285.5h1.3v1.3h-1.3zM119.9 287.1h1.3v1.3h-1.3zM120.8 301.8h1.3v1.3h-1.3zM120.5 302.2h1.3v1.3h-1.3zM120.6 287h1.3v1.3h-1.3zM121.4 287.6h1.3v1.3h-1.3zM121.3 302.1h1.3v1.3h-1.3zM121.4 284.4h1.3v1.3h-1.3zM122.1 286.8h1.3v1.3h-1.3zM121.7 286.4h1.3v1.3h-1.3zM122 287.5h1.3v1.3h-1.3zM122.3 286.5h1.3v1.3h-1.3zM122.6 302.8h1.3v1.3h-1.3zM122.2 284.6h1.3v1.3h-1.3zM122.8 287.6h1.3v1.3h-1.3zM123.2 284.4h1.3v1.3h-1.3zM123 301.9h1.3v1.3h-1.3zM123.6 286.6h1.3v1.3h-1.3zM123.6 286.4h1.3v1.3h-1.3zM123.3 286.2h1.3v1.3h-1.3zM119.8 284.1h1.3v1.3h-1.3zM121.9 279.6h1.3v1.3h-1.3zM120.8 304.7h1.3v1.3h-1.3zM122.6 306.6h1.3v1.3h-1.3zM111.6 283.2h1.3v1.3h-1.3zM115.8 277.5h1.3v1.3h-1.3z" fill="#66be44"/>
<path d="M124.2 287.7H146.8V302.3H124.2z" fill="#64c040"/>
<path d="M124.1 285.9h1.3v1.3h-1.3zM123.8 301.4h1.3v1.3h-1.3zM123.6 285.4h1.3v1.3h-1.3zM124.6 287h1.3v1.3h-1.3zM124.5 302.3h1.3v1.3h-1.3zM124.2 302h1.3v1.3h-1.3zM124.7 304.1h1.3v1.3h-1.3zM125.1 303.6h1.3v1.3h-1.3zM124.8 302.4h1.3v1.3h-1.3zM125.4 285.9h1.3v1.3h-1.3zM125.3 302.2h1.3v1.3h-1.3zM125.8 285.6h1.3v1.3h-1.3zM126.3 301.3h1.3v1.3h-1.3zM126.3 287.5h1.3v1.3h-1.3zM125.8 287.5h1.3v1.3h-1.3zM126.5 287.6h1.3v1.3h-1.3zM126.8 284.7h1.3v1.3h-1.3zM126.5 286.3h1.3v1.3h-1.3zM126.9 285.1h1.3v1.3h-1.3zM127.4 287.3h1.3v1.3h-1.3zM127.4 301.6h1.3v1.3h-1.3zM127.8 302h1.3v1.3h-1.3zM127.8 286.9h1.3v1.3h-1.3zM127.7 285.9h1.3v1.3h-1.3zM128.3 287.6h1.3v1.3h-1.3zM128.3 285.6h1.3v1.3h-1.3zM128.3 301.6h1.3v1.3h-1.3zM128.6 284.7h1.3v1.3h-1.3zM128.6 304.1h1.3v1.3h-1.3zM128.6 303h1.3v1.3h-1.3zM129.4 287.1h1.3v1.3h-1.3zM129.5 301.9h1.3v1.3h-1.3zM129.1 285h1.3v1.3h-1.3zM129.8 302.7h1.3v1.3h-1.3zM129.6 304.1h1.3v1.3h-1.3zM130 287.6h1.3v1.3h-1.3zM130.3 304.2h1.3v1.3h-1.3zM130.6 301.1h1.3v1.3h-1.3zM130.2 287.1h1.3v1.3h-1.3zM130.9 302.5h1.3v1.3h-1.3zM131.1 301.1h1.3v1.3h-1.3zM131.2 287.1h1.3v1.3h-1.3zM131.8 286.7h1.3v1.3h-1.3zM131.4 301.7h1.3v1.3h-1.3zM131.5 287.4h1.3v1.3h-1.3zM132.1 286.3h1.3v1.3h-1.3zM131.9 285.6h1.3v1.3h-1.3zM132.3 303.9h1.3v1.3h-1.3zM132.8 303.3h1.3v1.3h-1.3zM132.7 302.8h1.3v1.3h-1.3zM132.9 285.6h1.3v1.3h-1.3zM133.3 287.5h1.3v1.3h-1.3zM133.1 301.9h1.3v1.3h-1.3zM133 301.9h1.3v1.3h-1.3zM134 302.1h1.3v1.3h-1.3zM133.7 302.1h1.3v1.3h-1.3zM133.6 284.7h1.3v1.3h-1.3zM134.6 287.6h1.3v1.3h-1.3zM134.3 284.5h1.3v1.3h-1.3zM134.5 301.5h1.3v1.3h-1.3zM134.7 303.2h1.3v1.3h-1.3zM134.9 285.3h1.3v1.3h-1.3zM134.6 285h1.3v1.3h-1.3zM135.7 302.1h1.3v1.3h-1.3zM135.3 301.2h1.3v1.3h-1.3zM135.6 302.5h1.3v1.3h-1.3zM135.7 286.3h1.3v1.3h-1.3zM135.7 287.5h1.3v1.3h-1.3zM136 302.6h1.3v1.3h-1.3zM136.7 302.4h1.3v1.3h-1.3zM136.6 287.2h1.3v1.3h-1.3zM136.3 301.5h1.3v1.3h-1.3zM137.2 301.7h1.3v1.3h-1.3zM137.3 301.9h1.3v1.3h-1.3zM136.9 286.4h1.3v1.3h-1.3zM137.4 303.8h1.3v1.3h-1.3zM137.6 301.1h1.3v1.3h-1.3zM137.4 301.3h1.3v1.3h-1.3zM138.1 303.5h1.3v1.3h-1.3zM138.1 284.5h1.3v1.3h-1.3zM138.1 287h1.3v1.3h-1.3zM138.7 304.2h1.3v1.3h-1.3zM138.4 287.5h1.3v1.3h-1.3zM138.6 301.9h1.3v1.3h-1.3zM139 285.4h1.3v1.3h-1.3zM139 286.9h1.3v1.3h-1.3zM139.3 301.2h1.3v1.3h-1.3zM139.8 284.6h1.3v1.3h-1.3zM139.8 301.1h1.3v1.3h-1.3zM140 286.9h1.3v1.3h-1.3zM140.2 302.9h1.3v1.3h-1.3zM140.2 286.4h1.3v1.3h-1.3zM140.6 303.2h1.3v1.3h-1.3zM141.2 285.2h1.3v1.3h-1.3zM140.9 286.3h1.3v1.3h-1.3zM140.8 285.8h1.3v1.3h-1.3zM141.4 284.5h1.3v1.3h-1.3zM141.5 301.6h1.3v1.3h-1.3zM141.4 287.3h1.3v1.3h-1.3zM142 286.4h1.3v1.3h-1.3zM142.1 286.1h1.3v1.3h-1.3zM141.9 285.8h1.3v1.3h-1.3zM142.4 287.5h1.3v1.3h-1.3zM142.7 285.9h1.3v1.3h-1.3zM142.3 301.3h1.3v1.3h-1.3zM143.1 285.4h1.3v1.3h-1.3zM143.1 284.4h1.3v1.3h-1.3zM142.8 301.2h1.3v1.3h-1.3zM143.4 304.1h1.3v1.3h-1.3zM143.6 303.4h1.3v1.3h-1.3zM143.6 301.7h1.3v1.3h-1.3zM144 302.8h1.3v1.3h-1.3zM144.4 286.3h1.3v1.3h-1.3zM144.3 285h1.3v1.3h-1.3zM144.7 287h1.3v1.3h-1.3zM144.7 301.2h1.3v1.3h-1.3zM144.8 286.5h1.3v1.3h-1.3zM145.3 302.8h1.3v1.3h-1.3zM145.5 284.8h1.3v1.3h-1.3zM145.1 286.2h1.3v1.3h-1.3zM136.9 284.2h1.3v1.3h-1.3zM129.2 304.6h1.3v1.3h-1.3zM133.6 281.5h1.3v1.3h-1.3zM139.6 284.2h1.3v1.3h-1.3zM139 280.7h1.3v1.3h-1.3zM139.2 304.5h1.3v1.3h-1.3zM136.8 306.4h1.3v1.3h-1.3zM127.8 304.9h1.3v1.3h-1.3zM131.5 314.2h1.3v1.3h-1.3z" fill="#64c040"/>
<path d="M146.2 287.7H169.3V302.3H146.2z" fill="#5fbc82"/>
<path d="M145.6 287.3h1.3v1.3h-1.3zM145.7 285.2h1.3v1.3h-1.3zM145.6 287.4h1.3v1.3h-1.3zM146.1 302.2h1.3v1.3h-1.3zM146.5 285.7h1.3v1.3h-1.3zM146.7 301.1h1.3v1.3h-1.3zM146.9 303.9h1.3v1.3h-1.3zM146.7 285.8h1.3v1.3h-1.3zM146.7 301.9h1.3v1.3h-1.3zM147.8 285.1h1.3v1.3h-1.3zM147.8 286.4h1.3v1.3h-1.3zM147.7 301.4h1.3v1.3h-1.3zM147.8 286.8h1.3v1.3h-1.3zM147.9 303.9h1.3v1.3h-1.3zM148.1 287.4h1.3v1.3h-1.3zM148.7 303.7h1.3v1.3h-1.3zM148.4 286.6h1.3v1.3h-1.3zM148.4 303.4h1.3v1.3h-1.3zM148.9 286.2h1.3v1.3h-1.3zM149.1 286.1h1.3v1.3h-1.3zM149.3 287.6h1.3v1.3h-1.3zM149.8 302.4h1.3v1.3h-1.3zM149.7 302h1.3v1.3h-1.3zM149.4 287.6h1.3v1.3h-1.3zM150 302.7h1.3v1.3h-1.3zM150.2 302.3h1.3v1.3h-1.3zM150.5 301.2h1.3v1.3h-1.3zM150.9 303.2h1.3v1.3h-1.3zM150.8 286h1.3v1.3h-1.3zM150.7 286.9h1.3v1.3h-1.3zM151.3 287.2h1.3v1.3h-1.3zM151.2 285.5h1.3v1.3h-1.3zM151.1 286.6h1.3v1.3h-1.3zM151.8 303.3h1.3v1.3h-1.3zM152.2 301.1h1.3v1.3h-1.3zM151.9 287h1.3v1.3h-1.3zM152.4 286.3h1.3v1.3h-1.3zM152.5 301.1h1.3v1.3h-1.3zM152.4 302h1.3v1.3h-1.3zM152.9 301.5h1.3v1.3h-1.3zM153.1 287.5h1.3v1.3h-1.3zM152.9 286.4h1.3v1.3h-1.3zM153.4 301.3h1.3v1.3h-1.3zM153.7 302.9h1.3v1.3h-1.3zM153.8 303h1.3v1.3h-1.3zM154.2 303.4h1.3v1.3h-1.3zM153.8 286.8h1.3v1.3h-1.3zM153.9 302h1.3v1.3h-1.3zM154.8 285.6h1.3v1.3h-1.3zM154.9 287.6h1.3v1.3h-1.3zM154.4 303.4h1.3v1.3h-1.3zM155.4 301.1h1.3v1.3h-1.3zM155.5 287.4h1.3v1.3h-1.3zM155.5 284.8h1.3v1.3h-1.3zM155.7 284.8h1.3v1.3h-1.3zM156 287.4h1.3v1.3h-1.3zM155.6 303.8h1.3v1.3h-1.3zM156.2 302.2h1.3v1.3h-1.3zM156.3 287.5h1.3v1.3h-1.3zM156.5 301.1h1.3v1.3h-1.3zM157.1 302.3h1.3v1.3h-1.3zM157.1 304.3h1.3v1.3h-1.3zM157.1 303.9h1.3v1.3h-1.3zM157.3 302.2h1.3v1.3h-1.3zM157.6 286.8h1.3v1.3h-1.3zM157.2 284.7h1.3v1.3h-1.3zM158 302.6h1.3v1.3h-1.3zM158 287.1h1.3v1.3h-1.3zM157.8 285.3h1.3v1.3h-1.3zM158.4 287.3h1.3v1.3h-1.3zM158.5 285.5h1.3v1.3h-1.3zM158.2 287.4h1.3v1.3h-1.3zM159.3 286.8h1.3v1.3h-1.3zM159 302.9h1.3v1.3h-1.3zM159.3 301.1h1.3v1.3h-1.3zM159.8 286.7h1.3v1.3h-1.3zM159.4 286.9h1.3v1.3h-1.3zM159.9 286.1h1.3v1.3h-1.3zM159.9 287.6h1.3v1.3h-1.3zM160.3 287.3h1.3v1.3h-1.3zM160.2 286.2h1.3v1.3h-1.3zM160.4 304.3h1.3v1.3h-1.3zM160.9 301.8h1.3v1.3h-1.3zM160.9 285.9h1.3v1.3h-1.3zM161.5 286.5h1.3v1.3h-1.3zM161.1 286h1.3v1.3h-1.3zM161.3 301.1h1.3v1.3h-1.3zM161.8 285.9h1.3v1.3h-1.3zM161.9 301.1h1.3v1.3h-1.3zM161.9 301.2h1.3v1.3h-1.3zM162.5 302.2h1.3v1.3h-1.3zM162.2 284.9h1.3v1.3h-1.3zM162.2 284.7h1.3v1.3h-1.3zM162.7 303.1h1.3v1.3h-1.3zM163 301.6h1.3v1.3h-1.3zM162.9 301.2h1.3v1.3h-1.3zM163.7 286.9h1.3v1.3h-1.3zM163.2 287.5h1.3v1.3h-1.3zM163.3 287.1h1.3v1.3h-1.3zM163.9 285.3h1.3v1.3h-1.3zM164 285.8h1.3v1.3h-1.3zM163.9 287.4h1.3v1.3h-1.3zM164.7 302h1.3v1.3h-1.3zM164.4 287.1h1.3v1.3h-1.3zM164.6 304h1.3v1.3h-1.3zM165.4 287.1h1.3v1.3h-1.3zM165.2 287.5h1.3v1.3h-1.3zM165.1 287.2h1.3v1.3h-1.3zM165.6 285.6h1.3v1.3h-1.3zM165.9 301.7h1.3v1.3h-1.3zM165.6 302.3h1.3v1.3h-1.3zM165.9 287.4h1.3v1.3h-1.3zM166.2 287.3h1.3v1.3h-1.3zM166.1 301.2h1.3v1.3h-1.3zM166.8 287.4h1.3v1.3h-1.3zM166.9 286.2h1.3v1.3h-1.3zM166.7 301.2h1.3v1.3h-1.3zM167.6 301.2h1.3v1.3h-1.3zM167.2 286.4h1.3v1.3h-1.3zM167.5 303.2h1.3v1.3h-1.3zM168 287.3h1.3v1.3h-1.3zM167.8 287.6h1.3v1.3h-1.3zM167.9 287.5h1.3v1.3h-1.3zM158 307.8h1.3v1.3h-1.3zM168.2 278.5h1.3v1.3h-1.3zM157.9 306.4h1.3v1.3h-1.3zM163.5 283.4h1.3v1.3h-1.3zM153.1 281.7h1.3v1.3h-1.3zM147.6 310.1h1.3v1.3h-1.3zM162.5 282h1.3v1.3h-1.3zM156.2 304.7h1.3v1.3h-1.3zM148.1 308.4h1.3v1.3h-1.3zM149.1 273.6h1.3v1.3h-1.3z" fill="#5fbc82"/>
<path d="M168.7 287.7H190.9V302.3H168.7z" fill="#64c4bc"/>
<path d="M168.6 286.8h1.3v1.3h-1.3zM168.5 284.6h1.3v1.3h-1.3zM168.1 287.4h1.3v1.3h-1.3zM169 301.1h1.3v1.3h-1.3zM168.9 301.3h1.3v1.3h-1.3zM168.7 285h1.3v1.3h-1.3zM169.6 302.6h1.3v1.3h-1.3zM169.6 303h1.3v1.3h-1.3zM169.5 284.5h1.3v1.3h-1.3zM170.1 287.5h1.3v1.3h-1.3zM169.7 287.6h1.3v1.3h-1.3zM170.2 301.4h1.3v1.3h-1.3zM170.8 301.1h1.3v1.3h-1.3zM170.5 304h1.3v1.3h-1.3zM170.4 286.5h1.3v1.3h-1.3zM171.4 302.1h1.3v1.3h-1.3zM171 303.9h1.3v1.3h-1.3zM171.4 304.2h1.3v1.3h-1.3zM171.6 301.5h1.3v1.3h-1.3zM171.6 301.1h1.3v1.3h-1.3zM171.8 302.1h1.3v1.3h-1.3zM172.4 287.2h1.3v1.3h-1.3zM172.2 302.8h1.3v1.3h-1.3zM172.4 302.4h1.3v1.3h-1.3zM172.9 301.6h1.3v1.3h-1.3zM173 301.3h1.3v1.3h-1.3zM173 284.8h1.3v1.3h-1.3zM173.6 285.3h1.3v1.3h-1.3zM173.4 301.1h1.3v1.3h-1.3zM173 287.4h1.3v1.3h-1.3zM173.6 287.6h1.3v1.3h-1.3zM174.1 302.7h1.3v1.3h-1.3zM173.9 286.6h1.3v1.3h-1.3zM174.4 285h1.3v1.3h-1.3zM174.3 286.2h1.3v1.3h-1.3zM174.4 302.4h1.3v1.3h-1.3zM175.1 301.5h1.3v1.3h-1.3zM175 287.6h1.3v1.3h-1.3zM174.8 301.9h1.3v1.3h-1.3zM175.5 302.9h1.3v1.3h-1.3zM175.7 287.2h1.3v1.3h-1.3zM175.8 302h1.3v1.3h-1.3zM175.9 302.8h1.3v1.3h-1.3zM176.2 285.4h1.3v1.3h-1.3zM176.2 302.3h1.3v1.3h-1.3zM176.4 285.1h1.3v1.3h-1.3zM176.5 302.2h1.3v1.3h-1.3zM176.6 286.9h1.3v1.3h-1.3zM177.1 287.3h1.3v1.3h-1.3zM177.1 284.6h1.3v1.3h-1.3zM177.1 285.1h1.3v1.3h-1.3zM177.5 287.4h1.3v1.3h-1.3zM177.7 302.1h1.3v1.3h-1.3zM177.9 287.6h1.3v1.3h-1.3zM178.1 303.6h1.3v1.3h-1.3zM178.3 287.1h1.3v1.3h-1.3zM178.4 302.2h1.3v1.3h-1.3zM178.9 284.7h1.3v1.3h-1.3zM178.7 301.5h1.3v1.3h-1.3zM178.7 303.4h1.3v1.3h-1.3zM179.3 301.1h1.3v1.3h-1.3zM179.2 287.5h1.3v1.3h-1.3zM179.3 301.8h1.3v1.3h-1.3zM179.8 303.4h1.3v1.3h-1.3zM179.9 303.8h1.3v1.3h-1.3zM180.1 284.9h1.3v1.3h-1.3zM180.7 285.9h1.3v1.3h-1.3zM180.2 301.1h1.3v1.3h-1.3zM180.4 286h1.3v1.3h-1.3zM181.2 287.1h1.3v1.3h-1.3zM181.3 301.1h1.3v1.3h-1.3zM180.9 303.8h1.3v1.3h-1.3zM181.5 302.2h1.3v1.3h-1.3zM181.3 285h1.3v1.3h-1.3zM181.3 286.8h1.3v1.3h-1.3zM181.9 287.3h1.3v1.3h-1.3zM182 301.8h1.3v1.3h-1.3zM182.1 303.2h1.3v1.3h-1.3zM182.7 303.5h1.3v1.3h-1.3zM182.7 286.8h1.3v1.3h-1.3zM182.7 301.2h1.3v1.3h-1.3zM183 303.2h1.3v1.3h-1.3zM182.9 285.9h1.3v1.3h-1.3zM183 303.4h1.3v1.3h-1.3zM183.7 287.6h1.3v1.3h-1.3zM183.9 287.5h1.3v1.3h-1.3zM183.8 286.6h1.3v1.3h-1.3zM184.2 301.5h1.3v1.3h-1.3zM184 287.6h1.3v1.3h-1.3zM184.4 286.8h1.3v1.3h-1.3zM184.7 286.4h1.3v1.3h-1.3zM184.7 302h1.3v1.3h-1.3zM184.8 285.5h1.3v1.3h-1.3zM185.4 285.4h1.3v1.3h-1.3zM185.6 284.4h1.3v1.3h-1.3zM185.6 285.8h1.3v1.3h-1.3zM185.9 301.1h1.3v1.3h-1.3zM185.7 303.3h1.3v1.3h-1.3zM185.7 303.7h1.3v1.3h-1.3zM186.7 301.7h1.3v1.3h-1.3zM186.8 303.1h1.3v1.3h-1.3zM186.6 287.1h1.3v1.3h-1.3zM186.8 301.1h1.3v1.3h-1.3zM187 287.1h1.3v1.3h-1.3zM186.9 285.8h1.3v1.3h-1.3zM187.9 285.8h1.3v1.3h-1.3zM187.4 284.8h1.3v1.3h-1.3zM187.4 286.7h1.3v1.3h-1.3zM187.9 301.2h1.3v1.3h-1.3zM188.2 301.1h1.3v1.3h-1.3zM188 301.4h1.3v1.3h-1.3zM188.8 303.1h1.3v1.3h-1.3zM188.8 287.5h1.3v1.3h-1.3zM188.8 303.6h1.3v1.3h-1.3zM189.3 287.6h1.3v1.3h-1.3zM189.4 287h1.3v1.3h-1.3zM189.4 301.3h1.3v1.3h-1.3zM189.8 302.7h1.3v1.3h-1.3zM189.8 301.1h1.3v1.3h-1.3zM189.5 302.6h1.3v1.3h-1.3zM184.6 276.8h1.3v1.3h-1.3zM175.9 280.3h1.3v1.3h-1.3zM169.6 310.7h1.3v1.3h-1.3zM188.2 304.5h1.3v1.3h-1.3zM173.9 307.8h1.3v1.3h-1.3zM173 304.5h1.3v1.3h-1.3zM189.6 279.7h1.3v1.3h-1.3zM171.6 275.7h1.3v1.3h-1.3zM172.1 309.6h1.3v1.3h-1.3z" fill="#64c4bc"/>
<path d="M193.1 287.7H209.8V302.3H193.1z" fill="#4ac2ec"/>
<path d="M192.7 287.1h1.3v1.3h-1.3zM193 302.3h1.3v1.3h-1.3zM192.8 301.1h1.3v1.3h-1.3zM193.6 303.8h1.3v1.3h-1.3zM193.1 302.6h1.3v1.3h-1.3zM193.6 287.3h1.3v1.3h-1.3zM193.6 287.6h1.3v1.3h-1.3zM193.8 301.2h1.3v1.3h-1.3zM194.1 284.8h1.3v1.3h-1.3zM194.2 302.3h1.3v1.3h-1.3zM194.5 302.8h1.3v1.3h-1.3zM194.5 286.5h1.3v1.3h-1.3zM194.7 285.6h1.3v1.3h-1.3zM194.8 301.9h1.3v1.3h-1.3zM194.7 303.3h1.3v1.3h-1.3zM195.3 285.8h1.3v1.3h-1.3zM195.6 284.6h1.3v1.3h-1.3zM195.3 301.8h1.3v1.3h-1.3zM196.3 284.8h1.3v1.3h-1.3zM195.8 286h1.3v1.3h-1.3zM196.2 301.2h1.3v1.3h-1.3zM196.8 286.2h1.3v1.3h-1.3zM196.3 285.2h1.3v1.3h-1.3zM196.5 301.5h1.3v1.3h-1.3zM196.9 301.1h1.3v1.3h-1.3zM197 285.2h1.3v1.3h-1.3zM197 301.3h1.3v1.3h-1.3zM197.8 287.3h1.3v1.3h-1.3zM198 287.6h1.3v1.3h-1.3zM197.7 284.6h1.3v1.3h-1.3zM198.2 286.1h1.3v1.3h-1.3zM198.1 287.1h1.3v1.3h-1.3zM198.2 286.5h1.3v1.3h-1.3zM198.6 287.3h1.3v1.3h-1.3zM198.6 301.1h1.3v1.3h-1.3zM199 302.8h1.3v1.3h-1.3zM199.4 304.3h1.3v1.3h-1.3zM199.4 302h1.3v1.3h-1.3zM199.2 286.8h1.3v1.3h-1.3zM199.9 301.3h1.3v1.3h-1.3zM200.1 301.2h1.3v1.3h-1.3zM200 301.9h1.3v1.3h-1.3zM200.2 301.9h1.3v1.3h-1.3zM200.2 286.3h1.3v1.3h-1.3zM200.2 286.1h1.3v1.3h-1.3zM200.7 286.5h1.3v1.3h-1.3zM201.2 285.7h1.3v1.3h-1.3zM201.2 301.1h1.3v1.3h-1.3zM201.7 287h1.3v1.3h-1.3zM201.6 301.5h1.3v1.3h-1.3zM201.6 303.7h1.3v1.3h-1.3zM202.1 284.6h1.3v1.3h-1.3zM201.8 302.2h1.3v1.3h-1.3zM202.3 304h1.3v1.3h-1.3zM202.8 302.9h1.3v1.3h-1.3zM202.6 285.5h1.3v1.3h-1.3zM202.5 301.1h1.3v1.3h-1.3zM203.2 285.6h1.3v1.3h-1.3zM203.3 285.4h1.3v1.3h-1.3zM203.2 303.3h1.3v1.3h-1.3zM204 285.4h1.3v1.3h-1.3zM203.5 303.5h1.3v1.3h-1.3zM203.8 286.3h1.3v1.3h-1.3zM204.1 301.1h1.3v1.3h-1.3zM204.4 301.5h1.3v1.3h-1.3zM204.6 302.4h1.3v1.3h-1.3zM204.7 301.6h1.3v1.3h-1.3zM204.6 284.6h1.3v1.3h-1.3zM204.8 286.3h1.3v1.3h-1.3zM205.6 286.9h1.3v1.3h-1.3zM205.3 303.2h1.3v1.3h-1.3zM205.2 286.6h1.3v1.3h-1.3zM205.7 301.4h1.3v1.3h-1.3zM205.9 287.4h1.3v1.3h-1.3zM205.7 301.1h1.3v1.3h-1.3zM206.3 284.8h1.3v1.3h-1.3zM206.5 287.5h1.3v1.3h-1.3zM206.7 301.8h1.3v1.3h-1.3zM207 303.7h1.3v1.3h-1.3zM207.1 301.2h1.3v1.3h-1.3zM207 287.1h1.3v1.3h-1.3zM207.6 303h1.3v1.3h-1.3zM207.4 301.3h1.3v1.3h-1.3zM207.3 301.1h1.3v1.3h-1.3zM207.9 284.5h1.3v1.3h-1.3zM208.3 301.9h1.3v1.3h-1.3zM207.9 286h1.3v1.3h-1.3zM208.5 287.3h1.3v1.3h-1.3zM208.6 301.2h1.3v1.3h-1.3zM208.5 303.8h1.3v1.3h-1.3zM202.9 280.7h1.3v1.3h-1.3zM202 284.2h1.3v1.3h-1.3zM202.9 277.4h1.3v1.3h-1.3zM205 305.7h1.3v1.3h-1.3zM204 281.3h1.3v1.3h-1.3zM192.9 283.5h1.3v1.3h-1.3zM196.3 318.7h1.3v1.3h-1.3z" fill="#4ac2ec"/>
<path d="M211.8 287.7H227.7V302.3H211.8z" fill="#3e8ed6"/>
<path d="M211.5 301.2h1.3v1.3h-1.3zM211.8 286.8h1.3v1.3h-1.3zM211.7 285.1h1.3v1.3h-1.3zM212 301.9h1.3v1.3h-1.3zM211.9 287.6h1.3v1.3h-1.3zM212.1 301.1h1.3v1.3h-1.3zM212.4 301.3h1.3v1.3h-1.3zM212.7 286.7h1.3v1.3h-1.3zM212.6 287.1h1.3v1.3h-1.3zM213.3 287.6h1.3v1.3h-1.3zM213.4 287.5h1.3v1.3h-1.3zM213.4 287.6h1.3v1.3h-1.3zM213.9 301.7h1.3v1.3h-1.3zM214 287.6h1.3v1.3h-1.3zM213.9 287.5h1.3v1.3h-1.3zM214.5 301.7h1.3v1.3h-1.3zM214.2 301.3h1.3v1.3h-1.3zM214 301.1h1.3v1.3h-1.3zM214.9 287.4h1.3v1.3h-1.3zM215.1 287.2h1.3v1.3h-1.3zM215.1 303h1.3v1.3h-1.3zM215.1 301.2h1.3v1.3h-1.3zM215.3 287.5h1.3v1.3h-1.3zM215.7 285.8h1.3v1.3h-1.3zM215.7 304.1h1.3v1.3h-1.3zM216.2 287.6h1.3v1.3h-1.3zM215.9 286.2h1.3v1.3h-1.3zM216.4 302h1.3v1.3h-1.3zM216.4 302h1.3v1.3h-1.3zM216.7 302.9h1.3v1.3h-1.3zM216.9 286.7h1.3v1.3h-1.3zM216.9 301.1h1.3v1.3h-1.3zM217.2 287.3h1.3v1.3h-1.3zM217.7 287.6h1.3v1.3h-1.3zM217.7 287.1h1.3v1.3h-1.3zM217.3 287.2h1.3v1.3h-1.3zM218.4 302h1.3v1.3h-1.3zM218.3 302.8h1.3v1.3h-1.3zM217.9 303.2h1.3v1.3h-1.3zM218.7 287.6h1.3v1.3h-1.3zM218.8 301.9h1.3v1.3h-1.3zM218.5 301.9h1.3v1.3h-1.3zM219.4 287.6h1.3v1.3h-1.3zM219.4 286.1h1.3v1.3h-1.3zM219.2 286.6h1.3v1.3h-1.3zM220 301.8h1.3v1.3h-1.3zM219.9 284.6h1.3v1.3h-1.3zM219.6 286.7h1.3v1.3h-1.3zM220.2 287.3h1.3v1.3h-1.3zM220.5 301.9h1.3v1.3h-1.3zM220.4 287.6h1.3v1.3h-1.3zM220.6 302.3h1.3v1.3h-1.3zM220.7 287.4h1.3v1.3h-1.3zM221 286.4h1.3v1.3h-1.3zM221.5 287.3h1.3v1.3h-1.3zM221.7 301.1h1.3v1.3h-1.3zM221.5 301.7h1.3v1.3h-1.3zM222 285.5h1.3v1.3h-1.3zM221.7 287.4h1.3v1.3h-1.3zM222.1 301.5h1.3v1.3h-1.3zM222.4 301.2h1.3v1.3h-1.3zM222.4 287.6h1.3v1.3h-1.3zM222.7 286.2h1.3v1.3h-1.3zM223.2 286.7h1.3v1.3h-1.3zM222.8 301.4h1.3v1.3h-1.3zM222.9 285.9h1.3v1.3h-1.3zM223.9 301.3h1.3v1.3h-1.3zM223.8 287.4h1.3v1.3h-1.3zM223.8 301.5h1.3v1.3h-1.3zM224.5 301.1h1.3v1.3h-1.3zM224.3 286.8h1.3v1.3h-1.3zM223.9 302h1.3v1.3h-1.3zM224.5 285.6h1.3v1.3h-1.3zM224.9 302.3h1.3v1.3h-1.3zM224.7 301.4h1.3v1.3h-1.3zM225.3 301.2h1.3v1.3h-1.3zM225 301.7h1.3v1.3h-1.3zM225.2 285h1.3v1.3h-1.3zM225.9 303.7h1.3v1.3h-1.3zM225.8 301.5h1.3v1.3h-1.3zM226 303.8h1.3v1.3h-1.3zM226.5 303.3h1.3v1.3h-1.3zM226.6 301.1h1.3v1.3h-1.3zM226.4 301.5h1.3v1.3h-1.3zM222.9 276.4h1.3v1.3h-1.3zM214.1 304.6h1.3v1.3h-1.3zM218.3 282.6h1.3v1.3h-1.3zM223.7 304.5h1.3v1.3h-1.3zM213.7 305.6h1.3v1.3h-1.3zM225 283.7h1.3v1.3h-1.3zM214.9 271.3h1.3v1.3h-1.3z" fill="#3e8ed6"/>
<path d="M229.1 287.7H244.2V302.3H229.1z" fill="#3a62c6"/>
<path d="M228.9 287.2h1.3v1.3h-1.3zM229 285.3h1.3v1.3h-1.3zM228.5 287h1.3v1.3h-1.3zM229.2 286.5h1.3v1.3h-1.3zM229.2 287.2h1.3v1.3h-1.3zM229.5 285.3h1.3v1.3h-1.3zM229.9 286.4h1.3v1.3h-1.3zM229.8 286.6h1.3v1.3h-1.3zM230 287.6h1.3v1.3h-1.3zM230.3 302h1.3v1.3h-1.3zM230.6 284.8h1.3v1.3h-1.3zM230.3 302.1h1.3v1.3h-1.3zM230.8 301.7h1.3v1.3h-1.3zM230.8 301.1h1.3v1.3h-1.3zM231.2 285h1.3v1.3h-1.3zM231.6 303.2h1.3v1.3h-1.3zM231.5 284.4h1.3v1.3h-1.3zM231.7 304.1h1.3v1.3h-1.3zM231.8 286.3h1.3v1.3h-1.3zM232.2 301.8h1.3v1.3h-1.3zM231.9 287.5h1.3v1.3h-1.3zM232.3 287.6h1.3v1.3h-1.3zM232.3 284.5h1.3v1.3h-1.3zM232.5 284.6h1.3v1.3h-1.3zM232.9 287.4h1.3v1.3h-1.3zM233.2 286.7h1.3v1.3h-1.3zM233.2 303.1h1.3v1.3h-1.3zM234 301.1h1.3v1.3h-1.3zM233.7 301.3h1.3v1.3h-1.3zM233.9 301.7h1.3v1.3h-1.3zM234 284.4h1.3v1.3h-1.3zM234 303.4h1.3v1.3h-1.3zM234.4 287.6h1.3v1.3h-1.3zM234.9 287.3h1.3v1.3h-1.3zM234.9 287.5h1.3v1.3h-1.3zM235.1 287.6h1.3v1.3h-1.3zM235.4 302.4h1.3v1.3h-1.3zM235.6 302.5h1.3v1.3h-1.3zM235.6 302.7h1.3v1.3h-1.3zM236.1 301.9h1.3v1.3h-1.3zM235.9 285.5h1.3v1.3h-1.3zM235.9 301.1h1.3v1.3h-1.3zM236.4 285h1.3v1.3h-1.3zM236.7 302.7h1.3v1.3h-1.3zM236.7 286.3h1.3v1.3h-1.3zM237.3 301.2h1.3v1.3h-1.3zM236.7 302.8h1.3v1.3h-1.3zM236.9 301.5h1.3v1.3h-1.3zM237.4 301.8h1.3v1.3h-1.3zM237.5 287.6h1.3v1.3h-1.3zM237.5 285.1h1.3v1.3h-1.3zM238.2 303h1.3v1.3h-1.3zM237.9 303.4h1.3v1.3h-1.3zM237.9 287.4h1.3v1.3h-1.3zM238.4 302.5h1.3v1.3h-1.3zM238.6 302.6h1.3v1.3h-1.3zM238.9 287.5h1.3v1.3h-1.3zM239 301.7h1.3v1.3h-1.3zM239.2 285.9h1.3v1.3h-1.3zM239.5 284.8h1.3v1.3h-1.3zM239.5 303.8h1.3v1.3h-1.3zM239.7 285.5h1.3v1.3h-1.3zM239.8 286.3h1.3v1.3h-1.3zM240.5 285.9h1.3v1.3h-1.3zM240.2 286h1.3v1.3h-1.3zM240 302.2h1.3v1.3h-1.3zM241.1 301.5h1.3v1.3h-1.3zM240.7 287.5h1.3v1.3h-1.3zM241 303.8h1.3v1.3h-1.3zM241.2 301.3h1.3v1.3h-1.3zM241.6 287.2h1.3v1.3h-1.3zM241.2 302.5h1.3v1.3h-1.3zM242 286.9h1.3v1.3h-1.3zM242.2 301.5h1.3v1.3h-1.3zM241.9 304.1h1.3v1.3h-1.3zM242.5 301.3h1.3v1.3h-1.3zM242.5 287.6h1.3v1.3h-1.3zM242.4 303.9h1.3v1.3h-1.3zM243.1 286.7h1.3v1.3h-1.3zM243.1 302.7h1.3v1.3h-1.3zM243.3 284.8h1.3v1.3h-1.3zM231.2 304.7h1.3v1.3h-1.3zM240.7 311.4h1.3v1.3h-1.3zM241 312.3h1.3v1.3h-1.3zM242.9 307.4h1.3v1.3h-1.3zM237.3 306.3h1.3v1.3h-1.3zM235.5 310.1h1.3v1.3h-1.3z" fill="#3a62c6"/>
<path d="M243.5 287.7H249.5V302.3H243.5zM250.5 287.7H258.4V302.3H250.5z" fill="#3456c0"/>
<path d="M243.3 286.1h1.3v1.3h-1.3zM243 303.6h1.3v1.3h-1.3zM242.9 286.9h1.3v1.3h-1.3zM243.7 286.4h1.3v1.3h-1.3zM243.9 287.6h1.3v1.3h-1.3zM243.8 301.3h1.3v1.3h-1.3zM244.3 284.4h1.3v1.3h-1.3zM244.4 287.1h1.3v1.3h-1.3zM244.5 303.8h1.3v1.3h-1.3zM244.7 287.3h1.3v1.3h-1.3zM244.5 301.5h1.3v1.3h-1.3zM244.7 303.6h1.3v1.3h-1.3zM245.6 284.4h1.3v1.3h-1.3zM245.1 287.3h1.3v1.3h-1.3zM245.5 286.3h1.3v1.3h-1.3zM245.9 287.1h1.3v1.3h-1.3zM245.7 285.1h1.3v1.3h-1.3zM246.1 301.2h1.3v1.3h-1.3zM246.4 303.2h1.3v1.3h-1.3zM246.6 303.3h1.3v1.3h-1.3zM246.5 284.4h1.3v1.3h-1.3zM247.2 285.7h1.3v1.3h-1.3zM247 287.1h1.3v1.3h-1.3zM247.1 302.9h1.3v1.3h-1.3zM247.8 285.1h1.3v1.3h-1.3zM247.6 301.9h1.3v1.3h-1.3zM247.4 301.6h1.3v1.3h-1.3zM248.4 302.4h1.3v1.3h-1.3zM248 301.1h1.3v1.3h-1.3zM248.3 286.2h1.3v1.3h-1.3zM245.1 281.3h1.3v1.3h-1.3zM245.9 309.4h1.3v1.3h-1.3zM249.9 284.4h1.3v1.3h-1.3zM250.1 301.1h1.3v1.3h-1.3zM250 287.1h1.3v1.3h-1.3zM250.5 287h1.3v1.3h-1.3zM250.5 303.4h1.3v1.3h-1.3zM250.6 285.7h1.3v1.3h-1.3zM251 301.9h1.3v1.3h-1.3zM251.1 301.2h1.3v1.3h-1.3zM251.5 304.3h1.3v1.3h-1.3zM251.7 303.6h1.3v1.3h-1.3zM251.9 304.2h1.3v1.3h-1.3zM251.5 286.2h1.3v1.3h-1.3zM252.4 284.4h1.3v1.3h-1.3zM252.5 302.9h1.3v1.3h-1.3zM252.1 302.2h1.3v1.3h-1.3zM252.8 303.1h1.3v1.3h-1.3zM253 301.3h1.3v1.3h-1.3zM252.7 302.2h1.3v1.3h-1.3zM253.6 301.1h1.3v1.3h-1.3zM253.5 303.1h1.3v1.3h-1.3zM253.6 284.4h1.3v1.3h-1.3zM253.7 301.1h1.3v1.3h-1.3zM253.8 302.5h1.3v1.3h-1.3zM254 285.5h1.3v1.3h-1.3zM254.6 304.3h1.3v1.3h-1.3zM254.4 301.5h1.3v1.3h-1.3zM254.4 301.7h1.3v1.3h-1.3zM255.1 287h1.3v1.3h-1.3zM255.3 301.7h1.3v1.3h-1.3zM255.3 284.4h1.3v1.3h-1.3zM255.9 304h1.3v1.3h-1.3zM255.8 284.8h1.3v1.3h-1.3zM255.4 286.5h1.3v1.3h-1.3zM256.3 284.4h1.3v1.3h-1.3zM256.4 287.2h1.3v1.3h-1.3zM256 301.3h1.3v1.3h-1.3zM256.5 302.6h1.3v1.3h-1.3zM257 303.9h1.3v1.3h-1.3zM257 285.9h1.3v1.3h-1.3zM257.2 301.1h1.3v1.3h-1.3zM257 285.5h1.3v1.3h-1.3zM257 285.5h1.3v1.3h-1.3zM254.4 284.2h1.3v1.3h-1.3zM254.6 284.2h1.3v1.3h-1.3z" fill="#3456c0"/>
<path d="M257.6 287.7H271.9V302.3H257.6z" fill="#3c50b8"/>
<path d="M257.1 303.5h1.3v1.3h-1.3zM257.6 303.6h1.3v1.3h-1.3zM257.5 287.1h1.3v1.3h-1.3zM257.6 287.6h1.3v1.3h-1.3zM257.7 301.8h1.3v1.3h-1.3zM258 301.2h1.3v1.3h-1.3zM258.6 285.9h1.3v1.3h-1.3zM258.2 304.3h1.3v1.3h-1.3zM258.5 285.6h1.3v1.3h-1.3zM258.9 286.3h1.3v1.3h-1.3zM258.9 304.2h1.3v1.3h-1.3zM258.8 286.1h1.3v1.3h-1.3zM259.7 304.1h1.3v1.3h-1.3zM259.4 284.6h1.3v1.3h-1.3zM259.6 302h1.3v1.3h-1.3zM260 301.1h1.3v1.3h-1.3zM260.4 301.3h1.3v1.3h-1.3zM260.1 303h1.3v1.3h-1.3zM260.4 286.8h1.3v1.3h-1.3zM260.8 286h1.3v1.3h-1.3zM260.8 287.6h1.3v1.3h-1.3zM261.4 301.1h1.3v1.3h-1.3zM261.4 285.8h1.3v1.3h-1.3zM261.3 301.4h1.3v1.3h-1.3zM261.8 287.6h1.3v1.3h-1.3zM261.7 302.7h1.3v1.3h-1.3zM261.6 285.4h1.3v1.3h-1.3zM262.3 302.8h1.3v1.3h-1.3zM262.5 303.9h1.3v1.3h-1.3zM262.4 286.1h1.3v1.3h-1.3zM262.8 287.2h1.3v1.3h-1.3zM262.8 301.1h1.3v1.3h-1.3zM263 302.5h1.3v1.3h-1.3zM263.4 304.1h1.3v1.3h-1.3zM263.2 301.8h1.3v1.3h-1.3zM263.2 303.7h1.3v1.3h-1.3zM263.7 287.6h1.3v1.3h-1.3zM264.1 301.5h1.3v1.3h-1.3zM263.9 287.6h1.3v1.3h-1.3zM264.7 284.9h1.3v1.3h-1.3zM264.3 285.3h1.3v1.3h-1.3zM264.4 287.5h1.3v1.3h-1.3zM265.1 302.3h1.3v1.3h-1.3zM265.3 301.1h1.3v1.3h-1.3zM265 302.3h1.3v1.3h-1.3zM265.4 302.3h1.3v1.3h-1.3zM265.4 286.7h1.3v1.3h-1.3zM265.8 302.2h1.3v1.3h-1.3zM266.1 285.1h1.3v1.3h-1.3zM266.2 286.6h1.3v1.3h-1.3zM266.1 286.7h1.3v1.3h-1.3zM266.5 286.1h1.3v1.3h-1.3zM266.5 287.6h1.3v1.3h-1.3zM266.6 301.1h1.3v1.3h-1.3zM267 301.1h1.3v1.3h-1.3zM267.2 286.6h1.3v1.3h-1.3zM267.3 285.7h1.3v1.3h-1.3zM267.9 301.2h1.3v1.3h-1.3zM267.9 286.4h1.3v1.3h-1.3zM268.1 285.4h1.3v1.3h-1.3zM268.3 302.9h1.3v1.3h-1.3zM268.6 302.7h1.3v1.3h-1.3zM268.1 302.1h1.3v1.3h-1.3zM268.8 303.1h1.3v1.3h-1.3zM268.7 303h1.3v1.3h-1.3zM268.6 301.4h1.3v1.3h-1.3zM269.6 303.4h1.3v1.3h-1.3zM269.6 303.2h1.3v1.3h-1.3zM269.4 285h1.3v1.3h-1.3zM269.8 303.7h1.3v1.3h-1.3zM270.3 301.1h1.3v1.3h-1.3zM270.2 303.4h1.3v1.3h-1.3zM270.7 287.6h1.3v1.3h-1.3zM270.5 287.6h1.3v1.3h-1.3zM270.3 301.1h1.3v1.3h-1.3zM259.4 309.1h1.3v1.3h-1.3zM265.2 284.1h1.3v1.3h-1.3zM262.6 306h1.3v1.3h-1.3zM268.5 308.3h1.3v1.3h-1.3zM261.9 283.8h1.3v1.3h-1.3zM269.6 312h1.3v1.3h-1.3z" fill="#3c50b8"/>
<path d="M271.1 287.7H284.1V302.3H271.1z" fill="#564cb8"/>
<path d="M271 286.8h1.3v1.3h-1.3zM270.7 284.7h1.3v1.3h-1.3zM270.6 287.2h1.3v1.3h-1.3zM271.2 301.3h1.3v1.3h-1.3zM271.5 287.4h1.3v1.3h-1.3zM271.4 303.8h1.3v1.3h-1.3zM271.9 301.3h1.3v1.3h-1.3zM271.7 302.7h1.3v1.3h-1.3zM271.8 302.4h1.3v1.3h-1.3zM272.7 302.7h1.3v1.3h-1.3zM272.4 287.5h1.3v1.3h-1.3zM272.4 301.4h1.3v1.3h-1.3zM272.9 302.1h1.3v1.3h-1.3zM273.3 303.2h1.3v1.3h-1.3zM273.1 301.4h1.3v1.3h-1.3zM273.6 287.4h1.3v1.3h-1.3zM273.4 287.6h1.3v1.3h-1.3zM273.6 301.3h1.3v1.3h-1.3zM274.4 287.4h1.3v1.3h-1.3zM274.1 301.2h1.3v1.3h-1.3zM274.3 284.5h1.3v1.3h-1.3zM274.7 287.3h1.3v1.3h-1.3zM274.9 287.6h1.3v1.3h-1.3zM274.4 303h1.3v1.3h-1.3zM275 302.1h1.3v1.3h-1.3zM275.2 303.9h1.3v1.3h-1.3zM275.5 303.4h1.3v1.3h-1.3zM275.8 301.4h1.3v1.3h-1.3zM276 301.1h1.3v1.3h-1.3zM275.9 287.1h1.3v1.3h-1.3zM276.1 301.1h1.3v1.3h-1.3zM276.2 303.1h1.3v1.3h-1.3zM276.1 303.9h1.3v1.3h-1.3zM277.2 301.8h1.3v1.3h-1.3zM277 287.6h1.3v1.3h-1.3zM276.9 303.4h1.3v1.3h-1.3zM277.6 287.5h1.3v1.3h-1.3zM277.2 301.3h1.3v1.3h-1.3zM277.6 302.2h1.3v1.3h-1.3zM277.8 287.3h1.3v1.3h-1.3zM278.2 303.8h1.3v1.3h-1.3zM277.9 287.4h1.3v1.3h-1.3zM278.4 301.4h1.3v1.3h-1.3zM278.4 303.5h1.3v1.3h-1.3zM278.6 302.2h1.3v1.3h-1.3zM278.9 301.1h1.3v1.3h-1.3zM279.2 285.4h1.3v1.3h-1.3zM279 301.1h1.3v1.3h-1.3zM279.5 286.5h1.3v1.3h-1.3zM279.9 301.6h1.3v1.3h-1.3zM279.8 286.3h1.3v1.3h-1.3zM280 304h1.3v1.3h-1.3zM280.4 304.3h1.3v1.3h-1.3zM280 301.2h1.3v1.3h-1.3zM281 287.6h1.3v1.3h-1.3zM281 301.1h1.3v1.3h-1.3zM280.5 302.3h1.3v1.3h-1.3zM281.5 287.3h1.3v1.3h-1.3zM281.3 284.9h1.3v1.3h-1.3zM281.6 303.5h1.3v1.3h-1.3zM281.6 302.2h1.3v1.3h-1.3zM281.8 302.8h1.3v1.3h-1.3zM281.8 302.6h1.3v1.3h-1.3zM282.4 284.4h1.3v1.3h-1.3zM282.6 301.7h1.3v1.3h-1.3zM282.7 284.7h1.3v1.3h-1.3zM282.7 302.9h1.3v1.3h-1.3zM283 302.8h1.3v1.3h-1.3zM283.2 285.8h1.3v1.3h-1.3zM274.6 312h1.3v1.3h-1.3zM281.1 282.1h1.3v1.3h-1.3zM273.3 283.7h1.3v1.3h-1.3zM272.1 278.4h1.3v1.3h-1.3z" fill="#564cb8"/>
<path d="M283.3 287.7H294.7V302.3H283.3z" fill="#7c4eb8"/>
<path d="M282.9 287.4h1.3v1.3h-1.3zM283.3 284.5h1.3v1.3h-1.3zM283 287.2h1.3v1.3h-1.3zM283.8 301.9h1.3v1.3h-1.3zM283.8 284.7h1.3v1.3h-1.3zM283.7 284.4h1.3v1.3h-1.3zM284.1 304.1h1.3v1.3h-1.3zM284.4 303.9h1.3v1.3h-1.3zM283.9 304h1.3v1.3h-1.3zM284.6 285.9h1.3v1.3h-1.3zM284.8 301.7h1.3v1.3h-1.3zM284.6 301.6h1.3v1.3h-1.3zM285.3 301.7h1.3v1.3h-1.3zM285.5 302.7h1.3v1.3h-1.3zM285 286.2h1.3v1.3h-1.3zM285.9 287.1h1.3v1.3h-1.3zM285.8 301.3h1.3v1.3h-1.3zM285.5 301.1h1.3v1.3h-1.3zM286.4 285h1.3v1.3h-1.3zM286.6 286.3h1.3v1.3h-1.3zM286.5 301.2h1.3v1.3h-1.3zM286.7 301.7h1.3v1.3h-1.3zM287.1 304h1.3v1.3h-1.3zM286.9 304.1h1.3v1.3h-1.3zM287.4 287.5h1.3v1.3h-1.3zM287.5 301.1h1.3v1.3h-1.3zM287.7 286.6h1.3v1.3h-1.3zM288.3 287h1.3v1.3h-1.3zM288.2 304.3h1.3v1.3h-1.3zM288.2 284.5h1.3v1.3h-1.3zM288.4 284.4h1.3v1.3h-1.3zM288.7 302.4h1.3v1.3h-1.3zM288.4 287.6h1.3v1.3h-1.3zM289.3 287.6h1.3v1.3h-1.3zM289.1 285.5h1.3v1.3h-1.3zM289 303.7h1.3v1.3h-1.3zM289.6 301.8h1.3v1.3h-1.3zM289.6 303.5h1.3v1.3h-1.3zM289.8 287h1.3v1.3h-1.3zM290 301.7h1.3v1.3h-1.3zM290.4 301.2h1.3v1.3h-1.3zM290.3 302.8h1.3v1.3h-1.3zM290.8 302.5h1.3v1.3h-1.3zM290.6 286.6h1.3v1.3h-1.3zM290.5 303.4h1.3v1.3h-1.3zM291.3 285.9h1.3v1.3h-1.3zM291.5 287.6h1.3v1.3h-1.3zM291.2 302.7h1.3v1.3h-1.3zM291.7 287.4h1.3v1.3h-1.3zM292 303.1h1.3v1.3h-1.3zM292.1 302.6h1.3v1.3h-1.3zM292.2 286h1.3v1.3h-1.3zM292.6 286.8h1.3v1.3h-1.3zM292.6 301.6h1.3v1.3h-1.3zM293.1 287.6h1.3v1.3h-1.3zM292.8 286.9h1.3v1.3h-1.3zM292.7 303h1.3v1.3h-1.3zM293.7 287.5h1.3v1.3h-1.3zM293.7 286.3h1.3v1.3h-1.3zM293.2 302.6h1.3v1.3h-1.3zM287.1 282.2h1.3v1.3h-1.3zM287.1 304.6h1.3v1.3h-1.3zM292.7 304.6h1.3v1.3h-1.3zM283.7 284.2h1.3v1.3h-1.3z" fill="#7c4eb8"/>
<path d="M293.9 287.7H305V302.3H293.9z" fill="#9c4eb4"/>
<path d="M293.4 286.8h1.3v1.3h-1.3zM293.4 287.5h1.3v1.3h-1.3zM293.9 286.4h1.3v1.3h-1.3zM294.3 302.5h1.3v1.3h-1.3zM293.9 287.1h1.3v1.3h-1.3zM294.1 286.7h1.3v1.3h-1.3zM294.7 286.9h1.3v1.3h-1.3zM294.6 287.6h1.3v1.3h-1.3zM294.8 301.1h1.3v1.3h-1.3zM295.4 303.7h1.3v1.3h-1.3zM295.1 304.1h1.3v1.3h-1.3zM295.2 302h1.3v1.3h-1.3zM296.1 285.2h1.3v1.3h-1.3zM296 303.3h1.3v1.3h-1.3zM295.9 285.6h1.3v1.3h-1.3zM296.4 301.2h1.3v1.3h-1.3zM296.4 301.4h1.3v1.3h-1.3zM296.6 301.6h1.3v1.3h-1.3zM297 287.5h1.3v1.3h-1.3zM297.2 286.9h1.3v1.3h-1.3zM296.7 286.1h1.3v1.3h-1.3zM297.4 286.5h1.3v1.3h-1.3zM297.6 301.8h1.3v1.3h-1.3zM297.4 284.6h1.3v1.3h-1.3zM298.3 287.1h1.3v1.3h-1.3zM297.8 302.8h1.3v1.3h-1.3zM298.2 303.1h1.3v1.3h-1.3zM298.4 303.4h1.3v1.3h-1.3zM298.7 302.6h1.3v1.3h-1.3zM298.6 302h1.3v1.3h-1.3zM299 287.3h1.3v1.3h-1.3zM299.2 285.1h1.3v1.3h-1.3zM298.9 301.1h1.3v1.3h-1.3zM299.8 286h1.3v1.3h-1.3zM299.6 285.6h1.3v1.3h-1.3zM299.5 284.5h1.3v1.3h-1.3zM300.5 284.8h1.3v1.3h-1.3zM300.5 287.2h1.3v1.3h-1.3zM300 285.8h1.3v1.3h-1.3zM300.7 284.8h1.3v1.3h-1.3zM301.1 287.3h1.3v1.3h-1.3zM300.6 287.1h1.3v1.3h-1.3zM301.1 303.7h1.3v1.3h-1.3zM301.5 285.9h1.3v1.3h-1.3zM301.2 301.3h1.3v1.3h-1.3zM302 286.1h1.3v1.3h-1.3zM302.1 301.1h1.3v1.3h-1.3zM302 287.5h1.3v1.3h-1.3zM302.2 303.4h1.3v1.3h-1.3zM302.2 284.6h1.3v1.3h-1.3zM302.2 285.5h1.3v1.3h-1.3zM302.8 285.4h1.3v1.3h-1.3zM303 286h1.3v1.3h-1.3zM302.8 301.2h1.3v1.3h-1.3zM303.4 286.6h1.3v1.3h-1.3zM303.6 285.2h1.3v1.3h-1.3zM303.7 301.2h1.3v1.3h-1.3zM295.4 310.2h1.3v1.3h-1.3zM303.8 308.3h1.3v1.3h-1.3zM296.6 313h1.3v1.3h-1.3zM303.6 283.4h1.3v1.3h-1.3z" fill="#9c4eb4"/>
<path d="M305.2 287.7H311.8V302.3H305.2z" fill="#b84cae"/>
<path d="M304.7 286.6h1.3v1.3h-1.3zM305 303.8h1.3v1.3h-1.3zM305.2 301.4h1.3v1.3h-1.3zM305.6 286.4h1.3v1.3h-1.3zM305.6 287.4h1.3v1.3h-1.3zM305.5 304.1h1.3v1.3h-1.3zM306.3 302.5h1.3v1.3h-1.3zM306.2 303h1.3v1.3h-1.3zM305.9 302.9h1.3v1.3h-1.3zM306.4 287.2h1.3v1.3h-1.3zM306.5 286.7h1.3v1.3h-1.3zM306.4 284.9h1.3v1.3h-1.3zM307.4 301.1h1.3v1.3h-1.3zM307.4 285.8h1.3v1.3h-1.3zM307.1 301.7h1.3v1.3h-1.3zM307.7 303.1h1.3v1.3h-1.3zM307.6 287.4h1.3v1.3h-1.3zM307.5 301.9h1.3v1.3h-1.3zM308.3 302.7h1.3v1.3h-1.3zM308.4 302.2h1.3v1.3h-1.3zM308.4 287.4h1.3v1.3h-1.3zM308.7 301.1h1.3v1.3h-1.3zM308.9 304h1.3v1.3h-1.3zM309.1 302.8h1.3v1.3h-1.3zM309.2 286.5h1.3v1.3h-1.3zM309.4 285.2h1.3v1.3h-1.3zM309.5 286.4h1.3v1.3h-1.3zM310 304.3h1.3v1.3h-1.3zM309.6 287.5h1.3v1.3h-1.3zM309.7 286.4h1.3v1.3h-1.3zM310.4 302.7h1.3v1.3h-1.3zM310.3 286.8h1.3v1.3h-1.3zM310.5 303.6h1.3v1.3h-1.3zM308.6 282.4h1.3v1.3h-1.3zM308.2 275.5h1.3v1.3h-1.3z" fill="#b84cae"/>
<path d="M313.6 287.7H320.9V302.3H313.6z" fill="#e8348e"/>
<path d="M313.5 302.7h1.3v1.3h-1.3zM313.3 301.4h1.3v1.3h-1.3zM313.6 302.5h1.3v1.3h-1.3zM314.1 287.6h1.3v1.3h-1.3zM313.6 303.8h1.3v1.3h-1.3zM314 285.1h1.3v1.3h-1.3zM314.4 304h1.3v1.3h-1.3zM314.7 287h1.3v1.3h-1.3zM314.4 301.5h1.3v1.3h-1.3zM315 287.5h1.3v1.3h-1.3zM314.8 284.8h1.3v1.3h-1.3zM314.7 301.1h1.3v1.3h-1.3zM315.7 285.7h1.3v1.3h-1.3zM315.4 287.1h1.3v1.3h-1.3zM315.7 303.8h1.3v1.3h-1.3zM316 303.3h1.3v1.3h-1.3zM315.9 302h1.3v1.3h-1.3zM315.9 286.6h1.3v1.3h-1.3zM316.6 286.3h1.3v1.3h-1.3zM316.4 301.5h1.3v1.3h-1.3zM316.5 287.6h1.3v1.3h-1.3zM317.1 302.8h1.3v1.3h-1.3zM317.1 303.1h1.3v1.3h-1.3zM317.2 287.6h1.3v1.3h-1.3zM317.5 287.5h1.3v1.3h-1.3zM317.8 301.4h1.3v1.3h-1.3zM317.7 286.9h1.3v1.3h-1.3zM318 286.1h1.3v1.3h-1.3zM318.2 301.3h1.3v1.3h-1.3zM318.2 301.6h1.3v1.3h-1.3zM318.6 303.5h1.3v1.3h-1.3zM318.8 303.9h1.3v1.3h-1.3zM319.1 287.2h1.3v1.3h-1.3zM319.4 302.9h1.3v1.3h-1.3zM319.7 303h1.3v1.3h-1.3zM319.7 304.1h1.3v1.3h-1.3zM316.2 307.8h1.3v1.3h-1.3zM317.5 284.2h1.3v1.3h-1.3z" fill="#e8348e"/>
<path d="M320.1 287.7H346.2V302.3H320.1z" fill="#ef2040"/>
<path d="M319.8 285.9h1.3v1.3h-1.3zM319.9 284.7h1.3v1.3h-1.3zM319.9 304.3h1.3v1.3h-1.3zM320.3 301.3h1.3v1.3h-1.3zM320.2 301.4h1.3v1.3h-1.3zM320.6 303.4h1.3v1.3h-1.3zM321 286.1h1.3v1.3h-1.3zM320.8 301.1h1.3v1.3h-1.3zM320.7 285.1h1.3v1.3h-1.3zM321.5 287.5h1.3v1.3h-1.3zM321.3 301.1h1.3v1.3h-1.3zM321.7 303.3h1.3v1.3h-1.3zM321.8 301.2h1.3v1.3h-1.3zM322.2 286.4h1.3v1.3h-1.3zM322 301.4h1.3v1.3h-1.3zM322.7 287h1.3v1.3h-1.3zM322.5 301.5h1.3v1.3h-1.3zM322.4 301.2h1.3v1.3h-1.3zM323.3 287.5h1.3v1.3h-1.3zM322.9 303.6h1.3v1.3h-1.3zM323.4 287.6h1.3v1.3h-1.3zM323.8 287.1h1.3v1.3h-1.3zM323.9 301.6h1.3v1.3h-1.3zM323.5 301.2h1.3v1.3h-1.3zM324.1 286.2h1.3v1.3h-1.3zM324.1 301.8h1.3v1.3h-1.3zM324.2 301.1h1.3v1.3h-1.3zM324.7 302.4h1.3v1.3h-1.3zM324.7 286.7h1.3v1.3h-1.3zM324.8 303.8h1.3v1.3h-1.3zM325.1 286.9h1.3v1.3h-1.3zM325.4 287.3h1.3v1.3h-1.3zM325.6 287.6h1.3v1.3h-1.3zM325.9 286.3h1.3v1.3h-1.3zM326.1 287.5h1.3v1.3h-1.3zM326.1 285.8h1.3v1.3h-1.3zM326.5 301.6h1.3v1.3h-1.3zM326.3 286.4h1.3v1.3h-1.3zM326.2 285.5h1.3v1.3h-1.3zM326.7 285.8h1.3v1.3h-1.3zM326.9 284.5h1.3v1.3h-1.3zM326.7 303.7h1.3v1.3h-1.3zM327.5 301.3h1.3v1.3h-1.3zM327.6 286.3h1.3v1.3h-1.3zM327.6 301.7h1.3v1.3h-1.3zM328.2 286.4h1.3v1.3h-1.3zM328.4 301.5h1.3v1.3h-1.3zM328.4 287h1.3v1.3h-1.3zM328.7 284.5h1.3v1.3h-1.3zM328.9 304h1.3v1.3h-1.3zM328.7 301.3h1.3v1.3h-1.3zM329 302.8h1.3v1.3h-1.3zM328.9 301.6h1.3v1.3h-1.3zM329.3 287.5h1.3v1.3h-1.3zM329.8 303.9h1.3v1.3h-1.3zM329.5 302.9h1.3v1.3h-1.3zM329.6 302.5h1.3v1.3h-1.3zM330.5 287.4h1.3v1.3h-1.3zM330.6 285.8h1.3v1.3h-1.3zM330.2 286.3h1.3v1.3h-1.3zM331 304.3h1.3v1.3h-1.3zM330.8 301.2h1.3v1.3h-1.3zM330.8 287.5h1.3v1.3h-1.3zM331.5 303.8h1.3v1.3h-1.3zM331.4 285.3h1.3v1.3h-1.3zM331.5 286.6h1.3v1.3h-1.3zM332.1 287.6h1.3v1.3h-1.3zM332.2 286.7h1.3v1.3h-1.3zM332.2 301.8h1.3v1.3h-1.3zM332.6 303.5h1.3v1.3h-1.3zM332.5 303.5h1.3v1.3h-1.3zM332.8 303h1.3v1.3h-1.3zM333.2 285.7h1.3v1.3h-1.3zM333 301.1h1.3v1.3h-1.3zM333.3 301.4h1.3v1.3h-1.3zM333.7 287.6h1.3v1.3h-1.3zM333.8 304.3h1.3v1.3h-1.3zM333.6 285.8h1.3v1.3h-1.3zM334 303.5h1.3v1.3h-1.3zM334.3 287.1h1.3v1.3h-1.3zM334.4 301.2h1.3v1.3h-1.3zM334.8 287.1h1.3v1.3h-1.3zM334.5 301.1h1.3v1.3h-1.3zM334.4 304.3h1.3v1.3h-1.3zM335.4 284.5h1.3v1.3h-1.3zM335.4 286.1h1.3v1.3h-1.3zM335.1 286.6h1.3v1.3h-1.3zM335.6 301.3h1.3v1.3h-1.3zM335.7 302.5h1.3v1.3h-1.3zM335.7 301.7h1.3v1.3h-1.3zM336.5 301.8h1.3v1.3h-1.3zM336.4 301.6h1.3v1.3h-1.3zM336.5 302.4h1.3v1.3h-1.3zM336.7 303.7h1.3v1.3h-1.3zM336.8 301.2h1.3v1.3h-1.3zM336.9 287h1.3v1.3h-1.3zM337.2 287.3h1.3v1.3h-1.3zM337.6 286.8h1.3v1.3h-1.3zM337.2 286.4h1.3v1.3h-1.3zM337.7 303.7h1.3v1.3h-1.3zM337.7 287.6h1.3v1.3h-1.3zM337.7 284.6h1.3v1.3h-1.3zM338.8 285.9h1.3v1.3h-1.3zM338.8 301.9h1.3v1.3h-1.3zM338.4 286.8h1.3v1.3h-1.3zM339.2 284.5h1.3v1.3h-1.3zM339.3 284.9h1.3v1.3h-1.3zM339 301.2h1.3v1.3h-1.3zM339.7 301.9h1.3v1.3h-1.3zM339.4 303.6h1.3v1.3h-1.3zM339.6 287.6h1.3v1.3h-1.3zM340 286.2h1.3v1.3h-1.3zM339.9 284.6h1.3v1.3h-1.3zM340.4 301.9h1.3v1.3h-1.3zM340.8 301.1h1.3v1.3h-1.3zM340.5 302.4h1.3v1.3h-1.3zM340.5 302.8h1.3v1.3h-1.3zM341 287.4h1.3v1.3h-1.3zM341.1 285.1h1.3v1.3h-1.3zM341.4 302.4h1.3v1.3h-1.3zM341.7 285h1.3v1.3h-1.3zM341.9 302.8h1.3v1.3h-1.3zM342.1 301.3h1.3v1.3h-1.3zM342.2 287.5h1.3v1.3h-1.3zM342.5 284.9h1.3v1.3h-1.3zM342.5 284.7h1.3v1.3h-1.3zM342.7 284.5h1.3v1.3h-1.3zM342.9 304h1.3v1.3h-1.3zM342.8 301.1h1.3v1.3h-1.3zM343.6 302.7h1.3v1.3h-1.3zM343.3 302.5h1.3v1.3h-1.3zM343.4 303.8h1.3v1.3h-1.3zM344.2 284.4h1.3v1.3h-1.3zM344.3 301.7h1.3v1.3h-1.3zM344.2 287.6h1.3v1.3h-1.3zM344.3 284.4h1.3v1.3h-1.3zM344.7 302.3h1.3v1.3h-1.3zM344.8 287.3h1.3v1.3h-1.3zM340.1 276.1h1.3v1.3h-1.3zM321.3 309.5h1.3v1.3h-1.3zM344.3 305.5h1.3v1.3h-1.3zM339.8 304.6h1.3v1.3h-1.3zM324.2 283.5h1.3v1.3h-1.3zM323.3 281.4h1.3v1.3h-1.3zM322.7 277.6h1.3v1.3h-1.3zM340.3 307h1.3v1.3h-1.3zM342.8 309h1.3v1.3h-1.3zM339 309.1h1.3v1.3h-1.3zM339.6 311.3h1.3v1.3h-1.3zM332.7 274.1h1.3v1.3h-1.3z" fill="#ef2040"/>
<path d="M345.4 287.7H350.4V302.3H345.4z" fill="#f2302c"/>
<path d="M344.9 287.5h1.3v1.3h-1.3zM345 287.3h1.3v1.3h-1.3zM345 286.6h1.3v1.3h-1.3zM345.5 301.5h1.3v1.3h-1.3zM345.8 302.8h1.3v1.3h-1.3zM345.9 302.1h1.3v1.3h-1.3zM346.2 303h1.3v1.3h-1.3zM346.2 286.6h1.3v1.3h-1.3zM346 286.5h1.3v1.3h-1.3zM346.6 287.6h1.3v1.3h-1.3zM346.6 286.6h1.3v1.3h-1.3zM346.7 301.5h1.3v1.3h-1.3zM347.3 285.5h1.3v1.3h-1.3zM347.5 286.2h1.3v1.3h-1.3zM347.3 287.1h1.3v1.3h-1.3zM348.2 287.4h1.3v1.3h-1.3zM347.8 301.6h1.3v1.3h-1.3zM347.8 284.4h1.3v1.3h-1.3zM348.2 302.8h1.3v1.3h-1.3zM348.2 286.9h1.3v1.3h-1.3zM348.4 304.2h1.3v1.3h-1.3zM348.7 287.5h1.3v1.3h-1.3zM348.8 303.3h1.3v1.3h-1.3zM349.2 301.1h1.3v1.3h-1.3zM346.1 279h1.3v1.3h-1.3z" fill="#f2302c"/>
<path d="M24 295.2H355" stroke="#777" stroke-opacity="0.22" stroke-width="1" fill="none"/>
<text x="22.6" y="279.4" text-anchor="end" font-size="5" font-weight="bold" fill="#2e2e40">0.50</text>
<text x="22.6" y="288.4" text-anchor="end" font-size="5" font-weight="bold" fill="#2e2e40">0.25</text>
<text x="22.6" y="297.3" text-anchor="end" font-size="5" font-weight="bold" fill="#2e2e40">0.00</text>
<text x="22.6" y="306.2" text-anchor="end" font-size="5" font-weight="bold" fill="#2e2e40">-0.25</text>
<text x="22.6" y="315.2" text-anchor="end" font-size="5" font-weight="bold" fill="#2e2e40">-0.50</text>
<text x="22.6" y="324.2" text-anchor="end" font-size="5" font-weight="bold" fill="#2e2e40">-0.75</text>
<text x="22.6" y="333.1" text-anchor="end" font-size="5" font-weight="bold" fill="#2e2e40">-1.00</text>
<text x="22.6" y="342.1" text-anchor="end" font-size="5" font-weight="bold" fill="#2e2e40">-1.25</text>
<text x="22.6" y="351" text-anchor="end" font-size="5" font-weight="bold" fill="#2e2e40">-1.50</text>
<path d="M212.2 50.1h1.3v1.3h-1.3zM211.6 50.3h1.3v1.3h-1.3zM211.6 54.4h1.3v1.3h-1.3zM211.7 44.2h1.3v1.3h-1.3zM211.6 57.2h1.3v1.3h-1.3zM212.2 57h1.3v1.3h-1.3zM212.2 51.3h1.3v1.3h-1.3zM225.6 77.8h1.3v1.3h-1.3zM225.9 83.7h1.3v1.3h-1.3zM225.8 77.7h1.3v1.3h-1.3zM225.8 78.1h1.3v1.3h-1.3zM226.2 86.5h1.3v1.3h-1.3zM226.1 77.1h1.3v1.3h-1.3zM225.6 75.5h1.3v1.3h-1.3zM225.7 86.3h1.3v1.3h-1.3zM226.1 80.1h1.3v1.3h-1.3zM211.8 147.2h1.3v1.3h-1.3zM211.9 152.5h1.3v1.3h-1.3zM212 152.2h1.3v1.3h-1.3zM211.8 225.3h1.3v1.3h-1.3zM211.8 228.2h1.3v1.3h-1.3zM211.8 230.9h1.3v1.3h-1.3zM211.8 233.8h1.3v1.3h-1.3zM211.8 236.5h1.3v1.3h-1.3zM225.8 225.3h1.3v1.3h-1.3zM225.8 228.8h1.3v1.3h-1.3zM225.8 232.2h1.3v1.3h-1.3zM225.8 235.5h1.3v1.3h-1.3zM225.8 238.9h1.3v1.3h-1.3zM225.8 242.3h1.3v1.3h-1.3zM225.8 245.8h1.3v1.3h-1.3zM225.8 249.2h1.3v1.3h-1.3zM225.8 252.5h1.3v1.3h-1.3z" fill="#3e8ed6"/>
<path d="M229.8 79.9h1.3v1.3h-1.3zM229.7 87.6h1.3v1.3h-1.3zM229.6 82.6h1.3v1.3h-1.3zM230 77.6h1.3v1.3h-1.3zM230.1 82.2h1.3v1.3h-1.3zM230.2 84.2h1.3v1.3h-1.3zM229.8 74.8h1.3v1.3h-1.3zM230.1 82.4h1.3v1.3h-1.3zM230.2 86.3h1.3v1.3h-1.3zM230.1 166.8h1.3v1.3h-1.3zM229.9 158.1h1.3v1.3h-1.3zM230.8 166.7h1.3v1.3h-1.3zM230.5 165.9h1.3v1.3h-1.3zM228.9 225.3h1.3v1.3h-1.3zM228.9 229.3h1.3v1.3h-1.3zM228.9 233.3h1.3v1.3h-1.3zM228.9 237.3h1.3v1.3h-1.3zM228.9 241.3h1.3v1.3h-1.3zM228 290.7h1.3v1.3h-1.3zM228.4 293.8h1.3v1.3h-1.3zM228.1 286.1h1.3v1.3h-1.3zM228.5 302.4h1.3v1.3h-1.3zM228.5 298.8h1.3v1.3h-1.3zM228 281.4h1.3v1.3h-1.3zM228.3 302.3h1.3v1.3h-1.3zM228.3 285.9h1.3v1.3h-1.3z" fill="#3a62c6"/>
<path d="M173.4 68.3h1.3v1.3h-1.3zM173.8 72.4h1.3v1.3h-1.3zM172.8 80.4h1.3v1.3h-1.3zM173.6 84.4h1.3v1.3h-1.3zM174.8 39.9h1.3v1.3h-1.3zM177.3 41.4h1.3v1.3h-1.3zM171.4 158.7h1.3v1.3h-1.3zM171 144.2h1.3v1.3h-1.3zM171.6 155.2h1.3v1.3h-1.3zM171.3 154.2h1.3v1.3h-1.3z" fill="#64c4bc"/>
<path d="M262.9 45.8h1.3v1.3h-1.3zM263.4 42.6h1.3v1.3h-1.3zM262.7 45.3h1.3v1.3h-1.3zM263 50.2h1.3v1.3h-1.3zM264.2 113.4h1.3v1.3h-1.3zM264.1 106.6h1.3v1.3h-1.3zM263.6 108.3h1.3v1.3h-1.3zM264.1 109.1h1.3v1.3h-1.3z" fill="#3c50b8"/>
<path d="M60.6 46.4h1.3v1.3h-1.3zM68 80.3h1.3v1.3h-1.3zM67.8 83.3h1.3v1.3h-1.3zM68.2 85.8h1.3v1.3h-1.3zM73.8 223.3h1.3v1.3h-1.3zM74.1 227.3h1.3v1.3h-1.3zM73.6 230.8h1.3v1.3h-1.3zM60.4 234.8h1.3v1.3h-1.3z" fill="#8fca3a"/>
<path d="M27.9 79.1h1.3v1.3h-1.3zM27.9 85.3h1.3v1.3h-1.3zM28.4 231.3h1.3v1.3h-1.3zM29.4 237.3h1.3v1.3h-1.3zM28.9 243.3h1.3v1.3h-1.3z" fill="#bad92a"/>
<path d="M100.8 78.1h1.3v1.3h-1.3zM82.8 316.8h1.3v1.3h-1.3zM82.8 325.7h1.3v1.3h-1.3zM82.8 330.9h1.3v1.3h-1.3zM82.8 334.4h1.3v1.3h-1.3z" fill="#74c240"/>
<path d="M105.9 146.5h1.3v1.3h-1.3zM106.3 147.7h1.3v1.3h-1.3zM106.5 144.5h1.3v1.3h-1.3zM106.7 150.4h1.3v1.3h-1.3zM106.4 144.2h1.3v1.3h-1.3zM107.5 240.2h1.3v1.3h-1.3zM108.8 186.8h1.3v1.3h-1.3zM109.1 189.3h1.3v1.3h-1.3zM104.6 313.7h1.3v1.3h-1.3zM104.8 316.2h1.3v1.3h-1.3zM104.9 313.1h1.3v1.3h-1.3zM105.5 317h1.3v1.3h-1.3z" fill="#66be44"/>
<path d="M311.5 150.6h1.3v1.3h-1.3zM311.2 143.6h1.3v1.3h-1.3zM311.6 144.9h1.3v1.3h-1.3zM311.5 145.2h1.3v1.3h-1.3z" fill="#b84cae"/>
<path d="M311.9 139.7h1.3v1.3h-1.3zM311.8 157.1h1.3v1.3h-1.3z" fill="#f2302c"/>
<path d="M296.4 112.8h1.3v1.3h-1.3zM296.3 112.4h1.3v1.3h-1.3z" fill="#9c4eb4"/>
<path d="M197.3 224.3h1.3v1.3h-1.3zM197.3 227.3h1.3v1.3h-1.3zM197.3 230.3h1.3v1.3h-1.3zM197.3 233.3h1.3v1.3h-1.3zM197.3 236.3h1.3v1.3h-1.3zM197.3 239.3h1.3v1.3h-1.3zM197.3 242.3h1.3v1.3h-1.3zM197.3 245.3h1.3v1.3h-1.3zM197.3 248.3h1.3v1.3h-1.3zM197.3 251.3h1.3v1.3h-1.3zM197.3 254.3h1.3v1.3h-1.3zM197.3 257.4h1.3v1.3h-1.3zM197.3 260.4h1.3v1.3h-1.3zM198.2 338.6h1.3v1.3h-1.3zM198.2 340.4h1.3v1.3h-1.3zM198.2 342.2h1.3v1.3h-1.3zM198.2 344h1.3v1.3h-1.3zM198.2 345.8h1.3v1.3h-1.3zM198.2 347.6h1.3v1.3h-1.3z" fill="#4ac2ec"/>
<path d="M354.1 51.5h1.1v1.1h-1.1zM354.1 55.5h1.1v1.1h-1.1zM354.1 59.5h1.1v1.1h-1.1zM354.1 63.5h1.1v1.1h-1.1zM354.1 66.5h1.1v1.1h-1.1zM354.1 70.5h1.1v1.1h-1.1zM354.1 125.5h1.1v1.1h-1.1zM354.1 128.4h1.1v1.1h-1.1zM354.1 131.4h1.1v1.1h-1.1zM354.1 135.4h1.1v1.1h-1.1zM354.1 139.4h1.1v1.1h-1.1zM354.1 206.4h1.1v1.1h-1.1zM354.1 208.9h1.1v1.1h-1.1zM354.1 211.4h1.1v1.1h-1.1zM354.1 213.9h1.1v1.1h-1.1zM354.1 215.9h1.1v1.1h-1.1zM354.1 286.4h1.1v1.1h-1.1zM354.1 289.4h1.1v1.1h-1.1zM354.1 292.4h1.1v1.1h-1.1zM354.1 295.4h1.1v1.1h-1.1zM354.1 298.4h1.1v1.1h-1.1z" fill="#e98a96"/>
<text x="38.3" y="358" text-anchor="middle" font-size="7" fill="#333">6</text>
<text x="65.2" y="358" text-anchor="middle" font-size="7" fill="#333">7</text>
<text x="90.8" y="358" text-anchor="middle" font-size="7" fill="#333">8</text>
<text x="113.4" y="358" text-anchor="middle" font-size="7" fill="#333">9</text>
<text x="136" y="358" text-anchor="middle" font-size="7" fill="#333">10</text>
<text x="158.5" y="358" text-anchor="middle" font-size="7" fill="#333">11</text>
<text x="180.8" y="358" text-anchor="middle" font-size="7" fill="#333">12</text>
<text x="201.3" y="358" text-anchor="middle" font-size="7" fill="#333">13</text>
<text x="219.6" y="358" text-anchor="middle" font-size="7" fill="#333">14</text>
<text x="236" y="358" text-anchor="middle" font-size="7" fill="#333">15</text>
<text x="251" y="358" text-anchor="middle" font-size="7" fill="#333">16</text>
<text x="265" y="358" text-anchor="middle" font-size="7" fill="#333">17</text>
<text x="278.5" y="358" text-anchor="middle" font-size="7" fill="#333">18</text>
<text x="289.2" y="358" text-anchor="middle" font-size="7" fill="#333">19</text>
<text x="299" y="358" text-anchor="middle" font-size="7" fill="#333">20</text>
<text x="308" y="358" text-anchor="middle" font-size="7" fill="#333">21</text>
<text x="316.5" y="358" text-anchor="middle" font-size="7" fill="#333">22</text>
<text x="333" y="358" text-anchor="middle" font-size="7" fill="#333">X</text>
<text x="350.8" y="358" text-anchor="middle" font-size="7" fill="#333">Y</text>
<text x="181" y="368.2" text-anchor="middle" font-size="7.5" fill="#222">Chromosome number</text>
<text transform="translate(7.2 178.3) rotate(-90)" text-anchor="middle" font-size="7.5" fill="#222">Log2 ratio</text>
<text x="439.8" y="7.8" text-anchor="middle" font-size="9.1" fill="#222">XpYp</text>
<text x="439.8" y="19.1" text-anchor="middle" font-size="9.1" fill="#222">telomere</text>
<text x="367.2" y="37.8" text-anchor="middle" font-size="7.5" fill="#222">Id</text>
<text x="390.2" y="37.8" text-anchor="middle" font-size="7.5" fill="#222">Binet</text>
<text x="390.2" y="46.8" text-anchor="middle" font-size="7.5" fill="#222">stage</text>
<text x="420.2" y="37.8" text-anchor="middle" font-size="7.5" fill="#222">Mean</text>
<text x="420.2" y="46.8" text-anchor="middle" font-size="7.5" fill="#222">± SD (kb)</text>
<text x="456.5" y="37.8" text-anchor="middle" font-size="7.5" fill="#222">Lower</text>
<text x="456.5" y="46.8" text-anchor="middle" font-size="7.5" fill="#222">20th% (kb)</text>
<text x="499.1" y="37.8" text-anchor="middle" font-size="7.5" fill="#222">Telomere</text>
<text x="499.1" y="46.8" text-anchor="middle" font-size="7.5" fill="#222">dysfunction?</text>
<text x="367.2" y="67.7" text-anchor="middle" font-size="7.5" fill="#222">#36</text>
<text x="390.2" y="67.7" text-anchor="middle" font-size="7.5" fill="#222">C</text>
<text x="420.2" y="67.7" text-anchor="middle" font-size="7.5" fill="#222">1.378</text>
<text x="456.5" y="67.7" text-anchor="middle" font-size="7.5" fill="#222">0.445</text>
<text x="499.1" y="67.7" text-anchor="middle" font-size="7.5" fill="#222">Yes</text>
<text x="420.2" y="76.7" text-anchor="middle" font-size="7.5" fill="#222">±1.30</text>
<text x="367.2" y="135.9" text-anchor="middle" font-size="7.5" fill="#222">#35</text>
<text x="390.2" y="135.9" text-anchor="middle" font-size="7.5" fill="#222">C</text>
<text x="420.2" y="135.9" text-anchor="middle" font-size="7.5" fill="#222">1.522</text>
<text x="456.5" y="135.9" text-anchor="middle" font-size="7.5" fill="#222">0.994</text>
<text x="499.1" y="135.9" text-anchor="middle" font-size="7.5" fill="#222">Yes</text>
<text x="420.2" y="144.9" text-anchor="middle" font-size="7.5" fill="#222">±0.64</text>
<text x="367.2" y="212.1" text-anchor="middle" font-size="7.5" fill="#222">#21</text>
<text x="390.2" y="212.1" text-anchor="middle" font-size="7.5" fill="#222">A</text>
<text x="420.2" y="212.1" text-anchor="middle" font-size="7.5" fill="#222">1.955</text>
<text x="456.5" y="212.1" text-anchor="middle" font-size="7.5" fill="#222">0.480</text>
<text x="499.1" y="212.1" text-anchor="middle" font-size="7.5" fill="#222">Yes</text>
<text x="420.2" y="221.1" text-anchor="middle" font-size="7.5" fill="#222">±2.13</text>
<text x="367.2" y="297.6" text-anchor="middle" font-size="7.5" fill="#222">#17</text>
<text x="390.2" y="297.6" text-anchor="middle" font-size="7.5" fill="#222">A</text>
<text x="420.2" y="297.6" text-anchor="middle" font-size="7.5" fill="#222">4.716</text>
<text x="456.5" y="297.6" text-anchor="middle" font-size="7.5" fill="#222">3.467</text>
<text x="499.1" y="297.6" text-anchor="middle" font-size="7.5" fill="#222">No</text>
<text x="420.2" y="306.6" text-anchor="middle" font-size="7.5" fill="#222">±1.70</text>
</svg></body></html>
